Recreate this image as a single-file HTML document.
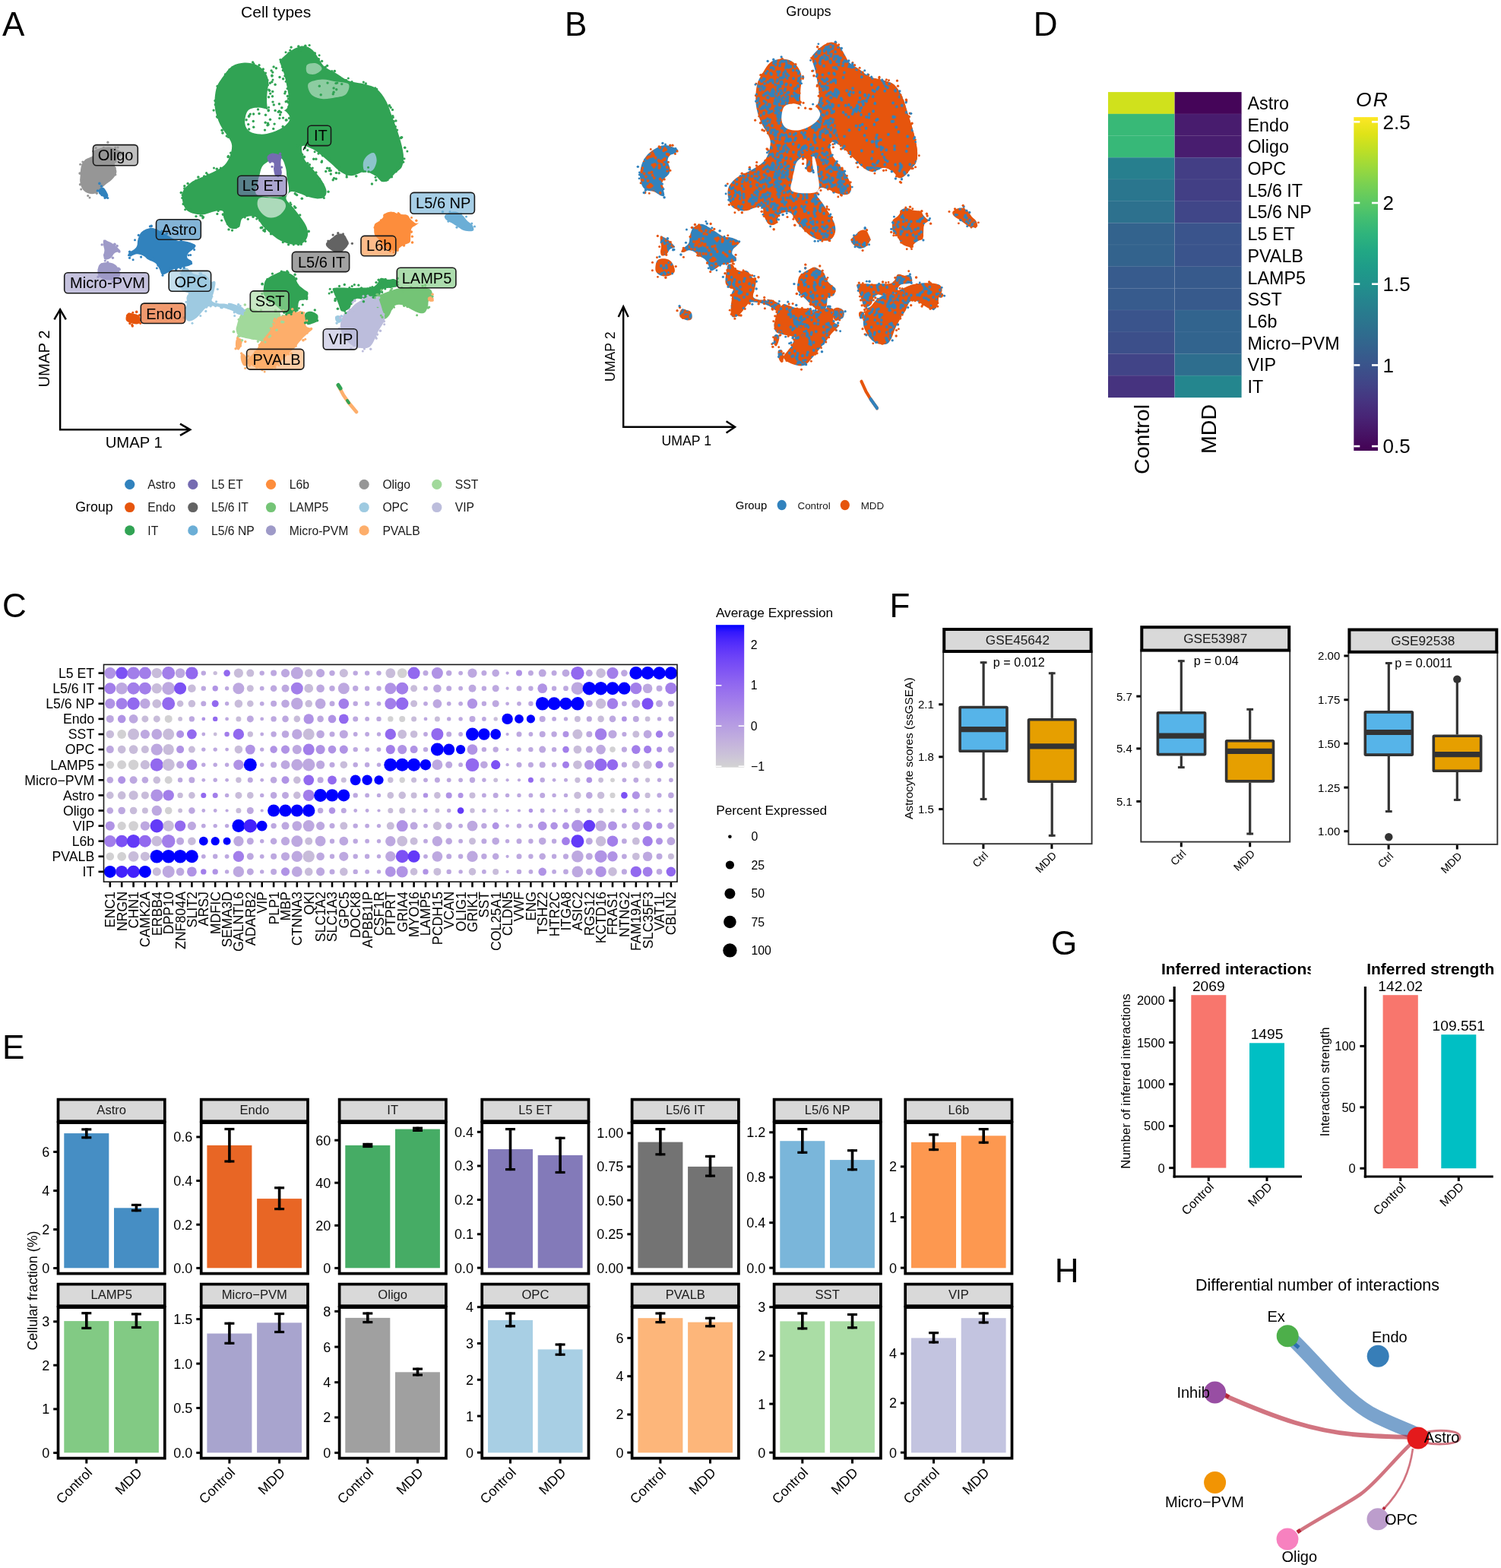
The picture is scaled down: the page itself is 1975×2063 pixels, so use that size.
<!DOCTYPE html>
<html><head><meta charset="utf-8"><style>
html,body{margin:0;padding:0;background:#fff;}
svg{display:block;font-family:"Liberation Sans",Arial,sans-serif;}
</style></head><body>
<svg xmlns="http://www.w3.org/2000/svg" width="1975" height="2063" viewBox="0 0 1975 2063">
<rect width="1975" height="2063" fill="#fff"/>
<text x="2.9" y="46.7" font-size="44">A</text>
<text x="743" y="46.6" font-size="44">B</text>
<text x="1359.8" y="46.7" font-size="44">D</text>
<text x="3" y="812.2" font-size="44">C</text>
<text x="3" y="1392.6" font-size="44">E</text>
<text x="1170.5" y="811.8" font-size="44">F</text>
<text x="1383" y="1255.5" font-size="44">G</text>
<text x="1387.8" y="1687" font-size="44">H</text>
<rect x="76.5" y="1446.6" width="140.3" height="28.6" fill="#d9d9d9" stroke="#000" stroke-width="3.7"/>
<text x="146.7" y="1465.7" font-size="16.6" text-anchor="middle" fill="#1a1a1a">Astro</text>
<rect x="76.5" y="1477.1" width="140.3" height="198.5" fill="#fff" stroke="#000" stroke-width="3.7"/>
<rect x="84.3" y="1491.1" width="59" height="177.2" fill="#468ec4"/>
<line x1="113.8" y1="1484.4" x2="113.8" y2="1498.2" stroke="#000" stroke-width="3.6"/>
<line x1="107.3" y1="1485.9" x2="120.3" y2="1485.9" stroke="#000" stroke-width="3.2"/>
<line x1="107.3" y1="1496.7" x2="120.3" y2="1496.7" stroke="#000" stroke-width="3.2"/>
<rect x="150" y="1589.3" width="58.9" height="79" fill="#468ec4"/>
<line x1="179.4" y1="1583.9" x2="179.4" y2="1594.2" stroke="#000" stroke-width="3.6"/>
<line x1="172.9" y1="1585.4" x2="185.9" y2="1585.4" stroke="#000" stroke-width="3.2"/>
<line x1="172.9" y1="1592.7" x2="185.9" y2="1592.7" stroke="#000" stroke-width="3.2"/>
<line x1="70.2" y1="1668.5" x2="75.2" y2="1668.5" stroke="#000" stroke-width="3"/>
<text x="65.3" y="1674.9" font-size="18" text-anchor="end">0</text>
<line x1="70.2" y1="1617.6" x2="75.2" y2="1617.6" stroke="#000" stroke-width="3"/>
<text x="65.3" y="1624" font-size="18" text-anchor="end">2</text>
<line x1="70.2" y1="1566.6" x2="75.2" y2="1566.6" stroke="#000" stroke-width="3"/>
<text x="65.3" y="1573" font-size="18" text-anchor="end">4</text>
<line x1="70.2" y1="1515.5" x2="75.2" y2="1515.5" stroke="#000" stroke-width="3"/>
<text x="65.3" y="1521.9" font-size="18" text-anchor="end">6</text>
<rect x="264.7" y="1446.6" width="140.3" height="28.6" fill="#d9d9d9" stroke="#000" stroke-width="3.7"/>
<text x="334.8" y="1465.7" font-size="16.6" text-anchor="middle" fill="#1a1a1a">Endo</text>
<rect x="264.7" y="1477.1" width="140.3" height="198.5" fill="#fff" stroke="#000" stroke-width="3.7"/>
<rect x="272.4" y="1506.9" width="59" height="161.4" fill="#e86625"/>
<line x1="301.9" y1="1484" x2="301.9" y2="1529.5" stroke="#000" stroke-width="3.6"/>
<line x1="295.4" y1="1485.5" x2="308.4" y2="1485.5" stroke="#000" stroke-width="3.2"/>
<line x1="295.4" y1="1528" x2="308.4" y2="1528" stroke="#000" stroke-width="3.2"/>
<rect x="338.1" y="1577.1" width="58.9" height="91.2" fill="#e86625"/>
<line x1="367.6" y1="1561.3" x2="367.6" y2="1592.1" stroke="#000" stroke-width="3.6"/>
<line x1="361.1" y1="1562.8" x2="374.1" y2="1562.8" stroke="#000" stroke-width="3.2"/>
<line x1="361.1" y1="1590.6" x2="374.1" y2="1590.6" stroke="#000" stroke-width="3.2"/>
<line x1="258.3" y1="1668.4" x2="263.3" y2="1668.4" stroke="#000" stroke-width="3"/>
<text x="253.4" y="1674.8" font-size="18" text-anchor="end">0.0</text>
<line x1="258.3" y1="1611.2" x2="263.3" y2="1611.2" stroke="#000" stroke-width="3"/>
<text x="253.4" y="1617.6" font-size="18" text-anchor="end">0.2</text>
<line x1="258.3" y1="1553.5" x2="263.3" y2="1553.5" stroke="#000" stroke-width="3"/>
<text x="253.4" y="1559.9" font-size="18" text-anchor="end">0.4</text>
<line x1="258.3" y1="1495.9" x2="263.3" y2="1495.9" stroke="#000" stroke-width="3"/>
<text x="253.4" y="1502.3" font-size="18" text-anchor="end">0.6</text>
<rect x="446.6" y="1446.6" width="140.3" height="28.6" fill="#d9d9d9" stroke="#000" stroke-width="3.7"/>
<text x="516.7" y="1465.7" font-size="16.6" text-anchor="middle" fill="#1a1a1a">IT</text>
<rect x="446.6" y="1477.1" width="140.3" height="198.5" fill="#fff" stroke="#000" stroke-width="3.7"/>
<rect x="454.3" y="1506.9" width="59" height="161.4" fill="#46ac65"/>
<line x1="483.8" y1="1503.9" x2="483.8" y2="1510" stroke="#000" stroke-width="3.6"/>
<line x1="477.3" y1="1505.4" x2="490.3" y2="1505.4" stroke="#000" stroke-width="3.2"/>
<line x1="477.3" y1="1508.5" x2="490.3" y2="1508.5" stroke="#000" stroke-width="3.2"/>
<rect x="520" y="1485.6" width="58.9" height="182.7" fill="#46ac65"/>
<line x1="549.5" y1="1482.7" x2="549.5" y2="1488.9" stroke="#000" stroke-width="3.6"/>
<line x1="543" y1="1484.2" x2="556" y2="1484.2" stroke="#000" stroke-width="3.2"/>
<line x1="543" y1="1487.4" x2="556" y2="1487.4" stroke="#000" stroke-width="3.2"/>
<line x1="440.2" y1="1668.4" x2="445.2" y2="1668.4" stroke="#000" stroke-width="3"/>
<text x="435.3" y="1674.8" font-size="18" text-anchor="end">0</text>
<line x1="440.2" y1="1612.3" x2="445.2" y2="1612.3" stroke="#000" stroke-width="3"/>
<text x="435.3" y="1618.7" font-size="18" text-anchor="end">20</text>
<line x1="440.2" y1="1556.2" x2="445.2" y2="1556.2" stroke="#000" stroke-width="3"/>
<text x="435.3" y="1562.6" font-size="18" text-anchor="end">40</text>
<line x1="440.2" y1="1500.2" x2="445.2" y2="1500.2" stroke="#000" stroke-width="3"/>
<text x="435.3" y="1506.6" font-size="18" text-anchor="end">60</text>
<rect x="634.2" y="1446.6" width="140.3" height="28.6" fill="#d9d9d9" stroke="#000" stroke-width="3.7"/>
<text x="704.4" y="1465.7" font-size="16.6" text-anchor="middle" fill="#1a1a1a">L5 ET</text>
<rect x="634.2" y="1477.1" width="140.3" height="198.5" fill="#fff" stroke="#000" stroke-width="3.7"/>
<rect x="642" y="1512" width="59" height="156.3" fill="#837ab9"/>
<line x1="671.5" y1="1484.1" x2="671.5" y2="1540.1" stroke="#000" stroke-width="3.6"/>
<line x1="665" y1="1485.6" x2="678" y2="1485.6" stroke="#000" stroke-width="3.2"/>
<line x1="665" y1="1538.6" x2="678" y2="1538.6" stroke="#000" stroke-width="3.2"/>
<rect x="707.7" y="1519.9" width="58.9" height="148.4" fill="#837ab9"/>
<line x1="737.1" y1="1495.8" x2="737.1" y2="1544" stroke="#000" stroke-width="3.6"/>
<line x1="730.6" y1="1497.3" x2="743.6" y2="1497.3" stroke="#000" stroke-width="3.2"/>
<line x1="730.6" y1="1542.5" x2="743.6" y2="1542.5" stroke="#000" stroke-width="3.2"/>
<line x1="627.9" y1="1668.1" x2="632.9" y2="1668.1" stroke="#000" stroke-width="3"/>
<text x="623" y="1674.5" font-size="18" text-anchor="end">0.0</text>
<line x1="627.9" y1="1623.8" x2="632.9" y2="1623.8" stroke="#000" stroke-width="3"/>
<text x="623" y="1630.2" font-size="18" text-anchor="end">0.1</text>
<line x1="627.9" y1="1578.5" x2="632.9" y2="1578.5" stroke="#000" stroke-width="3"/>
<text x="623" y="1584.9" font-size="18" text-anchor="end">0.2</text>
<line x1="627.9" y1="1534" x2="632.9" y2="1534" stroke="#000" stroke-width="3"/>
<text x="623" y="1540.4" font-size="18" text-anchor="end">0.3</text>
<line x1="627.9" y1="1489.3" x2="632.9" y2="1489.3" stroke="#000" stroke-width="3"/>
<text x="623" y="1495.7" font-size="18" text-anchor="end">0.4</text>
<rect x="831.6" y="1446.6" width="140.3" height="28.6" fill="#d9d9d9" stroke="#000" stroke-width="3.7"/>
<text x="901.8" y="1465.7" font-size="16.6" text-anchor="middle" fill="#1a1a1a">L5/6 IT</text>
<rect x="831.6" y="1477.1" width="140.3" height="198.5" fill="#fff" stroke="#000" stroke-width="3.7"/>
<rect x="839.4" y="1502.6" width="59" height="165.7" fill="#737373"/>
<line x1="868.9" y1="1484.1" x2="868.9" y2="1520.3" stroke="#000" stroke-width="3.6"/>
<line x1="862.4" y1="1485.6" x2="875.4" y2="1485.6" stroke="#000" stroke-width="3.2"/>
<line x1="862.4" y1="1518.8" x2="875.4" y2="1518.8" stroke="#000" stroke-width="3.2"/>
<rect x="905.1" y="1534.9" width="58.9" height="133.4" fill="#737373"/>
<line x1="934.5" y1="1519.9" x2="934.5" y2="1548.6" stroke="#000" stroke-width="3.6"/>
<line x1="928" y1="1521.4" x2="941" y2="1521.4" stroke="#000" stroke-width="3.2"/>
<line x1="928" y1="1547.1" x2="941" y2="1547.1" stroke="#000" stroke-width="3.2"/>
<line x1="825.3" y1="1668.1" x2="830.3" y2="1668.1" stroke="#000" stroke-width="3"/>
<text x="820.4" y="1674.5" font-size="18" text-anchor="end">0.00</text>
<line x1="825.3" y1="1623.8" x2="830.3" y2="1623.8" stroke="#000" stroke-width="3"/>
<text x="820.4" y="1630.2" font-size="18" text-anchor="end">0.25</text>
<line x1="825.3" y1="1579.1" x2="830.3" y2="1579.1" stroke="#000" stroke-width="3"/>
<text x="820.4" y="1585.5" font-size="18" text-anchor="end">0.50</text>
<line x1="825.3" y1="1534.9" x2="830.3" y2="1534.9" stroke="#000" stroke-width="3"/>
<text x="820.4" y="1541.3" font-size="18" text-anchor="end">0.75</text>
<line x1="825.3" y1="1490.8" x2="830.3" y2="1490.8" stroke="#000" stroke-width="3"/>
<text x="820.4" y="1497.2" font-size="18" text-anchor="end">1.00</text>
<rect x="1018.6" y="1446.6" width="140.3" height="28.6" fill="#d9d9d9" stroke="#000" stroke-width="3.7"/>
<text x="1088.7" y="1465.7" font-size="16.6" text-anchor="middle" fill="#1a1a1a">L5/6 NP</text>
<rect x="1018.6" y="1477.1" width="140.3" height="198.5" fill="#fff" stroke="#000" stroke-width="3.7"/>
<rect x="1026.3" y="1501.2" width="59" height="167.1" fill="#7ab6da"/>
<line x1="1055.8" y1="1484.1" x2="1055.8" y2="1517.8" stroke="#000" stroke-width="3.6"/>
<line x1="1049.3" y1="1485.6" x2="1062.3" y2="1485.6" stroke="#000" stroke-width="3.2"/>
<line x1="1049.3" y1="1516.3" x2="1062.3" y2="1516.3" stroke="#000" stroke-width="3.2"/>
<rect x="1092" y="1526.1" width="58.9" height="142.2" fill="#7ab6da"/>
<line x1="1121.5" y1="1512.2" x2="1121.5" y2="1540.3" stroke="#000" stroke-width="3.6"/>
<line x1="1115" y1="1513.7" x2="1128" y2="1513.7" stroke="#000" stroke-width="3.2"/>
<line x1="1115" y1="1538.8" x2="1128" y2="1538.8" stroke="#000" stroke-width="3.2"/>
<line x1="1012.2" y1="1668.1" x2="1017.2" y2="1668.1" stroke="#000" stroke-width="3"/>
<text x="1007.3" y="1674.5" font-size="18" text-anchor="end">0.0</text>
<line x1="1012.2" y1="1608.7" x2="1017.2" y2="1608.7" stroke="#000" stroke-width="3"/>
<text x="1007.3" y="1615.1" font-size="18" text-anchor="end">0.4</text>
<line x1="1012.2" y1="1549" x2="1017.2" y2="1549" stroke="#000" stroke-width="3"/>
<text x="1007.3" y="1555.4" font-size="18" text-anchor="end">0.8</text>
<line x1="1012.2" y1="1489.8" x2="1017.2" y2="1489.8" stroke="#000" stroke-width="3"/>
<text x="1007.3" y="1496.2" font-size="18" text-anchor="end">1.2</text>
<rect x="1191.2" y="1446.6" width="140.3" height="28.6" fill="#d9d9d9" stroke="#000" stroke-width="3.7"/>
<text x="1261.4" y="1465.7" font-size="16.6" text-anchor="middle" fill="#1a1a1a">L6b</text>
<rect x="1191.2" y="1477.1" width="140.3" height="198.5" fill="#fff" stroke="#000" stroke-width="3.7"/>
<rect x="1199" y="1502.8" width="59" height="165.5" fill="#fd9850"/>
<line x1="1228.5" y1="1491.4" x2="1228.5" y2="1514.1" stroke="#000" stroke-width="3.6"/>
<line x1="1222" y1="1492.9" x2="1235" y2="1492.9" stroke="#000" stroke-width="3.2"/>
<line x1="1222" y1="1512.6" x2="1235" y2="1512.6" stroke="#000" stroke-width="3.2"/>
<rect x="1264.7" y="1494.3" width="58.9" height="174" fill="#fd9850"/>
<line x1="1294.2" y1="1484.1" x2="1294.2" y2="1504.7" stroke="#000" stroke-width="3.6"/>
<line x1="1287.7" y1="1485.6" x2="1300.7" y2="1485.6" stroke="#000" stroke-width="3.2"/>
<line x1="1287.7" y1="1503.2" x2="1300.7" y2="1503.2" stroke="#000" stroke-width="3.2"/>
<line x1="1184.9" y1="1668.1" x2="1189.9" y2="1668.1" stroke="#000" stroke-width="3"/>
<text x="1180" y="1674.5" font-size="18" text-anchor="end">0</text>
<line x1="1184.9" y1="1601.6" x2="1189.9" y2="1601.6" stroke="#000" stroke-width="3"/>
<text x="1180" y="1608" font-size="18" text-anchor="end">1</text>
<line x1="1184.9" y1="1534.9" x2="1189.9" y2="1534.9" stroke="#000" stroke-width="3"/>
<text x="1180" y="1541.3" font-size="18" text-anchor="end">2</text>
<rect x="76.5" y="1689.6" width="140.3" height="28.6" fill="#d9d9d9" stroke="#000" stroke-width="3.7"/>
<text x="146.7" y="1708.7" font-size="16.6" text-anchor="middle" fill="#1a1a1a">LAMP5</text>
<rect x="76.5" y="1720.1" width="140.3" height="198.5" fill="#fff" stroke="#000" stroke-width="3.7"/>
<rect x="84.3" y="1738.1" width="59" height="173.2" fill="#82ca84"/>
<line x1="113.8" y1="1726.2" x2="113.8" y2="1748.9" stroke="#000" stroke-width="3.6"/>
<line x1="107.3" y1="1727.7" x2="120.3" y2="1727.7" stroke="#000" stroke-width="3.2"/>
<line x1="107.3" y1="1747.4" x2="120.3" y2="1747.4" stroke="#000" stroke-width="3.2"/>
<rect x="150" y="1738.1" width="58.9" height="173.2" fill="#82ca84"/>
<line x1="179.4" y1="1727.4" x2="179.4" y2="1748" stroke="#000" stroke-width="3.6"/>
<line x1="172.9" y1="1728.9" x2="185.9" y2="1728.9" stroke="#000" stroke-width="3.2"/>
<line x1="172.9" y1="1746.5" x2="185.9" y2="1746.5" stroke="#000" stroke-width="3.2"/>
<line x1="70.2" y1="1911.5" x2="75.2" y2="1911.5" stroke="#000" stroke-width="3"/>
<text x="65.3" y="1917.9" font-size="18" text-anchor="end">0</text>
<line x1="70.2" y1="1853.9" x2="75.2" y2="1853.9" stroke="#000" stroke-width="3"/>
<text x="65.3" y="1860.3" font-size="18" text-anchor="end">1</text>
<line x1="70.2" y1="1796.2" x2="75.2" y2="1796.2" stroke="#000" stroke-width="3"/>
<text x="65.3" y="1802.6" font-size="18" text-anchor="end">2</text>
<line x1="70.2" y1="1738.8" x2="75.2" y2="1738.8" stroke="#000" stroke-width="3"/>
<text x="65.3" y="1745.2" font-size="18" text-anchor="end">3</text>
<line x1="113.8" y1="1919.5" x2="113.8" y2="1925.5" stroke="#000" stroke-width="3"/>
<text x="122.3" y="1938.5" font-size="18" text-anchor="end" transform="rotate(-45 122.3 1938.5)">Control</text>
<line x1="179.4" y1="1919.5" x2="179.4" y2="1925.5" stroke="#000" stroke-width="3"/>
<text x="187.9" y="1938.5" font-size="18" text-anchor="end" transform="rotate(-45 187.9 1938.5)">MDD</text>
<rect x="264.7" y="1689.6" width="140.3" height="28.6" fill="#d9d9d9" stroke="#000" stroke-width="3.7"/>
<text x="334.8" y="1708.7" font-size="16.6" text-anchor="middle" fill="#1a1a1a">Micro−PVM</text>
<rect x="264.7" y="1720.1" width="140.3" height="198.5" fill="#fff" stroke="#000" stroke-width="3.7"/>
<rect x="272.4" y="1754.5" width="59" height="156.8" fill="#a8a4ce"/>
<line x1="301.9" y1="1739.7" x2="301.9" y2="1768.8" stroke="#000" stroke-width="3.6"/>
<line x1="295.4" y1="1741.2" x2="308.4" y2="1741.2" stroke="#000" stroke-width="3.2"/>
<line x1="295.4" y1="1767.3" x2="308.4" y2="1767.3" stroke="#000" stroke-width="3.2"/>
<rect x="338.1" y="1740.3" width="58.9" height="171" fill="#a8a4ce"/>
<line x1="367.6" y1="1727" x2="367.6" y2="1754" stroke="#000" stroke-width="3.6"/>
<line x1="361.1" y1="1728.5" x2="374.1" y2="1728.5" stroke="#000" stroke-width="3.2"/>
<line x1="361.1" y1="1752.5" x2="374.1" y2="1752.5" stroke="#000" stroke-width="3.2"/>
<line x1="258.3" y1="1911.4" x2="263.3" y2="1911.4" stroke="#000" stroke-width="3"/>
<text x="253.4" y="1917.8" font-size="18" text-anchor="end">0.0</text>
<line x1="258.3" y1="1852.5" x2="263.3" y2="1852.5" stroke="#000" stroke-width="3"/>
<text x="253.4" y="1858.9" font-size="18" text-anchor="end">0.5</text>
<line x1="258.3" y1="1794.1" x2="263.3" y2="1794.1" stroke="#000" stroke-width="3"/>
<text x="253.4" y="1800.5" font-size="18" text-anchor="end">1.0</text>
<line x1="258.3" y1="1735.6" x2="263.3" y2="1735.6" stroke="#000" stroke-width="3"/>
<text x="253.4" y="1742" font-size="18" text-anchor="end">1.5</text>
<line x1="301.9" y1="1919.5" x2="301.9" y2="1925.5" stroke="#000" stroke-width="3"/>
<text x="310.4" y="1938.5" font-size="18" text-anchor="end" transform="rotate(-45 310.4 1938.5)">Control</text>
<line x1="367.6" y1="1919.5" x2="367.6" y2="1925.5" stroke="#000" stroke-width="3"/>
<text x="376.1" y="1938.5" font-size="18" text-anchor="end" transform="rotate(-45 376.1 1938.5)">MDD</text>
<rect x="446.6" y="1689.6" width="140.3" height="28.6" fill="#d9d9d9" stroke="#000" stroke-width="3.7"/>
<text x="516.7" y="1708.7" font-size="16.6" text-anchor="middle" fill="#1a1a1a">Oligo</text>
<rect x="446.6" y="1720.1" width="140.3" height="198.5" fill="#fff" stroke="#000" stroke-width="3.7"/>
<rect x="454.3" y="1733.9" width="59" height="177.4" fill="#a0a0a0"/>
<line x1="483.8" y1="1726.5" x2="483.8" y2="1741.1" stroke="#000" stroke-width="3.6"/>
<line x1="477.3" y1="1728" x2="490.3" y2="1728" stroke="#000" stroke-width="3.2"/>
<line x1="477.3" y1="1739.6" x2="490.3" y2="1739.6" stroke="#000" stroke-width="3.2"/>
<rect x="520" y="1805.3" width="58.9" height="106" fill="#a0a0a0"/>
<line x1="549.5" y1="1799.6" x2="549.5" y2="1810.5" stroke="#000" stroke-width="3.6"/>
<line x1="543" y1="1801.1" x2="556" y2="1801.1" stroke="#000" stroke-width="3.2"/>
<line x1="543" y1="1809" x2="556" y2="1809" stroke="#000" stroke-width="3.2"/>
<line x1="440.2" y1="1911.4" x2="445.2" y2="1911.4" stroke="#000" stroke-width="3"/>
<text x="435.3" y="1917.8" font-size="18" text-anchor="end">0</text>
<line x1="440.2" y1="1864.9" x2="445.2" y2="1864.9" stroke="#000" stroke-width="3"/>
<text x="435.3" y="1871.3" font-size="18" text-anchor="end">2</text>
<line x1="440.2" y1="1818.7" x2="445.2" y2="1818.7" stroke="#000" stroke-width="3"/>
<text x="435.3" y="1825.1" font-size="18" text-anchor="end">4</text>
<line x1="440.2" y1="1772.1" x2="445.2" y2="1772.1" stroke="#000" stroke-width="3"/>
<text x="435.3" y="1778.5" font-size="18" text-anchor="end">6</text>
<line x1="440.2" y1="1725.3" x2="445.2" y2="1725.3" stroke="#000" stroke-width="3"/>
<text x="435.3" y="1731.7" font-size="18" text-anchor="end">8</text>
<line x1="483.8" y1="1919.5" x2="483.8" y2="1925.5" stroke="#000" stroke-width="3"/>
<text x="492.3" y="1938.5" font-size="18" text-anchor="end" transform="rotate(-45 492.3 1938.5)">Control</text>
<line x1="549.5" y1="1919.5" x2="549.5" y2="1925.5" stroke="#000" stroke-width="3"/>
<text x="558" y="1938.5" font-size="18" text-anchor="end" transform="rotate(-45 558 1938.5)">MDD</text>
<rect x="634.2" y="1689.6" width="140.3" height="28.6" fill="#d9d9d9" stroke="#000" stroke-width="3.7"/>
<text x="704.4" y="1708.7" font-size="16.6" text-anchor="middle" fill="#1a1a1a">OPC</text>
<rect x="634.2" y="1720.1" width="140.3" height="198.5" fill="#fff" stroke="#000" stroke-width="3.7"/>
<rect x="642" y="1736.9" width="59" height="174.4" fill="#a8cfe4"/>
<line x1="671.5" y1="1726.5" x2="671.5" y2="1746.3" stroke="#000" stroke-width="3.6"/>
<line x1="665" y1="1728" x2="678" y2="1728" stroke="#000" stroke-width="3.2"/>
<line x1="665" y1="1744.8" x2="678" y2="1744.8" stroke="#000" stroke-width="3.2"/>
<rect x="707.7" y="1775.4" width="58.9" height="135.9" fill="#a8cfe4"/>
<line x1="737.1" y1="1767.5" x2="737.1" y2="1783.7" stroke="#000" stroke-width="3.6"/>
<line x1="730.6" y1="1769" x2="743.6" y2="1769" stroke="#000" stroke-width="3.2"/>
<line x1="730.6" y1="1782.2" x2="743.6" y2="1782.2" stroke="#000" stroke-width="3.2"/>
<line x1="627.9" y1="1911.1" x2="632.9" y2="1911.1" stroke="#000" stroke-width="3"/>
<text x="623" y="1917.5" font-size="18" text-anchor="end">0</text>
<line x1="627.9" y1="1863.1" x2="632.9" y2="1863.1" stroke="#000" stroke-width="3"/>
<text x="623" y="1869.5" font-size="18" text-anchor="end">1</text>
<line x1="627.9" y1="1815.3" x2="632.9" y2="1815.3" stroke="#000" stroke-width="3"/>
<text x="623" y="1821.7" font-size="18" text-anchor="end">2</text>
<line x1="627.9" y1="1767.5" x2="632.9" y2="1767.5" stroke="#000" stroke-width="3"/>
<text x="623" y="1773.9" font-size="18" text-anchor="end">3</text>
<line x1="627.9" y1="1719.7" x2="632.9" y2="1719.7" stroke="#000" stroke-width="3"/>
<text x="623" y="1726.1" font-size="18" text-anchor="end">4</text>
<line x1="671.5" y1="1919.5" x2="671.5" y2="1925.5" stroke="#000" stroke-width="3"/>
<text x="680" y="1938.5" font-size="18" text-anchor="end" transform="rotate(-45 680 1938.5)">Control</text>
<line x1="737.1" y1="1919.5" x2="737.1" y2="1925.5" stroke="#000" stroke-width="3"/>
<text x="745.6" y="1938.5" font-size="18" text-anchor="end" transform="rotate(-45 745.6 1938.5)">MDD</text>
<rect x="831.6" y="1689.6" width="140.3" height="28.6" fill="#d9d9d9" stroke="#000" stroke-width="3.7"/>
<text x="901.8" y="1708.7" font-size="16.6" text-anchor="middle" fill="#1a1a1a">PVALB</text>
<rect x="831.6" y="1720.1" width="140.3" height="198.5" fill="#fff" stroke="#000" stroke-width="3.7"/>
<rect x="839.4" y="1734.2" width="59" height="177.1" fill="#fdb67a"/>
<line x1="868.9" y1="1726.5" x2="868.9" y2="1741.1" stroke="#000" stroke-width="3.6"/>
<line x1="862.4" y1="1728" x2="875.4" y2="1728" stroke="#000" stroke-width="3.2"/>
<line x1="862.4" y1="1739.6" x2="875.4" y2="1739.6" stroke="#000" stroke-width="3.2"/>
<rect x="905.1" y="1739.6" width="58.9" height="171.7" fill="#fdb67a"/>
<line x1="934.5" y1="1732.8" x2="934.5" y2="1746.3" stroke="#000" stroke-width="3.6"/>
<line x1="928" y1="1734.3" x2="941" y2="1734.3" stroke="#000" stroke-width="3.2"/>
<line x1="928" y1="1744.8" x2="941" y2="1744.8" stroke="#000" stroke-width="3.2"/>
<line x1="825.3" y1="1911.1" x2="830.3" y2="1911.1" stroke="#000" stroke-width="3"/>
<text x="820.4" y="1917.5" font-size="18" text-anchor="end">0</text>
<line x1="825.3" y1="1861" x2="830.3" y2="1861" stroke="#000" stroke-width="3"/>
<text x="820.4" y="1867.4" font-size="18" text-anchor="end">2</text>
<line x1="825.3" y1="1810.7" x2="830.3" y2="1810.7" stroke="#000" stroke-width="3"/>
<text x="820.4" y="1817.1" font-size="18" text-anchor="end">4</text>
<line x1="825.3" y1="1760.4" x2="830.3" y2="1760.4" stroke="#000" stroke-width="3"/>
<text x="820.4" y="1766.8" font-size="18" text-anchor="end">6</text>
<line x1="868.9" y1="1919.5" x2="868.9" y2="1925.5" stroke="#000" stroke-width="3"/>
<text x="877.4" y="1938.5" font-size="18" text-anchor="end" transform="rotate(-45 877.4 1938.5)">Control</text>
<line x1="934.5" y1="1919.5" x2="934.5" y2="1925.5" stroke="#000" stroke-width="3"/>
<text x="943" y="1938.5" font-size="18" text-anchor="end" transform="rotate(-45 943 1938.5)">MDD</text>
<rect x="1018.6" y="1689.6" width="140.3" height="28.6" fill="#d9d9d9" stroke="#000" stroke-width="3.7"/>
<text x="1088.7" y="1708.7" font-size="16.6" text-anchor="middle" fill="#1a1a1a">SST</text>
<rect x="1018.6" y="1720.1" width="140.3" height="198.5" fill="#fff" stroke="#000" stroke-width="3.7"/>
<rect x="1026.3" y="1738.4" width="59" height="172.9" fill="#aadda5"/>
<line x1="1055.8" y1="1726.5" x2="1055.8" y2="1749.4" stroke="#000" stroke-width="3.6"/>
<line x1="1049.3" y1="1728" x2="1062.3" y2="1728" stroke="#000" stroke-width="3.2"/>
<line x1="1049.3" y1="1747.9" x2="1062.3" y2="1747.9" stroke="#000" stroke-width="3.2"/>
<rect x="1092" y="1738.4" width="58.9" height="172.9" fill="#aadda5"/>
<line x1="1121.5" y1="1728" x2="1121.5" y2="1748.3" stroke="#000" stroke-width="3.6"/>
<line x1="1115" y1="1729.5" x2="1128" y2="1729.5" stroke="#000" stroke-width="3.2"/>
<line x1="1115" y1="1746.8" x2="1128" y2="1746.8" stroke="#000" stroke-width="3.2"/>
<line x1="1012.2" y1="1911.1" x2="1017.2" y2="1911.1" stroke="#000" stroke-width="3"/>
<text x="1007.3" y="1917.5" font-size="18" text-anchor="end">0</text>
<line x1="1012.2" y1="1847.1" x2="1017.2" y2="1847.1" stroke="#000" stroke-width="3"/>
<text x="1007.3" y="1853.5" font-size="18" text-anchor="end">1</text>
<line x1="1012.2" y1="1783.7" x2="1017.2" y2="1783.7" stroke="#000" stroke-width="3"/>
<text x="1007.3" y="1790.1" font-size="18" text-anchor="end">2</text>
<line x1="1012.2" y1="1719.7" x2="1017.2" y2="1719.7" stroke="#000" stroke-width="3"/>
<text x="1007.3" y="1726.1" font-size="18" text-anchor="end">3</text>
<line x1="1055.8" y1="1919.5" x2="1055.8" y2="1925.5" stroke="#000" stroke-width="3"/>
<text x="1064.3" y="1938.5" font-size="18" text-anchor="end" transform="rotate(-45 1064.3 1938.5)">Control</text>
<line x1="1121.5" y1="1919.5" x2="1121.5" y2="1925.5" stroke="#000" stroke-width="3"/>
<text x="1130" y="1938.5" font-size="18" text-anchor="end" transform="rotate(-45 1130 1938.5)">MDD</text>
<rect x="1191.2" y="1689.6" width="140.3" height="28.6" fill="#d9d9d9" stroke="#000" stroke-width="3.7"/>
<text x="1261.4" y="1708.7" font-size="16.6" text-anchor="middle" fill="#1a1a1a">VIP</text>
<rect x="1191.2" y="1720.1" width="140.3" height="198.5" fill="#fff" stroke="#000" stroke-width="3.7"/>
<rect x="1199" y="1760.4" width="59" height="150.9" fill="#c3c4e0"/>
<line x1="1228.5" y1="1752.1" x2="1228.5" y2="1767.5" stroke="#000" stroke-width="3.6"/>
<line x1="1222" y1="1753.6" x2="1235" y2="1753.6" stroke="#000" stroke-width="3.2"/>
<line x1="1222" y1="1766" x2="1235" y2="1766" stroke="#000" stroke-width="3.2"/>
<rect x="1264.7" y="1734.2" width="58.9" height="177.1" fill="#c3c4e0"/>
<line x1="1294.2" y1="1726.5" x2="1294.2" y2="1741.5" stroke="#000" stroke-width="3.6"/>
<line x1="1287.7" y1="1728" x2="1300.7" y2="1728" stroke="#000" stroke-width="3.2"/>
<line x1="1287.7" y1="1740" x2="1300.7" y2="1740" stroke="#000" stroke-width="3.2"/>
<line x1="1184.9" y1="1911.1" x2="1189.9" y2="1911.1" stroke="#000" stroke-width="3"/>
<text x="1180" y="1917.5" font-size="18" text-anchor="end">0</text>
<line x1="1184.9" y1="1846" x2="1189.9" y2="1846" stroke="#000" stroke-width="3"/>
<text x="1180" y="1852.4" font-size="18" text-anchor="end">2</text>
<line x1="1184.9" y1="1781" x2="1189.9" y2="1781" stroke="#000" stroke-width="3"/>
<text x="1180" y="1787.4" font-size="18" text-anchor="end">4</text>
<line x1="1228.5" y1="1919.5" x2="1228.5" y2="1925.5" stroke="#000" stroke-width="3"/>
<text x="1237" y="1938.5" font-size="18" text-anchor="end" transform="rotate(-45 1237 1938.5)">Control</text>
<line x1="1294.2" y1="1919.5" x2="1294.2" y2="1925.5" stroke="#000" stroke-width="3"/>
<text x="1302.7" y="1938.5" font-size="18" text-anchor="end" transform="rotate(-45 1302.7 1938.5)">MDD</text>
<text x="49" y="1698" font-size="17.9" text-anchor="middle" transform="rotate(-90 49 1698)">Cellular fraction (%)</text>
<rect x="1241.2" y="856.5" width="195.4" height="253.7" fill="#fff" stroke="#333333" stroke-width="1.9"/>
<rect x="1242.2" y="828" width="193.4" height="29" fill="#d9d9d9" stroke="#000" stroke-width="4"/>
<text x="1338.9" y="848.1" font-size="17.2" text-anchor="middle" fill="#1a1a1a">GSE45642</text>
<line x1="1294.1" y1="870.4" x2="1294.1" y2="928.7" stroke="#333333" stroke-width="3.2"/>
<line x1="1294.1" y1="990" x2="1294.1" y2="1052.7" stroke="#333333" stroke-width="3.2"/>
<line x1="1289.7" y1="871.7" x2="1298.5" y2="871.7" stroke="#333333" stroke-width="3"/>
<line x1="1289.7" y1="1051.4" x2="1298.5" y2="1051.4" stroke="#333333" stroke-width="3"/>
<rect x="1263.1" y="930.5" width="61.9" height="57.7" fill="#56b4e9" stroke="#333333" stroke-width="3.6" rx="0.8"/>
<line x1="1263.1" y1="959.6" x2="1325" y2="959.6" stroke="#333333" stroke-width="7.2"/>
<line x1="1384.2" y1="884.5" x2="1384.2" y2="944.9" stroke="#333333" stroke-width="3.2"/>
<line x1="1384.2" y1="1030.1" x2="1384.2" y2="1100.6" stroke="#333333" stroke-width="3.2"/>
<line x1="1379.8" y1="885.8" x2="1388.6" y2="885.8" stroke="#333333" stroke-width="3"/>
<line x1="1379.8" y1="1099.3" x2="1388.6" y2="1099.3" stroke="#333333" stroke-width="3"/>
<rect x="1353.5" y="946.7" width="61.5" height="81.6" fill="#e69f00" stroke="#333333" stroke-width="3.6" rx="0.8"/>
<line x1="1353.5" y1="981.8" x2="1415" y2="981.8" stroke="#333333" stroke-width="7.2"/>
<line x1="1235.2" y1="926.8" x2="1240.7" y2="926.8" stroke="#000" stroke-width="3"/>
<text x="1228.9" y="932.2" font-size="15" text-anchor="end">2.1</text>
<line x1="1235.2" y1="995.8" x2="1240.7" y2="995.8" stroke="#000" stroke-width="3"/>
<text x="1228.9" y="1001.2" font-size="15" text-anchor="end">1.8</text>
<line x1="1235.2" y1="1064.6" x2="1240.7" y2="1064.6" stroke="#000" stroke-width="3"/>
<text x="1228.9" y="1070" font-size="15" text-anchor="end">1.5</text>
<line x1="1293.9" y1="1111" x2="1293.9" y2="1116.8" stroke="#000" stroke-width="3"/>
<text x="1301.1" y="1126.5" font-size="14.2" text-anchor="end" transform="rotate(-45 1301.1 1126.5)">Ctrl</text>
<line x1="1383.9" y1="1111" x2="1383.9" y2="1116.8" stroke="#000" stroke-width="3"/>
<text x="1391.1" y="1126.5" font-size="14.2" text-anchor="end" transform="rotate(-45 1391.1 1126.5)">MDD</text>
<text x="1306.7" y="876.9" font-size="16.2">p = 0.012</text>
<rect x="1501.3" y="855.1" width="195.9" height="252.5" fill="#fff" stroke="#333333" stroke-width="1.9"/>
<rect x="1502.3" y="825.2" width="193.9" height="30.4" fill="#d9d9d9" stroke="#000" stroke-width="4"/>
<text x="1599.2" y="845.6" font-size="17.2" text-anchor="middle" fill="#1a1a1a">GSE53987</text>
<line x1="1554.3" y1="868.4" x2="1554.3" y2="935.9" stroke="#333333" stroke-width="3.2"/>
<line x1="1554.3" y1="994.4" x2="1554.3" y2="1010.9" stroke="#333333" stroke-width="3.2"/>
<line x1="1549.9" y1="869.7" x2="1558.7" y2="869.7" stroke="#333333" stroke-width="3"/>
<line x1="1549.9" y1="1009.6" x2="1558.7" y2="1009.6" stroke="#333333" stroke-width="3"/>
<rect x="1523.4" y="937.7" width="62.2" height="54.9" fill="#56b4e9" stroke="#333333" stroke-width="3.6" rx="0.8"/>
<line x1="1523.4" y1="968.2" x2="1585.6" y2="968.2" stroke="#333333" stroke-width="7.2"/>
<line x1="1644.7" y1="932" x2="1644.7" y2="972.9" stroke="#333333" stroke-width="3.2"/>
<line x1="1644.7" y1="1029.7" x2="1644.7" y2="1098.3" stroke="#333333" stroke-width="3.2"/>
<line x1="1640.3" y1="933.3" x2="1649.1" y2="933.3" stroke="#333333" stroke-width="3"/>
<line x1="1640.3" y1="1097" x2="1649.1" y2="1097" stroke="#333333" stroke-width="3"/>
<rect x="1613.6" y="974.7" width="61.9" height="53.2" fill="#e69f00" stroke="#333333" stroke-width="3.6" rx="0.8"/>
<line x1="1613.6" y1="988.3" x2="1675.5" y2="988.3" stroke="#333333" stroke-width="7.2"/>
<line x1="1495.3" y1="916.1" x2="1500.8" y2="916.1" stroke="#000" stroke-width="3"/>
<text x="1489.9" y="921.5" font-size="15" text-anchor="end">5.7</text>
<line x1="1495.3" y1="984.9" x2="1500.8" y2="984.9" stroke="#000" stroke-width="3"/>
<text x="1489.9" y="990.3" font-size="15" text-anchor="end">5.4</text>
<line x1="1495.3" y1="1054.4" x2="1500.8" y2="1054.4" stroke="#000" stroke-width="3"/>
<text x="1489.9" y="1059.8" font-size="15" text-anchor="end">5.1</text>
<line x1="1554.3" y1="1108.5" x2="1554.3" y2="1114.3" stroke="#000" stroke-width="3"/>
<text x="1561.5" y="1124" font-size="14.2" text-anchor="end" transform="rotate(-45 1561.5 1124)">Ctrl</text>
<line x1="1644.7" y1="1108.5" x2="1644.7" y2="1114.3" stroke="#000" stroke-width="3"/>
<text x="1651.9" y="1124" font-size="14.2" text-anchor="end" transform="rotate(-45 1651.9 1124)">MDD</text>
<text x="1570.8" y="874.7" font-size="16.2">p = 0.04</text>
<rect x="1774.4" y="857.3" width="195.9" height="253.6" fill="#fff" stroke="#333333" stroke-width="1.9"/>
<rect x="1775.4" y="828.5" width="193.9" height="29.3" fill="#d9d9d9" stroke="#000" stroke-width="4"/>
<text x="1872.3" y="848.8" font-size="17.2" text-anchor="middle" fill="#1a1a1a">GSE92538</text>
<line x1="1827.3" y1="871.2" x2="1827.3" y2="935.1" stroke="#333333" stroke-width="3.2"/>
<line x1="1827.3" y1="994.9" x2="1827.3" y2="1068.9" stroke="#333333" stroke-width="3.2"/>
<line x1="1822.9" y1="872.5" x2="1831.7" y2="872.5" stroke="#333333" stroke-width="3"/>
<line x1="1822.9" y1="1067.6" x2="1831.7" y2="1067.6" stroke="#333333" stroke-width="3"/>
<rect x="1796.3" y="936.9" width="62.1" height="56.2" fill="#56b4e9" stroke="#333333" stroke-width="3.6" rx="0.8"/>
<line x1="1796.3" y1="963.5" x2="1858.4" y2="963.5" stroke="#333333" stroke-width="7.2"/>
<circle cx="1827.3" cy="1101.3" r="5.2" fill="#333333"/>
<line x1="1917.3" y1="894.5" x2="1917.3" y2="966.5" stroke="#333333" stroke-width="3.2"/>
<line x1="1917.3" y1="1016" x2="1917.3" y2="1053.7" stroke="#333333" stroke-width="3.2"/>
<line x1="1912.9" y1="895.8" x2="1921.7" y2="895.8" stroke="#333333" stroke-width="3"/>
<line x1="1912.9" y1="1052.4" x2="1921.7" y2="1052.4" stroke="#333333" stroke-width="3"/>
<rect x="1886.3" y="968.3" width="62.3" height="45.9" fill="#e69f00" stroke="#333333" stroke-width="3.6" rx="0.8"/>
<line x1="1886.3" y1="992.6" x2="1948.6" y2="992.6" stroke="#333333" stroke-width="7.2"/>
<circle cx="1917.3" cy="893.6" r="5.2" fill="#333333"/>
<line x1="1768.4" y1="862.9" x2="1773.9" y2="862.9" stroke="#000" stroke-width="3"/>
<text x="1763.3" y="868.3" font-size="15" text-anchor="end">2.00</text>
<line x1="1768.4" y1="920.7" x2="1773.9" y2="920.7" stroke="#000" stroke-width="3"/>
<text x="1763.3" y="926.1" font-size="15" text-anchor="end">1.75</text>
<line x1="1768.4" y1="978.3" x2="1773.9" y2="978.3" stroke="#000" stroke-width="3"/>
<text x="1763.3" y="983.7" font-size="15" text-anchor="end">1.50</text>
<line x1="1768.4" y1="1036.1" x2="1773.9" y2="1036.1" stroke="#000" stroke-width="3"/>
<text x="1763.3" y="1041.5" font-size="15" text-anchor="end">1.25</text>
<line x1="1768.4" y1="1093.7" x2="1773.9" y2="1093.7" stroke="#000" stroke-width="3"/>
<text x="1763.3" y="1099.1" font-size="15" text-anchor="end">1.00</text>
<line x1="1827.1" y1="1111.7" x2="1827.1" y2="1117.5" stroke="#000" stroke-width="3"/>
<text x="1834.3" y="1127.2" font-size="14.2" text-anchor="end" transform="rotate(-45 1834.3 1127.2)">Ctrl</text>
<line x1="1917.3" y1="1111.7" x2="1917.3" y2="1117.5" stroke="#000" stroke-width="3"/>
<text x="1924.5" y="1127.2" font-size="14.2" text-anchor="end" transform="rotate(-45 1924.5 1127.2)">MDD</text>
<text x="1835.3" y="877.6" font-size="16.2">p = 0.0011</text>
<text x="1201" y="984.7" font-size="15.4" text-anchor="middle" transform="rotate(-90 1201 984.7)">Astrocyte scores (ssGSEA)</text>
<rect x="1567.3" y="1309.2" width="46" height="227.4" fill="#f8766d"/>
<text x="1590.3" y="1304.4" font-size="19.2" text-anchor="middle">2069</text>
<rect x="1644" y="1372.3" width="46" height="164.3" fill="#00bfc4"/>
<text x="1667" y="1367.4" font-size="19.2" text-anchor="middle">1495</text>
<line x1="1545.2" y1="1298" x2="1545.2" y2="1549.6" stroke="#000" stroke-width="3.2"/>
<line x1="1543.6" y1="1548" x2="1713" y2="1548" stroke="#000" stroke-width="3.2"/>
<line x1="1538.2" y1="1536.6" x2="1545.2" y2="1536.6" stroke="#000" stroke-width="3"/>
<text x="1532.6" y="1542.5" font-size="16.5" text-anchor="end">0</text>
<line x1="1538.2" y1="1481.5" x2="1545.2" y2="1481.5" stroke="#000" stroke-width="3"/>
<text x="1532.6" y="1487.4" font-size="16.5" text-anchor="end">500</text>
<line x1="1538.2" y1="1426.4" x2="1545.2" y2="1426.4" stroke="#000" stroke-width="3"/>
<text x="1532.6" y="1432.3" font-size="16.5" text-anchor="end">1000</text>
<line x1="1538.2" y1="1371.6" x2="1545.2" y2="1371.6" stroke="#000" stroke-width="3"/>
<text x="1532.6" y="1377.5" font-size="16.5" text-anchor="end">1500</text>
<line x1="1538.2" y1="1316.5" x2="1545.2" y2="1316.5" stroke="#000" stroke-width="3"/>
<text x="1532.6" y="1322.4" font-size="16.5" text-anchor="end">2000</text>
<line x1="1590.3" y1="1548" x2="1590.3" y2="1554" stroke="#000" stroke-width="3"/>
<text x="1598.1" y="1562.5" font-size="16.2" text-anchor="end" transform="rotate(-45 1598.1 1562.5)">Control</text>
<line x1="1667" y1="1548" x2="1667" y2="1554" stroke="#000" stroke-width="3"/>
<text x="1674.8" y="1562.5" font-size="16.2" text-anchor="end" transform="rotate(-45 1674.8 1562.5)">MDD</text>
<text x="1487.2" y="1422.5" font-size="16.8" text-anchor="middle" transform="rotate(-90 1487.2 1422.5)">Number of inferred interactions</text>
<clipPath id="gclip"><rect x="1400" y="1250" width="324.5999999999999" height="50"/></clipPath>
<g clip-path="url(#gclip)">
<text x="1527.9" y="1281.5" font-size="21" font-weight="bold">Inferred interactions</text>
</g>
<rect x="1819.6" y="1309.2" width="46.2" height="228" fill="#f8766d"/>
<text x="1842.7" y="1304.4" font-size="19.2" text-anchor="middle">142.02</text>
<rect x="1896.3" y="1361.2" width="46" height="176" fill="#00bfc4"/>
<text x="1919.3" y="1356.3" font-size="19.2" text-anchor="middle">109.551</text>
<line x1="1796.4" y1="1298" x2="1796.4" y2="1549.6" stroke="#000" stroke-width="3.2"/>
<line x1="1794.8" y1="1548" x2="1964.8" y2="1548" stroke="#000" stroke-width="3.2"/>
<line x1="1789.4" y1="1537.2" x2="1796.4" y2="1537.2" stroke="#000" stroke-width="3"/>
<text x="1783.8" y="1543.1" font-size="16.5" text-anchor="end">0</text>
<line x1="1789.4" y1="1456.8" x2="1796.4" y2="1456.8" stroke="#000" stroke-width="3"/>
<text x="1783.8" y="1462.7" font-size="16.5" text-anchor="end">50</text>
<line x1="1789.4" y1="1376.4" x2="1796.4" y2="1376.4" stroke="#000" stroke-width="3"/>
<text x="1783.8" y="1382.3" font-size="16.5" text-anchor="end">100</text>
<line x1="1842.7" y1="1548" x2="1842.7" y2="1554" stroke="#000" stroke-width="3"/>
<text x="1850.5" y="1562.5" font-size="16.2" text-anchor="end" transform="rotate(-45 1850.5 1562.5)">Control</text>
<line x1="1919.3" y1="1548" x2="1919.3" y2="1554" stroke="#000" stroke-width="3"/>
<text x="1927.1" y="1562.5" font-size="16.2" text-anchor="end" transform="rotate(-45 1927.1 1562.5)">MDD</text>
<text x="1749.2" y="1423.3" font-size="16.8" text-anchor="middle" transform="rotate(-90 1749.2 1423.3)">Interaction strength</text>
<text x="1798.2" y="1281.5" font-size="21" font-weight="bold">Inferred strength</text>
<rect x="1458" y="121.1" width="87.6" height="29" fill="#d0e11c"/>
<rect x="1545.6" y="121.1" width="88" height="29" fill="#450559"/>
<text x="1641.5" y="143.9" font-size="23.3">Astro</text>
<rect x="1458" y="149.8" width="87.6" height="29" fill="#38b977"/>
<rect x="1545.6" y="149.8" width="88" height="29" fill="#481c6e"/>
<text x="1641.5" y="172.6" font-size="23.3">Endo</text>
<rect x="1458" y="178.5" width="87.6" height="29" fill="#37b878"/>
<rect x="1545.6" y="178.5" width="88" height="29" fill="#481d6f"/>
<text x="1641.5" y="201.3" font-size="23.3">Oligo</text>
<rect x="1458" y="207.2" width="87.6" height="29" fill="#277f8e"/>
<rect x="1545.6" y="207.2" width="88" height="29" fill="#433e85"/>
<text x="1641.5" y="230" font-size="23.3">OPC</text>
<rect x="1458" y="235.9" width="87.6" height="29" fill="#2a768e"/>
<rect x="1545.6" y="235.9" width="88" height="29" fill="#423f85"/>
<text x="1641.5" y="258.7" font-size="23.3">L5/6 IT</text>
<rect x="1458" y="264.6" width="87.6" height="29" fill="#2d718e"/>
<rect x="1545.6" y="264.6" width="88" height="29" fill="#404688"/>
<text x="1641.5" y="287.4" font-size="23.3">L5/6 NP</text>
<rect x="1458" y="293.3" width="87.6" height="29" fill="#33638d"/>
<rect x="1545.6" y="293.3" width="88" height="29" fill="#3a548c"/>
<text x="1641.5" y="316.1" font-size="23.3">L5 ET</text>
<rect x="1458" y="321.9" width="87.6" height="29" fill="#33638d"/>
<rect x="1545.6" y="321.9" width="88" height="29" fill="#3a548c"/>
<text x="1641.5" y="344.8" font-size="23.3">PVALB</text>
<rect x="1458" y="350.6" width="87.6" height="29" fill="#375b8d"/>
<rect x="1545.6" y="350.6" width="88" height="29" fill="#375a8c"/>
<text x="1641.5" y="373.5" font-size="23.3">LAMP5</text>
<rect x="1458" y="379.3" width="87.6" height="29" fill="#375b8d"/>
<rect x="1545.6" y="379.3" width="88" height="29" fill="#375a8c"/>
<text x="1641.5" y="402.2" font-size="23.3">SST</text>
<rect x="1458" y="408" width="87.6" height="29" fill="#3a548c"/>
<rect x="1545.6" y="408" width="88" height="29" fill="#32648e"/>
<text x="1641.5" y="430.9" font-size="23.3">L6b</text>
<rect x="1458" y="436.7" width="87.6" height="29" fill="#3c4f8a"/>
<rect x="1545.6" y="436.7" width="88" height="29" fill="#32648e"/>
<text x="1641.5" y="459.6" font-size="23.3">Micro−PVM</text>
<rect x="1458" y="465.4" width="87.6" height="29" fill="#414487"/>
<rect x="1545.6" y="465.4" width="88" height="29" fill="#2e6e8e"/>
<text x="1641.5" y="488.3" font-size="23.3">VIP</text>
<rect x="1458" y="494.1" width="87.6" height="29" fill="#46337f"/>
<rect x="1545.6" y="494.1" width="88" height="29" fill="#24868e"/>
<text x="1641.5" y="517" font-size="23.3">IT</text>
<line x1="1458" y1="149.8" x2="1633.6" y2="149.8" stroke="rgba(255,255,255,0.08)" stroke-width="1"/>
<line x1="1458" y1="178.5" x2="1633.6" y2="178.5" stroke="rgba(255,255,255,0.08)" stroke-width="1"/>
<line x1="1458" y1="207.2" x2="1633.6" y2="207.2" stroke="rgba(255,255,255,0.08)" stroke-width="1"/>
<line x1="1458" y1="235.9" x2="1633.6" y2="235.9" stroke="rgba(255,255,255,0.08)" stroke-width="1"/>
<line x1="1458" y1="264.6" x2="1633.6" y2="264.6" stroke="rgba(255,255,255,0.08)" stroke-width="1"/>
<line x1="1458" y1="293.3" x2="1633.6" y2="293.3" stroke="rgba(255,255,255,0.08)" stroke-width="1"/>
<line x1="1458" y1="321.9" x2="1633.6" y2="321.9" stroke="rgba(255,255,255,0.08)" stroke-width="1"/>
<line x1="1458" y1="350.6" x2="1633.6" y2="350.6" stroke="rgba(255,255,255,0.08)" stroke-width="1"/>
<line x1="1458" y1="379.3" x2="1633.6" y2="379.3" stroke="rgba(255,255,255,0.08)" stroke-width="1"/>
<line x1="1458" y1="408" x2="1633.6" y2="408" stroke="rgba(255,255,255,0.08)" stroke-width="1"/>
<line x1="1458" y1="436.7" x2="1633.6" y2="436.7" stroke="rgba(255,255,255,0.08)" stroke-width="1"/>
<line x1="1458" y1="465.4" x2="1633.6" y2="465.4" stroke="rgba(255,255,255,0.08)" stroke-width="1"/>
<line x1="1458" y1="494.1" x2="1633.6" y2="494.1" stroke="rgba(255,255,255,0.08)" stroke-width="1"/>
<line x1="1545.6" y1="121.1" x2="1545.6" y2="522.8" stroke="rgba(255,255,255,0.08)" stroke-width="1"/>
<text x="1512.2" y="532" font-size="28.5" text-anchor="end" transform="rotate(-90 1512.2 532)">Control</text>
<text x="1599.9" y="532" font-size="28.5" text-anchor="end" transform="rotate(-90 1599.9 532)">MDD</text>
<defs><linearGradient id="vir" x1="0" y1="0" x2="0" y2="1"><stop offset="0.00" stop-color="#fde725"/><stop offset="0.05" stop-color="#dfe318"/><stop offset="0.10" stop-color="#bddf26"/><stop offset="0.15" stop-color="#9bd93c"/><stop offset="0.20" stop-color="#7ad151"/><stop offset="0.25" stop-color="#5ec962"/><stop offset="0.30" stop-color="#44bf70"/><stop offset="0.35" stop-color="#2fb47c"/><stop offset="0.40" stop-color="#22a884"/><stop offset="0.45" stop-color="#1e9c89"/><stop offset="0.50" stop-color="#21918c"/><stop offset="0.55" stop-color="#25848e"/><stop offset="0.60" stop-color="#2a788e"/><stop offset="0.65" stop-color="#2f6c8e"/><stop offset="0.70" stop-color="#355f8d"/><stop offset="0.75" stop-color="#3b528b"/><stop offset="0.80" stop-color="#414487"/><stop offset="0.85" stop-color="#463480"/><stop offset="0.90" stop-color="#482475"/><stop offset="0.95" stop-color="#471365"/><stop offset="1.00" stop-color="#440154"/></linearGradient></defs>
<rect x="1781.3" y="154.1" width="31.7" height="438.9" fill="url(#vir)"/>
<line x1="1781.3" y1="160.3" x2="1789.3" y2="160.3" stroke="#fff" stroke-width="2.6"/>
<line x1="1805" y1="160.3" x2="1813" y2="160.3" stroke="#fff" stroke-width="2.6"/>
<text x="1819.5" y="169.5" font-size="26">2.5</text>
<line x1="1781.3" y1="267" x2="1789.3" y2="267" stroke="#fff" stroke-width="2.6"/>
<line x1="1805" y1="267" x2="1813" y2="267" stroke="#fff" stroke-width="2.6"/>
<text x="1819.5" y="276.2" font-size="26">2</text>
<line x1="1781.3" y1="373.7" x2="1789.3" y2="373.7" stroke="#fff" stroke-width="2.6"/>
<line x1="1805" y1="373.7" x2="1813" y2="373.7" stroke="#fff" stroke-width="2.6"/>
<text x="1819.5" y="382.9" font-size="26">1.5</text>
<line x1="1781.3" y1="480.4" x2="1789.3" y2="480.4" stroke="#fff" stroke-width="2.6"/>
<line x1="1805" y1="480.4" x2="1813" y2="480.4" stroke="#fff" stroke-width="2.6"/>
<text x="1819.5" y="489.6" font-size="26">1</text>
<line x1="1781.3" y1="587.1" x2="1789.3" y2="587.1" stroke="#fff" stroke-width="2.6"/>
<line x1="1805" y1="587.1" x2="1813" y2="587.1" stroke="#fff" stroke-width="2.6"/>
<text x="1819.5" y="596.3" font-size="26">0.5</text>
<text x="1784.0" y="139.9" font-size="26.5" font-style="italic" letter-spacing="2.2">OR</text>
<circle cx="144.8" cy="885.6" r="7.5" fill="#b093e5"/>
<circle cx="160.2" cy="885.6" r="8" fill="#7c51f4"/>
<circle cx="175.6" cy="885.6" r="8.2" fill="#a27eea"/>
<circle cx="190.9" cy="885.6" r="8" fill="#a27eea"/>
<circle cx="206.3" cy="885.6" r="6.7" fill="#c8bcda"/>
<circle cx="221.7" cy="885.6" r="8.5" fill="#a27eea"/>
<circle cx="237.1" cy="885.6" r="6.4" fill="#bda8e0"/>
<circle cx="252.4" cy="885.6" r="8.2" fill="#9269ef"/>
<circle cx="267.8" cy="885.6" r="3.2" fill="#bda8e0"/>
<circle cx="283.2" cy="885.6" r="2.7" fill="#c8bcda"/>
<circle cx="298.6" cy="885.6" r="4.3" fill="#9269ef"/>
<circle cx="313.9" cy="885.6" r="6.1" fill="#c8bcda"/>
<circle cx="329.3" cy="885.6" r="5" fill="#c8bcda"/>
<circle cx="344.7" cy="885.6" r="3.2" fill="#bda8e0"/>
<circle cx="360.1" cy="885.6" r="4" fill="#bda8e0"/>
<circle cx="375.5" cy="885.6" r="5.6" fill="#bda8e0"/>
<circle cx="390.8" cy="885.6" r="8" fill="#bda8e0"/>
<circle cx="406.2" cy="885.6" r="5.3" fill="#c8bcda"/>
<circle cx="421.6" cy="885.6" r="5.6" fill="#bda8e0"/>
<circle cx="437" cy="885.6" r="3.7" fill="#bda8e0"/>
<circle cx="452.3" cy="885.6" r="5.6" fill="#c8bcda"/>
<circle cx="467.7" cy="885.6" r="3.2" fill="#bda8e0"/>
<circle cx="483.1" cy="885.6" r="3.2" fill="#bda8e0"/>
<circle cx="498.5" cy="885.6" r="3.2" fill="#bda8e0"/>
<circle cx="513.8" cy="885.6" r="6.4" fill="#c8bcda"/>
<circle cx="529.2" cy="885.6" r="6.4" fill="#d2d1d3"/>
<circle cx="544.6" cy="885.6" r="8" fill="#9269ef"/>
<circle cx="560" cy="885.6" r="3.5" fill="#bda8e0"/>
<circle cx="575.4" cy="885.6" r="7.5" fill="#b093e5"/>
<circle cx="590.7" cy="885.6" r="3.7" fill="#bda8e0"/>
<circle cx="606.1" cy="885.6" r="2.9" fill="#bda8e0"/>
<circle cx="621.5" cy="885.6" r="6.1" fill="#bda8e0"/>
<circle cx="636.9" cy="885.6" r="3.5" fill="#bda8e0"/>
<circle cx="652.2" cy="885.6" r="4.8" fill="#bda8e0"/>
<circle cx="667.6" cy="885.6" r="2.1" fill="#bda8e0"/>
<circle cx="683" cy="885.6" r="4" fill="#b093e5"/>
<circle cx="698.4" cy="885.6" r="3.5" fill="#bda8e0"/>
<circle cx="713.7" cy="885.6" r="5" fill="#bda8e0"/>
<circle cx="729.1" cy="885.6" r="3.5" fill="#bda8e0"/>
<circle cx="744.5" cy="885.6" r="4.9" fill="#bda8e0"/>
<circle cx="759.9" cy="885.6" r="8.7" fill="#9269ef"/>
<circle cx="775.3" cy="885.6" r="4.5" fill="#bda8e0"/>
<circle cx="790.6" cy="885.6" r="6.3" fill="#c8bcda"/>
<circle cx="806" cy="885.6" r="7.6" fill="#a27eea"/>
<circle cx="821.4" cy="885.6" r="4.3" fill="#bda8e0"/>
<circle cx="836.8" cy="885.6" r="8.5" fill="#0000ff"/>
<circle cx="852.1" cy="885.6" r="8.5" fill="#0000ff"/>
<circle cx="867.5" cy="885.6" r="8.3" fill="#0000ff"/>
<circle cx="882.9" cy="885.6" r="8.3" fill="#0000ff"/>
<circle cx="144.8" cy="905.7" r="7.5" fill="#a27eea"/>
<circle cx="160.2" cy="905.7" r="7.7" fill="#bda8e0"/>
<circle cx="175.6" cy="905.7" r="8" fill="#a27eea"/>
<circle cx="190.9" cy="905.7" r="8" fill="#a27eea"/>
<circle cx="206.3" cy="905.7" r="6.7" fill="#c8bcda"/>
<circle cx="221.7" cy="905.7" r="8.5" fill="#bda8e0"/>
<circle cx="237.1" cy="905.7" r="8" fill="#7c51f4"/>
<circle cx="252.4" cy="905.7" r="5.3" fill="#c8bcda"/>
<circle cx="267.8" cy="905.7" r="3.2" fill="#bda8e0"/>
<circle cx="283.2" cy="905.7" r="3.7" fill="#b093e5"/>
<circle cx="298.6" cy="905.7" r="2.7" fill="#bda8e0"/>
<circle cx="313.9" cy="905.7" r="7.5" fill="#bda8e0"/>
<circle cx="329.3" cy="905.7" r="4.5" fill="#c8bcda"/>
<circle cx="344.7" cy="905.7" r="2.9" fill="#bda8e0"/>
<circle cx="360.1" cy="905.7" r="4.3" fill="#bda8e0"/>
<circle cx="375.5" cy="905.7" r="5" fill="#bda8e0"/>
<circle cx="390.8" cy="905.7" r="8" fill="#a27eea"/>
<circle cx="406.2" cy="905.7" r="5.9" fill="#c8bcda"/>
<circle cx="421.6" cy="905.7" r="5.3" fill="#bda8e0"/>
<circle cx="437" cy="905.7" r="3.7" fill="#bda8e0"/>
<circle cx="452.3" cy="905.7" r="7.5" fill="#bda8e0"/>
<circle cx="467.7" cy="905.7" r="3.7" fill="#bda8e0"/>
<circle cx="483.1" cy="905.7" r="3.2" fill="#bda8e0"/>
<circle cx="498.5" cy="905.7" r="3.2" fill="#bda8e0"/>
<circle cx="513.8" cy="905.7" r="7.5" fill="#b093e5"/>
<circle cx="529.2" cy="905.7" r="8" fill="#a27eea"/>
<circle cx="544.6" cy="905.7" r="4.5" fill="#c8bcda"/>
<circle cx="560" cy="905.7" r="2.9" fill="#bda8e0"/>
<circle cx="575.4" cy="905.7" r="5.3" fill="#bda8e0"/>
<circle cx="590.7" cy="905.7" r="3.5" fill="#bda8e0"/>
<circle cx="606.1" cy="905.7" r="2.9" fill="#bda8e0"/>
<circle cx="621.5" cy="905.7" r="5" fill="#bda8e0"/>
<circle cx="636.9" cy="905.7" r="3.2" fill="#bda8e0"/>
<circle cx="652.2" cy="905.7" r="4.5" fill="#bda8e0"/>
<circle cx="667.6" cy="905.7" r="2.1" fill="#bda8e0"/>
<circle cx="683" cy="905.7" r="3.5" fill="#bda8e0"/>
<circle cx="698.4" cy="905.7" r="3.2" fill="#bda8e0"/>
<circle cx="713.7" cy="905.7" r="6.4" fill="#b093e5"/>
<circle cx="729.1" cy="905.7" r="3.2" fill="#bda8e0"/>
<circle cx="744.5" cy="905.7" r="3.4" fill="#bda8e0"/>
<circle cx="759.9" cy="905.7" r="8.3" fill="#bda8e0"/>
<circle cx="775.3" cy="905.7" r="8.7" fill="#0000ff"/>
<circle cx="790.6" cy="905.7" r="8.7" fill="#0000ff"/>
<circle cx="806" cy="905.7" r="8.5" fill="#0000ff"/>
<circle cx="821.4" cy="905.7" r="8.1" fill="#0000ff"/>
<circle cx="836.8" cy="905.7" r="7.6" fill="#a27eea"/>
<circle cx="852.1" cy="905.7" r="6.3" fill="#bda8e0"/>
<circle cx="867.5" cy="905.7" r="4" fill="#bda8e0"/>
<circle cx="882.9" cy="905.7" r="7.6" fill="#a27eea"/>
<circle cx="144.8" cy="925.8" r="6.7" fill="#b093e5"/>
<circle cx="160.2" cy="925.8" r="7.5" fill="#a27eea"/>
<circle cx="175.6" cy="925.8" r="8.2" fill="#9269ef"/>
<circle cx="190.9" cy="925.8" r="6.7" fill="#bda8e0"/>
<circle cx="206.3" cy="925.8" r="5.9" fill="#c8bcda"/>
<circle cx="221.7" cy="925.8" r="8.5" fill="#9269ef"/>
<circle cx="237.1" cy="925.8" r="4.3" fill="#c8bcda"/>
<circle cx="252.4" cy="925.8" r="4.8" fill="#c8bcda"/>
<circle cx="267.8" cy="925.8" r="3.5" fill="#bda8e0"/>
<circle cx="283.2" cy="925.8" r="4.5" fill="#9269ef"/>
<circle cx="298.6" cy="925.8" r="2.7" fill="#bda8e0"/>
<circle cx="313.9" cy="925.8" r="5.3" fill="#c8bcda"/>
<circle cx="329.3" cy="925.8" r="4.3" fill="#c8bcda"/>
<circle cx="344.7" cy="925.8" r="2.9" fill="#bda8e0"/>
<circle cx="360.1" cy="925.8" r="4" fill="#bda8e0"/>
<circle cx="375.5" cy="925.8" r="5.3" fill="#bda8e0"/>
<circle cx="390.8" cy="925.8" r="7.7" fill="#bda8e0"/>
<circle cx="406.2" cy="925.8" r="4.8" fill="#c8bcda"/>
<circle cx="421.6" cy="925.8" r="6.9" fill="#bda8e0"/>
<circle cx="437" cy="925.8" r="3.5" fill="#bda8e0"/>
<circle cx="452.3" cy="925.8" r="6.9" fill="#a27eea"/>
<circle cx="467.7" cy="925.8" r="3.2" fill="#bda8e0"/>
<circle cx="483.1" cy="925.8" r="3.2" fill="#bda8e0"/>
<circle cx="498.5" cy="925.8" r="2.9" fill="#bda8e0"/>
<circle cx="513.8" cy="925.8" r="7.5" fill="#a27eea"/>
<circle cx="529.2" cy="925.8" r="8.2" fill="#9269ef"/>
<circle cx="544.6" cy="925.8" r="4.5" fill="#c8bcda"/>
<circle cx="560" cy="925.8" r="2.9" fill="#bda8e0"/>
<circle cx="575.4" cy="925.8" r="5.9" fill="#bda8e0"/>
<circle cx="590.7" cy="925.8" r="2.9" fill="#bda8e0"/>
<circle cx="606.1" cy="925.8" r="2.9" fill="#bda8e0"/>
<circle cx="621.5" cy="925.8" r="6.7" fill="#b093e5"/>
<circle cx="636.9" cy="925.8" r="3.2" fill="#bda8e0"/>
<circle cx="652.2" cy="925.8" r="4.5" fill="#bda8e0"/>
<circle cx="667.6" cy="925.8" r="2.4" fill="#bda8e0"/>
<circle cx="683" cy="925.8" r="2.9" fill="#bda8e0"/>
<circle cx="698.4" cy="925.8" r="3.2" fill="#bda8e0"/>
<circle cx="713.7" cy="925.8" r="8.8" fill="#0000ff"/>
<circle cx="729.1" cy="925.8" r="8.5" fill="#0000ff"/>
<circle cx="744.5" cy="925.8" r="8.1" fill="#0000ff"/>
<circle cx="759.9" cy="925.8" r="8.7" fill="#0000ff"/>
<circle cx="775.3" cy="925.8" r="4.5" fill="#bda8e0"/>
<circle cx="790.6" cy="925.8" r="6.7" fill="#c8bcda"/>
<circle cx="806" cy="925.8" r="7.2" fill="#a27eea"/>
<circle cx="821.4" cy="925.8" r="3.4" fill="#bda8e0"/>
<circle cx="836.8" cy="925.8" r="5.6" fill="#bda8e0"/>
<circle cx="852.1" cy="925.8" r="7.6" fill="#7c51f4"/>
<circle cx="867.5" cy="925.8" r="4.5" fill="#bda8e0"/>
<circle cx="882.9" cy="925.8" r="4" fill="#bda8e0"/>
<circle cx="144.8" cy="945.9" r="5" fill="#bda8e0"/>
<circle cx="160.2" cy="945.9" r="5.3" fill="#b093e5"/>
<circle cx="175.6" cy="945.9" r="5.9" fill="#bda8e0"/>
<circle cx="190.9" cy="945.9" r="4.5" fill="#c8bcda"/>
<circle cx="206.3" cy="945.9" r="4.5" fill="#c8bcda"/>
<circle cx="221.7" cy="945.9" r="5" fill="#d2d1d3"/>
<circle cx="237.1" cy="945.9" r="2.9" fill="#c8bcda"/>
<circle cx="252.4" cy="945.9" r="3.7" fill="#bda8e0"/>
<circle cx="267.8" cy="945.9" r="2.4" fill="#b093e5"/>
<circle cx="283.2" cy="945.9" r="3.2" fill="#9269ef"/>
<circle cx="298.6" cy="945.9" r="2.4" fill="#bda8e0"/>
<circle cx="313.9" cy="945.9" r="3.5" fill="#c8bcda"/>
<circle cx="329.3" cy="945.9" r="4.5" fill="#bda8e0"/>
<circle cx="344.7" cy="945.9" r="2.4" fill="#bda8e0"/>
<circle cx="360.1" cy="945.9" r="3.7" fill="#bda8e0"/>
<circle cx="375.5" cy="945.9" r="4.3" fill="#bda8e0"/>
<circle cx="390.8" cy="945.9" r="4.3" fill="#c8bcda"/>
<circle cx="406.2" cy="945.9" r="6.7" fill="#b093e5"/>
<circle cx="421.6" cy="945.9" r="4.3" fill="#bda8e0"/>
<circle cx="437" cy="945.9" r="5.3" fill="#b093e5"/>
<circle cx="452.3" cy="945.9" r="6.4" fill="#9269ef"/>
<circle cx="467.7" cy="945.9" r="3.5" fill="#bda8e0"/>
<circle cx="483.1" cy="945.9" r="2.9" fill="#bda8e0"/>
<circle cx="498.5" cy="945.9" r="3.2" fill="#bda8e0"/>
<circle cx="513.8" cy="945.9" r="3.7" fill="#d2d1d3"/>
<circle cx="529.2" cy="945.9" r="4" fill="#d2d1d3"/>
<circle cx="544.6" cy="945.9" r="3.5" fill="#c8bcda"/>
<circle cx="560" cy="945.9" r="2.4" fill="#bda8e0"/>
<circle cx="575.4" cy="945.9" r="3.5" fill="#c8bcda"/>
<circle cx="590.7" cy="945.9" r="2.7" fill="#bda8e0"/>
<circle cx="606.1" cy="945.9" r="2.7" fill="#bda8e0"/>
<circle cx="621.5" cy="945.9" r="4" fill="#bda8e0"/>
<circle cx="636.9" cy="945.9" r="2.9" fill="#bda8e0"/>
<circle cx="652.2" cy="945.9" r="2.7" fill="#c8bcda"/>
<circle cx="667.6" cy="945.9" r="7.2" fill="#0000ff"/>
<circle cx="683" cy="945.9" r="5.9" fill="#0000ff"/>
<circle cx="698.4" cy="945.9" r="5.6" fill="#0000ff"/>
<circle cx="713.7" cy="945.9" r="4" fill="#bda8e0"/>
<circle cx="729.1" cy="945.9" r="2.9" fill="#bda8e0"/>
<circle cx="744.5" cy="945.9" r="2.7" fill="#bda8e0"/>
<circle cx="759.9" cy="945.9" r="4" fill="#c8bcda"/>
<circle cx="775.3" cy="945.9" r="3.6" fill="#bda8e0"/>
<circle cx="790.6" cy="945.9" r="4.3" fill="#c8bcda"/>
<circle cx="806" cy="945.9" r="4.3" fill="#bda8e0"/>
<circle cx="821.4" cy="945.9" r="3.4" fill="#b093e5"/>
<circle cx="836.8" cy="945.9" r="4" fill="#bda8e0"/>
<circle cx="852.1" cy="945.9" r="3.4" fill="#c8bcda"/>
<circle cx="867.5" cy="945.9" r="2.7" fill="#bda8e0"/>
<circle cx="882.9" cy="945.9" r="3.4" fill="#bda8e0"/>
<circle cx="144.8" cy="966" r="5.3" fill="#c8bcda"/>
<circle cx="160.2" cy="966" r="5.9" fill="#d2d1d3"/>
<circle cx="175.6" cy="966" r="7.5" fill="#c8bcda"/>
<circle cx="190.9" cy="966" r="6.1" fill="#bda8e0"/>
<circle cx="206.3" cy="966" r="6.9" fill="#bda8e0"/>
<circle cx="221.7" cy="966" r="7.5" fill="#c8bcda"/>
<circle cx="237.1" cy="966" r="5" fill="#b093e5"/>
<circle cx="252.4" cy="966" r="6.4" fill="#9269ef"/>
<circle cx="267.8" cy="966" r="2.4" fill="#bda8e0"/>
<circle cx="283.2" cy="966" r="2.4" fill="#c8bcda"/>
<circle cx="298.6" cy="966" r="3.2" fill="#a27eea"/>
<circle cx="313.9" cy="966" r="7.2" fill="#9269ef"/>
<circle cx="329.3" cy="966" r="3.7" fill="#c8bcda"/>
<circle cx="344.7" cy="966" r="2.4" fill="#bda8e0"/>
<circle cx="360.1" cy="966" r="3.7" fill="#bda8e0"/>
<circle cx="375.5" cy="966" r="4.8" fill="#bda8e0"/>
<circle cx="390.8" cy="966" r="6.7" fill="#bda8e0"/>
<circle cx="406.2" cy="966" r="7.5" fill="#c8bcda"/>
<circle cx="421.6" cy="966" r="5.3" fill="#bda8e0"/>
<circle cx="437" cy="966" r="3.5" fill="#bda8e0"/>
<circle cx="452.3" cy="966" r="5.6" fill="#bda8e0"/>
<circle cx="467.7" cy="966" r="2.9" fill="#bda8e0"/>
<circle cx="483.1" cy="966" r="2.9" fill="#bda8e0"/>
<circle cx="498.5" cy="966" r="2.7" fill="#bda8e0"/>
<circle cx="513.8" cy="966" r="7.2" fill="#9269ef"/>
<circle cx="529.2" cy="966" r="5.9" fill="#c8bcda"/>
<circle cx="544.6" cy="966" r="4.8" fill="#c8bcda"/>
<circle cx="560" cy="966" r="2.9" fill="#bda8e0"/>
<circle cx="575.4" cy="966" r="8" fill="#9269ef"/>
<circle cx="590.7" cy="966" r="3.5" fill="#bda8e0"/>
<circle cx="606.1" cy="966" r="2.9" fill="#bda8e0"/>
<circle cx="621.5" cy="966" r="8.5" fill="#0000ff"/>
<circle cx="636.9" cy="966" r="7.7" fill="#0000ff"/>
<circle cx="652.2" cy="966" r="6.9" fill="#0000ff"/>
<circle cx="667.6" cy="966" r="2.1" fill="#bda8e0"/>
<circle cx="683" cy="966" r="3.5" fill="#bda8e0"/>
<circle cx="698.4" cy="966" r="2.9" fill="#bda8e0"/>
<circle cx="713.7" cy="966" r="4" fill="#bda8e0"/>
<circle cx="729.1" cy="966" r="3.7" fill="#bda8e0"/>
<circle cx="744.5" cy="966" r="4" fill="#b093e5"/>
<circle cx="759.9" cy="966" r="6.5" fill="#c8bcda"/>
<circle cx="775.3" cy="966" r="4" fill="#bda8e0"/>
<circle cx="790.6" cy="966" r="7.8" fill="#a27eea"/>
<circle cx="806" cy="966" r="5.6" fill="#bda8e0"/>
<circle cx="821.4" cy="966" r="3.1" fill="#bda8e0"/>
<circle cx="836.8" cy="966" r="4.5" fill="#c8bcda"/>
<circle cx="852.1" cy="966" r="5.4" fill="#bda8e0"/>
<circle cx="867.5" cy="966" r="4.7" fill="#a27eea"/>
<circle cx="882.9" cy="966" r="4.3" fill="#bda8e0"/>
<circle cx="144.8" cy="986.1" r="5" fill="#bda8e0"/>
<circle cx="160.2" cy="986.1" r="5.3" fill="#c8bcda"/>
<circle cx="175.6" cy="986.1" r="5.9" fill="#c8bcda"/>
<circle cx="190.9" cy="986.1" r="5" fill="#c8bcda"/>
<circle cx="206.3" cy="986.1" r="7.7" fill="#bda8e0"/>
<circle cx="221.7" cy="986.1" r="7.2" fill="#c8bcda"/>
<circle cx="237.1" cy="986.1" r="5" fill="#b093e5"/>
<circle cx="252.4" cy="986.1" r="4.5" fill="#c8bcda"/>
<circle cx="267.8" cy="986.1" r="2.7" fill="#bda8e0"/>
<circle cx="283.2" cy="986.1" r="2.7" fill="#bda8e0"/>
<circle cx="298.6" cy="986.1" r="2.4" fill="#bda8e0"/>
<circle cx="313.9" cy="986.1" r="5.3" fill="#c8bcda"/>
<circle cx="329.3" cy="986.1" r="6.4" fill="#b093e5"/>
<circle cx="344.7" cy="986.1" r="2.7" fill="#bda8e0"/>
<circle cx="360.1" cy="986.1" r="4.8" fill="#b093e5"/>
<circle cx="375.5" cy="986.1" r="5.6" fill="#b093e5"/>
<circle cx="390.8" cy="986.1" r="6.1" fill="#bda8e0"/>
<circle cx="406.2" cy="986.1" r="7.5" fill="#a27eea"/>
<circle cx="421.6" cy="986.1" r="6.1" fill="#b093e5"/>
<circle cx="437" cy="986.1" r="5.3" fill="#b093e5"/>
<circle cx="452.3" cy="986.1" r="5.6" fill="#b093e5"/>
<circle cx="467.7" cy="986.1" r="3.2" fill="#bda8e0"/>
<circle cx="483.1" cy="986.1" r="2.9" fill="#bda8e0"/>
<circle cx="498.5" cy="986.1" r="2.9" fill="#bda8e0"/>
<circle cx="513.8" cy="986.1" r="6.1" fill="#a27eea"/>
<circle cx="529.2" cy="986.1" r="6.1" fill="#b093e5"/>
<circle cx="544.6" cy="986.1" r="5" fill="#b093e5"/>
<circle cx="560" cy="986.1" r="3.2" fill="#bda8e0"/>
<circle cx="575.4" cy="986.1" r="8.5" fill="#0000ff"/>
<circle cx="590.7" cy="986.1" r="7.5" fill="#0000ff"/>
<circle cx="606.1" cy="986.1" r="6.1" fill="#0000ff"/>
<circle cx="621.5" cy="986.1" r="6.9" fill="#b093e5"/>
<circle cx="636.9" cy="986.1" r="3.2" fill="#bda8e0"/>
<circle cx="652.2" cy="986.1" r="3.7" fill="#bda8e0"/>
<circle cx="667.6" cy="986.1" r="2.1" fill="#bda8e0"/>
<circle cx="683" cy="986.1" r="2.9" fill="#bda8e0"/>
<circle cx="698.4" cy="986.1" r="3.2" fill="#bda8e0"/>
<circle cx="713.7" cy="986.1" r="4.5" fill="#bda8e0"/>
<circle cx="729.1" cy="986.1" r="3.2" fill="#bda8e0"/>
<circle cx="744.5" cy="986.1" r="4.3" fill="#a27eea"/>
<circle cx="759.9" cy="986.1" r="5.4" fill="#c8bcda"/>
<circle cx="775.3" cy="986.1" r="4.5" fill="#bda8e0"/>
<circle cx="790.6" cy="986.1" r="6.3" fill="#bda8e0"/>
<circle cx="806" cy="986.1" r="3.8" fill="#d2d1d3"/>
<circle cx="821.4" cy="986.1" r="3.6" fill="#bda8e0"/>
<circle cx="836.8" cy="986.1" r="5.8" fill="#a27eea"/>
<circle cx="852.1" cy="986.1" r="5.1" fill="#a27eea"/>
<circle cx="867.5" cy="986.1" r="3.6" fill="#b093e5"/>
<circle cx="882.9" cy="986.1" r="4.3" fill="#bda8e0"/>
<circle cx="144.8" cy="1006.2" r="5.3" fill="#d2d1d3"/>
<circle cx="160.2" cy="1006.2" r="5.9" fill="#d2d1d3"/>
<circle cx="175.6" cy="1006.2" r="6.7" fill="#d2d1d3"/>
<circle cx="190.9" cy="1006.2" r="6.1" fill="#c8bcda"/>
<circle cx="206.3" cy="1006.2" r="8.5" fill="#9269ef"/>
<circle cx="221.7" cy="1006.2" r="8" fill="#c8bcda"/>
<circle cx="237.1" cy="1006.2" r="5" fill="#bda8e0"/>
<circle cx="252.4" cy="1006.2" r="6.9" fill="#a27eea"/>
<circle cx="267.8" cy="1006.2" r="2.7" fill="#bda8e0"/>
<circle cx="283.2" cy="1006.2" r="2.7" fill="#bda8e0"/>
<circle cx="298.6" cy="1006.2" r="2.7" fill="#bda8e0"/>
<circle cx="313.9" cy="1006.2" r="6.7" fill="#b093e5"/>
<circle cx="329.3" cy="1006.2" r="8.5" fill="#0000ff"/>
<circle cx="344.7" cy="1006.2" r="2.7" fill="#bda8e0"/>
<circle cx="360.1" cy="1006.2" r="4" fill="#bda8e0"/>
<circle cx="375.5" cy="1006.2" r="5.9" fill="#bda8e0"/>
<circle cx="390.8" cy="1006.2" r="7.5" fill="#bda8e0"/>
<circle cx="406.2" cy="1006.2" r="8.2" fill="#bda8e0"/>
<circle cx="421.6" cy="1006.2" r="5.6" fill="#bda8e0"/>
<circle cx="437" cy="1006.2" r="3.5" fill="#bda8e0"/>
<circle cx="452.3" cy="1006.2" r="4.8" fill="#c8bcda"/>
<circle cx="467.7" cy="1006.2" r="3.2" fill="#bda8e0"/>
<circle cx="483.1" cy="1006.2" r="3.2" fill="#bda8e0"/>
<circle cx="498.5" cy="1006.2" r="2.7" fill="#bda8e0"/>
<circle cx="513.8" cy="1006.2" r="8.5" fill="#0000ff"/>
<circle cx="529.2" cy="1006.2" r="8.5" fill="#0000ff"/>
<circle cx="544.6" cy="1006.2" r="8.5" fill="#0000ff"/>
<circle cx="560" cy="1006.2" r="7.2" fill="#0000ff"/>
<circle cx="575.4" cy="1006.2" r="6.9" fill="#bda8e0"/>
<circle cx="590.7" cy="1006.2" r="4.5" fill="#bda8e0"/>
<circle cx="606.1" cy="1006.2" r="2.9" fill="#bda8e0"/>
<circle cx="621.5" cy="1006.2" r="8.8" fill="#9269ef"/>
<circle cx="636.9" cy="1006.2" r="4.8" fill="#bda8e0"/>
<circle cx="652.2" cy="1006.2" r="6.1" fill="#7c51f4"/>
<circle cx="667.6" cy="1006.2" r="2.1" fill="#bda8e0"/>
<circle cx="683" cy="1006.2" r="3.5" fill="#bda8e0"/>
<circle cx="698.4" cy="1006.2" r="3.5" fill="#bda8e0"/>
<circle cx="713.7" cy="1006.2" r="4" fill="#bda8e0"/>
<circle cx="729.1" cy="1006.2" r="3.2" fill="#bda8e0"/>
<circle cx="744.5" cy="1006.2" r="4.5" fill="#a27eea"/>
<circle cx="759.9" cy="1006.2" r="5.8" fill="#c8bcda"/>
<circle cx="775.3" cy="1006.2" r="6.3" fill="#b093e5"/>
<circle cx="790.6" cy="1006.2" r="8.1" fill="#9269ef"/>
<circle cx="806" cy="1006.2" r="7.2" fill="#9269ef"/>
<circle cx="821.4" cy="1006.2" r="3.6" fill="#bda8e0"/>
<circle cx="836.8" cy="1006.2" r="5.1" fill="#c8bcda"/>
<circle cx="852.1" cy="1006.2" r="5.6" fill="#c8bcda"/>
<circle cx="867.5" cy="1006.2" r="4.9" fill="#a27eea"/>
<circle cx="882.9" cy="1006.2" r="3.8" fill="#bda8e0"/>
<circle cx="144.8" cy="1026.3" r="4.3" fill="#bda8e0"/>
<circle cx="160.2" cy="1026.3" r="5" fill="#b093e5"/>
<circle cx="175.6" cy="1026.3" r="5" fill="#bda8e0"/>
<circle cx="190.9" cy="1026.3" r="4.3" fill="#bda8e0"/>
<circle cx="206.3" cy="1026.3" r="4.8" fill="#c8bcda"/>
<circle cx="221.7" cy="1026.3" r="5" fill="#d2d1d3"/>
<circle cx="237.1" cy="1026.3" r="3.2" fill="#bda8e0"/>
<circle cx="252.4" cy="1026.3" r="4" fill="#bda8e0"/>
<circle cx="267.8" cy="1026.3" r="2.4" fill="#bda8e0"/>
<circle cx="283.2" cy="1026.3" r="2.7" fill="#bda8e0"/>
<circle cx="298.6" cy="1026.3" r="2.4" fill="#bda8e0"/>
<circle cx="313.9" cy="1026.3" r="3.7" fill="#c8bcda"/>
<circle cx="329.3" cy="1026.3" r="3.5" fill="#bda8e0"/>
<circle cx="344.7" cy="1026.3" r="2.4" fill="#bda8e0"/>
<circle cx="360.1" cy="1026.3" r="4.3" fill="#bda8e0"/>
<circle cx="375.5" cy="1026.3" r="5" fill="#b093e5"/>
<circle cx="390.8" cy="1026.3" r="4.8" fill="#c8bcda"/>
<circle cx="406.2" cy="1026.3" r="6.9" fill="#9269ef"/>
<circle cx="421.6" cy="1026.3" r="4" fill="#bda8e0"/>
<circle cx="437" cy="1026.3" r="5.9" fill="#9269ef"/>
<circle cx="452.3" cy="1026.3" r="3.5" fill="#c8bcda"/>
<circle cx="467.7" cy="1026.3" r="6.9" fill="#0000ff"/>
<circle cx="483.1" cy="1026.3" r="6.7" fill="#0000ff"/>
<circle cx="498.5" cy="1026.3" r="6.1" fill="#0000ff"/>
<circle cx="513.8" cy="1026.3" r="3.7" fill="#c8bcda"/>
<circle cx="529.2" cy="1026.3" r="3.7" fill="#d2d1d3"/>
<circle cx="544.6" cy="1026.3" r="3.5" fill="#c8bcda"/>
<circle cx="560" cy="1026.3" r="2.9" fill="#bda8e0"/>
<circle cx="575.4" cy="1026.3" r="3.5" fill="#bda8e0"/>
<circle cx="590.7" cy="1026.3" r="2.9" fill="#bda8e0"/>
<circle cx="606.1" cy="1026.3" r="2.9" fill="#bda8e0"/>
<circle cx="621.5" cy="1026.3" r="3.7" fill="#bda8e0"/>
<circle cx="636.9" cy="1026.3" r="2.7" fill="#bda8e0"/>
<circle cx="652.2" cy="1026.3" r="2.9" fill="#c8bcda"/>
<circle cx="667.6" cy="1026.3" r="2.1" fill="#bda8e0"/>
<circle cx="683" cy="1026.3" r="2.1" fill="#bda8e0"/>
<circle cx="698.4" cy="1026.3" r="3.5" fill="#9269ef"/>
<circle cx="713.7" cy="1026.3" r="3.2" fill="#bda8e0"/>
<circle cx="729.1" cy="1026.3" r="2.4" fill="#bda8e0"/>
<circle cx="744.5" cy="1026.3" r="2.5" fill="#bda8e0"/>
<circle cx="759.9" cy="1026.3" r="3.6" fill="#c8bcda"/>
<circle cx="775.3" cy="1026.3" r="3.8" fill="#b093e5"/>
<circle cx="790.6" cy="1026.3" r="3.4" fill="#c8bcda"/>
<circle cx="806" cy="1026.3" r="2.9" fill="#d2d1d3"/>
<circle cx="821.4" cy="1026.3" r="2.9" fill="#bda8e0"/>
<circle cx="836.8" cy="1026.3" r="3.4" fill="#bda8e0"/>
<circle cx="852.1" cy="1026.3" r="3.1" fill="#c8bcda"/>
<circle cx="867.5" cy="1026.3" r="2.7" fill="#bda8e0"/>
<circle cx="882.9" cy="1026.3" r="2.9" fill="#bda8e0"/>
<circle cx="144.8" cy="1046.4" r="4.8" fill="#c8bcda"/>
<circle cx="160.2" cy="1046.4" r="5.3" fill="#c8bcda"/>
<circle cx="175.6" cy="1046.4" r="6.1" fill="#c8bcda"/>
<circle cx="190.9" cy="1046.4" r="5" fill="#c8bcda"/>
<circle cx="206.3" cy="1046.4" r="8" fill="#b093e5"/>
<circle cx="221.7" cy="1046.4" r="7.2" fill="#a27eea"/>
<circle cx="237.1" cy="1046.4" r="3.7" fill="#c8bcda"/>
<circle cx="252.4" cy="1046.4" r="4.3" fill="#c8bcda"/>
<circle cx="267.8" cy="1046.4" r="3.5" fill="#9269ef"/>
<circle cx="283.2" cy="1046.4" r="3.5" fill="#a27eea"/>
<circle cx="298.6" cy="1046.4" r="2.7" fill="#bda8e0"/>
<circle cx="313.9" cy="1046.4" r="4.5" fill="#c8bcda"/>
<circle cx="329.3" cy="1046.4" r="4.3" fill="#c8bcda"/>
<circle cx="344.7" cy="1046.4" r="2.7" fill="#bda8e0"/>
<circle cx="360.1" cy="1046.4" r="4.3" fill="#bda8e0"/>
<circle cx="375.5" cy="1046.4" r="4.5" fill="#bda8e0"/>
<circle cx="390.8" cy="1046.4" r="4.8" fill="#c8bcda"/>
<circle cx="406.2" cy="1046.4" r="7.5" fill="#a27eea"/>
<circle cx="421.6" cy="1046.4" r="8.5" fill="#0000ff"/>
<circle cx="437" cy="1046.4" r="8.2" fill="#0000ff"/>
<circle cx="452.3" cy="1046.4" r="8" fill="#0000ff"/>
<circle cx="467.7" cy="1046.4" r="3.2" fill="#bda8e0"/>
<circle cx="483.1" cy="1046.4" r="2.9" fill="#bda8e0"/>
<circle cx="498.5" cy="1046.4" r="2.7" fill="#bda8e0"/>
<circle cx="513.8" cy="1046.4" r="4.3" fill="#c8bcda"/>
<circle cx="529.2" cy="1046.4" r="4.8" fill="#c8bcda"/>
<circle cx="544.6" cy="1046.4" r="4" fill="#c8bcda"/>
<circle cx="560" cy="1046.4" r="3.2" fill="#b093e5"/>
<circle cx="575.4" cy="1046.4" r="4.3" fill="#c8bcda"/>
<circle cx="590.7" cy="1046.4" r="4" fill="#b093e5"/>
<circle cx="606.1" cy="1046.4" r="3.5" fill="#b093e5"/>
<circle cx="621.5" cy="1046.4" r="4" fill="#c8bcda"/>
<circle cx="636.9" cy="1046.4" r="2.9" fill="#bda8e0"/>
<circle cx="652.2" cy="1046.4" r="3.5" fill="#bda8e0"/>
<circle cx="667.6" cy="1046.4" r="2.7" fill="#bda8e0"/>
<circle cx="683" cy="1046.4" r="2.7" fill="#bda8e0"/>
<circle cx="698.4" cy="1046.4" r="2.9" fill="#bda8e0"/>
<circle cx="713.7" cy="1046.4" r="3.5" fill="#bda8e0"/>
<circle cx="729.1" cy="1046.4" r="2.7" fill="#bda8e0"/>
<circle cx="744.5" cy="1046.4" r="2.7" fill="#bda8e0"/>
<circle cx="759.9" cy="1046.4" r="4.7" fill="#c8bcda"/>
<circle cx="775.3" cy="1046.4" r="4.3" fill="#bda8e0"/>
<circle cx="790.6" cy="1046.4" r="4.7" fill="#c8bcda"/>
<circle cx="806" cy="1046.4" r="3.6" fill="#d2d1d3"/>
<circle cx="821.4" cy="1046.4" r="4.3" fill="#7c51f4"/>
<circle cx="836.8" cy="1046.4" r="5.1" fill="#b093e5"/>
<circle cx="852.1" cy="1046.4" r="3.6" fill="#c8bcda"/>
<circle cx="867.5" cy="1046.4" r="3.1" fill="#bda8e0"/>
<circle cx="882.9" cy="1046.4" r="3.8" fill="#bda8e0"/>
<circle cx="144.8" cy="1066.5" r="4.3" fill="#bda8e0"/>
<circle cx="160.2" cy="1066.5" r="4.8" fill="#bda8e0"/>
<circle cx="175.6" cy="1066.5" r="4.8" fill="#c8bcda"/>
<circle cx="190.9" cy="1066.5" r="4" fill="#c8bcda"/>
<circle cx="206.3" cy="1066.5" r="6.7" fill="#bda8e0"/>
<circle cx="221.7" cy="1066.5" r="4.8" fill="#d2d1d3"/>
<circle cx="237.1" cy="1066.5" r="2.9" fill="#c8bcda"/>
<circle cx="252.4" cy="1066.5" r="4.3" fill="#bda8e0"/>
<circle cx="267.8" cy="1066.5" r="2.4" fill="#bda8e0"/>
<circle cx="283.2" cy="1066.5" r="2.4" fill="#bda8e0"/>
<circle cx="298.6" cy="1066.5" r="2.1" fill="#bda8e0"/>
<circle cx="313.9" cy="1066.5" r="3.5" fill="#c8bcda"/>
<circle cx="329.3" cy="1066.5" r="4.5" fill="#bda8e0"/>
<circle cx="344.7" cy="1066.5" r="2.1" fill="#bda8e0"/>
<circle cx="360.1" cy="1066.5" r="8" fill="#0000ff"/>
<circle cx="375.5" cy="1066.5" r="8" fill="#0000ff"/>
<circle cx="390.8" cy="1066.5" r="8" fill="#0000ff"/>
<circle cx="406.2" cy="1066.5" r="8.2" fill="#0000ff"/>
<circle cx="421.6" cy="1066.5" r="3.7" fill="#bda8e0"/>
<circle cx="437" cy="1066.5" r="4.3" fill="#b093e5"/>
<circle cx="452.3" cy="1066.5" r="3.5" fill="#bda8e0"/>
<circle cx="467.7" cy="1066.5" r="2.4" fill="#bda8e0"/>
<circle cx="483.1" cy="1066.5" r="2.4" fill="#bda8e0"/>
<circle cx="498.5" cy="1066.5" r="2.1" fill="#bda8e0"/>
<circle cx="513.8" cy="1066.5" r="3.5" fill="#c8bcda"/>
<circle cx="529.2" cy="1066.5" r="4" fill="#c8bcda"/>
<circle cx="544.6" cy="1066.5" r="2.9" fill="#c8bcda"/>
<circle cx="560" cy="1066.5" r="2.7" fill="#bda8e0"/>
<circle cx="575.4" cy="1066.5" r="2.9" fill="#c8bcda"/>
<circle cx="590.7" cy="1066.5" r="2.7" fill="#bda8e0"/>
<circle cx="606.1" cy="1066.5" r="4.3" fill="#633af8"/>
<circle cx="621.5" cy="1066.5" r="3.2" fill="#c8bcda"/>
<circle cx="636.9" cy="1066.5" r="2.7" fill="#bda8e0"/>
<circle cx="652.2" cy="1066.5" r="2.7" fill="#c8bcda"/>
<circle cx="667.6" cy="1066.5" r="2.1" fill="#bda8e0"/>
<circle cx="683" cy="1066.5" r="2.1" fill="#bda8e0"/>
<circle cx="698.4" cy="1066.5" r="2.7" fill="#b093e5"/>
<circle cx="713.7" cy="1066.5" r="2.9" fill="#bda8e0"/>
<circle cx="729.1" cy="1066.5" r="2.4" fill="#bda8e0"/>
<circle cx="744.5" cy="1066.5" r="2.5" fill="#bda8e0"/>
<circle cx="759.9" cy="1066.5" r="3.4" fill="#c8bcda"/>
<circle cx="775.3" cy="1066.5" r="3.1" fill="#bda8e0"/>
<circle cx="790.6" cy="1066.5" r="3.4" fill="#c8bcda"/>
<circle cx="806" cy="1066.5" r="2.7" fill="#d2d1d3"/>
<circle cx="821.4" cy="1066.5" r="3.1" fill="#b093e5"/>
<circle cx="836.8" cy="1066.5" r="3.1" fill="#bda8e0"/>
<circle cx="852.1" cy="1066.5" r="2.9" fill="#c8bcda"/>
<circle cx="867.5" cy="1066.5" r="2.5" fill="#bda8e0"/>
<circle cx="882.9" cy="1066.5" r="2.7" fill="#bda8e0"/>
<circle cx="144.8" cy="1086.6" r="6.1" fill="#b093e5"/>
<circle cx="160.2" cy="1086.6" r="5.6" fill="#d2d1d3"/>
<circle cx="175.6" cy="1086.6" r="6.4" fill="#d2d1d3"/>
<circle cx="190.9" cy="1086.6" r="6.1" fill="#bda8e0"/>
<circle cx="206.3" cy="1086.6" r="8.8" fill="#633af8"/>
<circle cx="221.7" cy="1086.6" r="7.2" fill="#c8bcda"/>
<circle cx="237.1" cy="1086.6" r="7.2" fill="#9269ef"/>
<circle cx="252.4" cy="1086.6" r="5.6" fill="#bda8e0"/>
<circle cx="267.8" cy="1086.6" r="2.9" fill="#bda8e0"/>
<circle cx="283.2" cy="1086.6" r="2.7" fill="#bda8e0"/>
<circle cx="298.6" cy="1086.6" r="2.7" fill="#bda8e0"/>
<circle cx="313.9" cy="1086.6" r="8.5" fill="#0000ff"/>
<circle cx="329.3" cy="1086.6" r="8.8" fill="#4322fc"/>
<circle cx="344.7" cy="1086.6" r="6.9" fill="#0000ff"/>
<circle cx="360.1" cy="1086.6" r="3.7" fill="#bda8e0"/>
<circle cx="375.5" cy="1086.6" r="5" fill="#bda8e0"/>
<circle cx="390.8" cy="1086.6" r="6.4" fill="#bda8e0"/>
<circle cx="406.2" cy="1086.6" r="7.5" fill="#bda8e0"/>
<circle cx="421.6" cy="1086.6" r="5.6" fill="#bda8e0"/>
<circle cx="437" cy="1086.6" r="3.5" fill="#bda8e0"/>
<circle cx="452.3" cy="1086.6" r="5" fill="#c8bcda"/>
<circle cx="467.7" cy="1086.6" r="3.2" fill="#bda8e0"/>
<circle cx="483.1" cy="1086.6" r="2.9" fill="#bda8e0"/>
<circle cx="498.5" cy="1086.6" r="2.7" fill="#bda8e0"/>
<circle cx="513.8" cy="1086.6" r="5" fill="#c8bcda"/>
<circle cx="529.2" cy="1086.6" r="7.5" fill="#b093e5"/>
<circle cx="544.6" cy="1086.6" r="5" fill="#bda8e0"/>
<circle cx="560" cy="1086.6" r="2.9" fill="#bda8e0"/>
<circle cx="575.4" cy="1086.6" r="5.6" fill="#c8bcda"/>
<circle cx="590.7" cy="1086.6" r="4.3" fill="#bda8e0"/>
<circle cx="606.1" cy="1086.6" r="2.9" fill="#bda8e0"/>
<circle cx="621.5" cy="1086.6" r="6.9" fill="#bda8e0"/>
<circle cx="636.9" cy="1086.6" r="3.7" fill="#bda8e0"/>
<circle cx="652.2" cy="1086.6" r="4.5" fill="#b093e5"/>
<circle cx="667.6" cy="1086.6" r="2.4" fill="#bda8e0"/>
<circle cx="683" cy="1086.6" r="3.2" fill="#bda8e0"/>
<circle cx="698.4" cy="1086.6" r="2.9" fill="#bda8e0"/>
<circle cx="713.7" cy="1086.6" r="5.9" fill="#b093e5"/>
<circle cx="729.1" cy="1086.6" r="4.8" fill="#b093e5"/>
<circle cx="744.5" cy="1086.6" r="4.5" fill="#b093e5"/>
<circle cx="759.9" cy="1086.6" r="7.8" fill="#b093e5"/>
<circle cx="775.3" cy="1086.6" r="7.8" fill="#633af8"/>
<circle cx="790.6" cy="1086.6" r="7.2" fill="#bda8e0"/>
<circle cx="806" cy="1086.6" r="6" fill="#b093e5"/>
<circle cx="821.4" cy="1086.6" r="3.4" fill="#bda8e0"/>
<circle cx="836.8" cy="1086.6" r="5.4" fill="#bda8e0"/>
<circle cx="852.1" cy="1086.6" r="6" fill="#b093e5"/>
<circle cx="867.5" cy="1086.6" r="4" fill="#b093e5"/>
<circle cx="882.9" cy="1086.6" r="4.5" fill="#bda8e0"/>
<circle cx="144.8" cy="1106.7" r="7.7" fill="#a27eea"/>
<circle cx="160.2" cy="1106.7" r="8" fill="#7c51f4"/>
<circle cx="175.6" cy="1106.7" r="8.8" fill="#633af8"/>
<circle cx="190.9" cy="1106.7" r="8" fill="#9269ef"/>
<circle cx="206.3" cy="1106.7" r="6.9" fill="#c8bcda"/>
<circle cx="221.7" cy="1106.7" r="8.8" fill="#a27eea"/>
<circle cx="237.1" cy="1106.7" r="5" fill="#bda8e0"/>
<circle cx="252.4" cy="1106.7" r="5.3" fill="#c8bcda"/>
<circle cx="267.8" cy="1106.7" r="5.9" fill="#0000ff"/>
<circle cx="283.2" cy="1106.7" r="5.6" fill="#0000ff"/>
<circle cx="298.6" cy="1106.7" r="5" fill="#0000ff"/>
<circle cx="313.9" cy="1106.7" r="6.7" fill="#bda8e0"/>
<circle cx="329.3" cy="1106.7" r="4.5" fill="#bda8e0"/>
<circle cx="344.7" cy="1106.7" r="2.7" fill="#bda8e0"/>
<circle cx="360.1" cy="1106.7" r="4.3" fill="#bda8e0"/>
<circle cx="375.5" cy="1106.7" r="5.6" fill="#bda8e0"/>
<circle cx="390.8" cy="1106.7" r="7.5" fill="#bda8e0"/>
<circle cx="406.2" cy="1106.7" r="5" fill="#c8bcda"/>
<circle cx="421.6" cy="1106.7" r="6.9" fill="#bda8e0"/>
<circle cx="437" cy="1106.7" r="3.2" fill="#bda8e0"/>
<circle cx="452.3" cy="1106.7" r="5.9" fill="#bda8e0"/>
<circle cx="467.7" cy="1106.7" r="3.2" fill="#bda8e0"/>
<circle cx="483.1" cy="1106.7" r="2.9" fill="#bda8e0"/>
<circle cx="498.5" cy="1106.7" r="2.7" fill="#bda8e0"/>
<circle cx="513.8" cy="1106.7" r="6.7" fill="#bda8e0"/>
<circle cx="529.2" cy="1106.7" r="6.9" fill="#c8bcda"/>
<circle cx="544.6" cy="1106.7" r="5" fill="#c8bcda"/>
<circle cx="560" cy="1106.7" r="2.9" fill="#bda8e0"/>
<circle cx="575.4" cy="1106.7" r="6.7" fill="#bda8e0"/>
<circle cx="590.7" cy="1106.7" r="4.3" fill="#bda8e0"/>
<circle cx="606.1" cy="1106.7" r="2.9" fill="#bda8e0"/>
<circle cx="621.5" cy="1106.7" r="4.5" fill="#c8bcda"/>
<circle cx="636.9" cy="1106.7" r="3.5" fill="#bda8e0"/>
<circle cx="652.2" cy="1106.7" r="4.8" fill="#bda8e0"/>
<circle cx="667.6" cy="1106.7" r="2.7" fill="#bda8e0"/>
<circle cx="683" cy="1106.7" r="3.5" fill="#bda8e0"/>
<circle cx="698.4" cy="1106.7" r="3.2" fill="#bda8e0"/>
<circle cx="713.7" cy="1106.7" r="4.8" fill="#bda8e0"/>
<circle cx="729.1" cy="1106.7" r="3.2" fill="#bda8e0"/>
<circle cx="744.5" cy="1106.7" r="5.4" fill="#a27eea"/>
<circle cx="759.9" cy="1106.7" r="8.5" fill="#633af8"/>
<circle cx="775.3" cy="1106.7" r="4.5" fill="#bda8e0"/>
<circle cx="790.6" cy="1106.7" r="6.7" fill="#c8bcda"/>
<circle cx="806" cy="1106.7" r="7.2" fill="#a27eea"/>
<circle cx="821.4" cy="1106.7" r="3.4" fill="#bda8e0"/>
<circle cx="836.8" cy="1106.7" r="4.9" fill="#c8bcda"/>
<circle cx="852.1" cy="1106.7" r="6.7" fill="#a27eea"/>
<circle cx="867.5" cy="1106.7" r="4.5" fill="#b093e5"/>
<circle cx="882.9" cy="1106.7" r="5.4" fill="#bda8e0"/>
<circle cx="144.8" cy="1126.8" r="5.3" fill="#d2d1d3"/>
<circle cx="160.2" cy="1126.8" r="5.9" fill="#d2d1d3"/>
<circle cx="175.6" cy="1126.8" r="6.9" fill="#c8bcda"/>
<circle cx="190.9" cy="1126.8" r="6.1" fill="#c8bcda"/>
<circle cx="206.3" cy="1126.8" r="8.8" fill="#0000ff"/>
<circle cx="221.7" cy="1126.8" r="8.8" fill="#0000ff"/>
<circle cx="237.1" cy="1126.8" r="8.8" fill="#0000ff"/>
<circle cx="252.4" cy="1126.8" r="8.5" fill="#0000ff"/>
<circle cx="267.8" cy="1126.8" r="2.9" fill="#bda8e0"/>
<circle cx="283.2" cy="1126.8" r="3.2" fill="#bda8e0"/>
<circle cx="298.6" cy="1126.8" r="2.9" fill="#bda8e0"/>
<circle cx="313.9" cy="1126.8" r="7.2" fill="#a27eea"/>
<circle cx="329.3" cy="1126.8" r="4.5" fill="#bda8e0"/>
<circle cx="344.7" cy="1126.8" r="2.9" fill="#bda8e0"/>
<circle cx="360.1" cy="1126.8" r="4" fill="#bda8e0"/>
<circle cx="375.5" cy="1126.8" r="5.6" fill="#bda8e0"/>
<circle cx="390.8" cy="1126.8" r="7.2" fill="#bda8e0"/>
<circle cx="406.2" cy="1126.8" r="7.7" fill="#c8bcda"/>
<circle cx="421.6" cy="1126.8" r="5.3" fill="#bda8e0"/>
<circle cx="437" cy="1126.8" r="3.2" fill="#bda8e0"/>
<circle cx="452.3" cy="1126.8" r="6.1" fill="#bda8e0"/>
<circle cx="467.7" cy="1126.8" r="3.2" fill="#bda8e0"/>
<circle cx="483.1" cy="1126.8" r="3.2" fill="#bda8e0"/>
<circle cx="498.5" cy="1126.8" r="2.7" fill="#bda8e0"/>
<circle cx="513.8" cy="1126.8" r="6.7" fill="#bda8e0"/>
<circle cx="529.2" cy="1126.8" r="8.5" fill="#7c51f4"/>
<circle cx="544.6" cy="1126.8" r="8" fill="#633af8"/>
<circle cx="560" cy="1126.8" r="2.9" fill="#bda8e0"/>
<circle cx="575.4" cy="1126.8" r="6.9" fill="#bda8e0"/>
<circle cx="590.7" cy="1126.8" r="3.5" fill="#bda8e0"/>
<circle cx="606.1" cy="1126.8" r="3.2" fill="#bda8e0"/>
<circle cx="621.5" cy="1126.8" r="7.2" fill="#bda8e0"/>
<circle cx="636.9" cy="1126.8" r="3.7" fill="#bda8e0"/>
<circle cx="652.2" cy="1126.8" r="4.3" fill="#bda8e0"/>
<circle cx="667.6" cy="1126.8" r="2.1" fill="#bda8e0"/>
<circle cx="683" cy="1126.8" r="3.5" fill="#bda8e0"/>
<circle cx="698.4" cy="1126.8" r="3.2" fill="#bda8e0"/>
<circle cx="713.7" cy="1126.8" r="4.3" fill="#bda8e0"/>
<circle cx="729.1" cy="1126.8" r="3.2" fill="#bda8e0"/>
<circle cx="744.5" cy="1126.8" r="3.6" fill="#bda8e0"/>
<circle cx="759.9" cy="1126.8" r="7.8" fill="#bda8e0"/>
<circle cx="775.3" cy="1126.8" r="4.5" fill="#bda8e0"/>
<circle cx="790.6" cy="1126.8" r="8.1" fill="#b093e5"/>
<circle cx="806" cy="1126.8" r="6.7" fill="#b093e5"/>
<circle cx="821.4" cy="1126.8" r="3.4" fill="#bda8e0"/>
<circle cx="836.8" cy="1126.8" r="4.9" fill="#c8bcda"/>
<circle cx="852.1" cy="1126.8" r="6.3" fill="#bda8e0"/>
<circle cx="867.5" cy="1126.8" r="4" fill="#bda8e0"/>
<circle cx="882.9" cy="1126.8" r="4" fill="#c8bcda"/>
<circle cx="144.8" cy="1146.9" r="8" fill="#0000ff"/>
<circle cx="160.2" cy="1146.9" r="8" fill="#4322fc"/>
<circle cx="175.6" cy="1146.9" r="8.2" fill="#4322fc"/>
<circle cx="190.9" cy="1146.9" r="8" fill="#0000ff"/>
<circle cx="206.3" cy="1146.9" r="5.6" fill="#c8bcda"/>
<circle cx="221.7" cy="1146.9" r="8" fill="#bda8e0"/>
<circle cx="237.1" cy="1146.9" r="5.3" fill="#bda8e0"/>
<circle cx="252.4" cy="1146.9" r="6.4" fill="#b093e5"/>
<circle cx="267.8" cy="1146.9" r="3.7" fill="#a27eea"/>
<circle cx="283.2" cy="1146.9" r="3.7" fill="#b093e5"/>
<circle cx="298.6" cy="1146.9" r="2.7" fill="#bda8e0"/>
<circle cx="313.9" cy="1146.9" r="7.2" fill="#bda8e0"/>
<circle cx="329.3" cy="1146.9" r="4.5" fill="#bda8e0"/>
<circle cx="344.7" cy="1146.9" r="2.7" fill="#bda8e0"/>
<circle cx="360.1" cy="1146.9" r="4" fill="#bda8e0"/>
<circle cx="375.5" cy="1146.9" r="5.6" fill="#b093e5"/>
<circle cx="390.8" cy="1146.9" r="6.9" fill="#bda8e0"/>
<circle cx="406.2" cy="1146.9" r="5.3" fill="#c8bcda"/>
<circle cx="421.6" cy="1146.9" r="5.6" fill="#bda8e0"/>
<circle cx="437" cy="1146.9" r="3.5" fill="#bda8e0"/>
<circle cx="452.3" cy="1146.9" r="5.3" fill="#c8bcda"/>
<circle cx="467.7" cy="1146.9" r="3.2" fill="#bda8e0"/>
<circle cx="483.1" cy="1146.9" r="2.9" fill="#bda8e0"/>
<circle cx="498.5" cy="1146.9" r="2.7" fill="#bda8e0"/>
<circle cx="513.8" cy="1146.9" r="6.9" fill="#b093e5"/>
<circle cx="529.2" cy="1146.9" r="7.5" fill="#b093e5"/>
<circle cx="544.6" cy="1146.9" r="4.8" fill="#c8bcda"/>
<circle cx="560" cy="1146.9" r="3.7" fill="#b093e5"/>
<circle cx="575.4" cy="1146.9" r="5" fill="#c8bcda"/>
<circle cx="590.7" cy="1146.9" r="3.2" fill="#bda8e0"/>
<circle cx="606.1" cy="1146.9" r="2.7" fill="#bda8e0"/>
<circle cx="621.5" cy="1146.9" r="4.8" fill="#c8bcda"/>
<circle cx="636.9" cy="1146.9" r="2.9" fill="#bda8e0"/>
<circle cx="652.2" cy="1146.9" r="4" fill="#c8bcda"/>
<circle cx="667.6" cy="1146.9" r="2.1" fill="#bda8e0"/>
<circle cx="683" cy="1146.9" r="3.2" fill="#bda8e0"/>
<circle cx="698.4" cy="1146.9" r="2.9" fill="#bda8e0"/>
<circle cx="713.7" cy="1146.9" r="5.3" fill="#b093e5"/>
<circle cx="729.1" cy="1146.9" r="2.9" fill="#bda8e0"/>
<circle cx="744.5" cy="1146.9" r="3.4" fill="#bda8e0"/>
<circle cx="759.9" cy="1146.9" r="7.4" fill="#bda8e0"/>
<circle cx="775.3" cy="1146.9" r="4.5" fill="#bda8e0"/>
<circle cx="790.6" cy="1146.9" r="7.2" fill="#b093e5"/>
<circle cx="806" cy="1146.9" r="5.8" fill="#c8bcda"/>
<circle cx="821.4" cy="1146.9" r="3.6" fill="#bda8e0"/>
<circle cx="836.8" cy="1146.9" r="7.2" fill="#9269ef"/>
<circle cx="852.1" cy="1146.9" r="6.5" fill="#a27eea"/>
<circle cx="867.5" cy="1146.9" r="3.8" fill="#bda8e0"/>
<circle cx="882.9" cy="1146.9" r="6.3" fill="#9269ef"/>
<rect x="136.5" y="874.4" width="754.5" height="285.8" fill="none" stroke="#1a1a1a" stroke-width="1.6"/>
<line x1="129.5" y1="885.6" x2="136" y2="885.6" stroke="#000" stroke-width="2.6"/>
<text x="124.2" y="891.9" font-size="17.7" text-anchor="end">L5 ET</text>
<line x1="129.5" y1="905.7" x2="136" y2="905.7" stroke="#000" stroke-width="2.6"/>
<text x="124.2" y="912" font-size="17.7" text-anchor="end">L5/6 IT</text>
<line x1="129.5" y1="925.8" x2="136" y2="925.8" stroke="#000" stroke-width="2.6"/>
<text x="124.2" y="932.1" font-size="17.7" text-anchor="end">L5/6 NP</text>
<line x1="129.5" y1="945.9" x2="136" y2="945.9" stroke="#000" stroke-width="2.6"/>
<text x="124.2" y="952.2" font-size="17.7" text-anchor="end">Endo</text>
<line x1="129.5" y1="966" x2="136" y2="966" stroke="#000" stroke-width="2.6"/>
<text x="124.2" y="972.3" font-size="17.7" text-anchor="end">SST</text>
<line x1="129.5" y1="986.1" x2="136" y2="986.1" stroke="#000" stroke-width="2.6"/>
<text x="124.2" y="992.4" font-size="17.7" text-anchor="end">OPC</text>
<line x1="129.5" y1="1006.2" x2="136" y2="1006.2" stroke="#000" stroke-width="2.6"/>
<text x="124.2" y="1012.5" font-size="17.7" text-anchor="end">LAMP5</text>
<line x1="129.5" y1="1026.3" x2="136" y2="1026.3" stroke="#000" stroke-width="2.6"/>
<text x="124.2" y="1032.6" font-size="17.7" text-anchor="end">Micro−PVM</text>
<line x1="129.5" y1="1046.4" x2="136" y2="1046.4" stroke="#000" stroke-width="2.6"/>
<text x="124.2" y="1052.7" font-size="17.7" text-anchor="end">Astro</text>
<line x1="129.5" y1="1066.5" x2="136" y2="1066.5" stroke="#000" stroke-width="2.6"/>
<text x="124.2" y="1072.8" font-size="17.7" text-anchor="end">Oligo</text>
<line x1="129.5" y1="1086.6" x2="136" y2="1086.6" stroke="#000" stroke-width="2.6"/>
<text x="124.2" y="1092.9" font-size="17.7" text-anchor="end">VIP</text>
<line x1="129.5" y1="1106.7" x2="136" y2="1106.7" stroke="#000" stroke-width="2.6"/>
<text x="124.2" y="1113" font-size="17.7" text-anchor="end">L6b</text>
<line x1="129.5" y1="1126.8" x2="136" y2="1126.8" stroke="#000" stroke-width="2.6"/>
<text x="124.2" y="1133.1" font-size="17.7" text-anchor="end">PVALB</text>
<line x1="129.5" y1="1146.9" x2="136" y2="1146.9" stroke="#000" stroke-width="2.6"/>
<text x="124.2" y="1153.2" font-size="17.7" text-anchor="end">IT</text>
<line x1="144.8" y1="1161" x2="144.8" y2="1167.3" stroke="#000" stroke-width="2.6"/>
<text x="151.2" y="1173" font-size="17.8" text-anchor="end" transform="rotate(-90 151.2 1173)">ENC1</text>
<line x1="160.2" y1="1161" x2="160.2" y2="1167.3" stroke="#000" stroke-width="2.6"/>
<text x="166.6" y="1173" font-size="17.8" text-anchor="end" transform="rotate(-90 166.6 1173)">NRGN</text>
<line x1="175.6" y1="1161" x2="175.6" y2="1167.3" stroke="#000" stroke-width="2.6"/>
<text x="182" y="1173" font-size="17.8" text-anchor="end" transform="rotate(-90 182 1173)">CHN1</text>
<line x1="190.9" y1="1161" x2="190.9" y2="1167.3" stroke="#000" stroke-width="2.6"/>
<text x="197.3" y="1173" font-size="17.8" text-anchor="end" transform="rotate(-90 197.3 1173)">CAMK2A</text>
<line x1="206.3" y1="1161" x2="206.3" y2="1167.3" stroke="#000" stroke-width="2.6"/>
<text x="212.7" y="1173" font-size="17.8" text-anchor="end" transform="rotate(-90 212.7 1173)">ERBB4</text>
<line x1="221.7" y1="1161" x2="221.7" y2="1167.3" stroke="#000" stroke-width="2.6"/>
<text x="228.1" y="1173" font-size="17.8" text-anchor="end" transform="rotate(-90 228.1 1173)">DPP10</text>
<line x1="237.1" y1="1161" x2="237.1" y2="1167.3" stroke="#000" stroke-width="2.6"/>
<text x="243.5" y="1173" font-size="17.8" text-anchor="end" transform="rotate(-90 243.5 1173)">ZNF804A</text>
<line x1="252.4" y1="1161" x2="252.4" y2="1167.3" stroke="#000" stroke-width="2.6"/>
<text x="258.8" y="1173" font-size="17.8" text-anchor="end" transform="rotate(-90 258.8 1173)">SLIT2</text>
<line x1="267.8" y1="1161" x2="267.8" y2="1167.3" stroke="#000" stroke-width="2.6"/>
<text x="274.2" y="1173" font-size="17.8" text-anchor="end" transform="rotate(-90 274.2 1173)">ARSJ</text>
<line x1="283.2" y1="1161" x2="283.2" y2="1167.3" stroke="#000" stroke-width="2.6"/>
<text x="289.6" y="1173" font-size="17.8" text-anchor="end" transform="rotate(-90 289.6 1173)">MDFIC</text>
<line x1="298.6" y1="1161" x2="298.6" y2="1167.3" stroke="#000" stroke-width="2.6"/>
<text x="305" y="1173" font-size="17.8" text-anchor="end" transform="rotate(-90 305 1173)">SEMA3D</text>
<line x1="313.9" y1="1161" x2="313.9" y2="1167.3" stroke="#000" stroke-width="2.6"/>
<text x="320.3" y="1173" font-size="17.8" text-anchor="end" transform="rotate(-90 320.3 1173)">GALNTL6</text>
<line x1="329.3" y1="1161" x2="329.3" y2="1167.3" stroke="#000" stroke-width="2.6"/>
<text x="335.7" y="1173" font-size="17.8" text-anchor="end" transform="rotate(-90 335.7 1173)">ADARB2</text>
<line x1="344.7" y1="1161" x2="344.7" y2="1167.3" stroke="#000" stroke-width="2.6"/>
<text x="351.1" y="1173" font-size="17.8" text-anchor="end" transform="rotate(-90 351.1 1173)">VIP</text>
<line x1="360.1" y1="1161" x2="360.1" y2="1167.3" stroke="#000" stroke-width="2.6"/>
<text x="366.5" y="1173" font-size="17.8" text-anchor="end" transform="rotate(-90 366.5 1173)">PLP1</text>
<line x1="375.5" y1="1161" x2="375.5" y2="1167.3" stroke="#000" stroke-width="2.6"/>
<text x="381.9" y="1173" font-size="17.8" text-anchor="end" transform="rotate(-90 381.9 1173)">MBP</text>
<line x1="390.8" y1="1161" x2="390.8" y2="1167.3" stroke="#000" stroke-width="2.6"/>
<text x="397.2" y="1173" font-size="17.8" text-anchor="end" transform="rotate(-90 397.2 1173)">CTNNA3</text>
<line x1="406.2" y1="1161" x2="406.2" y2="1167.3" stroke="#000" stroke-width="2.6"/>
<text x="412.6" y="1173" font-size="17.8" text-anchor="end" transform="rotate(-90 412.6 1173)">QKI</text>
<line x1="421.6" y1="1161" x2="421.6" y2="1167.3" stroke="#000" stroke-width="2.6"/>
<text x="428" y="1173" font-size="17.8" text-anchor="end" transform="rotate(-90 428 1173)">SLC1A2</text>
<line x1="437" y1="1161" x2="437" y2="1167.3" stroke="#000" stroke-width="2.6"/>
<text x="443.4" y="1173" font-size="17.8" text-anchor="end" transform="rotate(-90 443.4 1173)">SLC1A3</text>
<line x1="452.3" y1="1161" x2="452.3" y2="1167.3" stroke="#000" stroke-width="2.6"/>
<text x="458.7" y="1173" font-size="17.8" text-anchor="end" transform="rotate(-90 458.7 1173)">GPC5</text>
<line x1="467.7" y1="1161" x2="467.7" y2="1167.3" stroke="#000" stroke-width="2.6"/>
<text x="474.1" y="1173" font-size="17.8" text-anchor="end" transform="rotate(-90 474.1 1173)">DOCK8</text>
<line x1="483.1" y1="1161" x2="483.1" y2="1167.3" stroke="#000" stroke-width="2.6"/>
<text x="489.5" y="1173" font-size="17.8" text-anchor="end" transform="rotate(-90 489.5 1173)">APBB1IP</text>
<line x1="498.5" y1="1161" x2="498.5" y2="1167.3" stroke="#000" stroke-width="2.6"/>
<text x="504.9" y="1173" font-size="17.8" text-anchor="end" transform="rotate(-90 504.9 1173)">CSF1R</text>
<line x1="513.8" y1="1161" x2="513.8" y2="1167.3" stroke="#000" stroke-width="2.6"/>
<text x="520.2" y="1173" font-size="17.8" text-anchor="end" transform="rotate(-90 520.2 1173)">PTPRT</text>
<line x1="529.2" y1="1161" x2="529.2" y2="1167.3" stroke="#000" stroke-width="2.6"/>
<text x="535.6" y="1173" font-size="17.8" text-anchor="end" transform="rotate(-90 535.6 1173)">GRIA4</text>
<line x1="544.6" y1="1161" x2="544.6" y2="1167.3" stroke="#000" stroke-width="2.6"/>
<text x="551" y="1173" font-size="17.8" text-anchor="end" transform="rotate(-90 551 1173)">MYO16</text>
<line x1="560" y1="1161" x2="560" y2="1167.3" stroke="#000" stroke-width="2.6"/>
<text x="566.4" y="1173" font-size="17.8" text-anchor="end" transform="rotate(-90 566.4 1173)">LAMP5</text>
<line x1="575.4" y1="1161" x2="575.4" y2="1167.3" stroke="#000" stroke-width="2.6"/>
<text x="581.8" y="1173" font-size="17.8" text-anchor="end" transform="rotate(-90 581.8 1173)">PCDH15</text>
<line x1="590.7" y1="1161" x2="590.7" y2="1167.3" stroke="#000" stroke-width="2.6"/>
<text x="597.1" y="1173" font-size="17.8" text-anchor="end" transform="rotate(-90 597.1 1173)">VCAN</text>
<line x1="606.1" y1="1161" x2="606.1" y2="1167.3" stroke="#000" stroke-width="2.6"/>
<text x="612.5" y="1173" font-size="17.8" text-anchor="end" transform="rotate(-90 612.5 1173)">OLIG1</text>
<line x1="621.5" y1="1161" x2="621.5" y2="1167.3" stroke="#000" stroke-width="2.6"/>
<text x="627.9" y="1173" font-size="17.8" text-anchor="end" transform="rotate(-90 627.9 1173)">GRIK1</text>
<line x1="636.9" y1="1161" x2="636.9" y2="1167.3" stroke="#000" stroke-width="2.6"/>
<text x="643.3" y="1173" font-size="17.8" text-anchor="end" transform="rotate(-90 643.3 1173)">SST</text>
<line x1="652.2" y1="1161" x2="652.2" y2="1167.3" stroke="#000" stroke-width="2.6"/>
<text x="658.6" y="1173" font-size="17.8" text-anchor="end" transform="rotate(-90 658.6 1173)">COL25A1</text>
<line x1="667.6" y1="1161" x2="667.6" y2="1167.3" stroke="#000" stroke-width="2.6"/>
<text x="674" y="1173" font-size="17.8" text-anchor="end" transform="rotate(-90 674 1173)">CLDN5</text>
<line x1="683" y1="1161" x2="683" y2="1167.3" stroke="#000" stroke-width="2.6"/>
<text x="689.4" y="1173" font-size="17.8" text-anchor="end" transform="rotate(-90 689.4 1173)">VWF</text>
<line x1="698.4" y1="1161" x2="698.4" y2="1167.3" stroke="#000" stroke-width="2.6"/>
<text x="704.8" y="1173" font-size="17.8" text-anchor="end" transform="rotate(-90 704.8 1173)">ENG</text>
<line x1="713.7" y1="1161" x2="713.7" y2="1167.3" stroke="#000" stroke-width="2.6"/>
<text x="720.1" y="1173" font-size="17.8" text-anchor="end" transform="rotate(-90 720.1 1173)">TSHZ2</text>
<line x1="729.1" y1="1161" x2="729.1" y2="1167.3" stroke="#000" stroke-width="2.6"/>
<text x="735.5" y="1173" font-size="17.8" text-anchor="end" transform="rotate(-90 735.5 1173)">HTR2C</text>
<line x1="744.5" y1="1161" x2="744.5" y2="1167.3" stroke="#000" stroke-width="2.6"/>
<text x="750.9" y="1173" font-size="17.8" text-anchor="end" transform="rotate(-90 750.9 1173)">ITGA8</text>
<line x1="759.9" y1="1161" x2="759.9" y2="1167.3" stroke="#000" stroke-width="2.6"/>
<text x="766.3" y="1173" font-size="17.8" text-anchor="end" transform="rotate(-90 766.3 1173)">ASIC2</text>
<line x1="775.3" y1="1161" x2="775.3" y2="1167.3" stroke="#000" stroke-width="2.6"/>
<text x="781.7" y="1173" font-size="17.8" text-anchor="end" transform="rotate(-90 781.7 1173)">RGS12</text>
<line x1="790.6" y1="1161" x2="790.6" y2="1167.3" stroke="#000" stroke-width="2.6"/>
<text x="797" y="1173" font-size="17.8" text-anchor="end" transform="rotate(-90 797 1173)">KCTD16</text>
<line x1="806" y1="1161" x2="806" y2="1167.3" stroke="#000" stroke-width="2.6"/>
<text x="812.4" y="1173" font-size="17.8" text-anchor="end" transform="rotate(-90 812.4 1173)">FRAS1</text>
<line x1="821.4" y1="1161" x2="821.4" y2="1167.3" stroke="#000" stroke-width="2.6"/>
<text x="827.8" y="1173" font-size="17.8" text-anchor="end" transform="rotate(-90 827.8 1173)">NTNG2</text>
<line x1="836.8" y1="1161" x2="836.8" y2="1167.3" stroke="#000" stroke-width="2.6"/>
<text x="843.2" y="1173" font-size="17.8" text-anchor="end" transform="rotate(-90 843.2 1173)">FAM19A1</text>
<line x1="852.1" y1="1161" x2="852.1" y2="1167.3" stroke="#000" stroke-width="2.6"/>
<text x="858.5" y="1173" font-size="17.8" text-anchor="end" transform="rotate(-90 858.5 1173)">SLC35F3</text>
<line x1="867.5" y1="1161" x2="867.5" y2="1167.3" stroke="#000" stroke-width="2.6"/>
<text x="873.9" y="1173" font-size="17.8" text-anchor="end" transform="rotate(-90 873.9 1173)">VAT1L</text>
<line x1="882.9" y1="1161" x2="882.9" y2="1167.3" stroke="#000" stroke-width="2.6"/>
<text x="889.3" y="1173" font-size="17.8" text-anchor="end" transform="rotate(-90 889.3 1173)">CBLN2</text>
<defs><linearGradient id="avgexp" x1="0" y1="0" x2="0" y2="1"><stop offset="0.00" stop-color="#0000ff"/><stop offset="0.05" stop-color="#3318fd"/><stop offset="0.10" stop-color="#4926fb"/><stop offset="0.15" stop-color="#5932fa"/><stop offset="0.20" stop-color="#673df8"/><stop offset="0.25" stop-color="#7248f6"/><stop offset="0.30" stop-color="#7c51f4"/><stop offset="0.35" stop-color="#855bf2"/><stop offset="0.40" stop-color="#8e65f0"/><stop offset="0.45" stop-color="#966eee"/><stop offset="0.50" stop-color="#9d77ec"/><stop offset="0.55" stop-color="#a480ea"/><stop offset="0.60" stop-color="#aa89e7"/><stop offset="0.65" stop-color="#b093e5"/><stop offset="0.70" stop-color="#b69ce3"/><stop offset="0.75" stop-color="#bba5e0"/><stop offset="0.80" stop-color="#c1aede"/><stop offset="0.85" stop-color="#c6b7db"/><stop offset="0.90" stop-color="#cac0d9"/><stop offset="0.95" stop-color="#cfcad6"/><stop offset="1.00" stop-color="#d3d3d3"/></linearGradient></defs>
<rect x="941.9" y="822.2" width="37.3" height="187.4" fill="url(#avgexp)"/>
<text x="987.8" y="854.2" font-size="15.8">2</text>
<line x1="941.9" y1="901.8" x2="949.4" y2="901.8" stroke="#fff" stroke-width="1.6"/>
<text x="987.8" y="907.4" font-size="15.8">1</text>
<line x1="941.9" y1="955.1" x2="949.4" y2="955.1" stroke="#fff" stroke-width="1.6"/>
<line x1="971.7" y1="955.1" x2="979.2" y2="955.1" stroke="#fff" stroke-width="1.6"/>
<text x="987.8" y="960.7" font-size="15.8">0</text>
<line x1="941.9" y1="1008.2" x2="949.4" y2="1008.2" stroke="#fff" stroke-width="1.6"/>
<line x1="971.7" y1="1008.2" x2="979.2" y2="1008.2" stroke="#fff" stroke-width="1.6"/>
<text x="988" y="1013.8" font-size="15.8">−1</text>
<text x="941.9" y="811.8" font-size="17.3">Average Expression</text>
<text x="942.2" y="1071.6" font-size="17.3">Percent Expressed</text>
<circle cx="960.4" cy="1100.8" r="2.3" fill="#000"/>
<text x="988.5" y="1106.4" font-size="15.8">0</text>
<circle cx="960.4" cy="1138" r="5.6" fill="#000"/>
<text x="988.5" y="1143.6" font-size="15.8">25</text>
<circle cx="960.4" cy="1175.7" r="7" fill="#000"/>
<text x="988.5" y="1181.3" font-size="15.8">50</text>
<circle cx="960.4" cy="1213" r="8.3" fill="#000"/>
<text x="988.5" y="1218.6" font-size="15.8">75</text>
<circle cx="960.4" cy="1250.4" r="9.2" fill="#000"/>
<text x="988.5" y="1256" font-size="15.8">100</text>
<text x="1573" y="1698.2" font-size="21.5">Differential number of interactions</text>
<path d="M1700.5,1762 C1740,1800 1772,1845 1812,1864 S1852,1880 1862,1886" fill="none" stroke="#2166ac" stroke-width="18" stroke-opacity="0.6" stroke-linecap="butt"/>
<path d="M1611,1836 C1680,1866 1730,1884 1790,1888 S1845,1890 1858,1891" fill="none" stroke="#b2182b" stroke-width="5.8" stroke-opacity="0.6" stroke-linecap="butt"/>
<path d="M1856,1900 C1830,1925 1810,1952 1790,1966 S1735,1998 1707,2016" fill="none" stroke="#b2182b" stroke-width="4.6" stroke-opacity="0.6" stroke-linecap="butt"/>
<path d="M1859,1906 C1855,1935 1845,1960 1820,1986" fill="none" stroke="#b2182b" stroke-width="2.6" stroke-opacity="0.6" stroke-linecap="butt"/>
<path d="M1870,1886 C1890,1880 1921,1881 1921,1891 C1921,1901 1890,1902 1870,1897" fill="none" stroke="#b2182b" stroke-width="3" stroke-opacity="0.6"/>
<path d="M1703,1768 L1709,1773" stroke="#2166ac" stroke-width="5" stroke-opacity="0.85"/>
<path d="M1612,1835 L1617,1838" stroke="#b2182b" stroke-width="5" stroke-opacity="0.85"/>
<path d="M1707,2016 L1711,2013" stroke="#b2182b" stroke-width="5" stroke-opacity="0.85"/>
<path d="M1820,1986 L1822,1983" stroke="#b2182b" stroke-width="4" stroke-opacity="0.85"/>
<circle cx="1694.2" cy="1757.8" r="14.5" fill="#4daf4a"/>
<circle cx="1813.2" cy="1784.3" r="14.5" fill="#377eb8"/>
<circle cx="1598.6" cy="1832.1" r="14.5" fill="#984ea3"/>
<circle cx="1866" cy="1892" r="14.5" fill="#e41a1c"/>
<circle cx="1598.6" cy="1950.5" r="14.5" fill="#f29403"/>
<circle cx="1813" cy="1998.7" r="14.5" fill="#bc9dcc"/>
<circle cx="1694" cy="2025.1" r="14.5" fill="#f781bf"/>
<text x="1667.5" y="1739" font-size="20">Ex</text>
<text x="1805" y="1765.6" font-size="20">Endo</text>
<text x="1548.4" y="1839.2" font-size="20">Inhib</text>
<text x="1873.8" y="1898.2" font-size="20">Astro</text>
<text x="1533" y="1983.2" font-size="20">Micro−PVM</text>
<text x="1821.9" y="2005.5" font-size="20">OPC</text>
<text x="1686.4" y="2054.8" font-size="20">Oligo</text>
<text x="363.2" y="23.1" font-size="21" text-anchor="middle">Cell types</text>
<path d="M369.0,79.0 C371.2,76.0 378.1,69.8 383.0,66.7 C388.0,63.6 394.2,60.7 398.9,60.6 C403.6,60.4 407.7,62.9 411.2,65.8 C414.7,68.8 417.3,74.5 420.0,78.1 C422.6,81.8 423.5,84.9 427.0,87.8 C430.5,90.8 435.8,92.7 441.1,95.7 C446.4,98.8 452.2,103.8 458.7,106.3 C465.1,108.8 473.6,108.9 479.8,110.7 C485.9,112.4 490.9,113.2 495.6,116.8 C500.3,120.5 504.4,126.2 507.9,132.7 C511.4,139.1 513.8,147.6 516.7,155.5 C519.7,163.5 523.2,172.3 525.5,180.2 C527.9,188.1 530.2,196.6 530.8,203.0 C531.4,209.5 530.8,214.8 529.0,218.9 C527.3,223.0 523.2,224.7 520.2,227.7 C517.3,230.6 514.4,234.5 511.4,236.5 C508.5,238.4 505.6,240.0 502.6,239.1 C499.7,238.2 497.7,233.4 493.9,231.2 C490.0,229.0 485.1,225.9 479.8,225.9 C474.5,225.9 467.5,231.2 462.2,231.2 C456.9,231.2 452.5,228.5 448.1,225.9 C443.7,223.3 439.9,218.9 435.8,215.3 C431.7,211.8 427.6,208.0 423.5,204.8 C419.4,201.6 415.5,198.1 411.2,196.0 C406.9,193.9 399.5,190.2 397.6,192.3 C395.8,194.4 397.8,203.6 400.1,208.7 C402.4,213.7 408.0,218.2 411.7,222.7 C415.4,227.3 419.3,231.2 422.3,235.8 C425.2,240.3 428.5,245.9 429.3,249.8 C430.1,253.7 428.9,257.2 427.0,259.1 C425.1,261.1 421.2,261.4 417.7,261.4 C414.2,261.4 409.8,260.3 405.9,259.1 C402.0,258.0 398.0,255.5 394.1,254.4 C390.2,253.3 385.4,251.1 382.5,252.3 C379.6,253.5 375.9,257.9 376.5,261.4 C377.1,264.9 382.7,268.9 386.0,273.2 C389.4,277.5 393.6,283.0 396.6,287.3 C399.5,291.6 402.3,295.2 403.6,299.1 C405.0,303.0 405.7,307.2 404.7,310.7 C403.7,314.2 401.3,318.4 397.6,320.2 C393.9,321.9 388.0,322.2 382.5,321.2 C377.1,320.2 370.8,317.9 364.9,314.2 C359.1,310.5 352.2,303.9 347.3,299.1 C342.4,294.2 340.2,287.0 335.5,285.0 C330.9,283.0 322.7,284.9 319.2,287.3 C315.7,289.6 317.2,296.9 314.4,299.1 C311.7,301.2 306.0,302.1 302.6,300.1 C299.3,298.2 296.1,291.0 294.6,287.3 C293.0,283.6 295.3,279.5 293.3,278.0 C291.4,276.4 287.5,277.2 282.8,278.0 C278.1,278.7 271.0,282.5 265.2,282.5 C259.3,282.5 251.7,280.7 247.6,278.0 C243.5,275.2 241.7,270.5 240.6,266.2 C239.4,261.9 238.8,256.4 240.6,252.1 C242.3,247.8 247.0,243.5 251.1,240.3 C255.2,237.2 259.9,235.8 265.2,233.3 C270.5,230.8 277.7,227.9 282.8,225.2 C287.8,222.5 292.3,220.3 295.6,216.9 C298.9,213.6 301.1,209.5 302.6,205.1 C304.2,200.8 305.5,195.2 305.1,191.1 C304.7,186.9 302.9,184.6 300.4,180.2 C297.8,175.7 292.7,170.8 289.8,164.3 C286.9,157.9 283.6,149.4 282.8,141.5 C281.9,133.6 282.8,123.6 284.5,116.8 C286.3,110.1 289.8,106.0 293.3,101.0 C296.8,96.0 300.9,90.0 305.6,86.9 C310.3,83.9 316.2,82.8 321.5,82.5 C326.7,82.2 332.9,83.3 337.3,85.2 C341.7,87.1 345.2,90.5 347.9,94.0 C350.5,97.5 352.5,101.3 353.1,106.3 C353.7,111.3 351.7,118.6 351.4,123.9 C351.1,129.2 350.9,134.3 351.4,138.0 C351.8,141.6 352.0,144.3 354.0,145.9 C356.1,147.5 359.9,148.1 363.7,147.6 C367.5,147.2 374.2,146.0 376.9,143.2 C379.6,140.4 379.7,135.3 379.9,130.9 C380.1,126.5 379.1,122.4 378.1,116.8 C377.1,111.3 375.4,102.8 373.9,97.5 C372.4,92.2 370.1,87.9 369.3,84.8 C368.5,81.8 366.7,82.0 369.0,79.0Z" fill="#31a354"/>
<path d="M325.9,145.9 C328.7,142.3 335.1,141.9 339.1,141.5 C343.0,141.0 346.7,142.5 349.6,143.2 C352.5,144.0 354.0,145.6 356.6,145.9 C359.3,146.2 362.4,145.0 365.4,145.0 C368.5,145.0 372.4,144.1 375.1,145.9 C377.8,147.6 381.8,152.2 381.6,155.5 C381.5,158.9 378.1,163.0 374.2,166.1 C370.4,169.2 363.7,172.3 358.4,174.0 C353.1,175.8 347.6,176.8 342.6,176.6 C337.6,176.5 331.9,175.5 328.5,173.1 C325.1,170.8 322.8,167.1 322.3,162.6 C321.9,158.0 323.1,149.4 325.9,145.9Z" fill="#fff"/>
<path d="M341.3,231.0 C342.3,227.5 342.9,222.4 344.9,219.2 C346.8,216.1 350.4,214.1 353.1,212.2 C355.9,210.2 358.5,208.0 361.4,207.4 C364.3,206.8 368.4,206.7 370.7,208.7 C373.1,210.6 374.4,215.5 375.5,219.2 C376.6,222.9 376.9,224.8 377.2,231.0 C377.5,237.2 383.6,252.4 377.2,256.7 C370.9,261.0 345.4,259.4 339.1,256.7 C332.7,254.0 338.7,244.6 339.1,240.3 C339.4,236.0 340.4,234.5 341.3,231.0Z" fill="#fff"/>
<path d="M352.0,205.2 C352.9,203.8 355.7,202.1 357.8,201.7 C360.0,201.3 362.7,202.3 364.9,202.8 C367.0,203.4 369.9,203.8 370.7,205.2 C371.5,206.6 369.8,208.7 369.6,211.0 C369.4,213.4 369.4,216.7 369.6,219.3 C369.8,221.8 370.7,224.3 370.7,226.3 C370.7,228.2 370.9,230.2 369.6,231.0 C368.2,231.8 364.1,232.2 362.5,231.0 C361.0,229.8 360.6,226.7 360.2,223.9 C359.8,221.2 361.2,216.3 360.2,214.6 C359.2,212.8 355.7,214.2 354.3,213.4 C352.9,212.6 352.4,211.2 352.0,209.9 C351.6,208.5 351.0,206.6 352.0,205.2Z" fill="#756bb1"/>
<path d="M105.6,231.3 C105.8,227.6 105.8,222.5 106.8,219.0 C107.8,215.6 109.2,212.7 111.7,210.5 C114.1,208.2 119.4,207.6 121.5,205.6 C123.5,203.5 121.9,200.0 123.9,198.2 C126.0,196.4 130.5,195.3 133.7,194.5 C137.0,193.7 140.3,193.0 143.6,193.3 C146.8,193.6 150.3,195.0 153.4,196.4 C156.4,197.7 161.1,199.7 161.9,201.3 C162.8,202.8 159.5,204.2 158.3,205.6 C157.0,206.9 155.8,207.4 154.6,209.2 C153.4,211.1 151.1,213.7 150.9,216.6 C150.7,219.4 153.8,223.3 153.4,226.4 C153.0,229.5 150.5,232.5 148.5,235.0 C146.4,237.4 143.6,239.1 141.1,241.1 C138.7,243.1 136.4,245.0 133.7,247.2 C131.1,249.5 128.0,253.4 125.2,254.6 C122.3,255.8 119.2,255.4 116.6,254.6 C113.9,253.8 111.1,251.9 109.2,249.7 C107.4,247.4 106.2,244.2 105.6,241.1 C104.9,238.0 105.3,235.0 105.6,231.3Z" fill="#969696"/>
<path d="M130.1,249.7 C130.9,248.4 133.5,246.6 135.0,246.6 C136.4,246.6 137.4,247.9 138.7,249.7 C139.9,251.4 142.1,255.1 142.3,257.0 C142.5,259.0 141.1,261.1 139.9,261.3 C138.7,261.5 136.6,259.4 135.0,258.3 C133.3,257.1 130.9,256.0 130.1,254.6 C129.3,253.2 129.3,251.0 130.1,249.7Z" fill="#3182bd"/>
<path d="M181.6,314.7 C182.6,311.6 183.8,307.3 186.5,304.9 C189.1,302.4 194.4,300.6 197.5,299.9 C200.6,299.3 202.4,300.4 204.9,301.2 C207.3,302.0 207.7,302.4 212.2,304.9 C216.7,307.3 226.9,313.8 231.8,315.9 C236.7,317.9 238.4,316.5 241.6,317.1 C244.9,317.7 248.8,318.5 251.4,319.6 C254.1,320.6 257.2,321.8 257.6,323.2 C258.0,324.7 255.5,326.5 253.9,328.1 C252.3,329.8 249.0,331.2 247.8,333.1 C246.5,334.9 245.7,337.3 246.5,339.2 C247.4,341.0 252.1,342.4 252.7,344.1 C253.3,345.7 252.1,347.8 250.2,349.0 C248.4,350.2 245.1,350.6 241.6,351.4 C238.2,352.3 232.8,352.7 229.4,353.9 C225.9,355.1 223.4,357.6 220.8,358.8 C218.1,360.0 215.3,362.1 213.4,361.2 C211.6,360.4 211.2,356.3 209.8,353.9 C208.3,351.4 207.3,348.6 204.9,346.5 C202.4,344.5 197.7,343.3 195.0,341.6 C192.4,340.0 191.4,338.0 188.9,336.7 C186.5,335.5 183.0,334.3 180.3,334.3 C177.7,334.3 175.0,336.3 173.0,336.7 C170.9,337.1 168.5,337.5 168.1,336.7 C167.7,335.9 169.1,333.3 170.5,331.8 C172.0,330.4 175.0,329.6 176.7,328.1 C178.3,326.7 179.5,325.5 180.3,323.2 C181.2,321.0 180.5,317.7 181.6,314.7Z" fill="#3182bd"/>
<path d="M136.2,315.9 C137.0,314.9 139.1,316.3 141.1,317.1 C143.1,317.9 146.0,319.2 148.5,320.8 C150.9,322.4 154.2,325.3 155.8,326.9 C157.5,328.6 159.1,329.6 158.3,330.6 C157.5,331.6 153.0,331.6 150.9,333.1 C148.9,334.5 148.1,337.7 146.0,339.2 C144.0,340.6 140.3,342.0 138.7,341.6 C137.0,341.2 136.4,338.8 136.2,336.7 C136.0,334.7 137.4,331.6 137.4,329.4 C137.4,327.1 136.4,325.5 136.2,323.2 C136.0,321.0 135.4,316.9 136.2,315.9Z" fill="#9e9ac8"/>
<path d="M131.3,347.8 C132.9,346.3 135.8,345.5 138.7,345.3 C141.5,345.1 145.8,345.5 148.5,346.5 C151.1,347.6 153.0,349.0 154.6,351.4 C156.2,353.9 158.5,358.8 158.3,361.2 C158.1,363.7 155.8,364.9 153.4,366.2 C150.9,367.4 146.8,368.6 143.6,368.6 C140.3,368.6 136.2,367.4 133.7,366.2 C131.3,364.9 129.7,363.3 128.8,361.2 C128.0,359.2 128.4,356.1 128.8,353.9 C129.3,351.6 129.7,349.2 131.3,347.8Z" fill="#9e9ac8"/>
<path d="M165.8,416.4 C166.3,414.6 167.7,412.2 169.2,411.6 C170.7,410.9 172.9,412.1 175.0,412.5 C177.0,413.0 180.1,413.5 181.7,414.5 C183.3,415.4 184.1,416.7 184.5,418.3 C185.0,419.9 185.3,422.7 184.5,424.0 C183.7,425.4 181.8,426.3 179.8,426.4 C177.7,426.6 174.3,425.7 172.1,425.0 C169.8,424.3 167.4,423.6 166.3,422.1 C165.3,420.7 165.4,418.1 165.8,416.4Z" fill="#e6550d"/>
<path d="M240.2,353.0 C241.7,352.1 245.0,352.1 246.9,353.0 C248.8,354.0 249.5,357.4 251.7,358.8 C254.0,360.2 257.3,361.2 260.4,361.7 C263.4,362.1 267.1,360.2 270.0,361.7 C272.8,363.1 275.4,368.7 277.6,370.3 C279.9,371.9 282.8,369.0 283.4,371.3 C284.0,373.5 282.3,379.7 281.5,383.7 C280.7,387.7 277.8,392.7 278.6,395.3 C279.4,397.8 283.1,398.3 286.3,399.1 C289.5,399.9 294.1,399.3 297.8,400.1 C301.5,400.9 305.2,402.3 308.3,403.9 C311.5,405.5 315.2,408.1 317.0,409.7 C318.7,411.3 319.5,412.9 318.9,413.5 C318.3,414.1 315.4,414.3 313.1,413.5 C310.9,412.7 308.7,410.1 305.5,408.7 C302.3,407.3 297.8,405.8 294.0,404.9 C290.1,403.9 285.6,403.3 282.4,402.9 C279.2,402.6 277.0,402.3 274.8,402.9 C272.5,403.6 271.1,404.9 269.0,406.8 C266.9,408.7 264.5,412.2 262.3,414.5 C260.0,416.7 258.0,418.9 255.6,420.2 C253.2,421.6 249.7,422.9 247.9,422.6 C246.0,422.3 245.1,420.9 244.5,418.3 C244.0,415.7 244.3,410.3 244.5,406.8 C244.8,403.3 245.8,399.7 246.0,397.2 C246.1,394.6 245.2,393.3 245.5,391.4 C245.8,389.5 248.4,386.9 247.9,385.7 C247.3,384.4 244.0,385.0 242.1,383.7 C240.2,382.5 237.3,380.5 236.4,378.0 C235.4,375.4 236.1,371.6 236.4,368.4 C236.7,365.2 237.7,361.3 238.3,358.8 C238.9,356.2 238.8,354.0 240.2,353.0Z" fill="#9ecae1"/>
<path d="M429.0,320.3 C429.5,318.8 431.7,317.4 433.3,316.0 C434.9,314.6 437.0,313.0 438.6,311.7 C440.2,310.5 441.1,309.2 442.9,308.5 C444.6,307.8 447.5,307.3 449.3,307.5 C451.0,307.6 452.3,308.4 453.5,309.6 C454.8,310.8 455.8,313.1 456.7,314.9 C457.6,316.7 459.2,318.3 458.8,320.3 C458.5,322.2 456.2,324.9 454.6,326.7 C453.0,328.4 451.4,330.0 449.3,330.9 C447.1,331.8 444.1,332.3 441.8,332.0 C439.5,331.6 437.3,330.0 435.4,328.8 C433.4,327.5 431.1,325.9 430.1,324.5 C429.0,323.1 428.5,321.7 429.0,320.3Z" fill="#636363"/>
<path d="M346.9,378.9 C347.3,375.9 347.6,371.8 349.0,369.3 C350.5,366.8 352.9,365.6 355.4,364.0 C357.9,362.4 361.1,360.9 364.0,359.7 C366.8,358.5 369.7,356.5 372.5,356.5 C375.3,356.5 378.5,358.5 381.0,359.7 C383.5,360.9 385.5,361.5 387.4,364.0 C389.4,366.5 390.6,371.8 392.8,374.6 C394.9,377.5 398.1,379.2 400.2,381.0 C402.3,382.8 405.2,383.2 405.5,385.3 C405.9,387.4 404.3,392.0 402.3,393.8 C400.4,395.6 395.6,393.8 393.8,395.9 C392.0,398.1 392.6,403.8 391.7,406.6 C390.8,409.5 389.9,411.6 388.5,413.0 C387.1,414.4 385.5,415.5 383.2,415.1 C380.8,414.8 377.1,412.3 374.6,410.9 C372.1,409.5 370.7,408.6 368.2,406.6 C365.7,404.7 362.2,401.3 359.7,399.1 C357.2,397.0 355.4,395.8 353.3,393.8 C351.2,391.9 348.0,389.9 346.9,387.4 C345.8,384.9 346.6,381.9 346.9,378.9Z" fill="#31a354"/>
<path d="M401.3,413.0 C402.2,411.2 404.7,410.2 406.6,409.8 C408.6,409.5 411.1,410.0 413.0,410.9 C415.0,411.8 417.6,413.2 418.3,415.1 C419.0,417.1 418.5,420.8 417.3,422.6 C416.0,424.4 413.0,425.1 410.9,425.8 C408.7,426.5 406.1,427.8 404.5,426.9 C402.9,426.0 401.8,422.8 401.3,420.5 C400.7,418.2 400.4,414.8 401.3,413.0Z" fill="#31a354"/>
<path d="M311.7,427.9 C312.6,424.7 313.9,418.9 316.0,415.1 C318.1,411.4 321.9,407.0 324.5,405.5 C327.2,404.1 329.0,405.9 332.0,406.6 C335.0,407.3 338.4,409.1 342.6,409.8 C346.9,410.5 353.3,410.5 357.6,410.9 C361.8,411.2 366.5,410.0 368.2,411.9 C370.0,413.9 369.7,419.2 368.2,422.6 C366.8,426.0 361.8,428.6 359.7,432.2 C357.6,435.7 357.6,441.1 355.4,443.9 C353.3,446.8 350.3,448.7 346.9,449.3 C343.5,449.8 339.1,447.8 335.2,447.1 C331.3,446.4 327.0,445.9 323.5,445.0 C319.9,444.1 316.0,443.6 313.9,441.8 C311.7,440.0 311.0,436.6 310.7,434.3 C310.3,432.0 310.8,431.1 311.7,427.9Z" fill="#a1d99b"/>
<path d="M356.5,433.3 C359.0,429.4 361.3,422.4 364.0,419.4 C366.6,416.4 368.9,416.4 372.5,415.1 C376.0,413.9 381.0,412.8 385.3,411.9 C389.6,411.1 395.4,408.9 398.1,409.8 C400.7,410.7 400.6,414.3 401.3,417.3 C402.0,420.3 401.5,425.6 402.3,427.9 C403.2,430.2 405.2,430.2 406.6,431.1 C408.0,432.0 411.1,432.0 410.9,433.3 C410.6,434.5 407.5,436.4 405.1,438.6 C402.7,440.8 399.4,443.6 396.6,446.7 C393.7,449.8 390.2,455.0 388.1,457.4 C385.9,459.7 386.0,458.8 383.8,461.0 C381.6,463.2 377.9,467.2 374.6,470.6 C371.3,474.0 367.1,478.6 364.0,481.2 C360.9,483.8 359.3,485.4 356.1,486.1 C352.9,486.9 348.8,486.3 344.8,485.5 C340.8,484.7 335.3,483.0 332.0,481.2 C328.7,479.5 325.2,477.3 325.2,474.8 C325.2,472.4 329.9,468.9 332.0,466.3 C334.1,463.8 336.1,462.3 338.0,459.5 C339.8,456.6 341.4,452.0 343.3,449.3 C345.1,446.5 346.8,445.5 349.0,442.9 C351.2,440.2 354.0,437.2 356.5,433.3Z" fill="#fdae6b"/>
<path d="M310.7,447.1 C311.4,445.2 313.6,444.8 314.9,445.0 C316.3,445.2 318.4,446.4 318.8,448.2 C319.1,450.0 317.9,453.6 317.1,455.7 C316.2,457.7 315.0,460.4 313.9,460.6 C312.7,460.7 310.8,459.0 310.2,456.7 C309.7,454.5 309.9,449.1 310.7,447.1Z" fill="#fdae6b"/>
<path d="M317.1,466.3 C317.8,465.0 320.0,464.8 321.3,465.9 C322.7,467.0 324.6,470.3 325.2,472.7 C325.7,475.1 325.3,478.8 324.5,480.2 C323.7,481.5 321.5,481.9 320.3,480.8 C319.0,479.7 317.6,476.2 317.1,473.8 C316.5,471.4 316.3,467.6 317.1,466.3Z" fill="#fdae6b"/>
<path d="M300.0,399.1 C300.5,398.3 304.1,399.1 306.4,399.7 C308.7,400.2 311.5,401.4 313.9,402.3 C316.2,403.3 319.0,404.1 320.3,405.5 C321.5,407.0 322.0,409.6 321.3,410.9 C320.6,412.1 317.9,413.5 316.0,413.0 C314.0,412.5 311.7,409.1 309.6,407.7 C307.5,406.3 304.8,405.9 303.2,404.5 C301.6,403.1 299.5,399.9 300.0,399.1Z" fill="#9ecae1"/>
<path d="M438.2,379.3 C439.8,378.2 444.6,378.5 448.8,378.4 C452.9,378.3 458.4,378.9 463.2,378.9 C468.0,378.9 473.6,378.5 477.6,378.4 C481.6,378.3 484.6,378.7 487.2,378.4 C489.7,378.1 491.3,377.4 492.9,376.5 C494.5,375.5 495.7,374.2 496.8,372.6 C497.9,371.0 498.5,368.0 499.7,366.9 C500.8,365.8 501.6,365.8 503.5,365.9 C505.4,366.1 508.9,367.7 511.2,367.8 C513.4,368.0 515.2,366.7 516.9,366.9 C518.7,367.0 520.8,367.2 521.7,368.8 C522.7,370.4 523.6,374.9 522.7,376.5 C521.7,378.1 518.7,377.9 516.0,378.4 C513.3,378.9 508.8,378.5 506.4,379.3 C504.0,380.1 502.7,381.7 501.6,383.2 C500.5,384.6 501.1,386.7 499.7,388.0 C498.2,389.3 495.3,390.5 492.9,390.9 C490.5,391.2 487.8,389.4 485.3,389.9 C482.7,390.4 480.1,393.3 477.6,393.7 C475.0,394.2 472.3,392.1 469.9,392.8 C467.5,393.4 464.8,395.5 463.2,397.6 C461.6,399.7 461.9,403.3 460.3,405.3 C458.7,407.2 455.5,408.5 453.6,409.1 C451.7,409.7 450.1,410.4 448.8,409.1 C447.5,407.8 447.0,404.3 445.9,401.4 C444.8,398.5 443.2,394.5 442.1,391.8 C441.0,389.1 439.8,387.2 439.2,385.1 C438.6,383.0 436.6,380.5 438.2,379.3Z" fill="#31a354"/>
<path d="M496.8,389.9 C498.1,387.7 501.9,387.2 504.5,386.1 C507.0,384.9 509.4,384.1 512.1,383.2 C514.8,382.2 517.7,381.1 520.8,380.3 C523.8,379.5 526.4,378.9 530.4,378.4 C534.4,377.9 540.0,377.4 544.8,377.4 C549.6,377.4 555.5,377.7 559.2,378.4 C562.8,379.0 565.2,379.7 566.8,381.3 C568.4,382.9 569.2,385.6 568.8,388.0 C568.3,390.4 564.9,393.1 564.0,395.7 C563.0,398.2 563.8,400.8 563.0,403.3 C562.2,405.9 560.9,409.6 559.2,411.0 C557.4,412.5 554.8,412.3 552.4,412.0 C550.0,411.7 547.2,410.2 544.8,409.1 C542.4,408.0 540.4,406.5 538.0,405.3 C535.6,404.0 533.2,402.1 530.4,401.4 C527.5,400.8 523.2,400.5 520.8,401.4 C518.4,402.4 517.4,404.9 516.0,407.2 C514.5,409.4 513.7,412.8 512.1,414.9 C510.5,416.9 508.0,419.7 506.4,419.7 C504.8,419.7 503.7,416.9 502.5,414.9 C501.4,412.8 500.6,409.7 499.7,407.2 C498.7,404.6 497.3,402.4 496.8,399.5 C496.3,396.6 495.5,392.1 496.8,389.9Z" fill="#74c476"/>
<path d="M448.8,422.5 C449.6,419.7 450.7,415.5 452.6,412.9 C454.5,410.4 457.7,409.4 460.3,407.2 C462.9,404.9 465.1,401.7 468.0,399.5 C470.9,397.3 474.4,395.3 477.6,393.7 C480.8,392.1 484.0,390.2 487.2,389.9 C490.4,389.6 494.5,390.2 496.8,391.8 C499.0,393.4 499.5,396.6 500.6,399.5 C501.7,402.4 502.5,406.2 503.5,409.1 C504.5,412.0 506.2,414.2 506.4,416.8 C506.5,419.3 505.7,421.6 504.5,424.5 C503.2,427.3 500.3,431.2 498.7,434.0 C497.1,436.9 496.1,439.0 494.9,441.7 C493.6,444.4 492.6,447.8 491.0,450.4 C489.4,452.9 487.8,455.8 485.3,457.1 C482.7,458.4 479.0,458.4 475.7,458.0 C472.3,457.7 468.3,456.8 465.1,455.2 C461.9,453.6 459.0,451.3 456.5,448.4 C453.9,445.6 451.2,440.9 449.8,437.9 C448.3,434.8 448.0,432.8 447.8,430.2 C447.7,427.7 448.0,425.4 448.8,422.5Z" fill="#bcbddc"/>
<path d="M441.1,416.8 C441.6,415.5 443.7,414.9 445.0,414.9 C446.2,414.9 448.0,415.7 448.8,416.8 C449.6,417.9 450.1,420.3 449.8,421.6 C449.4,422.9 448.2,424.3 446.9,424.5 C445.6,424.6 443.0,423.8 442.1,422.5 C441.1,421.3 440.6,418.1 441.1,416.8Z" fill="#9ecae1"/>
<path d="M563.0,391.8 C563.5,390.8 565.6,389.7 566.8,389.9 C568.1,390.1 570.4,391.7 570.7,392.8 C571.0,393.9 569.9,396.1 568.8,396.6 C567.6,397.2 564.9,396.9 564.0,396.1 C563.0,395.3 562.5,392.9 563.0,391.8Z" fill="#fdae6b"/>
<path d="M505.0,281.8 C506.8,280.6 511.3,278.6 514.6,278.6 C518.0,278.6 521.7,281.1 525.3,281.8 C528.8,282.5 533.5,281.8 535.9,282.9 C538.4,284.0 538.4,286.5 540.2,288.2 C542.0,290.0 544.8,292.7 546.6,293.6 C548.4,294.4 550.9,293.0 550.9,293.6 C550.9,294.1 548.2,295.5 546.6,296.8 C545.0,298.0 542.3,298.5 541.3,301.0 C540.2,303.5 540.6,308.7 540.2,311.7 C539.9,314.7 540.6,317.4 539.1,319.1 C537.7,320.9 534.0,321.1 531.7,322.3 C529.4,323.6 526.7,325.2 525.3,326.6 C523.9,328.0 526.0,330.9 523.2,330.9 C520.3,330.9 512.1,329.1 508.2,326.6 C504.3,324.1 502.2,318.8 499.7,315.9 C497.2,313.1 494.5,312.0 493.3,309.6 C492.1,307.1 492.2,303.5 492.2,301.0 C492.2,298.5 492.1,296.4 493.3,294.6 C494.5,292.9 497.9,291.8 499.7,290.4 C501.5,288.9 503.1,287.5 504.0,286.1 C504.9,284.7 503.3,283.1 505.0,281.8Z" fill="#fd8d3c"/>
<path d="M585.0,284.0 C585.7,282.4 588.9,280.6 591.4,279.7 C593.9,278.8 597.1,278.1 599.9,278.6 C602.8,279.2 606.0,280.9 608.4,282.9 C610.9,284.9 612.7,288.2 614.8,290.4 C617.0,292.5 619.8,293.7 621.2,295.7 C622.7,297.6 623.5,300.7 623.4,302.1 C623.2,303.5 622.3,304.0 620.2,304.2 C618.0,304.4 613.4,304.0 610.6,303.2 C607.7,302.3 605.8,300.5 603.1,298.9 C600.4,297.3 597.2,295.2 594.6,293.6 C591.9,292.0 588.7,290.9 587.1,289.3 C585.5,287.7 584.3,285.6 585.0,284.0Z" fill="#6baed6"/>
<path d="M340.8,261.1 C343.2,259.2 348.1,259.9 353.1,260.2 C358.1,260.5 366.9,260.9 370.7,262.8 C374.5,264.7 376.3,268.4 376.0,271.6 C375.7,274.9 372.2,279.7 369.0,282.2 C365.7,284.7 360.5,286.6 356.6,286.6 C352.8,286.6 349.0,284.7 346.1,282.2 C343.2,279.7 339.9,275.2 339.1,271.6 C338.2,268.1 338.5,263.0 340.8,261.1Z" fill="#fff" fill-opacity="0.6"/>
<path d="M405.9,109.8 C408.2,106.6 417.6,105.0 423.5,104.5 C429.4,104.1 435.2,106.1 441.1,107.2 C446.9,108.2 456.3,107.9 458.7,110.7 C461.0,113.5 458.1,120.9 455.2,123.9 C452.2,126.8 446.4,127.3 441.1,128.3 C435.8,129.3 428.8,130.8 423.5,130.0 C418.2,129.3 412.4,127.3 409.4,123.9 C406.5,120.5 403.6,113.0 405.9,109.8Z" fill="#fff" fill-opacity="0.45"/>
<path d="M404.1,85.2 C406.2,83.1 413.2,82.5 416.5,83.4 C419.7,84.3 423.8,88.1 423.5,90.5 C423.2,92.8 417.9,96.6 414.7,97.5 C411.5,98.4 405.9,97.8 404.1,95.7 C402.4,93.7 402.1,87.2 404.1,85.2Z" fill="#fff" fill-opacity="0.45"/>
<path d="M478.0,213.6 C478.6,210.2 481.0,206.8 483.3,204.8 C485.6,202.7 490.0,200.1 492.1,201.3 C494.1,202.4 495.9,208.0 495.6,211.8 C495.3,215.6 493.0,221.9 490.3,224.1 C487.7,226.3 481.8,226.8 479.8,225.0 C477.7,223.3 477.4,217.0 478.0,213.6Z" fill="#9ecae1" fill-opacity="0.85"/>
<g fill="#31a354"><circle cx="349.2" cy="161.2" r="1.7"/><circle cx="377.1" cy="157.9" r="1.7"/><circle cx="352.5" cy="162.1" r="1.7"/><circle cx="333.3" cy="159.5" r="1.7"/><circle cx="359.7" cy="169.4" r="1.7"/><circle cx="327.9" cy="152.1" r="1.7"/><circle cx="327.7" cy="170.0" r="1.7"/><circle cx="361.1" cy="163.1" r="1.7"/><circle cx="333.6" cy="150.0" r="1.7"/><circle cx="324.1" cy="157.8" r="1.7"/><circle cx="348.5" cy="171.1" r="1.7"/><circle cx="353.1" cy="164.0" r="1.7"/><circle cx="352.0" cy="164.8" r="1.7"/><circle cx="349.5" cy="151.3" r="1.7"/><circle cx="372.2" cy="166.4" r="1.7"/><circle cx="341.0" cy="149.5" r="1.7"/><circle cx="339.5" cy="143.9" r="1.7"/><circle cx="367.8" cy="155.6" r="1.7"/><circle cx="372.5" cy="155.1" r="1.7"/><circle cx="376.3" cy="158.0" r="1.7"/><circle cx="380.5" cy="155.5" r="1.7"/><circle cx="326.7" cy="163.6" r="1.7"/><circle cx="368.5" cy="151.0" r="1.7"/><circle cx="327.5" cy="153.2" r="1.7"/><circle cx="329.3" cy="150.1" r="1.7"/><circle cx="369.6" cy="147.7" r="1.7"/><circle cx="355.5" cy="157.2" r="1.7"/><circle cx="333.7" cy="167.2" r="1.7"/></g>
<g fill="#31a354"><circle cx="355.7" cy="123.1" r="1.7"/><circle cx="355.3" cy="109.3" r="1.7"/><circle cx="357.9" cy="100.0" r="1.7"/><circle cx="377.9" cy="132.9" r="1.7"/><circle cx="360.3" cy="137.9" r="1.7"/><circle cx="357.8" cy="107.7" r="1.7"/><circle cx="374.8" cy="122.9" r="1.7"/><circle cx="357.9" cy="99.3" r="1.7"/><circle cx="372.6" cy="103.7" r="1.7"/><circle cx="360.1" cy="87.9" r="1.7"/><circle cx="354.6" cy="119.3" r="1.7"/><circle cx="358.7" cy="120.4" r="1.7"/><circle cx="362.1" cy="111.3" r="1.7"/><circle cx="367.4" cy="136.8" r="1.7"/><circle cx="357.1" cy="92.9" r="1.7"/><circle cx="376.2" cy="133.8" r="1.7"/><circle cx="358.8" cy="95.1" r="1.7"/><circle cx="375.5" cy="120.6" r="1.7"/><circle cx="363.4" cy="89.8" r="1.7"/><circle cx="358.5" cy="126.8" r="1.7"/><circle cx="359.0" cy="134.1" r="1.7"/><circle cx="368.0" cy="101.5" r="1.7"/></g>
<g fill="#31a354"><circle cx="433.3" cy="224.6" r="1.7"/><circle cx="435.3" cy="229.0" r="1.7"/><circle cx="442.2" cy="235.2" r="1.7"/><circle cx="428.7" cy="225.5" r="1.7"/><circle cx="435.2" cy="224.5" r="1.7"/><circle cx="433.6" cy="221.4" r="1.7"/><circle cx="412.7" cy="209.3" r="1.7"/><circle cx="442.4" cy="227.4" r="1.7"/><circle cx="438.2" cy="236.8" r="1.7"/><circle cx="439.5" cy="234.4" r="1.7"/><circle cx="415.8" cy="209.3" r="1.7"/><circle cx="423.2" cy="213.2" r="1.7"/><circle cx="430.6" cy="221.3" r="1.7"/><circle cx="434.1" cy="224.1" r="1.7"/></g>
<g fill="#31a354"><circle cx="422.2" cy="124.7" r="1.7"/><circle cx="449.7" cy="110.6" r="1.7"/><circle cx="439.1" cy="115.9" r="1.7"/><circle cx="439.1" cy="121.2" r="1.7"/><circle cx="442.0" cy="109.6" r="1.7"/><circle cx="431.0" cy="109.1" r="1.7"/><circle cx="443.6" cy="109.1" r="1.7"/><circle cx="420.3" cy="113.3" r="1.7"/><circle cx="442.7" cy="117.8" r="1.7"/><circle cx="438.3" cy="123.8" r="1.7"/></g>
<g fill="#31a354"><circle cx="376.0" cy="68.7" r="1.5"/><circle cx="381.8" cy="66.2" r="1.6"/><circle cx="379.9" cy="70.0" r="1.7"/><circle cx="383.1" cy="62.2" r="1.6"/><circle cx="394.5" cy="66.7" r="1.8"/><circle cx="392.8" cy="61.0" r="1.8"/><circle cx="401.8" cy="60.2" r="1.8"/><circle cx="407.1" cy="59.5" r="1.6"/><circle cx="396.8" cy="62.2" r="1.8"/><circle cx="420.1" cy="72.7" r="1.5"/><circle cx="419.3" cy="77.8" r="1.8"/><circle cx="414.3" cy="70.1" r="1.8"/><circle cx="423.6" cy="80.4" r="1.7"/><circle cx="428.2" cy="88.3" r="1.7"/><circle cx="430.6" cy="86.4" r="1.7"/><circle cx="436.8" cy="93.7" r="1.6"/><circle cx="440.3" cy="93.5" r="1.8"/><circle cx="454.8" cy="105.4" r="1.5"/><circle cx="447.0" cy="101.3" r="1.5"/><circle cx="455.5" cy="105.7" r="1.8"/><circle cx="447.0" cy="101.9" r="1.5"/><circle cx="464.5" cy="112.0" r="1.8"/><circle cx="463.0" cy="107.7" r="1.6"/><circle cx="478.3" cy="108.1" r="1.6"/><circle cx="458.3" cy="103.1" r="1.5"/><circle cx="493.8" cy="115.7" r="1.5"/><circle cx="489.6" cy="117.1" r="1.7"/><circle cx="481.3" cy="110.0" r="1.7"/><circle cx="499.7" cy="123.8" r="1.6"/><circle cx="497.5" cy="124.4" r="1.5"/><circle cx="495.6" cy="117.4" r="1.7"/><circle cx="502.2" cy="127.0" r="1.5"/><circle cx="516.5" cy="144.4" r="1.6"/><circle cx="512.3" cy="139.0" r="1.9"/><circle cx="517.0" cy="154.4" r="1.8"/><circle cx="514.2" cy="141.4" r="1.6"/><circle cx="516.7" cy="152.6" r="1.7"/><circle cx="518.1" cy="159.7" r="1.8"/><circle cx="527.5" cy="181.4" r="1.8"/><circle cx="520.5" cy="166.4" r="1.5"/><circle cx="520.9" cy="158.9" r="1.7"/><circle cx="522.7" cy="170.9" r="1.5"/><circle cx="535.9" cy="199.0" r="1.5"/><circle cx="528.6" cy="180.7" r="1.8"/><circle cx="524.2" cy="188.3" r="1.6"/><circle cx="532.7" cy="194.2" r="1.8"/><circle cx="522.4" cy="185.5" r="1.6"/><circle cx="532.0" cy="208.8" r="1.5"/><circle cx="530.5" cy="213.3" r="1.8"/><circle cx="526.8" cy="215.0" r="1.7"/><circle cx="521.1" cy="225.6" r="1.8"/><circle cx="523.3" cy="220.7" r="1.6"/><circle cx="515.3" cy="232.8" r="1.8"/><circle cx="510.1" cy="236.7" r="1.5"/><circle cx="508.1" cy="237.4" r="1.6"/><circle cx="504.5" cy="236.8" r="1.8"/><circle cx="494.8" cy="237.1" r="1.7"/><circle cx="489.4" cy="242.0" r="1.7"/><circle cx="484.5" cy="220.2" r="1.5"/><circle cx="485.1" cy="225.9" r="1.6"/><circle cx="494.0" cy="233.3" r="1.5"/><circle cx="478.1" cy="225.4" r="1.7"/><circle cx="455.0" cy="227.5" r="1.7"/><circle cx="468.7" cy="231.8" r="1.8"/><circle cx="480.4" cy="225.5" r="1.6"/><circle cx="456.2" cy="230.4" r="1.5"/><circle cx="446.1" cy="227.7" r="1.7"/><circle cx="456.2" cy="232.9" r="1.7"/><circle cx="444.2" cy="220.8" r="1.5"/><circle cx="446.6" cy="223.7" r="1.8"/><circle cx="446.8" cy="219.2" r="1.5"/><circle cx="424.6" cy="204.6" r="1.8"/><circle cx="423.6" cy="211.8" r="1.5"/><circle cx="433.2" cy="208.2" r="1.6"/><circle cx="412.9" cy="193.0" r="1.5"/><circle cx="414.1" cy="199.8" r="1.5"/><circle cx="419.0" cy="202.1" r="1.7"/><circle cx="404.7" cy="197.7" r="1.6"/><circle cx="391.8" cy="191.4" r="1.8"/><circle cx="401.3" cy="194.6" r="1.8"/><circle cx="397.8" cy="203.4" r="1.6"/><circle cx="396.1" cy="202.1" r="1.7"/><circle cx="400.2" cy="206.5" r="1.9"/><circle cx="411.3" cy="221.0" r="1.5"/><circle cx="400.0" cy="214.1" r="1.5"/><circle cx="407.4" cy="216.8" r="1.7"/><circle cx="404.8" cy="214.6" r="1.6"/><circle cx="411.5" cy="229.1" r="1.8"/><circle cx="415.9" cy="226.9" r="1.7"/><circle cx="420.4" cy="235.4" r="1.6"/><circle cx="425.4" cy="249.9" r="1.9"/><circle cx="420.4" cy="239.0" r="1.8"/><circle cx="424.5" cy="242.6" r="1.8"/><circle cx="432.0" cy="252.2" r="1.7"/><circle cx="426.4" cy="260.5" r="1.5"/><circle cx="424.5" cy="258.7" r="1.6"/><circle cx="419.5" cy="258.8" r="1.5"/><circle cx="413.1" cy="258.2" r="1.5"/><circle cx="404.0" cy="257.4" r="1.8"/><circle cx="390.8" cy="256.6" r="1.6"/><circle cx="397.3" cy="261.2" r="1.8"/><circle cx="389.6" cy="255.8" r="1.6"/><circle cx="388.2" cy="254.7" r="1.7"/><circle cx="373.0" cy="258.3" r="1.7"/><circle cx="381.8" cy="248.5" r="1.6"/><circle cx="373.5" cy="261.4" r="1.7"/><circle cx="383.0" cy="269.0" r="1.5"/><circle cx="382.0" cy="266.8" r="1.5"/><circle cx="394.7" cy="282.9" r="1.7"/><circle cx="387.4" cy="271.5" r="1.5"/><circle cx="388.7" cy="273.2" r="1.8"/><circle cx="395.8" cy="297.8" r="1.7"/><circle cx="396.0" cy="292.1" r="1.7"/><circle cx="398.9" cy="300.7" r="1.7"/><circle cx="406.2" cy="304.4" r="1.8"/><circle cx="402.6" cy="307.8" r="1.7"/><circle cx="396.6" cy="319.6" r="1.5"/><circle cx="402.0" cy="317.6" r="1.5"/><circle cx="392.6" cy="321.4" r="1.9"/><circle cx="396.3" cy="321.4" r="1.7"/><circle cx="386.3" cy="321.8" r="1.6"/><circle cx="372.8" cy="316.7" r="1.5"/><circle cx="379.6" cy="321.8" r="1.7"/><circle cx="372.3" cy="318.7" r="1.6"/><circle cx="379.6" cy="317.8" r="1.7"/><circle cx="348.5" cy="302.1" r="1.8"/><circle cx="347.0" cy="303.1" r="1.9"/><circle cx="356.6" cy="307.7" r="1.8"/><circle cx="348.4" cy="304.2" r="1.7"/><circle cx="363.9" cy="309.8" r="1.5"/><circle cx="344.7" cy="299.4" r="1.8"/><circle cx="337.7" cy="288.1" r="1.5"/><circle cx="343.2" cy="299.8" r="1.7"/><circle cx="341.9" cy="290.0" r="1.7"/><circle cx="333.1" cy="285.2" r="1.8"/><circle cx="322.2" cy="286.0" r="1.6"/><circle cx="326.3" cy="288.3" r="1.6"/><circle cx="310.3" cy="295.9" r="1.6"/><circle cx="310.4" cy="299.5" r="1.5"/><circle cx="305.5" cy="303.1" r="1.7"/><circle cx="313.7" cy="297.3" r="1.6"/><circle cx="301.0" cy="301.9" r="1.7"/><circle cx="299.3" cy="294.4" r="1.6"/><circle cx="303.7" cy="293.2" r="1.7"/><circle cx="291.6" cy="290.0" r="1.5"/><circle cx="293.5" cy="282.1" r="1.9"/><circle cx="285.9" cy="281.4" r="1.6"/><circle cx="287.2" cy="277.4" r="1.6"/><circle cx="274.9" cy="278.0" r="1.5"/><circle cx="266.9" cy="286.8" r="1.7"/><circle cx="267.6" cy="285.5" r="1.5"/><circle cx="265.9" cy="284.1" r="1.7"/><circle cx="258.0" cy="284.6" r="1.7"/><circle cx="263.8" cy="283.6" r="1.5"/><circle cx="250.0" cy="275.8" r="1.6"/><circle cx="241.3" cy="268.4" r="1.8"/><circle cx="243.6" cy="275.8" r="1.5"/><circle cx="238.3" cy="253.5" r="1.8"/><circle cx="240.2" cy="256.6" r="1.6"/><circle cx="239.8" cy="260.4" r="1.6"/><circle cx="247.1" cy="241.4" r="1.7"/><circle cx="242.8" cy="244.7" r="1.7"/><circle cx="242.8" cy="248.0" r="1.7"/><circle cx="260.9" cy="233.0" r="1.8"/><circle cx="257.3" cy="237.7" r="1.5"/><circle cx="252.4" cy="243.1" r="1.7"/><circle cx="273.2" cy="229.6" r="1.6"/><circle cx="268.7" cy="232.1" r="1.8"/><circle cx="271.6" cy="227.7" r="1.6"/><circle cx="286.0" cy="225.7" r="1.7"/><circle cx="285.3" cy="222.3" r="1.8"/><circle cx="281.5" cy="221.0" r="1.5"/><circle cx="290.4" cy="221.0" r="1.5"/><circle cx="306.1" cy="203.9" r="1.6"/><circle cx="300.1" cy="206.5" r="1.7"/><circle cx="303.0" cy="207.6" r="1.6"/><circle cx="300.4" cy="205.3" r="1.5"/><circle cx="303.6" cy="201.2" r="1.6"/><circle cx="308.0" cy="197.0" r="1.5"/><circle cx="298.2" cy="178.9" r="1.6"/><circle cx="300.5" cy="180.2" r="1.8"/><circle cx="300.2" cy="172.3" r="1.8"/><circle cx="293.0" cy="175.0" r="1.8"/><circle cx="292.1" cy="171.4" r="1.8"/><circle cx="300.9" cy="176.5" r="1.8"/><circle cx="281.1" cy="145.1" r="1.6"/><circle cx="286.8" cy="151.3" r="1.6"/><circle cx="285.6" cy="153.4" r="1.7"/><circle cx="286.3" cy="154.5" r="1.6"/><circle cx="293.3" cy="161.3" r="1.9"/><circle cx="285.8" cy="123.1" r="1.8"/><circle cx="283.1" cy="132.6" r="1.8"/><circle cx="283.3" cy="137.8" r="1.7"/><circle cx="286.4" cy="118.1" r="1.6"/><circle cx="288.4" cy="135.6" r="1.8"/><circle cx="285.9" cy="113.3" r="1.5"/><circle cx="286.6" cy="115.0" r="1.7"/><circle cx="295.7" cy="101.6" r="1.5"/><circle cx="301.9" cy="94.3" r="1.5"/><circle cx="301.9" cy="91.6" r="1.5"/><circle cx="305.9" cy="88.6" r="1.7"/><circle cx="296.3" cy="97.7" r="1.5"/><circle cx="315.0" cy="88.9" r="1.8"/><circle cx="319.6" cy="86.8" r="1.8"/><circle cx="314.3" cy="85.9" r="1.6"/><circle cx="333.3" cy="86.0" r="1.5"/><circle cx="332.6" cy="81.9" r="1.7"/><circle cx="333.9" cy="83.9" r="1.6"/><circle cx="346.0" cy="91.5" r="1.7"/><circle cx="341.0" cy="85.7" r="1.7"/><circle cx="346.3" cy="90.8" r="1.6"/><circle cx="349.5" cy="96.0" r="1.6"/><circle cx="351.9" cy="105.4" r="1.7"/><circle cx="359.0" cy="104.9" r="1.5"/><circle cx="352.3" cy="111.8" r="1.8"/><circle cx="353.7" cy="118.1" r="1.7"/><circle cx="348.9" cy="125.1" r="1.7"/><circle cx="353.6" cy="127.7" r="1.7"/><circle cx="353.5" cy="141.3" r="1.5"/><circle cx="353.2" cy="145.6" r="1.8"/><circle cx="362.1" cy="145.4" r="1.7"/><circle cx="353.5" cy="144.8" r="1.5"/><circle cx="370.8" cy="141.7" r="1.8"/><circle cx="366.3" cy="147.2" r="1.7"/><circle cx="367.5" cy="146.4" r="1.8"/><circle cx="379.9" cy="140.5" r="1.7"/><circle cx="379.4" cy="134.9" r="1.6"/><circle cx="378.4" cy="133.6" r="1.7"/><circle cx="378.5" cy="126.6" r="1.8"/><circle cx="379.5" cy="130.0" r="1.7"/><circle cx="374.8" cy="99.9" r="1.6"/><circle cx="378.0" cy="116.5" r="1.5"/><circle cx="376.6" cy="99.8" r="1.5"/><circle cx="376.2" cy="107.3" r="1.5"/><circle cx="371.5" cy="88.2" r="1.6"/><circle cx="372.6" cy="92.4" r="1.9"/><circle cx="368.9" cy="78.5" r="1.6"/></g>
<g fill="#756bb1"><circle cx="355.4" cy="206.1" r="1.8"/><circle cx="356.6" cy="208.4" r="1.7"/><circle cx="362.0" cy="205.1" r="1.5"/><circle cx="368.6" cy="202.3" r="1.7"/><circle cx="367.0" cy="218.9" r="1.8"/><circle cx="370.4" cy="220.2" r="1.6"/><circle cx="369.0" cy="226.7" r="1.5"/><circle cx="365.9" cy="231.4" r="1.6"/><circle cx="358.0" cy="219.3" r="1.5"/><circle cx="363.8" cy="222.1" r="1.6"/><circle cx="361.8" cy="221.6" r="1.6"/><circle cx="361.5" cy="212.2" r="1.6"/><circle cx="355.4" cy="213.2" r="1.6"/></g>
<g fill="#969696"><circle cx="105.6" cy="216.3" r="1.5"/><circle cx="105.1" cy="228.1" r="1.8"/><circle cx="108.8" cy="213.1" r="1.5"/><circle cx="108.8" cy="216.4" r="1.5"/><circle cx="119.7" cy="208.0" r="1.6"/><circle cx="119.7" cy="210.9" r="1.6"/><circle cx="122.5" cy="198.9" r="1.5"/><circle cx="126.1" cy="194.6" r="1.6"/><circle cx="132.8" cy="197.1" r="1.6"/><circle cx="136.4" cy="194.4" r="1.7"/><circle cx="141.9" cy="187.2" r="1.6"/><circle cx="151.7" cy="194.5" r="1.7"/><circle cx="155.1" cy="193.9" r="1.5"/><circle cx="161.1" cy="200.9" r="1.6"/><circle cx="152.2" cy="198.2" r="1.7"/><circle cx="162.3" cy="204.7" r="1.6"/><circle cx="156.7" cy="204.5" r="1.5"/><circle cx="152.0" cy="212.4" r="1.7"/><circle cx="148.8" cy="222.1" r="1.5"/><circle cx="151.3" cy="221.1" r="1.6"/><circle cx="149.6" cy="227.0" r="1.6"/><circle cx="151.8" cy="229.8" r="1.6"/><circle cx="140.0" cy="239.6" r="1.7"/><circle cx="143.6" cy="236.8" r="1.9"/><circle cx="132.9" cy="240.5" r="1.8"/><circle cx="134.5" cy="243.1" r="1.6"/><circle cx="133.9" cy="244.6" r="1.6"/><circle cx="127.3" cy="254.3" r="1.7"/><circle cx="118.0" cy="260.1" r="1.5"/><circle cx="115.7" cy="257.5" r="1.5"/><circle cx="106.7" cy="249.0" r="1.5"/><circle cx="105.5" cy="242.8" r="1.7"/><circle cx="108.9" cy="229.6" r="1.6"/><circle cx="107.3" cy="236.2" r="1.7"/></g>
<g fill="#3182bd"><circle cx="130.9" cy="241.4" r="1.8"/><circle cx="133.4" cy="245.0" r="1.7"/><circle cx="139.0" cy="256.6" r="1.7"/><circle cx="141.8" cy="260.4" r="1.5"/><circle cx="138.0" cy="260.4" r="1.5"/><circle cx="134.1" cy="256.7" r="1.6"/><circle cx="128.5" cy="251.0" r="1.8"/></g>
<g fill="#3182bd"><circle cx="187.7" cy="306.8" r="1.7"/><circle cx="182.3" cy="309.4" r="1.6"/><circle cx="193.3" cy="303.4" r="1.8"/><circle cx="197.4" cy="297.8" r="1.6"/><circle cx="199.2" cy="297.4" r="1.8"/><circle cx="203.0" cy="304.3" r="1.5"/><circle cx="219.3" cy="307.2" r="1.8"/><circle cx="233.9" cy="318.5" r="1.6"/><circle cx="219.8" cy="315.5" r="1.9"/><circle cx="212.9" cy="304.1" r="1.5"/><circle cx="233.7" cy="308.0" r="1.5"/><circle cx="238.3" cy="316.8" r="1.7"/><circle cx="243.6" cy="322.4" r="1.8"/><circle cx="241.6" cy="320.1" r="1.8"/><circle cx="254.4" cy="325.7" r="1.7"/><circle cx="255.6" cy="328.5" r="1.5"/><circle cx="248.1" cy="335.7" r="1.5"/><circle cx="250.7" cy="335.4" r="1.5"/><circle cx="250.1" cy="344.1" r="1.6"/><circle cx="251.7" cy="346.7" r="1.5"/><circle cx="242.2" cy="352.2" r="1.5"/><circle cx="237.5" cy="352.6" r="1.8"/><circle cx="231.6" cy="355.0" r="1.6"/><circle cx="225.3" cy="353.0" r="1.7"/><circle cx="231.8" cy="353.3" r="1.9"/><circle cx="219.6" cy="356.3" r="1.5"/><circle cx="214.0" cy="362.2" r="1.5"/><circle cx="208.0" cy="349.0" r="1.7"/><circle cx="206.4" cy="352.9" r="1.4"/><circle cx="201.4" cy="339.7" r="1.8"/><circle cx="194.2" cy="335.1" r="1.8"/><circle cx="185.6" cy="338.1" r="1.6"/><circle cx="175.1" cy="341.7" r="1.5"/><circle cx="170.5" cy="339.3" r="1.6"/><circle cx="170.6" cy="331.2" r="1.7"/><circle cx="171.7" cy="336.1" r="1.6"/><circle cx="174.8" cy="331.4" r="1.5"/><circle cx="177.5" cy="315.7" r="1.5"/></g>
<g fill="#9e9ac8"><circle cx="138.2" cy="317.9" r="1.6"/><circle cx="138.5" cy="317.1" r="1.6"/><circle cx="154.1" cy="323.6" r="1.8"/><circle cx="150.9" cy="321.5" r="1.9"/><circle cx="156.9" cy="331.2" r="1.6"/><circle cx="148.4" cy="339.2" r="1.7"/><circle cx="138.3" cy="343.0" r="1.6"/><circle cx="138.4" cy="339.7" r="1.6"/><circle cx="137.8" cy="335.5" r="1.8"/><circle cx="134.2" cy="321.9" r="1.7"/><circle cx="138.3" cy="319.0" r="1.6"/></g>
<g fill="#9e9ac8"><circle cx="134.0" cy="347.4" r="1.5"/><circle cx="141.7" cy="344.7" r="1.5"/><circle cx="141.5" cy="347.2" r="1.7"/><circle cx="155.9" cy="353.5" r="1.9"/><circle cx="155.7" cy="362.6" r="1.9"/><circle cx="157.0" cy="354.4" r="1.9"/><circle cx="156.4" cy="368.6" r="1.7"/><circle cx="146.4" cy="364.4" r="1.7"/><circle cx="148.4" cy="370.7" r="1.7"/><circle cx="142.1" cy="365.3" r="1.7"/><circle cx="135.8" cy="368.5" r="1.7"/><circle cx="129.1" cy="364.2" r="1.7"/><circle cx="130.4" cy="354.6" r="1.8"/><circle cx="134.0" cy="347.9" r="1.5"/></g>
<g fill="#e6550d"><circle cx="167.6" cy="415.0" r="1.6"/><circle cx="174.8" cy="411.3" r="1.5"/><circle cx="179.7" cy="410.4" r="1.8"/><circle cx="183.6" cy="414.6" r="1.7"/><circle cx="184.3" cy="421.6" r="1.7"/><circle cx="184.8" cy="425.3" r="1.6"/><circle cx="174.3" cy="429.0" r="1.7"/><circle cx="173.8" cy="427.4" r="1.6"/><circle cx="170.9" cy="425.5" r="1.7"/></g>
<g fill="#9ecae1"><circle cx="245.4" cy="361.0" r="1.7"/><circle cx="249.0" cy="359.0" r="1.6"/><circle cx="251.1" cy="357.2" r="1.8"/><circle cx="252.3" cy="360.8" r="1.8"/><circle cx="263.1" cy="359.8" r="1.7"/><circle cx="264.6" cy="360.1" r="1.8"/><circle cx="269.3" cy="369.2" r="1.6"/><circle cx="273.4" cy="366.4" r="1.5"/><circle cx="279.5" cy="373.5" r="1.9"/><circle cx="281.5" cy="371.3" r="1.5"/><circle cx="286.3" cy="380.5" r="1.6"/><circle cx="277.6" cy="392.6" r="1.8"/><circle cx="278.6" cy="390.2" r="1.8"/><circle cx="277.6" cy="397.5" r="1.8"/><circle cx="290.9" cy="404.4" r="1.8"/><circle cx="284.6" cy="396.9" r="1.6"/><circle cx="301.1" cy="405.4" r="1.7"/><circle cx="316.1" cy="402.6" r="1.6"/><circle cx="313.1" cy="405.4" r="1.9"/><circle cx="306.4" cy="404.9" r="1.7"/><circle cx="319.4" cy="413.4" r="1.6"/><circle cx="308.7" cy="415.4" r="1.5"/><circle cx="301.4" cy="405.1" r="1.8"/><circle cx="304.1" cy="403.8" r="1.8"/><circle cx="292.1" cy="404.7" r="1.8"/><circle cx="283.5" cy="402.7" r="1.6"/><circle cx="277.1" cy="402.7" r="1.8"/><circle cx="271.7" cy="404.0" r="1.7"/><circle cx="270.8" cy="409.4" r="1.6"/><circle cx="263.8" cy="415.4" r="1.5"/><circle cx="257.7" cy="416.7" r="1.6"/><circle cx="253.0" cy="425.3" r="1.5"/><circle cx="242.0" cy="418.0" r="1.7"/><circle cx="247.1" cy="407.7" r="1.4"/><circle cx="246.3" cy="412.7" r="1.7"/><circle cx="244.1" cy="405.2" r="1.5"/><circle cx="248.6" cy="403.1" r="1.8"/><circle cx="245.0" cy="397.4" r="1.6"/><circle cx="247.8" cy="389.6" r="1.7"/><circle cx="248.9" cy="380.3" r="1.7"/><circle cx="241.4" cy="379.4" r="1.6"/><circle cx="236.2" cy="373.4" r="1.6"/><circle cx="234.6" cy="375.6" r="1.6"/><circle cx="236.9" cy="367.1" r="1.7"/><circle cx="235.9" cy="364.2" r="1.5"/><circle cx="237.8" cy="359.4" r="1.5"/></g>
<g fill="#636363"><circle cx="431.8" cy="317.1" r="1.6"/><circle cx="441.9" cy="312.0" r="1.9"/><circle cx="438.1" cy="309.1" r="1.6"/><circle cx="444.8" cy="306.7" r="1.7"/><circle cx="451.5" cy="307.7" r="1.5"/><circle cx="453.7" cy="315.5" r="1.6"/><circle cx="456.8" cy="320.7" r="1.7"/><circle cx="463.4" cy="320.3" r="1.6"/><circle cx="454.8" cy="323.9" r="1.7"/><circle cx="448.9" cy="330.2" r="1.7"/><circle cx="441.6" cy="328.6" r="1.5"/><circle cx="430.5" cy="321.4" r="1.4"/></g>
<g fill="#31a354"><circle cx="345.1" cy="373.7" r="1.9"/><circle cx="352.9" cy="372.2" r="1.6"/><circle cx="351.8" cy="367.3" r="1.6"/><circle cx="354.6" cy="367.3" r="1.5"/><circle cx="358.4" cy="360.1" r="1.7"/><circle cx="366.6" cy="360.9" r="1.9"/><circle cx="370.3" cy="357.1" r="1.6"/><circle cx="377.8" cy="357.1" r="1.8"/><circle cx="379.2" cy="358.6" r="1.6"/><circle cx="388.1" cy="361.3" r="1.7"/><circle cx="389.7" cy="366.9" r="1.8"/><circle cx="386.8" cy="364.8" r="1.6"/><circle cx="391.9" cy="378.5" r="1.7"/><circle cx="391.2" cy="374.9" r="1.6"/><circle cx="396.1" cy="384.4" r="1.6"/><circle cx="403.5" cy="393.2" r="1.8"/><circle cx="403.7" cy="391.1" r="1.8"/><circle cx="398.5" cy="391.9" r="1.7"/><circle cx="398.3" cy="401.0" r="1.6"/><circle cx="393.3" cy="405.5" r="1.5"/><circle cx="391.1" cy="408.0" r="1.7"/><circle cx="383.2" cy="413.5" r="1.5"/><circle cx="375.5" cy="406.4" r="1.5"/><circle cx="376.8" cy="413.5" r="1.7"/><circle cx="373.9" cy="411.3" r="1.7"/><circle cx="364.1" cy="398.1" r="1.6"/><circle cx="359.7" cy="397.4" r="1.8"/><circle cx="354.9" cy="397.2" r="1.5"/><circle cx="349.8" cy="392.5" r="1.6"/><circle cx="344.8" cy="386.5" r="1.6"/></g>
<g fill="#31a354"><circle cx="397.5" cy="411.8" r="1.5"/><circle cx="414.3" cy="407.9" r="1.7"/><circle cx="413.2" cy="413.2" r="1.8"/><circle cx="417.5" cy="421.8" r="1.8"/><circle cx="415.4" cy="421.9" r="1.6"/><circle cx="407.7" cy="420.0" r="1.7"/><circle cx="401.6" cy="424.8" r="1.8"/><circle cx="404.8" cy="418.3" r="1.5"/></g>
<g fill="#a1d99b"><circle cx="318.3" cy="418.4" r="1.5"/><circle cx="314.0" cy="420.2" r="1.5"/><circle cx="322.3" cy="409.0" r="1.7"/><circle cx="322.3" cy="401.0" r="1.8"/><circle cx="331.2" cy="407.6" r="1.5"/><circle cx="335.7" cy="410.7" r="1.5"/><circle cx="336.9" cy="410.4" r="1.5"/><circle cx="343.4" cy="407.9" r="1.7"/><circle cx="343.9" cy="412.2" r="1.7"/><circle cx="362.9" cy="409.9" r="1.8"/><circle cx="367.2" cy="411.6" r="1.7"/><circle cx="362.5" cy="408.2" r="1.7"/><circle cx="370.9" cy="423.5" r="1.9"/><circle cx="372.2" cy="415.7" r="1.9"/><circle cx="372.8" cy="423.8" r="1.7"/><circle cx="360.0" cy="425.5" r="1.8"/><circle cx="363.9" cy="434.1" r="1.9"/><circle cx="354.2" cy="443.3" r="1.6"/><circle cx="355.6" cy="442.0" r="1.7"/><circle cx="349.0" cy="450.1" r="1.6"/><circle cx="345.4" cy="447.7" r="1.5"/><circle cx="339.4" cy="449.3" r="1.6"/><circle cx="331.2" cy="444.9" r="1.7"/><circle cx="333.4" cy="445.4" r="1.5"/><circle cx="318.6" cy="447.7" r="1.7"/><circle cx="314.9" cy="442.2" r="1.8"/><circle cx="313.6" cy="442.6" r="1.9"/><circle cx="307.5" cy="436.4" r="1.9"/></g>
<g fill="#fdae6b"><circle cx="362.4" cy="431.4" r="1.8"/><circle cx="359.7" cy="426.1" r="1.6"/><circle cx="360.8" cy="422.1" r="1.8"/><circle cx="361.5" cy="419.4" r="1.5"/><circle cx="372.9" cy="416.9" r="1.8"/><circle cx="386.9" cy="411.1" r="1.8"/><circle cx="372.9" cy="408.6" r="1.5"/><circle cx="384.7" cy="406.8" r="1.8"/><circle cx="395.0" cy="410.6" r="1.5"/><circle cx="399.9" cy="411.5" r="1.5"/><circle cx="403.8" cy="421.7" r="1.5"/><circle cx="398.2" cy="418.0" r="1.7"/><circle cx="399.4" cy="429.3" r="1.5"/><circle cx="409.5" cy="432.6" r="1.8"/><circle cx="404.0" cy="438.2" r="1.6"/><circle cx="399.0" cy="447.6" r="1.9"/><circle cx="397.2" cy="439.3" r="1.6"/><circle cx="401.7" cy="446.3" r="1.5"/><circle cx="389.4" cy="455.3" r="1.5"/><circle cx="395.0" cy="446.8" r="1.5"/><circle cx="388.1" cy="455.2" r="1.7"/><circle cx="379.7" cy="465.9" r="1.6"/><circle cx="383.2" cy="465.0" r="1.6"/><circle cx="368.0" cy="474.0" r="1.6"/><circle cx="362.8" cy="478.7" r="1.7"/><circle cx="366.9" cy="480.5" r="1.5"/><circle cx="359.8" cy="481.5" r="1.5"/><circle cx="362.1" cy="483.5" r="1.5"/><circle cx="348.2" cy="489.1" r="1.5"/><circle cx="345.1" cy="486.7" r="1.7"/><circle cx="337.5" cy="482.9" r="1.8"/><circle cx="338.1" cy="483.4" r="1.7"/><circle cx="326.9" cy="477.9" r="1.6"/><circle cx="328.4" cy="480.7" r="1.7"/><circle cx="331.3" cy="469.3" r="1.5"/><circle cx="331.1" cy="472.9" r="1.8"/><circle cx="336.0" cy="462.8" r="1.6"/><circle cx="343.8" cy="452.8" r="1.6"/><circle cx="341.2" cy="453.9" r="1.6"/><circle cx="345.5" cy="452.8" r="1.8"/><circle cx="359.8" cy="431.5" r="1.8"/><circle cx="356.1" cy="431.7" r="1.5"/></g>
<g fill="#fdae6b"><circle cx="313.5" cy="447.2" r="1.8"/><circle cx="312.6" cy="444.9" r="1.8"/><circle cx="322.8" cy="449.5" r="1.7"/><circle cx="316.2" cy="454.9" r="1.9"/><circle cx="310.1" cy="458.8" r="1.7"/><circle cx="314.2" cy="449.1" r="1.5"/><circle cx="315.4" cy="451.6" r="1.8"/></g>
<g fill="#fdae6b"><circle cx="326.7" cy="468.8" r="1.8"/><circle cx="322.2" cy="477.6" r="1.6"/><circle cx="322.6" cy="484.6" r="1.5"/><circle cx="317.7" cy="464.9" r="1.7"/></g>
<g fill="#9ecae1"><circle cx="301.8" cy="401.0" r="1.7"/><circle cx="313.7" cy="400.7" r="1.8"/><circle cx="318.1" cy="411.5" r="1.7"/><circle cx="321.6" cy="408.4" r="1.6"/><circle cx="317.8" cy="412.0" r="1.8"/><circle cx="308.3" cy="410.9" r="1.6"/><circle cx="306.6" cy="406.1" r="1.6"/><circle cx="305.3" cy="404.9" r="1.7"/></g>
<g fill="#31a354"><circle cx="446.5" cy="376.4" r="1.6"/><circle cx="434.2" cy="380.2" r="1.5"/><circle cx="453.3" cy="374.5" r="1.7"/><circle cx="463.2" cy="376.6" r="1.6"/><circle cx="459.8" cy="378.6" r="1.5"/><circle cx="475.6" cy="379.0" r="1.7"/><circle cx="466.3" cy="374.6" r="1.6"/><circle cx="471.8" cy="375.2" r="1.6"/><circle cx="484.0" cy="380.2" r="1.9"/><circle cx="487.0" cy="378.7" r="1.6"/><circle cx="489.9" cy="377.6" r="1.6"/><circle cx="495.0" cy="371.6" r="1.7"/><circle cx="498.1" cy="368.2" r="1.7"/><circle cx="507.3" cy="367.2" r="1.5"/><circle cx="509.3" cy="369.6" r="1.5"/><circle cx="523.3" cy="366.3" r="1.7"/><circle cx="523.3" cy="371.1" r="1.6"/><circle cx="523.3" cy="374.6" r="1.6"/><circle cx="513.7" cy="377.5" r="1.8"/><circle cx="506.8" cy="379.9" r="1.6"/><circle cx="502.7" cy="384.4" r="1.6"/><circle cx="501.4" cy="381.8" r="1.6"/><circle cx="491.3" cy="391.2" r="1.8"/><circle cx="486.0" cy="387.4" r="1.7"/><circle cx="478.4" cy="396.7" r="1.8"/><circle cx="471.2" cy="390.7" r="1.7"/><circle cx="468.8" cy="390.7" r="1.9"/><circle cx="462.1" cy="399.7" r="1.6"/><circle cx="454.9" cy="411.8" r="1.5"/><circle cx="453.4" cy="409.0" r="1.8"/><circle cx="444.4" cy="406.2" r="1.8"/><circle cx="441.0" cy="395.5" r="1.8"/><circle cx="441.3" cy="393.3" r="1.7"/><circle cx="433.1" cy="385.9" r="1.5"/><circle cx="436.5" cy="384.3" r="1.8"/></g>
<g fill="#74c476"><circle cx="496.0" cy="387.5" r="1.7"/><circle cx="501.9" cy="381.7" r="1.7"/><circle cx="515.6" cy="379.8" r="1.5"/><circle cx="514.3" cy="382.2" r="1.9"/><circle cx="528.6" cy="378.5" r="1.8"/><circle cx="520.2" cy="384.0" r="1.7"/><circle cx="540.8" cy="379.0" r="1.6"/><circle cx="540.6" cy="378.3" r="1.7"/><circle cx="530.5" cy="383.1" r="1.8"/><circle cx="548.9" cy="378.8" r="1.5"/><circle cx="556.1" cy="376.2" r="1.7"/><circle cx="559.5" cy="378.9" r="1.8"/><circle cx="559.6" cy="375.1" r="1.6"/><circle cx="569.1" cy="390.1" r="1.6"/><circle cx="567.9" cy="388.3" r="1.7"/><circle cx="563.3" cy="405.1" r="1.7"/><circle cx="564.7" cy="404.0" r="1.6"/><circle cx="559.0" cy="406.3" r="1.7"/><circle cx="548.6" cy="414.7" r="1.5"/><circle cx="540.1" cy="404.4" r="1.6"/><circle cx="536.1" cy="403.6" r="1.7"/><circle cx="531.5" cy="398.7" r="1.7"/><circle cx="531.8" cy="402.1" r="1.9"/><circle cx="518.5" cy="404.2" r="1.5"/><circle cx="515.4" cy="405.8" r="1.6"/><circle cx="507.5" cy="415.9" r="1.6"/><circle cx="503.0" cy="417.4" r="1.6"/><circle cx="501.3" cy="414.9" r="1.5"/><circle cx="497.0" cy="403.7" r="1.5"/><circle cx="493.7" cy="392.0" r="1.6"/><circle cx="496.9" cy="387.4" r="1.7"/></g>
<g fill="#bcbddc"><circle cx="448.8" cy="415.9" r="1.6"/><circle cx="447.6" cy="418.3" r="1.7"/><circle cx="460.1" cy="407.2" r="1.5"/><circle cx="459.5" cy="412.1" r="1.7"/><circle cx="464.4" cy="409.9" r="1.8"/><circle cx="464.0" cy="397.9" r="1.6"/><circle cx="466.7" cy="395.5" r="1.9"/><circle cx="477.3" cy="393.3" r="1.5"/><circle cx="483.9" cy="389.2" r="1.6"/><circle cx="478.0" cy="389.6" r="1.5"/><circle cx="498.2" cy="391.9" r="1.6"/><circle cx="495.9" cy="393.3" r="1.8"/><circle cx="498.7" cy="391.7" r="1.7"/><circle cx="495.7" cy="402.4" r="1.7"/><circle cx="498.2" cy="402.6" r="1.6"/><circle cx="504.8" cy="413.2" r="1.5"/><circle cx="505.3" cy="422.8" r="1.8"/><circle cx="505.7" cy="426.8" r="1.5"/><circle cx="500.4" cy="435.3" r="1.8"/><circle cx="496.4" cy="440.1" r="1.8"/><circle cx="494.5" cy="443.6" r="1.5"/><circle cx="495.2" cy="445.2" r="1.6"/><circle cx="487.7" cy="459.3" r="1.7"/><circle cx="479.5" cy="458.9" r="1.6"/><circle cx="477.3" cy="462.0" r="1.5"/><circle cx="472.3" cy="456.2" r="1.6"/><circle cx="465.5" cy="454.5" r="1.5"/><circle cx="461.8" cy="458.4" r="1.7"/><circle cx="454.9" cy="445.4" r="1.6"/><circle cx="450.7" cy="440.9" r="1.7"/><circle cx="453.1" cy="444.2" r="1.5"/><circle cx="446.3" cy="432.0" r="1.5"/><circle cx="449.8" cy="424.8" r="1.7"/></g>
<g fill="#9ecae1"><circle cx="449.6" cy="415.8" r="1.5"/><circle cx="445.8" cy="423.1" r="1.8"/><circle cx="443.1" cy="425.1" r="1.8"/></g>
<g fill="#fdae6b"><circle cx="569.1" cy="387.3" r="1.8"/><circle cx="569.2" cy="395.3" r="1.5"/></g>
<g fill="#fd8d3c"><circle cx="510.6" cy="282.7" r="1.6"/><circle cx="510.7" cy="283.0" r="1.7"/><circle cx="525.6" cy="281.9" r="1.6"/><circle cx="518.0" cy="280.4" r="1.7"/><circle cx="528.7" cy="284.8" r="1.6"/><circle cx="524.1" cy="280.7" r="1.6"/><circle cx="541.5" cy="286.3" r="1.5"/><circle cx="547.8" cy="290.3" r="1.7"/><circle cx="543.2" cy="293.2" r="1.5"/><circle cx="543.9" cy="296.0" r="1.7"/><circle cx="542.4" cy="311.2" r="1.6"/><circle cx="541.3" cy="305.1" r="1.8"/><circle cx="536.0" cy="316.2" r="1.8"/><circle cx="542.5" cy="319.0" r="1.8"/><circle cx="524.2" cy="319.9" r="1.8"/><circle cx="531.5" cy="322.9" r="1.8"/><circle cx="514.8" cy="327.7" r="1.6"/><circle cx="517.8" cy="331.8" r="1.5"/><circle cx="513.3" cy="330.4" r="1.7"/><circle cx="501.7" cy="326.2" r="1.9"/><circle cx="503.3" cy="326.8" r="1.5"/><circle cx="502.0" cy="320.7" r="1.6"/><circle cx="499.9" cy="315.9" r="1.6"/><circle cx="496.7" cy="307.0" r="1.5"/><circle cx="493.3" cy="299.4" r="1.8"/><circle cx="501.3" cy="289.9" r="1.6"/><circle cx="499.8" cy="292.6" r="1.6"/></g>
<g fill="#6baed6"><circle cx="592.0" cy="284.8" r="1.9"/><circle cx="592.0" cy="278.5" r="1.5"/><circle cx="605.2" cy="284.2" r="1.7"/><circle cx="606.6" cy="281.3" r="1.5"/><circle cx="604.0" cy="284.4" r="1.7"/><circle cx="613.5" cy="285.0" r="1.5"/><circle cx="620.8" cy="294.1" r="1.5"/><circle cx="624.5" cy="298.0" r="1.5"/><circle cx="615.5" cy="301.4" r="1.5"/><circle cx="613.0" cy="298.2" r="1.7"/><circle cx="608.8" cy="297.7" r="1.9"/><circle cx="601.2" cy="293.7" r="1.6"/><circle cx="601.0" cy="299.1" r="1.7"/><circle cx="589.9" cy="291.3" r="1.5"/><circle cx="582.5" cy="278.8" r="1.8"/></g>
<path d="M445,507 L452,520 L459,530 L469,542" fill="none" stroke="#fdae6b" stroke-width="4.6" stroke-linecap="round"/>
<path d="M445,506.5 L448,511" fill="none" stroke="#31a354" stroke-width="5" stroke-linecap="round"/>
<path d="M457,527 L459,530" fill="none" stroke="#31a354" stroke-width="4" stroke-linecap="round"/>
<rect x="405.0" y="165.2" width="30.5" height="26.4" rx="4.5" fill="#31a354" fill-opacity="0.6" stroke="#1a1a1a" stroke-width="1.6"/>
<text x="412.9" y="185.4" font-size="20">IT</text>
<rect x="312.7" y="231.3" width="64.2" height="26.3" rx="4.5" fill="#756bb1" fill-opacity="0.6" stroke="#1a1a1a" stroke-width="1.6"/>
<text x="318.8" y="250.5" font-size="20">L5 ET</text>
<rect x="122.5" y="190.6" width="58.8" height="27.2" rx="4.5" fill="#969696" fill-opacity="0.6" stroke="#1a1a1a" stroke-width="1.6"/>
<text x="128.8" y="210.5" font-size="20">Oligo</text>
<rect x="205.5" y="288.7" width="58.8" height="26.6" rx="4.5" fill="#3182bd" fill-opacity="0.6" stroke="#1a1a1a" stroke-width="1.6"/>
<text x="212.2" y="309.1" font-size="20">Astro</text>
<rect x="84.7" y="358.8" width="111.0" height="27.0" rx="4.5" fill="#9e9ac8" fill-opacity="0.6" stroke="#1a1a1a" stroke-width="1.6"/>
<text x="92.1" y="379" font-size="20">Micro-PVM</text>
<rect x="222.2" y="356.4" width="55.4" height="26.9" rx="4.5" fill="#9ecae1" fill-opacity="0.6" stroke="#1a1a1a" stroke-width="1.6"/>
<text x="229.5" y="377.5" font-size="20">OPC</text>
<rect x="185.3" y="399.1" width="58.3" height="26.4" rx="4.5" fill="#e6550d" fill-opacity="0.6" stroke="#1a1a1a" stroke-width="1.6"/>
<text x="192.2" y="419.7" font-size="20">Endo</text>
<rect x="384.4" y="331.4" width="75.2" height="26.2" rx="4.5" fill="#636363" fill-opacity="0.6" stroke="#1a1a1a" stroke-width="1.6"/>
<text x="391.9" y="352" font-size="20">L5/6 IT</text>
<rect x="329.3" y="382.9" width="50.7" height="27.1" rx="4.5" fill="#a1d99b" fill-opacity="0.6" stroke="#1a1a1a" stroke-width="1.6"/>
<text x="335.7" y="403.2" font-size="20">SST</text>
<rect x="425.3" y="432.7" width="44.7" height="27.2" rx="4.5" fill="#bcbddc" fill-opacity="0.6" stroke="#1a1a1a" stroke-width="1.6"/>
<text x="432.2" y="453" font-size="20">VIP</text>
<rect x="324.6" y="459.4" width="75.2" height="26.7" rx="4.5" fill="#fdae6b" fill-opacity="0.6" stroke="#1a1a1a" stroke-width="1.6"/>
<text x="332.6" y="479.7" font-size="20">PVALB</text>
<rect x="540.0" y="253.4" width="84.4" height="27.9" rx="4.5" fill="#6baed6" fill-opacity="0.6" stroke="#1a1a1a" stroke-width="1.6"/>
<text x="547.1" y="273.8" font-size="20">L5/6 NP</text>
<rect x="475.0" y="310.4" width="45.8" height="26.3" rx="4.5" fill="#fd8d3c" fill-opacity="0.6" stroke="#1a1a1a" stroke-width="1.6"/>
<text x="482.1" y="330.3" font-size="20">L6b</text>
<rect x="522.3" y="352.2" width="77.6" height="26.6" rx="4.5" fill="#74c476" fill-opacity="0.6" stroke="#1a1a1a" stroke-width="1.6"/>
<text x="528.7" y="372.5" font-size="20">LAMP5</text>
<line x1="405" y1="186.5" x2="399" y2="197.5" stroke="#000" stroke-width="1.4"/>
<path d="M79.1,407.5 L79.1,565.3 L249.8,565.3" fill="none" stroke="#000" stroke-width="2.5"/>
<path d="M71.4,420.4 L79.1,407.2 L86.8,420.4 M237.0,557.7 L250.2,565.3 L237.0,572.9" fill="none" stroke="#000" stroke-width="2.5"/>
<text x="176.3" y="588.8" font-size="20.3" text-anchor="middle">UMAP 1</text>
<text x="65.3" y="472" font-size="20.3" text-anchor="middle" transform="rotate(-90 65.3 472)">UMAP 2</text>
<text x="99.2" y="672.8" font-size="17.8">Group</text>
<circle cx="170.7" cy="637.3" r="6.6" fill="#3182bd"/>
<text x="194.3" y="643.1" font-size="15.7" fill="#1a1a1a">Astro</text>
<circle cx="170.7" cy="667.5" r="6.6" fill="#e6550d"/>
<text x="194.3" y="673.3" font-size="15.7" fill="#1a1a1a">Endo</text>
<circle cx="170.7" cy="697.9" r="6.6" fill="#31a354"/>
<text x="194.3" y="703.7" font-size="15.7" fill="#1a1a1a">IT</text>
<circle cx="253.8" cy="637.3" r="6.6" fill="#756bb1"/>
<text x="278" y="643.1" font-size="15.7" fill="#1a1a1a">L5 ET</text>
<circle cx="253.8" cy="667.5" r="6.6" fill="#636363"/>
<text x="278" y="673.3" font-size="15.7" fill="#1a1a1a">L5/6 IT</text>
<circle cx="253.8" cy="697.9" r="6.6" fill="#6baed6"/>
<text x="278" y="703.7" font-size="15.7" fill="#1a1a1a">L5/6 NP</text>
<circle cx="356.5" cy="637.3" r="6.6" fill="#fd8d3c"/>
<text x="380.8" y="643.1" font-size="15.7" fill="#1a1a1a">L6b</text>
<circle cx="356.5" cy="667.5" r="6.6" fill="#74c476"/>
<text x="380.8" y="673.3" font-size="15.7" fill="#1a1a1a">LAMP5</text>
<circle cx="356.5" cy="697.9" r="6.6" fill="#9e9ac8"/>
<text x="380.8" y="703.7" font-size="15.7" fill="#1a1a1a">Micro-PVM</text>
<circle cx="479.1" cy="637.3" r="6.6" fill="#969696"/>
<text x="503.4" y="643.1" font-size="15.7" fill="#1a1a1a">Oligo</text>
<circle cx="479.1" cy="667.5" r="6.6" fill="#9ecae1"/>
<text x="503.4" y="673.3" font-size="15.7" fill="#1a1a1a">OPC</text>
<circle cx="479.1" cy="697.9" r="6.6" fill="#fdae6b"/>
<text x="503.4" y="703.7" font-size="15.7" fill="#1a1a1a">PVALB</text>
<circle cx="574.8" cy="637.3" r="6.6" fill="#a1d99b"/>
<text x="598.8" y="643.1" font-size="15.7" fill="#1a1a1a">SST</text>
<circle cx="574.8" cy="667.5" r="6.6" fill="#bcbddc"/>
<text x="598.8" y="673.3" font-size="15.7" fill="#1a1a1a">VIP</text>
<defs><pattern id="pO" patternUnits="userSpaceOnUse" width="97" height="97"><rect width="97" height="97" fill="#e6550d"/><circle cx="27.5" cy="56.3" r="2.1" fill="#3182bd"/><circle cx="9.6" cy="21.8" r="2.1" fill="#3182bd"/><circle cx="55.7" cy="40.8" r="2.1" fill="#3182bd"/><circle cx="90.5" cy="5.9" r="2.1" fill="#3182bd"/><circle cx="78.8" cy="87.4" r="2.1" fill="#3182bd"/><circle cx="72.7" cy="27.4" r="2.1" fill="#3182bd"/><circle cx="17.2" cy="56.0" r="2.1" fill="#3182bd"/><circle cx="20.3" cy="30.8" r="2.1" fill="#3182bd"/><circle cx="36.3" cy="5.5" r="2.1" fill="#3182bd"/><circle cx="77.7" cy="38.0" r="2.1" fill="#3182bd"/><circle cx="51.1" cy="41.1" r="2.1" fill="#3182bd"/><circle cx="16.2" cy="12.4" r="2.1" fill="#3182bd"/><circle cx="75.7" cy="66.8" r="2.1" fill="#3182bd"/><circle cx="48.7" cy="66.4" r="2.1" fill="#3182bd"/><circle cx="28.4" cy="77.9" r="2.1" fill="#3182bd"/><circle cx="20.5" cy="53.3" r="2.1" fill="#3182bd"/><circle cx="71.4" cy="57.5" r="2.1" fill="#3182bd"/><circle cx="10.4" cy="13.4" r="2.1" fill="#3182bd"/><circle cx="44.1" cy="66.9" r="2.1" fill="#3182bd"/><circle cx="40.1" cy="63.9" r="2.1" fill="#3182bd"/><circle cx="5.9" cy="6.2" r="2.1" fill="#3182bd"/><circle cx="93.2" cy="6.5" r="2.1" fill="#3182bd"/><circle cx="55.1" cy="46.4" r="2.1" fill="#3182bd"/><circle cx="0.8" cy="76.6" r="2.1" fill="#3182bd"/><circle cx="97.8" cy="76.6" r="2.1" fill="#3182bd"/><circle cx="21.5" cy="50.9" r="2.1" fill="#3182bd"/><circle cx="3.5" cy="20.4" r="2.1" fill="#3182bd"/><circle cx="32.8" cy="75.2" r="2.1" fill="#3182bd"/><circle cx="4.7" cy="10.5" r="2.1" fill="#3182bd"/><circle cx="26.4" cy="15.3" r="2.1" fill="#3182bd"/><circle cx="13.4" cy="60.8" r="2.1" fill="#3182bd"/><circle cx="47.1" cy="14.3" r="2.1" fill="#3182bd"/><circle cx="87.3" cy="43.3" r="2.1" fill="#3182bd"/><circle cx="20.9" cy="18.5" r="2.1" fill="#3182bd"/><circle cx="19.3" cy="79.5" r="2.1" fill="#3182bd"/><circle cx="5.2" cy="67.8" r="2.1" fill="#3182bd"/><circle cx="70.5" cy="8.1" r="2.1" fill="#3182bd"/><circle cx="21.3" cy="85.2" r="2.1" fill="#3182bd"/><circle cx="77.7" cy="31.5" r="2.1" fill="#3182bd"/><circle cx="10.0" cy="68.7" r="2.1" fill="#3182bd"/><circle cx="51.5" cy="78.9" r="2.1" fill="#3182bd"/><circle cx="60.0" cy="44.7" r="2.1" fill="#3182bd"/><circle cx="31.7" cy="12.7" r="2.1" fill="#3182bd"/><circle cx="9.1" cy="20.6" r="2.1" fill="#3182bd"/><circle cx="-0.1" cy="68.7" r="2.1" fill="#3182bd"/><circle cx="96.9" cy="68.7" r="2.1" fill="#3182bd"/><circle cx="7.0" cy="19.0" r="2.1" fill="#3182bd"/><circle cx="63.6" cy="-0.7" r="2.1" fill="#3182bd"/><circle cx="63.6" cy="96.3" r="2.1" fill="#3182bd"/><circle cx="54.4" cy="42.8" r="2.1" fill="#3182bd"/><circle cx="52.3" cy="43.4" r="2.1" fill="#3182bd"/><circle cx="70.4" cy="84.1" r="2.1" fill="#3182bd"/><circle cx="15.0" cy="9.8" r="2.1" fill="#3182bd"/><circle cx="1.7" cy="69.6" r="2.1" fill="#3182bd"/><circle cx="98.7" cy="69.6" r="2.1" fill="#3182bd"/><circle cx="27.0" cy="73.8" r="2.1" fill="#3182bd"/><circle cx="13.9" cy="67.8" r="2.1" fill="#3182bd"/><circle cx="0.2" cy="20.3" r="2.1" fill="#3182bd"/><circle cx="97.2" cy="20.3" r="2.1" fill="#3182bd"/><circle cx="19.5" cy="59.6" r="2.1" fill="#3182bd"/><circle cx="74.2" cy="69.4" r="2.1" fill="#3182bd"/><circle cx="55.4" cy="85.4" r="2.1" fill="#3182bd"/><circle cx="60.0" cy="9.8" r="2.1" fill="#3182bd"/><circle cx="9.6" cy="47.2" r="2.1" fill="#3182bd"/><circle cx="43.6" cy="81.6" r="2.1" fill="#3182bd"/><circle cx="20.5" cy="67.1" r="2.1" fill="#3182bd"/><circle cx="87.7" cy="38.4" r="2.1" fill="#3182bd"/><circle cx="45.0" cy="29.7" r="2.1" fill="#3182bd"/><circle cx="45.9" cy="5.1" r="2.1" fill="#3182bd"/><circle cx="14.5" cy="85.9" r="2.1" fill="#3182bd"/><circle cx="80.7" cy="67.7" r="2.1" fill="#3182bd"/><circle cx="58.2" cy="93.2" r="2.1" fill="#3182bd"/><circle cx="29.9" cy="15.5" r="2.1" fill="#3182bd"/><circle cx="28.9" cy="83.2" r="2.1" fill="#3182bd"/><circle cx="27.4" cy="45.1" r="2.1" fill="#3182bd"/><circle cx="62.7" cy="2.6" r="2.1" fill="#3182bd"/><circle cx="85.0" cy="34.2" r="2.1" fill="#3182bd"/><circle cx="56.0" cy="61.6" r="2.1" fill="#3182bd"/><circle cx="30.2" cy="23.2" r="2.1" fill="#3182bd"/><circle cx="80.6" cy="12.9" r="2.1" fill="#3182bd"/><circle cx="4.1" cy="58.1" r="2.1" fill="#3182bd"/><circle cx="74.3" cy="24.1" r="2.1" fill="#3182bd"/><circle cx="61.6" cy="35.1" r="2.1" fill="#3182bd"/><circle cx="3.2" cy="20.9" r="2.1" fill="#3182bd"/><circle cx="94.7" cy="62.1" r="2.1" fill="#3182bd"/><circle cx="25.0" cy="58.6" r="2.1" fill="#3182bd"/><circle cx="3.4" cy="19.9" r="2.1" fill="#3182bd"/><circle cx="36.8" cy="18.1" r="2.1" fill="#3182bd"/><circle cx="80.4" cy="27.8" r="2.1" fill="#3182bd"/><circle cx="25.1" cy="60.9" r="2.1" fill="#3182bd"/><circle cx="16.1" cy="82.0" r="2.1" fill="#3182bd"/><circle cx="68.9" cy="52.7" r="2.1" fill="#3182bd"/><circle cx="52.3" cy="40.2" r="2.1" fill="#3182bd"/><circle cx="6.9" cy="50.6" r="2.1" fill="#3182bd"/><circle cx="84.3" cy="53.3" r="2.1" fill="#3182bd"/><circle cx="24.5" cy="5.5" r="2.1" fill="#3182bd"/><circle cx="-0.8" cy="63.0" r="2.1" fill="#3182bd"/><circle cx="96.2" cy="63.0" r="2.1" fill="#3182bd"/><circle cx="72.3" cy="47.6" r="2.1" fill="#3182bd"/><circle cx="48.1" cy="50.8" r="2.1" fill="#3182bd"/><circle cx="23.9" cy="12.9" r="2.1" fill="#3182bd"/><circle cx="70.7" cy="55.7" r="2.1" fill="#3182bd"/><circle cx="66.5" cy="36.7" r="2.1" fill="#3182bd"/><circle cx="7.4" cy="20.1" r="2.1" fill="#3182bd"/><circle cx="65.5" cy="2.3" r="2.1" fill="#3182bd"/><circle cx="39.3" cy="75.3" r="2.1" fill="#3182bd"/><circle cx="80.6" cy="-1.5" r="2.1" fill="#3182bd"/><circle cx="80.6" cy="95.5" r="2.1" fill="#3182bd"/><circle cx="-1.2" cy="54.6" r="2.1" fill="#3182bd"/><circle cx="95.8" cy="54.6" r="2.1" fill="#3182bd"/><circle cx="59.7" cy="43.1" r="2.1" fill="#3182bd"/><circle cx="45.7" cy="34.2" r="2.1" fill="#3182bd"/><circle cx="84.6" cy="30.7" r="2.1" fill="#3182bd"/><circle cx="55.3" cy="89.7" r="2.1" fill="#3182bd"/><circle cx="11.3" cy="19.2" r="2.1" fill="#3182bd"/><circle cx="51.2" cy="2.5" r="2.1" fill="#3182bd"/><circle cx="30.0" cy="53.2" r="2.1" fill="#3182bd"/><circle cx="12.1" cy="21.5" r="2.1" fill="#3182bd"/><circle cx="86.3" cy="9.2" r="2.1" fill="#3182bd"/><circle cx="18.1" cy="44.1" r="2.1" fill="#3182bd"/><circle cx="56.2" cy="82.2" r="2.1" fill="#3182bd"/><circle cx="24.6" cy="0.8" r="2.1" fill="#3182bd"/><circle cx="24.6" cy="97.8" r="2.1" fill="#3182bd"/><circle cx="3.0" cy="21.2" r="2.1" fill="#3182bd"/><circle cx="82.0" cy="42.6" r="2.1" fill="#3182bd"/><circle cx="0.6" cy="66.3" r="2.1" fill="#3182bd"/><circle cx="97.6" cy="66.3" r="2.1" fill="#3182bd"/><circle cx="35.0" cy="75.2" r="2.1" fill="#3182bd"/><circle cx="29.4" cy="3.9" r="2.1" fill="#3182bd"/><circle cx="76.5" cy="70.4" r="2.1" fill="#3182bd"/><circle cx="63.6" cy="43.4" r="2.1" fill="#3182bd"/><circle cx="15.3" cy="64.3" r="2.1" fill="#3182bd"/><circle cx="50.5" cy="49.1" r="2.1" fill="#3182bd"/><circle cx="6.4" cy="69.5" r="2.1" fill="#3182bd"/><circle cx="5.4" cy="11.8" r="2.1" fill="#3182bd"/><circle cx="22.0" cy="-0.5" r="2.1" fill="#3182bd"/><circle cx="22.0" cy="96.5" r="2.1" fill="#3182bd"/><circle cx="20.4" cy="22.1" r="2.1" fill="#3182bd"/><circle cx="53.9" cy="87.8" r="2.1" fill="#3182bd"/><circle cx="83.3" cy="23.6" r="2.1" fill="#3182bd"/><circle cx="1.0" cy="66.1" r="2.1" fill="#3182bd"/><circle cx="98.0" cy="66.1" r="2.1" fill="#3182bd"/><circle cx="88.6" cy="15.0" r="2.1" fill="#3182bd"/><circle cx="4.2" cy="51.1" r="2.1" fill="#3182bd"/><circle cx="45.4" cy="47.3" r="2.1" fill="#3182bd"/><circle cx="50.7" cy="37.7" r="2.1" fill="#3182bd"/><circle cx="70.4" cy="58.9" r="2.1" fill="#3182bd"/><circle cx="53.8" cy="35.5" r="2.1" fill="#3182bd"/><circle cx="50.2" cy="33.1" r="2.1" fill="#3182bd"/><circle cx="49.4" cy="5.4" r="2.1" fill="#3182bd"/><circle cx="11.8" cy="28.3" r="2.1" fill="#3182bd"/><circle cx="34.4" cy="14.8" r="2.1" fill="#3182bd"/><circle cx="39.5" cy="23.4" r="2.1" fill="#3182bd"/><circle cx="61.2" cy="35.9" r="2.1" fill="#3182bd"/><circle cx="32.6" cy="57.6" r="2.1" fill="#3182bd"/><circle cx="63.3" cy="11.5" r="2.1" fill="#3182bd"/><circle cx="70.6" cy="58.3" r="2.1" fill="#3182bd"/><circle cx="0.1" cy="17.4" r="2.1" fill="#3182bd"/><circle cx="97.1" cy="17.4" r="2.1" fill="#3182bd"/><circle cx="51.9" cy="19.3" r="2.1" fill="#3182bd"/><circle cx="22.6" cy="18.6" r="2.1" fill="#3182bd"/><circle cx="48.7" cy="21.8" r="2.1" fill="#3182bd"/><circle cx="90.1" cy="15.7" r="2.1" fill="#3182bd"/><circle cx="17.0" cy="6.3" r="2.1" fill="#3182bd"/><circle cx="93.8" cy="70.9" r="2.1" fill="#3182bd"/><circle cx="80.8" cy="24.6" r="2.1" fill="#3182bd"/><circle cx="28.7" cy="53.9" r="2.1" fill="#3182bd"/><circle cx="75.5" cy="68.4" r="2.1" fill="#3182bd"/><circle cx="1.6" cy="15.8" r="2.1" fill="#3182bd"/><circle cx="98.6" cy="15.8" r="2.1" fill="#3182bd"/><circle cx="25.6" cy="83.3" r="2.1" fill="#3182bd"/><circle cx="19.4" cy="50.3" r="2.1" fill="#3182bd"/><circle cx="48.0" cy="63.3" r="2.1" fill="#3182bd"/><circle cx="88.5" cy="31.1" r="2.1" fill="#3182bd"/><circle cx="75.6" cy="4.2" r="2.1" fill="#3182bd"/><circle cx="27.5" cy="70.6" r="2.1" fill="#3182bd"/><circle cx="51.6" cy="41.0" r="2.1" fill="#3182bd"/><circle cx="4.1" cy="25.3" r="2.1" fill="#3182bd"/><circle cx="6.2" cy="42.5" r="2.1" fill="#3182bd"/><circle cx="77.5" cy="54.6" r="2.1" fill="#3182bd"/><circle cx="15.5" cy="45.7" r="2.1" fill="#3182bd"/><circle cx="33.3" cy="9.2" r="2.1" fill="#3182bd"/><circle cx="73.5" cy="61.6" r="2.1" fill="#3182bd"/><circle cx="3.3" cy="8.5" r="2.1" fill="#3182bd"/><circle cx="41.4" cy="73.8" r="2.1" fill="#3182bd"/><circle cx="45.9" cy="32.2" r="2.1" fill="#3182bd"/><circle cx="3.5" cy="43.5" r="2.1" fill="#3182bd"/><circle cx="76.8" cy="57.0" r="2.1" fill="#3182bd"/><circle cx="56.6" cy="94.4" r="2.1" fill="#3182bd"/><circle cx="71.6" cy="80.6" r="2.1" fill="#3182bd"/><circle cx="24.5" cy="59.1" r="2.1" fill="#3182bd"/><circle cx="63.0" cy="38.5" r="2.1" fill="#3182bd"/><circle cx="80.2" cy="28.8" r="2.1" fill="#3182bd"/><circle cx="59.4" cy="36.0" r="2.1" fill="#3182bd"/><circle cx="66.6" cy="1.5" r="2.1" fill="#3182bd"/><circle cx="66.6" cy="98.5" r="2.1" fill="#3182bd"/><circle cx="84.4" cy="89.4" r="2.1" fill="#3182bd"/><circle cx="8.7" cy="7.5" r="2.1" fill="#3182bd"/><circle cx="-1.2" cy="47.1" r="2.1" fill="#3182bd"/><circle cx="95.8" cy="47.1" r="2.1" fill="#3182bd"/><circle cx="53.9" cy="1.0" r="2.1" fill="#3182bd"/><circle cx="53.9" cy="98.0" r="2.1" fill="#3182bd"/><circle cx="24.4" cy="59.0" r="2.1" fill="#3182bd"/><circle cx="30.9" cy="79.2" r="2.1" fill="#3182bd"/><circle cx="90.2" cy="75.8" r="2.1" fill="#3182bd"/><circle cx="31.3" cy="57.2" r="2.1" fill="#3182bd"/><circle cx="86.4" cy="31.1" r="2.1" fill="#3182bd"/><circle cx="8.3" cy="71.6" r="2.1" fill="#3182bd"/><circle cx="43.8" cy="25.9" r="2.1" fill="#3182bd"/><circle cx="3.9" cy="53.4" r="2.1" fill="#3182bd"/><circle cx="46.5" cy="74.1" r="2.1" fill="#3182bd"/><circle cx="55.6" cy="42.6" r="2.1" fill="#3182bd"/><circle cx="88.9" cy="7.5" r="2.1" fill="#3182bd"/><circle cx="48.9" cy="85.4" r="2.1" fill="#3182bd"/><circle cx="9.9" cy="73.0" r="2.1" fill="#3182bd"/><circle cx="60.3" cy="94.0" r="2.1" fill="#3182bd"/><circle cx="54.8" cy="40.2" r="2.1" fill="#3182bd"/><circle cx="6.8" cy="44.6" r="2.1" fill="#3182bd"/><circle cx="2.7" cy="25.1" r="2.1" fill="#3182bd"/><circle cx="49.9" cy="3.6" r="2.1" fill="#3182bd"/><circle cx="63.5" cy="85.2" r="2.1" fill="#3182bd"/><circle cx="93.3" cy="9.9" r="2.1" fill="#3182bd"/><circle cx="63.5" cy="2.8" r="2.1" fill="#3182bd"/><circle cx="69.5" cy="29.5" r="2.1" fill="#3182bd"/><circle cx="84.1" cy="14.2" r="2.1" fill="#3182bd"/><circle cx="61.8" cy="33.9" r="2.1" fill="#3182bd"/><circle cx="74.5" cy="65.4" r="2.1" fill="#3182bd"/><circle cx="47.4" cy="86.1" r="2.1" fill="#3182bd"/><circle cx="63.7" cy="58.5" r="2.1" fill="#3182bd"/><circle cx="80.8" cy="77.9" r="2.1" fill="#3182bd"/><circle cx="22.3" cy="56.4" r="2.1" fill="#3182bd"/><circle cx="55.7" cy="43.4" r="2.1" fill="#3182bd"/><circle cx="44.7" cy="25.0" r="2.1" fill="#3182bd"/><circle cx="60.3" cy="41.1" r="2.1" fill="#3182bd"/><circle cx="-1.5" cy="2.9" r="2.1" fill="#3182bd"/><circle cx="95.5" cy="2.9" r="2.1" fill="#3182bd"/><circle cx="64.9" cy="91.5" r="2.1" fill="#3182bd"/><circle cx="90.8" cy="8.2" r="2.1" fill="#3182bd"/><circle cx="21.6" cy="54.0" r="2.1" fill="#3182bd"/><circle cx="9.0" cy="17.8" r="2.1" fill="#3182bd"/><circle cx="85.6" cy="33.1" r="2.1" fill="#3182bd"/><circle cx="42.3" cy="30.8" r="2.1" fill="#3182bd"/><circle cx="2.6" cy="13.3" r="2.1" fill="#3182bd"/><circle cx="56.4" cy="8.9" r="2.1" fill="#3182bd"/><circle cx="30.6" cy="83.1" r="2.1" fill="#3182bd"/><circle cx="7.7" cy="93.8" r="2.1" fill="#3182bd"/><circle cx="22.8" cy="94.5" r="2.1" fill="#3182bd"/><circle cx="42.9" cy="16.0" r="2.1" fill="#3182bd"/></pattern><pattern id="pB" patternUnits="userSpaceOnUse" width="97" height="97"><rect width="97" height="97" fill="#3182bd"/><circle cx="-1.9" cy="46.3" r="2.1" fill="#e6550d"/><circle cx="95.1" cy="46.3" r="2.1" fill="#e6550d"/><circle cx="29.8" cy="89.2" r="2.1" fill="#e6550d"/><circle cx="10.1" cy="37.2" r="2.1" fill="#e6550d"/><circle cx="88.3" cy="78.8" r="2.1" fill="#e6550d"/><circle cx="18.7" cy="19.2" r="2.1" fill="#e6550d"/><circle cx="91.4" cy="80.7" r="2.1" fill="#e6550d"/><circle cx="81.9" cy="21.7" r="2.1" fill="#e6550d"/><circle cx="56.5" cy="34.6" r="2.1" fill="#e6550d"/><circle cx="10.8" cy="35.3" r="2.1" fill="#e6550d"/><circle cx="9.2" cy="36.2" r="2.1" fill="#e6550d"/><circle cx="60.1" cy="68.2" r="2.1" fill="#e6550d"/><circle cx="3.2" cy="13.2" r="2.1" fill="#e6550d"/><circle cx="26.8" cy="-1.1" r="2.1" fill="#e6550d"/><circle cx="26.8" cy="95.9" r="2.1" fill="#e6550d"/><circle cx="75.5" cy="28.6" r="2.1" fill="#e6550d"/><circle cx="92.1" cy="12.0" r="2.1" fill="#e6550d"/><circle cx="37.5" cy="75.8" r="2.1" fill="#e6550d"/><circle cx="47.6" cy="8.0" r="2.1" fill="#e6550d"/><circle cx="62.0" cy="43.4" r="2.1" fill="#e6550d"/><circle cx="44.6" cy="27.4" r="2.1" fill="#e6550d"/><circle cx="71.8" cy="58.8" r="2.1" fill="#e6550d"/><circle cx="75.0" cy="2.8" r="2.1" fill="#e6550d"/><circle cx="28.0" cy="-0.4" r="2.1" fill="#e6550d"/><circle cx="28.0" cy="96.6" r="2.1" fill="#e6550d"/><circle cx="8.9" cy="79.7" r="2.1" fill="#e6550d"/><circle cx="34.4" cy="0.3" r="2.1" fill="#e6550d"/><circle cx="34.4" cy="97.3" r="2.1" fill="#e6550d"/><circle cx="26.3" cy="55.6" r="2.1" fill="#e6550d"/><circle cx="53.5" cy="61.5" r="2.1" fill="#e6550d"/><circle cx="28.0" cy="13.8" r="2.1" fill="#e6550d"/><circle cx="1.7" cy="77.1" r="2.1" fill="#e6550d"/><circle cx="98.7" cy="77.1" r="2.1" fill="#e6550d"/><circle cx="46.0" cy="19.8" r="2.1" fill="#e6550d"/><circle cx="38.9" cy="64.8" r="2.1" fill="#e6550d"/><circle cx="72.5" cy="69.4" r="2.1" fill="#e6550d"/><circle cx="16.9" cy="43.6" r="2.1" fill="#e6550d"/><circle cx="61.7" cy="35.6" r="2.1" fill="#e6550d"/><circle cx="66.0" cy="75.3" r="2.1" fill="#e6550d"/><circle cx="49.1" cy="13.9" r="2.1" fill="#e6550d"/><circle cx="56.5" cy="25.6" r="2.1" fill="#e6550d"/><circle cx="65.4" cy="69.3" r="2.1" fill="#e6550d"/><circle cx="36.4" cy="22.2" r="2.1" fill="#e6550d"/><circle cx="-1.8" cy="14.0" r="2.1" fill="#e6550d"/><circle cx="95.2" cy="14.0" r="2.1" fill="#e6550d"/><circle cx="1.8" cy="29.0" r="2.1" fill="#e6550d"/><circle cx="98.8" cy="29.0" r="2.1" fill="#e6550d"/><circle cx="63.1" cy="24.7" r="2.1" fill="#e6550d"/><circle cx="3.7" cy="51.7" r="2.1" fill="#e6550d"/><circle cx="45.3" cy="21.2" r="2.1" fill="#e6550d"/><circle cx="6.5" cy="59.7" r="2.1" fill="#e6550d"/><circle cx="82.9" cy="39.1" r="2.1" fill="#e6550d"/><circle cx="10.6" cy="86.4" r="2.1" fill="#e6550d"/><circle cx="62.5" cy="58.8" r="2.1" fill="#e6550d"/><circle cx="-0.7" cy="58.0" r="2.1" fill="#e6550d"/><circle cx="96.3" cy="58.0" r="2.1" fill="#e6550d"/><circle cx="5.8" cy="79.1" r="2.1" fill="#e6550d"/><circle cx="14.5" cy="82.5" r="2.1" fill="#e6550d"/><circle cx="55.5" cy="58.8" r="2.1" fill="#e6550d"/><circle cx="76.4" cy="27.2" r="2.1" fill="#e6550d"/><circle cx="6.9" cy="57.9" r="2.1" fill="#e6550d"/><circle cx="46.5" cy="7.8" r="2.1" fill="#e6550d"/><circle cx="51.7" cy="58.3" r="2.1" fill="#e6550d"/><circle cx="20.7" cy="64.1" r="2.1" fill="#e6550d"/><circle cx="12.2" cy="17.3" r="2.1" fill="#e6550d"/><circle cx="25.8" cy="37.6" r="2.1" fill="#e6550d"/><circle cx="59.5" cy="64.7" r="2.1" fill="#e6550d"/><circle cx="43.4" cy="21.5" r="2.1" fill="#e6550d"/><circle cx="37.3" cy="23.5" r="2.1" fill="#e6550d"/><circle cx="8.4" cy="82.1" r="2.1" fill="#e6550d"/><circle cx="75.7" cy="8.5" r="2.1" fill="#e6550d"/><circle cx="40.4" cy="91.6" r="2.1" fill="#e6550d"/><circle cx="46.2" cy="81.4" r="2.1" fill="#e6550d"/><circle cx="89.0" cy="66.6" r="2.1" fill="#e6550d"/><circle cx="33.0" cy="67.1" r="2.1" fill="#e6550d"/><circle cx="10.0" cy="89.4" r="2.1" fill="#e6550d"/><circle cx="63.3" cy="35.2" r="2.1" fill="#e6550d"/><circle cx="13.2" cy="80.2" r="2.1" fill="#e6550d"/><circle cx="1.8" cy="12.3" r="2.1" fill="#e6550d"/><circle cx="98.8" cy="12.3" r="2.1" fill="#e6550d"/><circle cx="1.6" cy="32.7" r="2.1" fill="#e6550d"/><circle cx="98.6" cy="32.7" r="2.1" fill="#e6550d"/><circle cx="1.2" cy="37.9" r="2.1" fill="#e6550d"/><circle cx="98.2" cy="37.9" r="2.1" fill="#e6550d"/><circle cx="26.2" cy="0.7" r="2.1" fill="#e6550d"/><circle cx="26.2" cy="97.7" r="2.1" fill="#e6550d"/><circle cx="66.4" cy="80.2" r="2.1" fill="#e6550d"/><circle cx="54.9" cy="45.0" r="2.1" fill="#e6550d"/><circle cx="10.2" cy="21.1" r="2.1" fill="#e6550d"/><circle cx="58.9" cy="2.9" r="2.1" fill="#e6550d"/><circle cx="-0.6" cy="31.9" r="2.1" fill="#e6550d"/><circle cx="96.4" cy="31.9" r="2.1" fill="#e6550d"/><circle cx="22.2" cy="9.9" r="2.1" fill="#e6550d"/><circle cx="42.0" cy="48.8" r="2.1" fill="#e6550d"/><circle cx="10.9" cy="75.5" r="2.1" fill="#e6550d"/><circle cx="23.6" cy="87.0" r="2.1" fill="#e6550d"/><circle cx="61.4" cy="2.0" r="2.1" fill="#e6550d"/><circle cx="61.4" cy="99.0" r="2.1" fill="#e6550d"/><circle cx="79.0" cy="15.0" r="2.1" fill="#e6550d"/><circle cx="3.4" cy="73.3" r="2.1" fill="#e6550d"/><circle cx="29.6" cy="45.1" r="2.1" fill="#e6550d"/><circle cx="-0.3" cy="55.7" r="2.1" fill="#e6550d"/><circle cx="96.7" cy="55.7" r="2.1" fill="#e6550d"/><circle cx="37.2" cy="32.0" r="2.1" fill="#e6550d"/><circle cx="37.1" cy="28.4" r="2.1" fill="#e6550d"/><circle cx="57.0" cy="40.9" r="2.1" fill="#e6550d"/><circle cx="54.1" cy="32.2" r="2.1" fill="#e6550d"/><circle cx="4.9" cy="2.3" r="2.1" fill="#e6550d"/><circle cx="75.1" cy="46.0" r="2.1" fill="#e6550d"/><circle cx="58.9" cy="16.2" r="2.1" fill="#e6550d"/><circle cx="2.6" cy="47.7" r="2.1" fill="#e6550d"/><circle cx="23.0" cy="9.2" r="2.1" fill="#e6550d"/><circle cx="26.8" cy="74.3" r="2.1" fill="#e6550d"/><circle cx="24.2" cy="53.9" r="2.1" fill="#e6550d"/><circle cx="74.5" cy="82.6" r="2.1" fill="#e6550d"/><circle cx="-1.4" cy="61.5" r="2.1" fill="#e6550d"/><circle cx="95.6" cy="61.5" r="2.1" fill="#e6550d"/><circle cx="6.4" cy="75.7" r="2.1" fill="#e6550d"/><circle cx="73.0" cy="43.4" r="2.1" fill="#e6550d"/><circle cx="59.6" cy="59.0" r="2.1" fill="#e6550d"/><circle cx="38.8" cy="23.2" r="2.1" fill="#e6550d"/><circle cx="77.1" cy="43.7" r="2.1" fill="#e6550d"/><circle cx="4.3" cy="75.1" r="2.1" fill="#e6550d"/><circle cx="94.7" cy="31.8" r="2.1" fill="#e6550d"/><circle cx="75.6" cy="32.1" r="2.1" fill="#e6550d"/><circle cx="13.3" cy="22.5" r="2.1" fill="#e6550d"/><circle cx="23.9" cy="72.2" r="2.1" fill="#e6550d"/><circle cx="69.0" cy="81.5" r="2.1" fill="#e6550d"/><circle cx="71.2" cy="43.6" r="2.1" fill="#e6550d"/><circle cx="74.6" cy="1.6" r="2.1" fill="#e6550d"/><circle cx="74.6" cy="98.6" r="2.1" fill="#e6550d"/><circle cx="7.5" cy="28.1" r="2.1" fill="#e6550d"/><circle cx="44.1" cy="9.2" r="2.1" fill="#e6550d"/><circle cx="14.2" cy="39.6" r="2.1" fill="#e6550d"/><circle cx="70.7" cy="87.4" r="2.1" fill="#e6550d"/><circle cx="0.0" cy="11.7" r="2.1" fill="#e6550d"/><circle cx="97.0" cy="11.7" r="2.1" fill="#e6550d"/><circle cx="38.1" cy="30.4" r="2.1" fill="#e6550d"/><circle cx="81.6" cy="54.1" r="2.1" fill="#e6550d"/><circle cx="94.8" cy="32.6" r="2.1" fill="#e6550d"/><circle cx="19.8" cy="18.2" r="2.1" fill="#e6550d"/><circle cx="86.9" cy="78.5" r="2.1" fill="#e6550d"/><circle cx="5.5" cy="60.0" r="2.1" fill="#e6550d"/><circle cx="80.6" cy="33.7" r="2.1" fill="#e6550d"/><circle cx="15.5" cy="90.4" r="2.1" fill="#e6550d"/><circle cx="44.6" cy="50.9" r="2.1" fill="#e6550d"/><circle cx="12.6" cy="92.0" r="2.1" fill="#e6550d"/><circle cx="64.7" cy="44.0" r="2.1" fill="#e6550d"/><circle cx="2.8" cy="51.9" r="2.1" fill="#e6550d"/><circle cx="68.4" cy="19.0" r="2.1" fill="#e6550d"/><circle cx="48.7" cy="45.0" r="2.1" fill="#e6550d"/><circle cx="22.7" cy="53.9" r="2.1" fill="#e6550d"/><circle cx="87.4" cy="73.6" r="2.1" fill="#e6550d"/><circle cx="60.4" cy="62.5" r="2.1" fill="#e6550d"/><circle cx="38.7" cy="46.5" r="2.1" fill="#e6550d"/><circle cx="83.8" cy="75.8" r="2.1" fill="#e6550d"/><circle cx="67.8" cy="45.5" r="2.1" fill="#e6550d"/><circle cx="76.9" cy="79.7" r="2.1" fill="#e6550d"/><circle cx="79.4" cy="94.4" r="2.1" fill="#e6550d"/><circle cx="21.2" cy="57.2" r="2.1" fill="#e6550d"/><circle cx="26.8" cy="84.8" r="2.1" fill="#e6550d"/><circle cx="85.4" cy="4.2" r="2.1" fill="#e6550d"/><circle cx="59.6" cy="46.4" r="2.1" fill="#e6550d"/><circle cx="89.8" cy="67.3" r="2.1" fill="#e6550d"/><circle cx="26.1" cy="14.4" r="2.1" fill="#e6550d"/><circle cx="10.4" cy="61.5" r="2.1" fill="#e6550d"/><circle cx="62.6" cy="94.5" r="2.1" fill="#e6550d"/><circle cx="70.0" cy="62.6" r="2.1" fill="#e6550d"/><circle cx="84.4" cy="22.6" r="2.1" fill="#e6550d"/><circle cx="67.2" cy="45.7" r="2.1" fill="#e6550d"/><circle cx="24.0" cy="89.4" r="2.1" fill="#e6550d"/><circle cx="4.4" cy="36.9" r="2.1" fill="#e6550d"/><circle cx="91.9" cy="42.1" r="2.1" fill="#e6550d"/><circle cx="17.4" cy="93.1" r="2.1" fill="#e6550d"/><circle cx="64.9" cy="90.5" r="2.1" fill="#e6550d"/><circle cx="45.7" cy="6.4" r="2.1" fill="#e6550d"/><circle cx="8.2" cy="91.5" r="2.1" fill="#e6550d"/><circle cx="12.9" cy="88.7" r="2.1" fill="#e6550d"/><circle cx="-1.6" cy="35.2" r="2.1" fill="#e6550d"/><circle cx="95.4" cy="35.2" r="2.1" fill="#e6550d"/><circle cx="25.2" cy="16.8" r="2.1" fill="#e6550d"/><circle cx="29.4" cy="16.4" r="2.1" fill="#e6550d"/><circle cx="18.0" cy="0.5" r="2.1" fill="#e6550d"/><circle cx="18.0" cy="97.5" r="2.1" fill="#e6550d"/><circle cx="19.9" cy="48.9" r="2.1" fill="#e6550d"/><circle cx="21.6" cy="88.8" r="2.1" fill="#e6550d"/><circle cx="26.0" cy="16.1" r="2.1" fill="#e6550d"/><circle cx="3.0" cy="79.8" r="2.1" fill="#e6550d"/><circle cx="29.0" cy="30.7" r="2.1" fill="#e6550d"/><circle cx="4.0" cy="89.5" r="2.1" fill="#e6550d"/><circle cx="6.6" cy="80.0" r="2.1" fill="#e6550d"/><circle cx="19.2" cy="56.3" r="2.1" fill="#e6550d"/><circle cx="23.2" cy="10.9" r="2.1" fill="#e6550d"/><circle cx="49.4" cy="31.2" r="2.1" fill="#e6550d"/><circle cx="79.1" cy="57.8" r="2.1" fill="#e6550d"/><circle cx="45.6" cy="72.2" r="2.1" fill="#e6550d"/><circle cx="35.2" cy="69.6" r="2.1" fill="#e6550d"/><circle cx="52.6" cy="66.1" r="2.1" fill="#e6550d"/><circle cx="73.9" cy="42.2" r="2.1" fill="#e6550d"/><circle cx="17.9" cy="84.5" r="2.1" fill="#e6550d"/><circle cx="92.6" cy="13.5" r="2.1" fill="#e6550d"/><circle cx="26.5" cy="8.1" r="2.1" fill="#e6550d"/><circle cx="94.6" cy="48.1" r="2.1" fill="#e6550d"/><circle cx="53.7" cy="85.7" r="2.1" fill="#e6550d"/><circle cx="5.3" cy="84.5" r="2.1" fill="#e6550d"/><circle cx="60.1" cy="44.1" r="2.1" fill="#e6550d"/><circle cx="1.1" cy="58.9" r="2.1" fill="#e6550d"/><circle cx="98.1" cy="58.9" r="2.1" fill="#e6550d"/><circle cx="56.7" cy="26.5" r="2.1" fill="#e6550d"/><circle cx="41.9" cy="24.2" r="2.1" fill="#e6550d"/><circle cx="23.5" cy="57.1" r="2.1" fill="#e6550d"/><circle cx="30.1" cy="27.4" r="2.1" fill="#e6550d"/><circle cx="60.9" cy="1.5" r="2.1" fill="#e6550d"/><circle cx="60.9" cy="98.5" r="2.1" fill="#e6550d"/><circle cx="63.8" cy="23.2" r="2.1" fill="#e6550d"/><circle cx="65.2" cy="94.1" r="2.1" fill="#e6550d"/><circle cx="18.4" cy="9.6" r="2.1" fill="#e6550d"/><circle cx="75.6" cy="36.0" r="2.1" fill="#e6550d"/><circle cx="74.9" cy="37.8" r="2.1" fill="#e6550d"/><circle cx="73.5" cy="4.2" r="2.1" fill="#e6550d"/><circle cx="21.9" cy="38.5" r="2.1" fill="#e6550d"/><circle cx="2.2" cy="16.6" r="2.1" fill="#e6550d"/><circle cx="12.2" cy="48.1" r="2.1" fill="#e6550d"/><circle cx="59.5" cy="57.6" r="2.1" fill="#e6550d"/><circle cx="2.8" cy="67.5" r="2.1" fill="#e6550d"/><circle cx="76.3" cy="68.5" r="2.1" fill="#e6550d"/><circle cx="9.1" cy="21.6" r="2.1" fill="#e6550d"/><circle cx="26.8" cy="28.2" r="2.1" fill="#e6550d"/><circle cx="31.2" cy="28.3" r="2.1" fill="#e6550d"/><circle cx="93.4" cy="36.0" r="2.1" fill="#e6550d"/><circle cx="88.0" cy="61.6" r="2.1" fill="#e6550d"/><circle cx="27.0" cy="41.7" r="2.1" fill="#e6550d"/><circle cx="-0.3" cy="78.1" r="2.1" fill="#e6550d"/><circle cx="96.7" cy="78.1" r="2.1" fill="#e6550d"/><circle cx="16.1" cy="4.7" r="2.1" fill="#e6550d"/><circle cx="63.4" cy="47.2" r="2.1" fill="#e6550d"/><circle cx="65.6" cy="48.7" r="2.1" fill="#e6550d"/><circle cx="22.2" cy="17.3" r="2.1" fill="#e6550d"/><circle cx="58.8" cy="51.8" r="2.1" fill="#e6550d"/><circle cx="0.7" cy="12.5" r="2.1" fill="#e6550d"/><circle cx="97.7" cy="12.5" r="2.1" fill="#e6550d"/><circle cx="46.5" cy="85.6" r="2.1" fill="#e6550d"/><circle cx="92.7" cy="37.0" r="2.1" fill="#e6550d"/><circle cx="52.1" cy="15.3" r="2.1" fill="#e6550d"/><circle cx="50.0" cy="65.8" r="2.1" fill="#e6550d"/><circle cx="30.5" cy="65.2" r="2.1" fill="#e6550d"/><circle cx="55.7" cy="87.0" r="2.1" fill="#e6550d"/><circle cx="70.1" cy="23.6" r="2.1" fill="#e6550d"/><circle cx="87.9" cy="72.4" r="2.1" fill="#e6550d"/><circle cx="90.3" cy="11.1" r="2.1" fill="#e6550d"/><circle cx="87.5" cy="74.0" r="2.1" fill="#e6550d"/><circle cx="60.3" cy="34.2" r="2.1" fill="#e6550d"/><circle cx="30.8" cy="27.7" r="2.1" fill="#e6550d"/><circle cx="3.0" cy="50.8" r="2.1" fill="#e6550d"/><circle cx="36.1" cy="74.3" r="2.1" fill="#e6550d"/><circle cx="8.0" cy="47.9" r="2.1" fill="#e6550d"/><circle cx="5.5" cy="60.3" r="2.1" fill="#e6550d"/><circle cx="79.3" cy="52.2" r="2.1" fill="#e6550d"/><circle cx="-1.3" cy="55.5" r="2.1" fill="#e6550d"/><circle cx="95.7" cy="55.5" r="2.1" fill="#e6550d"/><circle cx="90.4" cy="71.3" r="2.1" fill="#e6550d"/><circle cx="15.8" cy="92.8" r="2.1" fill="#e6550d"/><circle cx="2.4" cy="81.0" r="2.1" fill="#e6550d"/><circle cx="1.9" cy="75.9" r="2.1" fill="#e6550d"/><circle cx="98.9" cy="75.9" r="2.1" fill="#e6550d"/><circle cx="90.3" cy="32.1" r="2.1" fill="#e6550d"/><circle cx="53.6" cy="35.0" r="2.1" fill="#e6550d"/><circle cx="27.5" cy="61.4" r="2.1" fill="#e6550d"/><circle cx="82.4" cy="93.7" r="2.1" fill="#e6550d"/><circle cx="40.0" cy="23.4" r="2.1" fill="#e6550d"/><circle cx="38.5" cy="5.2" r="2.1" fill="#e6550d"/><circle cx="31.9" cy="71.9" r="2.1" fill="#e6550d"/><circle cx="77.7" cy="29.6" r="2.1" fill="#e6550d"/><circle cx="-0.2" cy="63.5" r="2.1" fill="#e6550d"/><circle cx="96.8" cy="63.5" r="2.1" fill="#e6550d"/><circle cx="63.4" cy="2.3" r="2.1" fill="#e6550d"/><circle cx="89.6" cy="70.5" r="2.1" fill="#e6550d"/><circle cx="94.0" cy="32.8" r="2.1" fill="#e6550d"/><circle cx="6.2" cy="34.2" r="2.1" fill="#e6550d"/><circle cx="5.3" cy="18.2" r="2.1" fill="#e6550d"/><circle cx="60.0" cy="78.5" r="2.1" fill="#e6550d"/><circle cx="30.0" cy="71.1" r="2.1" fill="#e6550d"/><circle cx="55.1" cy="80.3" r="2.1" fill="#e6550d"/><circle cx="53.9" cy="20.9" r="2.1" fill="#e6550d"/><circle cx="31.7" cy="18.7" r="2.1" fill="#e6550d"/><circle cx="22.7" cy="6.2" r="2.1" fill="#e6550d"/><circle cx="73.8" cy="41.5" r="2.1" fill="#e6550d"/></pattern><pattern id="pM" patternUnits="userSpaceOnUse" width="97" height="97"><rect width="97" height="97" fill="#e6550d"/><circle cx="83.1" cy="34.8" r="2.1" fill="#3182bd"/><circle cx="28.5" cy="91.5" r="2.1" fill="#3182bd"/><circle cx="56.5" cy="20.9" r="2.1" fill="#3182bd"/><circle cx="37.6" cy="32.9" r="2.1" fill="#3182bd"/><circle cx="59.7" cy="47.2" r="2.1" fill="#3182bd"/><circle cx="79.9" cy="75.6" r="2.1" fill="#3182bd"/><circle cx="81.0" cy="56.1" r="2.1" fill="#3182bd"/><circle cx="25.0" cy="24.8" r="2.1" fill="#3182bd"/><circle cx="12.1" cy="54.7" r="2.1" fill="#3182bd"/><circle cx="16.2" cy="79.2" r="2.1" fill="#3182bd"/><circle cx="65.7" cy="32.1" r="2.1" fill="#3182bd"/><circle cx="66.5" cy="8.4" r="2.1" fill="#3182bd"/><circle cx="18.1" cy="16.8" r="2.1" fill="#3182bd"/><circle cx="65.3" cy="6.7" r="2.1" fill="#3182bd"/><circle cx="79.8" cy="14.3" r="2.1" fill="#3182bd"/><circle cx="79.3" cy="21.8" r="2.1" fill="#3182bd"/><circle cx="80.9" cy="31.7" r="2.1" fill="#3182bd"/><circle cx="16.6" cy="28.2" r="2.1" fill="#3182bd"/><circle cx="32.3" cy="30.7" r="2.1" fill="#3182bd"/><circle cx="12.6" cy="69.0" r="2.1" fill="#3182bd"/><circle cx="21.3" cy="80.3" r="2.1" fill="#3182bd"/><circle cx="33.6" cy="36.4" r="2.1" fill="#3182bd"/><circle cx="70.1" cy="66.7" r="2.1" fill="#3182bd"/><circle cx="4.5" cy="41.0" r="2.1" fill="#3182bd"/><circle cx="50.3" cy="85.4" r="2.1" fill="#3182bd"/><circle cx="26.4" cy="63.3" r="2.1" fill="#3182bd"/><circle cx="22.3" cy="90.5" r="2.1" fill="#3182bd"/><circle cx="20.7" cy="85.6" r="2.1" fill="#3182bd"/><circle cx="41.1" cy="35.3" r="2.1" fill="#3182bd"/><circle cx="53.9" cy="58.1" r="2.1" fill="#3182bd"/><circle cx="61.0" cy="15.7" r="2.1" fill="#3182bd"/><circle cx="41.3" cy="91.7" r="2.1" fill="#3182bd"/><circle cx="81.9" cy="85.7" r="2.1" fill="#3182bd"/><circle cx="75.3" cy="46.3" r="2.1" fill="#3182bd"/><circle cx="25.1" cy="81.3" r="2.1" fill="#3182bd"/><circle cx="82.9" cy="76.9" r="2.1" fill="#3182bd"/><circle cx="90.3" cy="66.3" r="2.1" fill="#3182bd"/><circle cx="39.6" cy="5.4" r="2.1" fill="#3182bd"/><circle cx="10.1" cy="79.0" r="2.1" fill="#3182bd"/><circle cx="93.8" cy="59.0" r="2.1" fill="#3182bd"/><circle cx="51.3" cy="25.1" r="2.1" fill="#3182bd"/><circle cx="2.4" cy="67.5" r="2.1" fill="#3182bd"/><circle cx="1.0" cy="14.9" r="2.1" fill="#3182bd"/><circle cx="98.0" cy="14.9" r="2.1" fill="#3182bd"/><circle cx="67.3" cy="82.8" r="2.1" fill="#3182bd"/><circle cx="53.8" cy="34.3" r="2.1" fill="#3182bd"/><circle cx="17.8" cy="33.8" r="2.1" fill="#3182bd"/><circle cx="20.1" cy="79.4" r="2.1" fill="#3182bd"/><circle cx="64.6" cy="23.2" r="2.1" fill="#3182bd"/><circle cx="65.1" cy="85.4" r="2.1" fill="#3182bd"/><circle cx="73.5" cy="12.9" r="2.1" fill="#3182bd"/><circle cx="-1.0" cy="59.7" r="2.1" fill="#3182bd"/><circle cx="96.0" cy="59.7" r="2.1" fill="#3182bd"/><circle cx="57.1" cy="61.8" r="2.1" fill="#3182bd"/><circle cx="37.2" cy="1.9" r="2.1" fill="#3182bd"/><circle cx="37.2" cy="98.9" r="2.1" fill="#3182bd"/><circle cx="5.2" cy="23.4" r="2.1" fill="#3182bd"/><circle cx="20.3" cy="44.4" r="2.1" fill="#3182bd"/><circle cx="6.0" cy="46.9" r="2.1" fill="#3182bd"/><circle cx="72.4" cy="32.4" r="2.1" fill="#3182bd"/><circle cx="30.3" cy="56.9" r="2.1" fill="#3182bd"/><circle cx="80.6" cy="26.0" r="2.1" fill="#3182bd"/><circle cx="73.1" cy="30.0" r="2.1" fill="#3182bd"/><circle cx="9.7" cy="87.4" r="2.1" fill="#3182bd"/><circle cx="79.5" cy="5.3" r="2.1" fill="#3182bd"/><circle cx="91.8" cy="48.2" r="2.1" fill="#3182bd"/><circle cx="65.7" cy="8.0" r="2.1" fill="#3182bd"/><circle cx="40.0" cy="10.9" r="2.1" fill="#3182bd"/><circle cx="81.6" cy="92.3" r="2.1" fill="#3182bd"/><circle cx="23.8" cy="42.3" r="2.1" fill="#3182bd"/><circle cx="4.3" cy="56.4" r="2.1" fill="#3182bd"/><circle cx="91.5" cy="68.0" r="2.1" fill="#3182bd"/><circle cx="47.2" cy="34.5" r="2.1" fill="#3182bd"/><circle cx="23.0" cy="36.3" r="2.1" fill="#3182bd"/><circle cx="35.0" cy="44.3" r="2.1" fill="#3182bd"/><circle cx="29.8" cy="62.5" r="2.1" fill="#3182bd"/><circle cx="17.6" cy="25.9" r="2.1" fill="#3182bd"/><circle cx="26.2" cy="6.9" r="2.1" fill="#3182bd"/><circle cx="73.7" cy="26.8" r="2.1" fill="#3182bd"/><circle cx="90.7" cy="88.9" r="2.1" fill="#3182bd"/><circle cx="35.5" cy="41.3" r="2.1" fill="#3182bd"/><circle cx="83.4" cy="88.3" r="2.1" fill="#3182bd"/><circle cx="69.6" cy="46.9" r="2.1" fill="#3182bd"/><circle cx="31.3" cy="44.7" r="2.1" fill="#3182bd"/><circle cx="78.3" cy="75.7" r="2.1" fill="#3182bd"/><circle cx="1.7" cy="21.7" r="2.1" fill="#3182bd"/><circle cx="98.7" cy="21.7" r="2.1" fill="#3182bd"/><circle cx="40.4" cy="30.4" r="2.1" fill="#3182bd"/><circle cx="32.2" cy="18.0" r="2.1" fill="#3182bd"/><circle cx="49.2" cy="0.6" r="2.1" fill="#3182bd"/><circle cx="49.2" cy="97.6" r="2.1" fill="#3182bd"/><circle cx="25.6" cy="53.0" r="2.1" fill="#3182bd"/><circle cx="15.5" cy="34.1" r="2.1" fill="#3182bd"/><circle cx="18.4" cy="32.2" r="2.1" fill="#3182bd"/><circle cx="15.0" cy="82.9" r="2.1" fill="#3182bd"/><circle cx="26.6" cy="3.1" r="2.1" fill="#3182bd"/><circle cx="29.5" cy="50.2" r="2.1" fill="#3182bd"/><circle cx="26.4" cy="22.2" r="2.1" fill="#3182bd"/><circle cx="86.4" cy="34.8" r="2.1" fill="#3182bd"/><circle cx="24.4" cy="52.3" r="2.1" fill="#3182bd"/><circle cx="55.1" cy="34.5" r="2.1" fill="#3182bd"/><circle cx="9.6" cy="36.4" r="2.1" fill="#3182bd"/><circle cx="10.1" cy="49.2" r="2.1" fill="#3182bd"/><circle cx="19.8" cy="28.8" r="2.1" fill="#3182bd"/><circle cx="68.8" cy="12.2" r="2.1" fill="#3182bd"/><circle cx="33.0" cy="10.7" r="2.1" fill="#3182bd"/><circle cx="4.9" cy="81.0" r="2.1" fill="#3182bd"/><circle cx="65.9" cy="5.0" r="2.1" fill="#3182bd"/><circle cx="13.5" cy="46.1" r="2.1" fill="#3182bd"/><circle cx="80.0" cy="27.5" r="2.1" fill="#3182bd"/><circle cx="51.5" cy="34.5" r="2.1" fill="#3182bd"/><circle cx="42.1" cy="7.5" r="2.1" fill="#3182bd"/><circle cx="6.7" cy="66.7" r="2.1" fill="#3182bd"/><circle cx="58.3" cy="11.2" r="2.1" fill="#3182bd"/><circle cx="24.5" cy="51.3" r="2.1" fill="#3182bd"/><circle cx="79.8" cy="75.0" r="2.1" fill="#3182bd"/><circle cx="44.6" cy="90.9" r="2.1" fill="#3182bd"/><circle cx="37.9" cy="19.8" r="2.1" fill="#3182bd"/><circle cx="6.0" cy="75.5" r="2.1" fill="#3182bd"/><circle cx="22.0" cy="85.9" r="2.1" fill="#3182bd"/><circle cx="92.1" cy="63.5" r="2.1" fill="#3182bd"/><circle cx="17.8" cy="14.4" r="2.1" fill="#3182bd"/><circle cx="32.3" cy="58.7" r="2.1" fill="#3182bd"/><circle cx="24.9" cy="61.1" r="2.1" fill="#3182bd"/><circle cx="27.2" cy="70.3" r="2.1" fill="#3182bd"/><circle cx="19.3" cy="79.5" r="2.1" fill="#3182bd"/><circle cx="69.4" cy="5.0" r="2.1" fill="#3182bd"/><circle cx="88.4" cy="73.1" r="2.1" fill="#3182bd"/><circle cx="25.1" cy="2.6" r="2.1" fill="#3182bd"/><circle cx="92.8" cy="21.7" r="2.1" fill="#3182bd"/><circle cx="9.7" cy="29.3" r="2.1" fill="#3182bd"/><circle cx="40.7" cy="41.1" r="2.1" fill="#3182bd"/><circle cx="42.1" cy="29.7" r="2.1" fill="#3182bd"/><circle cx="33.5" cy="59.4" r="2.1" fill="#3182bd"/><circle cx="15.8" cy="5.8" r="2.1" fill="#3182bd"/><circle cx="65.8" cy="11.2" r="2.1" fill="#3182bd"/><circle cx="-0.4" cy="51.0" r="2.1" fill="#3182bd"/><circle cx="96.6" cy="51.0" r="2.1" fill="#3182bd"/><circle cx="57.2" cy="4.6" r="2.1" fill="#3182bd"/><circle cx="56.7" cy="69.1" r="2.1" fill="#3182bd"/><circle cx="83.0" cy="-1.4" r="2.1" fill="#3182bd"/><circle cx="83.0" cy="95.6" r="2.1" fill="#3182bd"/><circle cx="3.7" cy="25.6" r="2.1" fill="#3182bd"/><circle cx="38.8" cy="91.3" r="2.1" fill="#3182bd"/><circle cx="-0.4" cy="14.5" r="2.1" fill="#3182bd"/><circle cx="96.6" cy="14.5" r="2.1" fill="#3182bd"/><circle cx="94.6" cy="81.3" r="2.1" fill="#3182bd"/><circle cx="22.6" cy="83.5" r="2.1" fill="#3182bd"/><circle cx="89.5" cy="75.0" r="2.1" fill="#3182bd"/><circle cx="27.1" cy="41.0" r="2.1" fill="#3182bd"/><circle cx="37.1" cy="25.0" r="2.1" fill="#3182bd"/><circle cx="81.2" cy="89.8" r="2.1" fill="#3182bd"/><circle cx="85.6" cy="70.3" r="2.1" fill="#3182bd"/><circle cx="2.6" cy="69.1" r="2.1" fill="#3182bd"/><circle cx="84.0" cy="17.7" r="2.1" fill="#3182bd"/><circle cx="33.4" cy="71.7" r="2.1" fill="#3182bd"/><circle cx="62.7" cy="28.1" r="2.1" fill="#3182bd"/><circle cx="11.4" cy="56.5" r="2.1" fill="#3182bd"/><circle cx="21.5" cy="51.4" r="2.1" fill="#3182bd"/><circle cx="73.8" cy="29.6" r="2.1" fill="#3182bd"/><circle cx="39.3" cy="90.3" r="2.1" fill="#3182bd"/><circle cx="48.1" cy="55.6" r="2.1" fill="#3182bd"/><circle cx="7.4" cy="31.4" r="2.1" fill="#3182bd"/><circle cx="67.5" cy="5.7" r="2.1" fill="#3182bd"/><circle cx="93.3" cy="80.4" r="2.1" fill="#3182bd"/><circle cx="65.0" cy="68.1" r="2.1" fill="#3182bd"/><circle cx="29.9" cy="59.8" r="2.1" fill="#3182bd"/><circle cx="85.8" cy="76.1" r="2.1" fill="#3182bd"/><circle cx="53.9" cy="32.7" r="2.1" fill="#3182bd"/><circle cx="27.2" cy="54.0" r="2.1" fill="#3182bd"/><circle cx="82.0" cy="28.4" r="2.1" fill="#3182bd"/><circle cx="56.6" cy="39.4" r="2.1" fill="#3182bd"/><circle cx="56.8" cy="67.7" r="2.1" fill="#3182bd"/><circle cx="27.7" cy="35.5" r="2.1" fill="#3182bd"/><circle cx="87.8" cy="71.9" r="2.1" fill="#3182bd"/><circle cx="92.0" cy="40.1" r="2.1" fill="#3182bd"/><circle cx="29.5" cy="22.0" r="2.1" fill="#3182bd"/><circle cx="67.5" cy="33.4" r="2.1" fill="#3182bd"/><circle cx="66.0" cy="6.9" r="2.1" fill="#3182bd"/><circle cx="-1.4" cy="26.4" r="2.1" fill="#3182bd"/><circle cx="95.6" cy="26.4" r="2.1" fill="#3182bd"/><circle cx="70.2" cy="42.2" r="2.1" fill="#3182bd"/><circle cx="61.7" cy="64.6" r="2.1" fill="#3182bd"/><circle cx="64.2" cy="72.4" r="2.1" fill="#3182bd"/><circle cx="53.9" cy="72.9" r="2.1" fill="#3182bd"/><circle cx="17.5" cy="94.0" r="2.1" fill="#3182bd"/><circle cx="21.0" cy="43.4" r="2.1" fill="#3182bd"/><circle cx="74.0" cy="48.6" r="2.1" fill="#3182bd"/><circle cx="9.8" cy="64.4" r="2.1" fill="#3182bd"/><circle cx="13.7" cy="32.4" r="2.1" fill="#3182bd"/><circle cx="25.6" cy="27.9" r="2.1" fill="#3182bd"/><circle cx="52.9" cy="50.1" r="2.1" fill="#3182bd"/><circle cx="85.8" cy="6.3" r="2.1" fill="#3182bd"/><circle cx="94.6" cy="21.9" r="2.1" fill="#3182bd"/><circle cx="90.0" cy="61.8" r="2.1" fill="#3182bd"/><circle cx="31.8" cy="39.3" r="2.1" fill="#3182bd"/><circle cx="7.0" cy="4.6" r="2.1" fill="#3182bd"/><circle cx="13.5" cy="65.7" r="2.1" fill="#3182bd"/><circle cx="70.0" cy="59.7" r="2.1" fill="#3182bd"/><circle cx="-1.3" cy="50.3" r="2.1" fill="#3182bd"/><circle cx="95.7" cy="50.3" r="2.1" fill="#3182bd"/><circle cx="9.0" cy="85.7" r="2.1" fill="#3182bd"/><circle cx="7.2" cy="43.1" r="2.1" fill="#3182bd"/><circle cx="29.6" cy="18.8" r="2.1" fill="#3182bd"/><circle cx="25.1" cy="13.2" r="2.1" fill="#3182bd"/><circle cx="39.9" cy="71.5" r="2.1" fill="#3182bd"/><circle cx="14.7" cy="4.5" r="2.1" fill="#3182bd"/><circle cx="25.8" cy="21.1" r="2.1" fill="#3182bd"/><circle cx="67.5" cy="11.5" r="2.1" fill="#3182bd"/><circle cx="25.7" cy="49.0" r="2.1" fill="#3182bd"/><circle cx="34.3" cy="6.6" r="2.1" fill="#3182bd"/><circle cx="58.1" cy="2.4" r="2.1" fill="#3182bd"/><circle cx="10.7" cy="36.5" r="2.1" fill="#3182bd"/><circle cx="75.2" cy="32.9" r="2.1" fill="#3182bd"/><circle cx="90.3" cy="54.2" r="2.1" fill="#3182bd"/><circle cx="51.5" cy="92.4" r="2.1" fill="#3182bd"/><circle cx="59.6" cy="53.5" r="2.1" fill="#3182bd"/><circle cx="22.7" cy="85.9" r="2.1" fill="#3182bd"/><circle cx="40.6" cy="38.5" r="2.1" fill="#3182bd"/><circle cx="61.8" cy="8.2" r="2.1" fill="#3182bd"/><circle cx="41.8" cy="93.7" r="2.1" fill="#3182bd"/><circle cx="16.2" cy="31.0" r="2.1" fill="#3182bd"/><circle cx="10.2" cy="16.2" r="2.1" fill="#3182bd"/><circle cx="32.8" cy="41.9" r="2.1" fill="#3182bd"/><circle cx="74.5" cy="30.0" r="2.1" fill="#3182bd"/><circle cx="35.2" cy="64.5" r="2.1" fill="#3182bd"/><circle cx="81.0" cy="31.1" r="2.1" fill="#3182bd"/><circle cx="64.1" cy="9.1" r="2.1" fill="#3182bd"/><circle cx="19.3" cy="33.9" r="2.1" fill="#3182bd"/><circle cx="19.1" cy="86.3" r="2.1" fill="#3182bd"/><circle cx="2.9" cy="48.4" r="2.1" fill="#3182bd"/><circle cx="53.2" cy="24.2" r="2.1" fill="#3182bd"/><circle cx="91.3" cy="46.6" r="2.1" fill="#3182bd"/><circle cx="18.3" cy="26.3" r="2.1" fill="#3182bd"/><circle cx="28.5" cy="37.1" r="2.1" fill="#3182bd"/><circle cx="21.8" cy="19.5" r="2.1" fill="#3182bd"/><circle cx="78.8" cy="8.4" r="2.1" fill="#3182bd"/><circle cx="82.4" cy="75.1" r="2.1" fill="#3182bd"/><circle cx="53.1" cy="89.9" r="2.1" fill="#3182bd"/><circle cx="70.0" cy="69.1" r="2.1" fill="#3182bd"/><circle cx="65.5" cy="32.0" r="2.1" fill="#3182bd"/><circle cx="5.7" cy="72.1" r="2.1" fill="#3182bd"/><circle cx="76.0" cy="6.6" r="2.1" fill="#3182bd"/><circle cx="76.7" cy="20.3" r="2.1" fill="#3182bd"/><circle cx="56.9" cy="14.5" r="2.1" fill="#3182bd"/><circle cx="7.7" cy="71.3" r="2.1" fill="#3182bd"/><circle cx="69.6" cy="77.2" r="2.1" fill="#3182bd"/><circle cx="90.9" cy="66.8" r="2.1" fill="#3182bd"/><circle cx="13.9" cy="14.5" r="2.1" fill="#3182bd"/><circle cx="45.5" cy="69.7" r="2.1" fill="#3182bd"/><circle cx="8.5" cy="70.4" r="2.1" fill="#3182bd"/><circle cx="16.6" cy="54.3" r="2.1" fill="#3182bd"/><circle cx="80.1" cy="50.8" r="2.1" fill="#3182bd"/><circle cx="67.9" cy="88.2" r="2.1" fill="#3182bd"/><circle cx="2.5" cy="23.7" r="2.1" fill="#3182bd"/><circle cx="86.6" cy="31.3" r="2.1" fill="#3182bd"/><circle cx="83.0" cy="31.3" r="2.1" fill="#3182bd"/><circle cx="5.3" cy="18.0" r="2.1" fill="#3182bd"/><circle cx="66.4" cy="29.8" r="2.1" fill="#3182bd"/><circle cx="50.9" cy="30.3" r="2.1" fill="#3182bd"/><circle cx="43.5" cy="62.5" r="2.1" fill="#3182bd"/><circle cx="5.1" cy="82.4" r="2.1" fill="#3182bd"/><circle cx="38.8" cy="18.7" r="2.1" fill="#3182bd"/><circle cx="42.3" cy="47.3" r="2.1" fill="#3182bd"/><circle cx="20.6" cy="84.2" r="2.1" fill="#3182bd"/><circle cx="83.2" cy="79.7" r="2.1" fill="#3182bd"/><circle cx="20.2" cy="79.4" r="2.1" fill="#3182bd"/><circle cx="70.3" cy="71.4" r="2.1" fill="#3182bd"/><circle cx="21.4" cy="40.1" r="2.1" fill="#3182bd"/><circle cx="26.8" cy="41.8" r="2.1" fill="#3182bd"/><circle cx="33.1" cy="43.8" r="2.1" fill="#3182bd"/><circle cx="38.9" cy="87.5" r="2.1" fill="#3182bd"/><circle cx="84.0" cy="13.7" r="2.1" fill="#3182bd"/><circle cx="67.7" cy="3.2" r="2.1" fill="#3182bd"/><circle cx="54.1" cy="35.1" r="2.1" fill="#3182bd"/><circle cx="30.0" cy="16.1" r="2.1" fill="#3182bd"/><circle cx="21.7" cy="56.6" r="2.1" fill="#3182bd"/><circle cx="63.3" cy="5.3" r="2.1" fill="#3182bd"/><circle cx="30.0" cy="49.5" r="2.1" fill="#3182bd"/><circle cx="38.1" cy="85.5" r="2.1" fill="#3182bd"/><circle cx="58.2" cy="64.0" r="2.1" fill="#3182bd"/><circle cx="5.3" cy="70.5" r="2.1" fill="#3182bd"/><circle cx="82.4" cy="29.0" r="2.1" fill="#3182bd"/><circle cx="76.9" cy="42.1" r="2.1" fill="#3182bd"/><circle cx="33.9" cy="74.6" r="2.1" fill="#3182bd"/><circle cx="57.7" cy="33.5" r="2.1" fill="#3182bd"/><circle cx="36.2" cy="27.2" r="2.1" fill="#3182bd"/><circle cx="65.5" cy="3.9" r="2.1" fill="#3182bd"/><circle cx="67.0" cy="11.3" r="2.1" fill="#3182bd"/><circle cx="64.0" cy="65.0" r="2.1" fill="#3182bd"/><circle cx="63.1" cy="63.8" r="2.1" fill="#3182bd"/><circle cx="31.5" cy="76.5" r="2.1" fill="#3182bd"/><circle cx="66.9" cy="25.4" r="2.1" fill="#3182bd"/><circle cx="89.8" cy="87.6" r="2.1" fill="#3182bd"/><circle cx="82.8" cy="68.1" r="2.1" fill="#3182bd"/><circle cx="24.3" cy="15.1" r="2.1" fill="#3182bd"/><circle cx="67.1" cy="37.1" r="2.1" fill="#3182bd"/><circle cx="15.0" cy="32.3" r="2.1" fill="#3182bd"/><circle cx="39.5" cy="92.3" r="2.1" fill="#3182bd"/><circle cx="94.3" cy="6.6" r="2.1" fill="#3182bd"/><circle cx="13.9" cy="13.8" r="2.1" fill="#3182bd"/><circle cx="30.5" cy="27.3" r="2.1" fill="#3182bd"/><circle cx="53.2" cy="83.7" r="2.1" fill="#3182bd"/><circle cx="66.6" cy="89.2" r="2.1" fill="#3182bd"/><circle cx="63.7" cy="28.6" r="2.1" fill="#3182bd"/><circle cx="26.7" cy="22.2" r="2.1" fill="#3182bd"/><circle cx="91.1" cy="82.0" r="2.1" fill="#3182bd"/><circle cx="55.3" cy="38.9" r="2.1" fill="#3182bd"/><circle cx="48.0" cy="48.2" r="2.1" fill="#3182bd"/><circle cx="44.2" cy="71.3" r="2.1" fill="#3182bd"/><circle cx="10.5" cy="76.4" r="2.1" fill="#3182bd"/><circle cx="45.4" cy="20.1" r="2.1" fill="#3182bd"/><circle cx="3.6" cy="80.4" r="2.1" fill="#3182bd"/><circle cx="24.3" cy="45.6" r="2.1" fill="#3182bd"/><circle cx="29.2" cy="10.9" r="2.1" fill="#3182bd"/><circle cx="40.5" cy="63.9" r="2.1" fill="#3182bd"/><circle cx="-0.7" cy="91.9" r="2.1" fill="#3182bd"/><circle cx="96.3" cy="91.9" r="2.1" fill="#3182bd"/><circle cx="26.9" cy="60.2" r="2.1" fill="#3182bd"/><circle cx="87.2" cy="64.4" r="2.1" fill="#3182bd"/><circle cx="11.9" cy="45.3" r="2.1" fill="#3182bd"/><circle cx="51.8" cy="47.7" r="2.1" fill="#3182bd"/><circle cx="13.7" cy="55.4" r="2.1" fill="#3182bd"/><circle cx="34.4" cy="77.1" r="2.1" fill="#3182bd"/><circle cx="92.7" cy="37.6" r="2.1" fill="#3182bd"/><circle cx="67.9" cy="50.4" r="2.1" fill="#3182bd"/><circle cx="67.3" cy="10.4" r="2.1" fill="#3182bd"/><circle cx="79.8" cy="74.7" r="2.1" fill="#3182bd"/><circle cx="4.3" cy="12.5" r="2.1" fill="#3182bd"/><circle cx="33.8" cy="85.9" r="2.1" fill="#3182bd"/><circle cx="57.9" cy="11.5" r="2.1" fill="#3182bd"/><circle cx="3.7" cy="11.5" r="2.1" fill="#3182bd"/><circle cx="69.5" cy="28.1" r="2.1" fill="#3182bd"/><circle cx="72.6" cy="91.2" r="2.1" fill="#3182bd"/><circle cx="38.3" cy="77.2" r="2.1" fill="#3182bd"/><circle cx="21.4" cy="39.6" r="2.1" fill="#3182bd"/><circle cx="10.1" cy="52.0" r="2.1" fill="#3182bd"/><circle cx="49.6" cy="11.3" r="2.1" fill="#3182bd"/><circle cx="47.7" cy="64.5" r="2.1" fill="#3182bd"/><circle cx="35.6" cy="9.1" r="2.1" fill="#3182bd"/><circle cx="93.8" cy="12.3" r="2.1" fill="#3182bd"/><circle cx="83.6" cy="71.5" r="2.1" fill="#3182bd"/><circle cx="23.3" cy="55.1" r="2.1" fill="#3182bd"/><circle cx="44.2" cy="84.3" r="2.1" fill="#3182bd"/><circle cx="85.9" cy="13.8" r="2.1" fill="#3182bd"/><circle cx="23.7" cy="31.7" r="2.1" fill="#3182bd"/><circle cx="79.9" cy="9.0" r="2.1" fill="#3182bd"/><circle cx="4.2" cy="12.8" r="2.1" fill="#3182bd"/><circle cx="26.0" cy="27.9" r="2.1" fill="#3182bd"/><circle cx="31.4" cy="15.6" r="2.1" fill="#3182bd"/><circle cx="39.9" cy="45.0" r="2.1" fill="#3182bd"/><circle cx="64.5" cy="37.6" r="2.1" fill="#3182bd"/><circle cx="37.8" cy="85.6" r="2.1" fill="#3182bd"/><circle cx="3.6" cy="50.4" r="2.1" fill="#3182bd"/><circle cx="82.4" cy="42.9" r="2.1" fill="#3182bd"/><circle cx="85.0" cy="78.3" r="2.1" fill="#3182bd"/><circle cx="26.2" cy="38.6" r="2.1" fill="#3182bd"/><circle cx="87.5" cy="40.1" r="2.1" fill="#3182bd"/><circle cx="7.7" cy="49.1" r="2.1" fill="#3182bd"/><circle cx="39.8" cy="40.6" r="2.1" fill="#3182bd"/><circle cx="33.0" cy="41.7" r="2.1" fill="#3182bd"/><circle cx="76.1" cy="1.5" r="2.1" fill="#3182bd"/><circle cx="76.1" cy="98.5" r="2.1" fill="#3182bd"/><circle cx="54.6" cy="51.4" r="2.1" fill="#3182bd"/><circle cx="62.2" cy="82.7" r="2.1" fill="#3182bd"/><circle cx="86.4" cy="70.5" r="2.1" fill="#3182bd"/><circle cx="45.4" cy="92.7" r="2.1" fill="#3182bd"/><circle cx="3.3" cy="67.4" r="2.1" fill="#3182bd"/><circle cx="53.0" cy="36.5" r="2.1" fill="#3182bd"/><circle cx="37.4" cy="94.2" r="2.1" fill="#3182bd"/><circle cx="73.0" cy="30.2" r="2.1" fill="#3182bd"/><circle cx="22.1" cy="86.4" r="2.1" fill="#3182bd"/><circle cx="0.4" cy="78.0" r="2.1" fill="#3182bd"/><circle cx="97.4" cy="78.0" r="2.1" fill="#3182bd"/><circle cx="31.3" cy="85.0" r="2.1" fill="#3182bd"/><circle cx="3.5" cy="33.4" r="2.1" fill="#3182bd"/><circle cx="13.1" cy="48.0" r="2.1" fill="#3182bd"/><circle cx="36.1" cy="80.1" r="2.1" fill="#3182bd"/><circle cx="23.2" cy="49.7" r="2.1" fill="#3182bd"/><circle cx="75.5" cy="47.6" r="2.1" fill="#3182bd"/><circle cx="62.3" cy="15.2" r="2.1" fill="#3182bd"/><circle cx="6.4" cy="31.0" r="2.1" fill="#3182bd"/><circle cx="25.2" cy="24.1" r="2.1" fill="#3182bd"/><circle cx="12.4" cy="31.7" r="2.1" fill="#3182bd"/><circle cx="16.3" cy="30.5" r="2.1" fill="#3182bd"/><circle cx="19.2" cy="-1.4" r="2.1" fill="#3182bd"/><circle cx="19.2" cy="95.6" r="2.1" fill="#3182bd"/><circle cx="65.3" cy="31.3" r="2.1" fill="#3182bd"/><circle cx="16.1" cy="13.1" r="2.1" fill="#3182bd"/><circle cx="49.9" cy="75.2" r="2.1" fill="#3182bd"/><circle cx="1.7" cy="50.2" r="2.1" fill="#3182bd"/><circle cx="98.7" cy="50.2" r="2.1" fill="#3182bd"/><circle cx="93.9" cy="44.0" r="2.1" fill="#3182bd"/><circle cx="30.2" cy="57.3" r="2.1" fill="#3182bd"/><circle cx="81.4" cy="29.3" r="2.1" fill="#3182bd"/><circle cx="38.0" cy="38.1" r="2.1" fill="#3182bd"/><circle cx="8.9" cy="50.7" r="2.1" fill="#3182bd"/><circle cx="28.5" cy="66.5" r="2.1" fill="#3182bd"/><circle cx="36.0" cy="55.6" r="2.1" fill="#3182bd"/><circle cx="32.3" cy="10.1" r="2.1" fill="#3182bd"/><circle cx="16.9" cy="73.4" r="2.1" fill="#3182bd"/><circle cx="87.6" cy="71.9" r="2.1" fill="#3182bd"/><circle cx="28.3" cy="2.7" r="2.1" fill="#3182bd"/><circle cx="67.5" cy="55.8" r="2.1" fill="#3182bd"/><circle cx="0.0" cy="14.3" r="2.1" fill="#3182bd"/><circle cx="97.0" cy="14.3" r="2.1" fill="#3182bd"/><circle cx="15.3" cy="81.7" r="2.1" fill="#3182bd"/><circle cx="90.6" cy="72.1" r="2.1" fill="#3182bd"/><circle cx="80.5" cy="72.8" r="2.1" fill="#3182bd"/><circle cx="14.1" cy="94.0" r="2.1" fill="#3182bd"/><circle cx="90.0" cy="18.2" r="2.1" fill="#3182bd"/><circle cx="52.8" cy="35.1" r="2.1" fill="#3182bd"/><circle cx="39.8" cy="40.5" r="2.1" fill="#3182bd"/><circle cx="48.1" cy="72.7" r="2.1" fill="#3182bd"/><circle cx="91.1" cy="55.0" r="2.1" fill="#3182bd"/><circle cx="34.7" cy="4.1" r="2.1" fill="#3182bd"/><circle cx="70.5" cy="31.0" r="2.1" fill="#3182bd"/><circle cx="3.9" cy="57.8" r="2.1" fill="#3182bd"/><circle cx="43.0" cy="93.2" r="2.1" fill="#3182bd"/><circle cx="66.7" cy="88.7" r="2.1" fill="#3182bd"/><circle cx="29.2" cy="87.6" r="2.1" fill="#3182bd"/><circle cx="41.5" cy="91.8" r="2.1" fill="#3182bd"/><circle cx="29.9" cy="31.7" r="2.1" fill="#3182bd"/><circle cx="20.9" cy="43.7" r="2.1" fill="#3182bd"/><circle cx="25.3" cy="66.8" r="2.1" fill="#3182bd"/><circle cx="67.1" cy="19.3" r="2.1" fill="#3182bd"/><circle cx="86.4" cy="31.1" r="2.1" fill="#3182bd"/><circle cx="56.7" cy="35.5" r="2.1" fill="#3182bd"/><circle cx="87.7" cy="45.6" r="2.1" fill="#3182bd"/><circle cx="90.8" cy="84.4" r="2.1" fill="#3182bd"/><circle cx="44.0" cy="54.9" r="2.1" fill="#3182bd"/><circle cx="76.8" cy="36.8" r="2.1" fill="#3182bd"/><circle cx="2.1" cy="83.2" r="2.1" fill="#3182bd"/><circle cx="21.9" cy="44.1" r="2.1" fill="#3182bd"/><circle cx="24.9" cy="57.3" r="2.1" fill="#3182bd"/><circle cx="-0.0" cy="71.2" r="2.1" fill="#3182bd"/><circle cx="97.0" cy="71.2" r="2.1" fill="#3182bd"/></pattern><pattern id="pOO" patternUnits="userSpaceOnUse" width="97" height="97"><rect width="97" height="97" fill="#e6550d"/><circle cx="43.7" cy="24.3" r="2.1" fill="#3182bd"/><circle cx="54.7" cy="29.7" r="2.1" fill="#3182bd"/><circle cx="53.1" cy="42.4" r="2.1" fill="#3182bd"/><circle cx="44.7" cy="55.4" r="2.1" fill="#3182bd"/><circle cx="79.9" cy="66.2" r="2.1" fill="#3182bd"/><circle cx="57.8" cy="42.1" r="2.1" fill="#3182bd"/><circle cx="79.6" cy="89.4" r="2.1" fill="#3182bd"/><circle cx="0.1" cy="23.3" r="2.1" fill="#3182bd"/><circle cx="97.1" cy="23.3" r="2.1" fill="#3182bd"/><circle cx="59.9" cy="45.8" r="2.1" fill="#3182bd"/><circle cx="64.2" cy="76.8" r="2.1" fill="#3182bd"/><circle cx="29.1" cy="55.9" r="2.1" fill="#3182bd"/><circle cx="51.9" cy="48.3" r="2.1" fill="#3182bd"/><circle cx="10.9" cy="7.7" r="2.1" fill="#3182bd"/><circle cx="1.4" cy="85.0" r="2.1" fill="#3182bd"/><circle cx="98.4" cy="85.0" r="2.1" fill="#3182bd"/><circle cx="79.8" cy="94.0" r="2.1" fill="#3182bd"/><circle cx="51.0" cy="51.5" r="2.1" fill="#3182bd"/><circle cx="50.2" cy="51.7" r="2.1" fill="#3182bd"/><circle cx="91.9" cy="18.1" r="2.1" fill="#3182bd"/><circle cx="62.3" cy="32.8" r="2.1" fill="#3182bd"/><circle cx="72.8" cy="19.7" r="2.1" fill="#3182bd"/><circle cx="86.8" cy="4.3" r="2.1" fill="#3182bd"/><circle cx="68.4" cy="33.3" r="2.1" fill="#3182bd"/><circle cx="57.4" cy="9.4" r="2.1" fill="#3182bd"/><circle cx="80.3" cy="3.0" r="2.1" fill="#3182bd"/><circle cx="11.1" cy="62.0" r="2.1" fill="#3182bd"/><circle cx="81.1" cy="25.3" r="2.1" fill="#3182bd"/><circle cx="44.7" cy="29.8" r="2.1" fill="#3182bd"/><circle cx="92.9" cy="27.7" r="2.1" fill="#3182bd"/><circle cx="20.0" cy="32.9" r="2.1" fill="#3182bd"/><circle cx="80.0" cy="-0.3" r="2.1" fill="#3182bd"/><circle cx="80.0" cy="96.7" r="2.1" fill="#3182bd"/><circle cx="69.0" cy="58.3" r="2.1" fill="#3182bd"/><circle cx="66.8" cy="36.8" r="2.1" fill="#3182bd"/><circle cx="44.9" cy="52.5" r="2.1" fill="#3182bd"/><circle cx="74.8" cy="35.2" r="2.1" fill="#3182bd"/><circle cx="43.2" cy="58.0" r="2.1" fill="#3182bd"/><circle cx="38.8" cy="33.5" r="2.1" fill="#3182bd"/><circle cx="80.1" cy="-1.5" r="2.1" fill="#3182bd"/><circle cx="80.1" cy="95.5" r="2.1" fill="#3182bd"/><circle cx="9.2" cy="62.3" r="2.1" fill="#3182bd"/><circle cx="50.9" cy="52.5" r="2.1" fill="#3182bd"/><circle cx="82.2" cy="93.3" r="2.1" fill="#3182bd"/><circle cx="54.8" cy="37.0" r="2.1" fill="#3182bd"/><circle cx="18.6" cy="35.7" r="2.1" fill="#3182bd"/><circle cx="30.7" cy="3.5" r="2.1" fill="#3182bd"/><circle cx="17.1" cy="81.7" r="2.1" fill="#3182bd"/><circle cx="87.3" cy="8.1" r="2.1" fill="#3182bd"/><circle cx="77.8" cy="44.2" r="2.1" fill="#3182bd"/><circle cx="-1.8" cy="8.4" r="2.1" fill="#3182bd"/><circle cx="95.2" cy="8.4" r="2.1" fill="#3182bd"/><circle cx="48.8" cy="73.8" r="2.1" fill="#3182bd"/><circle cx="34.6" cy="27.4" r="2.1" fill="#3182bd"/><circle cx="30.9" cy="87.6" r="2.1" fill="#3182bd"/><circle cx="74.7" cy="94.3" r="2.1" fill="#3182bd"/><circle cx="26.8" cy="39.6" r="2.1" fill="#3182bd"/><circle cx="60.1" cy="41.2" r="2.1" fill="#3182bd"/><circle cx="53.9" cy="78.5" r="2.1" fill="#3182bd"/><circle cx="65.2" cy="92.7" r="2.1" fill="#3182bd"/><circle cx="81.7" cy="65.2" r="2.1" fill="#3182bd"/><circle cx="48.0" cy="51.2" r="2.1" fill="#3182bd"/><circle cx="61.8" cy="86.3" r="2.1" fill="#3182bd"/><circle cx="77.2" cy="28.3" r="2.1" fill="#3182bd"/><circle cx="81.6" cy="4.0" r="2.1" fill="#3182bd"/><circle cx="62.7" cy="34.0" r="2.1" fill="#3182bd"/><circle cx="50.5" cy="46.9" r="2.1" fill="#3182bd"/><circle cx="64.5" cy="62.0" r="2.1" fill="#3182bd"/><circle cx="37.4" cy="62.0" r="2.1" fill="#3182bd"/><circle cx="19.4" cy="26.7" r="2.1" fill="#3182bd"/><circle cx="68.5" cy="62.6" r="2.1" fill="#3182bd"/><circle cx="20.0" cy="30.9" r="2.1" fill="#3182bd"/><circle cx="49.9" cy="49.4" r="2.1" fill="#3182bd"/><circle cx="82.9" cy="23.0" r="2.1" fill="#3182bd"/><circle cx="48.0" cy="52.5" r="2.1" fill="#3182bd"/><circle cx="25.8" cy="37.6" r="2.1" fill="#3182bd"/><circle cx="14.1" cy="48.5" r="2.1" fill="#3182bd"/><circle cx="33.2" cy="58.9" r="2.1" fill="#3182bd"/><circle cx="74.4" cy="27.0" r="2.1" fill="#3182bd"/><circle cx="9.0" cy="67.8" r="2.1" fill="#3182bd"/><circle cx="49.3" cy="54.7" r="2.1" fill="#3182bd"/><circle cx="10.9" cy="3.4" r="2.1" fill="#3182bd"/><circle cx="64.3" cy="40.2" r="2.1" fill="#3182bd"/><circle cx="12.1" cy="27.7" r="2.1" fill="#3182bd"/><circle cx="89.1" cy="14.0" r="2.1" fill="#3182bd"/><circle cx="40.0" cy="29.1" r="2.1" fill="#3182bd"/><circle cx="54.8" cy="53.9" r="2.1" fill="#3182bd"/><circle cx="54.7" cy="73.4" r="2.1" fill="#3182bd"/><circle cx="38.4" cy="79.4" r="2.1" fill="#3182bd"/><circle cx="21.8" cy="30.6" r="2.1" fill="#3182bd"/><circle cx="89.8" cy="5.7" r="2.1" fill="#3182bd"/><circle cx="8.8" cy="61.7" r="2.1" fill="#3182bd"/><circle cx="22.2" cy="46.9" r="2.1" fill="#3182bd"/><circle cx="94.0" cy="21.5" r="2.1" fill="#3182bd"/><circle cx="21.5" cy="28.8" r="2.1" fill="#3182bd"/><circle cx="74.0" cy="10.8" r="2.1" fill="#3182bd"/><circle cx="13.6" cy="75.3" r="2.1" fill="#3182bd"/><circle cx="29.2" cy="10.1" r="2.1" fill="#3182bd"/><circle cx="8.6" cy="43.5" r="2.1" fill="#3182bd"/><circle cx="41.0" cy="49.6" r="2.1" fill="#3182bd"/><circle cx="80.9" cy="85.8" r="2.1" fill="#3182bd"/><circle cx="56.5" cy="59.1" r="2.1" fill="#3182bd"/><circle cx="51.0" cy="51.4" r="2.1" fill="#3182bd"/><circle cx="32.8" cy="46.9" r="2.1" fill="#3182bd"/><circle cx="37.6" cy="32.0" r="2.1" fill="#3182bd"/><circle cx="58.5" cy="71.8" r="2.1" fill="#3182bd"/><circle cx="56.7" cy="50.1" r="2.1" fill="#3182bd"/><circle cx="6.8" cy="67.9" r="2.1" fill="#3182bd"/><circle cx="86.8" cy="92.1" r="2.1" fill="#3182bd"/><circle cx="59.6" cy="44.7" r="2.1" fill="#3182bd"/><circle cx="64.8" cy="41.3" r="2.1" fill="#3182bd"/><circle cx="76.7" cy="71.9" r="2.1" fill="#3182bd"/><circle cx="37.6" cy="46.2" r="2.1" fill="#3182bd"/><circle cx="73.3" cy="94.7" r="2.1" fill="#3182bd"/><circle cx="75.3" cy="54.4" r="2.1" fill="#3182bd"/></pattern><clipPath id="itclip"><path d="M369.0,79.0 C371.2,76.0 378.1,69.8 383.0,66.7 C388.0,63.6 394.2,60.7 398.9,60.6 C403.6,60.4 407.7,62.9 411.2,65.8 C414.7,68.8 417.3,74.5 420.0,78.1 C422.6,81.8 423.5,84.9 427.0,87.8 C430.5,90.8 435.8,92.7 441.1,95.7 C446.4,98.8 452.2,103.8 458.7,106.3 C465.1,108.8 473.6,108.9 479.8,110.7 C485.9,112.4 490.9,113.2 495.6,116.8 C500.3,120.5 504.4,126.2 507.9,132.7 C511.4,139.1 513.8,147.6 516.7,155.5 C519.7,163.5 523.2,172.3 525.5,180.2 C527.9,188.1 530.2,196.6 530.8,203.0 C531.4,209.5 530.8,214.8 529.0,218.9 C527.3,223.0 523.2,224.7 520.2,227.7 C517.3,230.6 514.4,234.5 511.4,236.5 C508.5,238.4 505.6,240.0 502.6,239.1 C499.7,238.2 497.7,233.4 493.9,231.2 C490.0,229.0 485.1,225.9 479.8,225.9 C474.5,225.9 467.5,231.2 462.2,231.2 C456.9,231.2 452.5,228.5 448.1,225.9 C443.7,223.3 439.9,218.9 435.8,215.3 C431.7,211.8 427.6,208.0 423.5,204.8 C419.4,201.6 415.5,198.1 411.2,196.0 C406.9,193.9 399.5,190.2 397.6,192.3 C395.8,194.4 397.8,203.6 400.1,208.7 C402.4,213.7 408.0,218.2 411.7,222.7 C415.4,227.3 419.3,231.2 422.3,235.8 C425.2,240.3 428.5,245.9 429.3,249.8 C430.1,253.7 428.9,257.2 427.0,259.1 C425.1,261.1 421.2,261.4 417.7,261.4 C414.2,261.4 409.8,260.3 405.9,259.1 C402.0,258.0 398.0,255.5 394.1,254.4 C390.2,253.3 385.4,251.1 382.5,252.3 C379.6,253.5 375.9,257.9 376.5,261.4 C377.1,264.9 382.7,268.9 386.0,273.2 C389.4,277.5 393.6,283.0 396.6,287.3 C399.5,291.6 402.3,295.2 403.6,299.1 C405.0,303.0 405.7,307.2 404.7,310.7 C403.7,314.2 401.3,318.4 397.6,320.2 C393.9,321.9 388.0,322.2 382.5,321.2 C377.1,320.2 370.8,317.9 364.9,314.2 C359.1,310.5 352.2,303.9 347.3,299.1 C342.4,294.2 340.2,287.0 335.5,285.0 C330.9,283.0 322.7,284.9 319.2,287.3 C315.7,289.6 317.2,296.9 314.4,299.1 C311.7,301.2 306.0,302.1 302.6,300.1 C299.3,298.2 296.1,291.0 294.6,287.3 C293.0,283.6 295.3,279.5 293.3,278.0 C291.4,276.4 287.5,277.2 282.8,278.0 C278.1,278.7 271.0,282.5 265.2,282.5 C259.3,282.5 251.7,280.7 247.6,278.0 C243.5,275.2 241.7,270.5 240.6,266.2 C239.4,261.9 238.8,256.4 240.6,252.1 C242.3,247.8 247.0,243.5 251.1,240.3 C255.2,237.2 259.9,235.8 265.2,233.3 C270.5,230.8 277.7,227.9 282.8,225.2 C287.8,222.5 292.3,220.3 295.6,216.9 C298.9,213.6 301.1,209.5 302.6,205.1 C304.2,200.8 305.5,195.2 305.1,191.1 C304.7,186.9 302.9,184.6 300.4,180.2 C297.8,175.7 292.7,170.8 289.8,164.3 C286.9,157.9 283.6,149.4 282.8,141.5 C281.9,133.6 282.8,123.6 284.5,116.8 C286.3,110.1 289.8,106.0 293.3,101.0 C296.8,96.0 300.9,90.0 305.6,86.9 C310.3,83.9 316.2,82.8 321.5,82.5 C326.7,82.2 332.9,83.3 337.3,85.2 C341.7,87.1 345.2,90.5 347.9,94.0 C350.5,97.5 352.5,101.3 353.1,106.3 C353.7,111.3 351.7,118.6 351.4,123.9 C351.1,129.2 350.9,134.3 351.4,138.0 C351.8,141.6 352.0,144.3 354.0,145.9 C356.1,147.5 359.9,148.1 363.7,147.6 C367.5,147.2 374.2,146.0 376.9,143.2 C379.6,140.4 379.7,135.3 379.9,130.9 C380.1,126.5 379.1,122.4 378.1,116.8 C377.1,111.3 375.4,102.8 373.9,97.5 C372.4,92.2 370.1,87.9 369.3,84.8 C368.5,81.8 366.7,82.0 369.0,79.0Z"/></clipPath></defs>
<g transform="matrix(0.8563 0 0 1 752.4 -5.05)">
<path d="M369.0,79.0 C371.2,76.0 378.1,69.8 383.0,66.7 C388.0,63.6 394.2,60.7 398.9,60.6 C403.6,60.4 407.7,62.9 411.2,65.8 C414.7,68.8 417.3,74.5 420.0,78.1 C422.6,81.8 423.5,84.9 427.0,87.8 C430.5,90.8 435.8,92.7 441.1,95.7 C446.4,98.8 452.2,103.8 458.7,106.3 C465.1,108.8 473.6,108.9 479.8,110.7 C485.9,112.4 490.9,113.2 495.6,116.8 C500.3,120.5 504.4,126.2 507.9,132.7 C511.4,139.1 513.8,147.6 516.7,155.5 C519.7,163.5 523.2,172.3 525.5,180.2 C527.9,188.1 530.2,196.6 530.8,203.0 C531.4,209.5 530.8,214.8 529.0,218.9 C527.3,223.0 523.2,224.7 520.2,227.7 C517.3,230.6 514.4,234.5 511.4,236.5 C508.5,238.4 505.6,240.0 502.6,239.1 C499.7,238.2 497.7,233.4 493.9,231.2 C490.0,229.0 485.1,225.9 479.8,225.9 C474.5,225.9 467.5,231.2 462.2,231.2 C456.9,231.2 452.5,228.5 448.1,225.9 C443.7,223.3 439.9,218.9 435.8,215.3 C431.7,211.8 427.6,208.0 423.5,204.8 C419.4,201.6 415.5,198.1 411.2,196.0 C406.9,193.9 399.5,190.2 397.6,192.3 C395.8,194.4 397.8,203.6 400.1,208.7 C402.4,213.7 408.0,218.2 411.7,222.7 C415.4,227.3 419.3,231.2 422.3,235.8 C425.2,240.3 428.5,245.9 429.3,249.8 C430.1,253.7 428.9,257.2 427.0,259.1 C425.1,261.1 421.2,261.4 417.7,261.4 C414.2,261.4 409.8,260.3 405.9,259.1 C402.0,258.0 398.0,255.5 394.1,254.4 C390.2,253.3 385.4,251.1 382.5,252.3 C379.6,253.5 375.9,257.9 376.5,261.4 C377.1,264.9 382.7,268.9 386.0,273.2 C389.4,277.5 393.6,283.0 396.6,287.3 C399.5,291.6 402.3,295.2 403.6,299.1 C405.0,303.0 405.7,307.2 404.7,310.7 C403.7,314.2 401.3,318.4 397.6,320.2 C393.9,321.9 388.0,322.2 382.5,321.2 C377.1,320.2 370.8,317.9 364.9,314.2 C359.1,310.5 352.2,303.9 347.3,299.1 C342.4,294.2 340.2,287.0 335.5,285.0 C330.9,283.0 322.7,284.9 319.2,287.3 C315.7,289.6 317.2,296.9 314.4,299.1 C311.7,301.2 306.0,302.1 302.6,300.1 C299.3,298.2 296.1,291.0 294.6,287.3 C293.0,283.6 295.3,279.5 293.3,278.0 C291.4,276.4 287.5,277.2 282.8,278.0 C278.1,278.7 271.0,282.5 265.2,282.5 C259.3,282.5 251.7,280.7 247.6,278.0 C243.5,275.2 241.7,270.5 240.6,266.2 C239.4,261.9 238.8,256.4 240.6,252.1 C242.3,247.8 247.0,243.5 251.1,240.3 C255.2,237.2 259.9,235.8 265.2,233.3 C270.5,230.8 277.7,227.9 282.8,225.2 C287.8,222.5 292.3,220.3 295.6,216.9 C298.9,213.6 301.1,209.5 302.6,205.1 C304.2,200.8 305.5,195.2 305.1,191.1 C304.7,186.9 302.9,184.6 300.4,180.2 C297.8,175.7 292.7,170.8 289.8,164.3 C286.9,157.9 283.6,149.4 282.8,141.5 C281.9,133.6 282.8,123.6 284.5,116.8 C286.3,110.1 289.8,106.0 293.3,101.0 C296.8,96.0 300.9,90.0 305.6,86.9 C310.3,83.9 316.2,82.8 321.5,82.5 C326.7,82.2 332.9,83.3 337.3,85.2 C341.7,87.1 345.2,90.5 347.9,94.0 C350.5,97.5 352.5,101.3 353.1,106.3 C353.7,111.3 351.7,118.6 351.4,123.9 C351.1,129.2 350.9,134.3 351.4,138.0 C351.8,141.6 352.0,144.3 354.0,145.9 C356.1,147.5 359.9,148.1 363.7,147.6 C367.5,147.2 374.2,146.0 376.9,143.2 C379.6,140.4 379.7,135.3 379.9,130.9 C380.1,126.5 379.1,122.4 378.1,116.8 C377.1,111.3 375.4,102.8 373.9,97.5 C372.4,92.2 370.1,87.9 369.3,84.8 C368.5,81.8 366.7,82.0 369.0,79.0Z" fill="url(#pM)"/>
<path d="M414.7,94.0 C423.5,90.2 445.5,102.8 458.7,106.3 C471.9,109.8 485.1,109.8 493.9,115.1 C502.6,120.4 505.6,125.3 511.4,138.0 C517.3,150.6 526.1,177.2 529.0,190.7 C532.0,204.2 533.4,210.7 529.0,218.9 C524.6,227.1 511.4,238.8 502.6,240.0 C493.9,241.1 486.5,228.8 476.3,225.9 C466.0,223.0 450.5,225.9 441.1,222.4 C431.7,218.9 425.8,213.0 420.0,204.8 C414.1,196.6 408.2,185.7 405.9,173.1 C403.6,160.5 404.4,142.3 405.9,129.2 C407.4,116.0 405.9,97.8 414.7,94.0Z" fill="url(#pOO)" clip-path="url(#itclip)"/>
<path d="M325.9,145.9 C328.7,142.3 335.1,141.9 339.1,141.5 C343.0,141.0 346.7,142.5 349.6,143.2 C352.5,144.0 354.0,145.6 356.6,145.9 C359.3,146.2 362.4,145.0 365.4,145.0 C368.5,145.0 372.4,144.1 375.1,145.9 C377.8,147.6 381.8,152.2 381.6,155.5 C381.5,158.9 378.1,163.0 374.2,166.1 C370.4,169.2 363.7,172.3 358.4,174.0 C353.1,175.8 347.6,176.8 342.6,176.6 C337.6,176.5 331.9,175.5 328.5,173.1 C325.1,170.8 322.8,167.1 322.3,162.6 C321.9,158.0 323.1,149.4 325.9,145.9Z" fill="#fff"/>
<path d="M341.3,231.0 C342.3,227.5 342.9,222.4 344.9,219.2 C346.8,216.1 350.4,214.1 353.1,212.2 C355.9,210.2 358.5,208.0 361.4,207.4 C364.3,206.8 368.4,206.7 370.7,208.7 C373.1,210.6 374.4,215.5 375.5,219.2 C376.6,222.9 376.9,224.8 377.2,231.0 C377.5,237.2 383.6,252.4 377.2,256.7 C370.9,261.0 345.4,259.4 339.1,256.7 C332.7,254.0 338.7,244.6 339.1,240.3 C339.4,236.0 340.4,234.5 341.3,231.0Z" fill="#fff"/>
<path d="M352.0,205.2 C352.9,203.8 355.7,202.1 357.8,201.7 C360.0,201.3 362.7,202.3 364.9,202.8 C367.0,203.4 369.9,203.8 370.7,205.2 C371.5,206.6 369.8,208.7 369.6,211.0 C369.4,213.4 369.4,216.7 369.6,219.3 C369.8,221.8 370.7,224.3 370.7,226.3 C370.7,228.2 370.9,230.2 369.6,231.0 C368.2,231.8 364.1,232.2 362.5,231.0 C361.0,229.8 360.6,226.7 360.2,223.9 C359.8,221.2 361.2,216.3 360.2,214.6 C359.2,212.8 355.7,214.2 354.3,213.4 C352.9,212.6 352.4,211.2 352.0,209.9 C351.6,208.5 351.0,206.6 352.0,205.2Z" fill="url(#pO)"/>
<path d="M136.8,262.6 C134.2,261.7 130.2,258.5 126.4,257.3 C122.6,256.0 117.3,256.7 114.1,255.1 C110.9,253.5 108.7,251.1 107.1,247.6 C105.6,244.1 104.3,239.1 104.6,234.1 C104.9,229.1 106.5,222.4 109.0,217.7 C111.5,213.0 115.3,209.0 119.4,205.8 C123.5,202.6 129.3,199.9 133.4,198.3 C137.4,196.7 140.1,196.0 143.8,196.1 C147.5,196.2 152.6,197.7 155.8,198.8 C159.0,199.9 162.8,201.2 163.2,202.5 C163.6,203.8 160.3,205.6 158.3,206.8 C156.2,207.9 152.6,207.9 150.8,209.5 C149.0,211.0 147.2,213.4 147.2,216.2 C147.2,219.1 150.5,223.7 150.8,226.6 C151.1,229.6 150.5,231.9 149.1,234.1 C147.6,236.4 143.8,237.9 142.1,240.1 C140.3,242.4 138.7,244.9 138.5,247.6 C138.4,250.3 140.6,254.1 141.2,256.6 C141.8,259.0 142.8,261.6 142.1,262.6 C141.3,263.6 139.4,263.4 136.8,262.6Z" fill="url(#pB)"/>
<path d="M181.6,314.7 C182.6,311.6 183.8,307.3 186.5,304.9 C189.1,302.4 194.4,300.6 197.5,299.9 C200.6,299.3 202.4,300.4 204.9,301.2 C207.3,302.0 207.7,302.4 212.2,304.9 C216.7,307.3 226.9,313.8 231.8,315.9 C236.7,317.9 238.4,316.5 241.6,317.1 C244.9,317.7 248.8,318.5 251.4,319.6 C254.1,320.6 257.2,321.8 257.6,323.2 C258.0,324.7 255.5,326.5 253.9,328.1 C252.3,329.8 249.0,331.2 247.8,333.1 C246.5,334.9 245.7,337.3 246.5,339.2 C247.4,341.0 252.1,342.4 252.7,344.1 C253.3,345.7 252.1,347.8 250.2,349.0 C248.4,350.2 245.1,350.6 241.6,351.4 C238.2,352.3 232.8,352.7 229.4,353.9 C225.9,355.1 223.4,357.6 220.8,358.8 C218.1,360.0 215.3,362.1 213.4,361.2 C211.6,360.4 211.2,356.3 209.8,353.9 C208.3,351.4 207.3,348.6 204.9,346.5 C202.4,344.5 197.7,343.3 195.0,341.6 C192.4,340.0 191.4,338.0 188.9,336.7 C186.5,335.5 183.0,334.3 180.3,334.3 C177.7,334.3 175.0,336.3 173.0,336.7 C170.9,337.1 168.5,337.5 168.1,336.7 C167.7,335.9 169.1,333.3 170.5,331.8 C172.0,330.4 175.0,329.6 176.7,328.1 C178.3,326.7 179.5,325.5 180.3,323.2 C181.2,321.0 180.5,317.7 181.6,314.7Z" fill="url(#pB)"/>
<path d="M136.2,315.9 C137.0,314.9 139.1,316.3 141.1,317.1 C143.1,317.9 146.0,319.2 148.5,320.8 C150.9,322.4 154.2,325.3 155.8,326.9 C157.5,328.6 159.1,329.6 158.3,330.6 C157.5,331.6 153.0,331.6 150.9,333.1 C148.9,334.5 148.1,337.7 146.0,339.2 C144.0,340.6 140.3,342.0 138.7,341.6 C137.0,341.2 136.4,338.8 136.2,336.7 C136.0,334.7 137.4,331.6 137.4,329.4 C137.4,327.1 136.4,325.5 136.2,323.2 C136.0,321.0 135.4,316.9 136.2,315.9Z" fill="url(#pO)"/>
<path d="M131.3,347.8 C132.9,346.3 135.8,345.5 138.7,345.3 C141.5,345.1 145.8,345.5 148.5,346.5 C151.1,347.6 153.0,349.0 154.6,351.4 C156.2,353.9 158.5,358.8 158.3,361.2 C158.1,363.7 155.8,364.9 153.4,366.2 C150.9,367.4 146.8,368.6 143.6,368.6 C140.3,368.6 136.2,367.4 133.7,366.2 C131.3,364.9 129.7,363.3 128.8,361.2 C128.0,359.2 128.4,356.1 128.8,353.9 C129.3,351.6 129.7,349.2 131.3,347.8Z" fill="url(#pO)"/>
<path d="M165.8,416.4 C166.3,414.6 167.7,412.2 169.2,411.6 C170.7,410.9 172.9,412.1 175.0,412.5 C177.0,413.0 180.1,413.5 181.7,414.5 C183.3,415.4 184.1,416.7 184.5,418.3 C185.0,419.9 185.3,422.7 184.5,424.0 C183.7,425.4 181.8,426.3 179.8,426.4 C177.7,426.6 174.3,425.7 172.1,425.0 C169.8,424.3 167.4,423.6 166.3,422.1 C165.3,420.7 165.4,418.1 165.8,416.4Z" fill="url(#pO)"/>
<path d="M240.2,353.0 C241.7,352.1 245.0,352.1 246.9,353.0 C248.8,354.0 249.5,357.4 251.7,358.8 C254.0,360.2 257.3,361.2 260.4,361.7 C263.4,362.1 267.1,360.2 270.0,361.7 C272.8,363.1 275.4,368.7 277.6,370.3 C279.9,371.9 282.8,369.0 283.4,371.3 C284.0,373.5 282.3,379.7 281.5,383.7 C280.7,387.7 277.8,392.7 278.6,395.3 C279.4,397.8 283.1,398.3 286.3,399.1 C289.5,399.9 294.1,399.3 297.8,400.1 C301.5,400.9 305.2,402.3 308.3,403.9 C311.5,405.5 315.2,408.1 317.0,409.7 C318.7,411.3 319.5,412.9 318.9,413.5 C318.3,414.1 315.4,414.3 313.1,413.5 C310.9,412.7 308.7,410.1 305.5,408.7 C302.3,407.3 297.8,405.8 294.0,404.9 C290.1,403.9 285.6,403.3 282.4,402.9 C279.2,402.6 277.0,402.3 274.8,402.9 C272.5,403.6 271.1,404.9 269.0,406.8 C266.9,408.7 264.5,412.2 262.3,414.5 C260.0,416.7 258.0,418.9 255.6,420.2 C253.2,421.6 249.7,422.9 247.9,422.6 C246.0,422.3 245.1,420.9 244.5,418.3 C244.0,415.7 244.3,410.3 244.5,406.8 C244.8,403.3 245.8,399.7 246.0,397.2 C246.1,394.6 245.2,393.3 245.5,391.4 C245.8,389.5 248.4,386.9 247.9,385.7 C247.3,384.4 244.0,385.0 242.1,383.7 C240.2,382.5 237.3,380.5 236.4,378.0 C235.4,375.4 236.1,371.6 236.4,368.4 C236.7,365.2 237.7,361.3 238.3,358.8 C238.9,356.2 238.8,354.0 240.2,353.0Z" fill="url(#pO)"/>
<path d="M429.0,320.3 C429.5,318.8 431.7,317.4 433.3,316.0 C434.9,314.6 437.0,313.0 438.6,311.7 C440.2,310.5 441.1,309.2 442.9,308.5 C444.6,307.8 447.5,307.3 449.3,307.5 C451.0,307.6 452.3,308.4 453.5,309.6 C454.8,310.8 455.8,313.1 456.7,314.9 C457.6,316.7 459.2,318.3 458.8,320.3 C458.5,322.2 456.2,324.9 454.6,326.7 C453.0,328.4 451.4,330.0 449.3,330.9 C447.1,331.8 444.1,332.3 441.8,332.0 C439.5,331.6 437.3,330.0 435.4,328.8 C433.4,327.5 431.1,325.9 430.1,324.5 C429.0,323.1 428.5,321.7 429.0,320.3Z" fill="url(#pO)"/>
<path d="M346.9,378.9 C347.3,375.9 347.6,371.8 349.0,369.3 C350.5,366.8 352.9,365.6 355.4,364.0 C357.9,362.4 361.1,360.9 364.0,359.7 C366.8,358.5 369.7,356.5 372.5,356.5 C375.3,356.5 378.5,358.5 381.0,359.7 C383.5,360.9 385.5,361.5 387.4,364.0 C389.4,366.5 390.6,371.8 392.8,374.6 C394.9,377.5 398.1,379.2 400.2,381.0 C402.3,382.8 405.2,383.2 405.5,385.3 C405.9,387.4 404.3,392.0 402.3,393.8 C400.4,395.6 395.6,393.8 393.8,395.9 C392.0,398.1 392.6,403.8 391.7,406.6 C390.8,409.5 389.9,411.6 388.5,413.0 C387.1,414.4 385.5,415.5 383.2,415.1 C380.8,414.8 377.1,412.3 374.6,410.9 C372.1,409.5 370.7,408.6 368.2,406.6 C365.7,404.7 362.2,401.3 359.7,399.1 C357.2,397.0 355.4,395.8 353.3,393.8 C351.2,391.9 348.0,389.9 346.9,387.4 C345.8,384.9 346.6,381.9 346.9,378.9Z" fill="url(#pM)"/>
<path d="M401.3,413.0 C402.2,411.2 404.7,410.2 406.6,409.8 C408.6,409.5 411.1,410.0 413.0,410.9 C415.0,411.8 417.6,413.2 418.3,415.1 C419.0,417.1 418.5,420.8 417.3,422.6 C416.0,424.4 413.0,425.1 410.9,425.8 C408.7,426.5 406.1,427.8 404.5,426.9 C402.9,426.0 401.8,422.8 401.3,420.5 C400.7,418.2 400.4,414.8 401.3,413.0Z" fill="url(#pM)"/>
<path d="M311.7,427.9 C312.6,424.7 313.9,418.9 316.0,415.1 C318.1,411.4 321.9,407.0 324.5,405.5 C327.2,404.1 329.0,405.9 332.0,406.6 C335.0,407.3 338.4,409.1 342.6,409.8 C346.9,410.5 353.3,410.5 357.6,410.9 C361.8,411.2 366.5,410.0 368.2,411.9 C370.0,413.9 369.7,419.2 368.2,422.6 C366.8,426.0 361.8,428.6 359.7,432.2 C357.6,435.7 357.6,441.1 355.4,443.9 C353.3,446.8 350.3,448.7 346.9,449.3 C343.5,449.8 339.1,447.8 335.2,447.1 C331.3,446.4 327.0,445.9 323.5,445.0 C319.9,444.1 316.0,443.6 313.9,441.8 C311.7,440.0 311.0,436.6 310.7,434.3 C310.3,432.0 310.8,431.1 311.7,427.9Z" fill="url(#pO)"/>
<path d="M356.5,433.3 C359.0,429.4 361.3,422.4 364.0,419.4 C366.6,416.4 368.9,416.4 372.5,415.1 C376.0,413.9 381.0,412.8 385.3,411.9 C389.6,411.1 395.4,408.9 398.1,409.8 C400.7,410.7 400.6,414.3 401.3,417.3 C402.0,420.3 401.5,425.6 402.3,427.9 C403.2,430.2 405.2,430.2 406.6,431.1 C408.0,432.0 411.1,432.0 410.9,433.3 C410.6,434.5 407.5,436.4 405.1,438.6 C402.7,440.8 399.4,443.6 396.6,446.7 C393.7,449.8 390.2,455.0 388.1,457.4 C385.9,459.7 386.0,458.8 383.8,461.0 C381.6,463.2 377.9,467.2 374.6,470.6 C371.3,474.0 367.1,478.6 364.0,481.2 C360.9,483.8 359.3,485.4 356.1,486.1 C352.9,486.9 348.8,486.3 344.8,485.5 C340.8,484.7 335.3,483.0 332.0,481.2 C328.7,479.5 325.2,477.3 325.2,474.8 C325.2,472.4 329.9,468.9 332.0,466.3 C334.1,463.8 336.1,462.3 338.0,459.5 C339.8,456.6 341.4,452.0 343.3,449.3 C345.1,446.5 346.8,445.5 349.0,442.9 C351.2,440.2 354.0,437.2 356.5,433.3Z" fill="url(#pO)"/>
<path d="M310.7,447.1 C311.4,445.2 313.6,444.8 314.9,445.0 C316.3,445.2 318.4,446.4 318.8,448.2 C319.1,450.0 317.9,453.6 317.1,455.7 C316.2,457.7 315.0,460.4 313.9,460.6 C312.7,460.7 310.8,459.0 310.2,456.7 C309.7,454.5 309.9,449.1 310.7,447.1Z" fill="url(#pO)"/>
<path d="M317.1,466.3 C317.8,465.0 320.0,464.8 321.3,465.9 C322.7,467.0 324.6,470.3 325.2,472.7 C325.7,475.1 325.3,478.8 324.5,480.2 C323.7,481.5 321.5,481.9 320.3,480.8 C319.0,479.7 317.6,476.2 317.1,473.8 C316.5,471.4 316.3,467.6 317.1,466.3Z" fill="url(#pO)"/>
<path d="M300.0,399.1 C300.5,398.3 304.1,399.1 306.4,399.7 C308.7,400.2 311.5,401.4 313.9,402.3 C316.2,403.3 319.0,404.1 320.3,405.5 C321.5,407.0 322.0,409.6 321.3,410.9 C320.6,412.1 317.9,413.5 316.0,413.0 C314.0,412.5 311.7,409.1 309.6,407.7 C307.5,406.3 304.8,405.9 303.2,404.5 C301.6,403.1 299.5,399.9 300.0,399.1Z" fill="url(#pO)"/>
<path d="M438.2,379.3 C439.8,378.2 444.6,378.5 448.8,378.4 C452.9,378.3 458.4,378.9 463.2,378.9 C468.0,378.9 473.6,378.5 477.6,378.4 C481.6,378.3 484.6,378.7 487.2,378.4 C489.7,378.1 491.3,377.4 492.9,376.5 C494.5,375.5 495.7,374.2 496.8,372.6 C497.9,371.0 498.5,368.0 499.7,366.9 C500.8,365.8 501.6,365.8 503.5,365.9 C505.4,366.1 508.9,367.7 511.2,367.8 C513.4,368.0 515.2,366.7 516.9,366.9 C518.7,367.0 520.8,367.2 521.7,368.8 C522.7,370.4 523.6,374.9 522.7,376.5 C521.7,378.1 518.7,377.9 516.0,378.4 C513.3,378.9 508.8,378.5 506.4,379.3 C504.0,380.1 502.7,381.7 501.6,383.2 C500.5,384.6 501.1,386.7 499.7,388.0 C498.2,389.3 495.3,390.5 492.9,390.9 C490.5,391.2 487.8,389.4 485.3,389.9 C482.7,390.4 480.1,393.3 477.6,393.7 C475.0,394.2 472.3,392.1 469.9,392.8 C467.5,393.4 464.8,395.5 463.2,397.6 C461.6,399.7 461.9,403.3 460.3,405.3 C458.7,407.2 455.5,408.5 453.6,409.1 C451.7,409.7 450.1,410.4 448.8,409.1 C447.5,407.8 447.0,404.3 445.9,401.4 C444.8,398.5 443.2,394.5 442.1,391.8 C441.0,389.1 439.8,387.2 439.2,385.1 C438.6,383.0 436.6,380.5 438.2,379.3Z" fill="url(#pM)"/>
<path d="M496.8,389.9 C498.1,387.7 501.9,387.2 504.5,386.1 C507.0,384.9 509.4,384.1 512.1,383.2 C514.8,382.2 517.7,381.1 520.8,380.3 C523.8,379.5 526.4,378.9 530.4,378.4 C534.4,377.9 540.0,377.4 544.8,377.4 C549.6,377.4 555.5,377.7 559.2,378.4 C562.8,379.0 565.2,379.7 566.8,381.3 C568.4,382.9 569.2,385.6 568.8,388.0 C568.3,390.4 564.9,393.1 564.0,395.7 C563.0,398.2 563.8,400.8 563.0,403.3 C562.2,405.9 560.9,409.6 559.2,411.0 C557.4,412.5 554.8,412.3 552.4,412.0 C550.0,411.7 547.2,410.2 544.8,409.1 C542.4,408.0 540.4,406.5 538.0,405.3 C535.6,404.0 533.2,402.1 530.4,401.4 C527.5,400.8 523.2,400.5 520.8,401.4 C518.4,402.4 517.4,404.9 516.0,407.2 C514.5,409.4 513.7,412.8 512.1,414.9 C510.5,416.9 508.0,419.7 506.4,419.7 C504.8,419.7 503.7,416.9 502.5,414.9 C501.4,412.8 500.6,409.7 499.7,407.2 C498.7,404.6 497.3,402.4 496.8,399.5 C496.3,396.6 495.5,392.1 496.8,389.9Z" fill="url(#pO)"/>
<path d="M448.8,422.5 C449.6,419.7 450.7,415.5 452.6,412.9 C454.5,410.4 457.7,409.4 460.3,407.2 C462.9,404.9 465.1,401.7 468.0,399.5 C470.9,397.3 474.4,395.3 477.6,393.7 C480.8,392.1 484.0,390.2 487.2,389.9 C490.4,389.6 494.5,390.2 496.8,391.8 C499.0,393.4 499.5,396.6 500.6,399.5 C501.7,402.4 502.5,406.2 503.5,409.1 C504.5,412.0 506.2,414.2 506.4,416.8 C506.5,419.3 505.7,421.6 504.5,424.5 C503.2,427.3 500.3,431.2 498.7,434.0 C497.1,436.9 496.1,439.0 494.9,441.7 C493.6,444.4 492.6,447.8 491.0,450.4 C489.4,452.9 487.8,455.8 485.3,457.1 C482.7,458.4 479.0,458.4 475.7,458.0 C472.3,457.7 468.3,456.8 465.1,455.2 C461.9,453.6 459.0,451.3 456.5,448.4 C453.9,445.6 451.2,440.9 449.8,437.9 C448.3,434.8 448.0,432.8 447.8,430.2 C447.7,427.7 448.0,425.4 448.8,422.5Z" fill="url(#pO)"/>
<path d="M441.1,416.8 C441.6,415.5 443.7,414.9 445.0,414.9 C446.2,414.9 448.0,415.7 448.8,416.8 C449.6,417.9 450.1,420.3 449.8,421.6 C449.4,422.9 448.2,424.3 446.9,424.5 C445.6,424.6 443.0,423.8 442.1,422.5 C441.1,421.3 440.6,418.1 441.1,416.8Z" fill="url(#pO)"/>
<path d="M563.0,391.8 C563.5,390.8 565.6,389.7 566.8,389.9 C568.1,390.1 570.4,391.7 570.7,392.8 C571.0,393.9 569.9,396.1 568.8,396.6 C567.6,397.2 564.9,396.9 564.0,396.1 C563.0,395.3 562.5,392.9 563.0,391.8Z" fill="url(#pO)"/>
<path d="M505.0,281.8 C506.8,280.6 511.3,278.6 514.6,278.6 C518.0,278.6 521.7,281.1 525.3,281.8 C528.8,282.5 533.5,281.8 535.9,282.9 C538.4,284.0 538.4,286.5 540.2,288.2 C542.0,290.0 544.8,292.7 546.6,293.6 C548.4,294.4 550.9,293.0 550.9,293.6 C550.9,294.1 548.2,295.5 546.6,296.8 C545.0,298.0 542.3,298.5 541.3,301.0 C540.2,303.5 540.6,308.7 540.2,311.7 C539.9,314.7 540.6,317.4 539.1,319.1 C537.7,320.9 534.0,321.1 531.7,322.3 C529.4,323.6 526.7,325.2 525.3,326.6 C523.9,328.0 526.0,330.9 523.2,330.9 C520.3,330.9 512.1,329.1 508.2,326.6 C504.3,324.1 502.2,318.8 499.7,315.9 C497.2,313.1 494.5,312.0 493.3,309.6 C492.1,307.1 492.2,303.5 492.2,301.0 C492.2,298.5 492.1,296.4 493.3,294.6 C494.5,292.9 497.9,291.8 499.7,290.4 C501.5,288.9 503.1,287.5 504.0,286.1 C504.9,284.7 503.3,283.1 505.0,281.8Z" fill="url(#pO)"/>
<path d="M585.0,284.0 C585.7,282.4 588.9,280.6 591.4,279.7 C593.9,278.8 597.1,278.1 599.9,278.6 C602.8,279.2 606.0,280.9 608.4,282.9 C610.9,284.9 612.7,288.2 614.8,290.4 C617.0,292.5 619.8,293.7 621.2,295.7 C622.7,297.6 623.5,300.7 623.4,302.1 C623.2,303.5 622.3,304.0 620.2,304.2 C618.0,304.4 613.4,304.0 610.6,303.2 C607.7,302.3 605.8,300.5 603.1,298.9 C600.4,297.3 597.2,295.2 594.6,293.6 C591.9,292.0 588.7,290.9 587.1,289.3 C585.5,287.7 584.3,285.6 585.0,284.0Z" fill="url(#pO)"/>
<ellipse cx="377.5" cy="66.7" rx="2.05" ry="1.75" fill="#e6550d"/><ellipse cx="379.9" cy="69.6" rx="1.82" ry="1.56" fill="#e6550d"/><ellipse cx="378.9" cy="62.9" rx="1.66" ry="1.42" fill="#3182bd"/><ellipse cx="375.6" cy="76.5" rx="1.87" ry="1.60" fill="#e6550d"/><ellipse cx="383.7" cy="68.7" rx="2.04" ry="1.74" fill="#e6550d"/><ellipse cx="397.7" cy="65.9" rx="1.67" ry="1.43" fill="#e6550d"/><ellipse cx="392.9" cy="63.0" rx="2.01" ry="1.72" fill="#e6550d"/><ellipse cx="387.9" cy="72.6" rx="2.01" ry="1.72" fill="#3182bd"/><ellipse cx="405.6" cy="61.3" rx="1.92" ry="1.65" fill="#e6550d"/><ellipse cx="405.1" cy="60.2" rx="2.06" ry="1.76" fill="#3182bd"/><ellipse cx="409.1" cy="67.6" rx="1.68" ry="1.44" fill="#3182bd"/><ellipse cx="414.5" cy="68.5" rx="1.89" ry="1.62" fill="#3182bd"/><ellipse cx="410.2" cy="63.7" rx="1.75" ry="1.50" fill="#e6550d"/><ellipse cx="416.1" cy="76.2" rx="1.83" ry="1.57" fill="#e6550d"/><ellipse cx="431.5" cy="87.4" rx="1.61" ry="1.38" fill="#e6550d"/><ellipse cx="425.5" cy="85.0" rx="1.97" ry="1.69" fill="#3182bd"/><ellipse cx="431.9" cy="90.6" rx="1.63" ry="1.39" fill="#3182bd"/><ellipse cx="431.2" cy="88.8" rx="1.96" ry="1.68" fill="#3182bd"/><ellipse cx="442.3" cy="94.3" rx="1.77" ry="1.52" fill="#e6550d"/><ellipse cx="434.6" cy="90.7" rx="1.96" ry="1.67" fill="#e6550d"/><ellipse cx="455.6" cy="103.6" rx="2.05" ry="1.75" fill="#e6550d"/><ellipse cx="440.8" cy="99.7" rx="2.04" ry="1.74" fill="#e6550d"/><ellipse cx="450.0" cy="97.8" rx="1.75" ry="1.50" fill="#3182bd"/><ellipse cx="447.1" cy="100.0" rx="1.67" ry="1.43" fill="#e6550d"/><ellipse cx="454.7" cy="103.0" rx="1.63" ry="1.39" fill="#3182bd"/><ellipse cx="476.9" cy="110.1" rx="1.72" ry="1.47" fill="#3182bd"/><ellipse cx="472.5" cy="106.4" rx="1.80" ry="1.54" fill="#e6550d"/><ellipse cx="460.4" cy="106.2" rx="1.84" ry="1.57" fill="#3182bd"/><ellipse cx="479.2" cy="113.1" rx="2.05" ry="1.76" fill="#3182bd"/><ellipse cx="472.3" cy="107.9" rx="1.81" ry="1.55" fill="#e6550d"/><ellipse cx="483.4" cy="109.8" rx="1.82" ry="1.56" fill="#e6550d"/><ellipse cx="499.9" cy="111.2" rx="1.82" ry="1.56" fill="#e6550d"/><ellipse cx="487.1" cy="110.7" rx="1.74" ry="1.49" fill="#e6550d"/><ellipse cx="487.7" cy="115.2" rx="2.07" ry="1.77" fill="#3182bd"/><ellipse cx="505.3" cy="129.8" rx="1.76" ry="1.51" fill="#e6550d"/><ellipse cx="496.1" cy="122.7" rx="2.01" ry="1.72" fill="#3182bd"/><ellipse cx="501.1" cy="118.2" rx="1.93" ry="1.65" fill="#e6550d"/><ellipse cx="503.9" cy="124.9" rx="1.94" ry="1.66" fill="#3182bd"/><ellipse cx="494.6" cy="121.7" rx="1.93" ry="1.65" fill="#e6550d"/><ellipse cx="514.1" cy="138.1" rx="1.88" ry="1.61" fill="#e6550d"/><ellipse cx="506.1" cy="132.4" rx="1.92" ry="1.64" fill="#e6550d"/><ellipse cx="513.5" cy="139.8" rx="1.98" ry="1.69" fill="#3182bd"/><ellipse cx="508.4" cy="137.3" rx="1.99" ry="1.71" fill="#e6550d"/><ellipse cx="513.9" cy="136.3" rx="1.93" ry="1.65" fill="#e6550d"/><ellipse cx="519.5" cy="154.1" rx="1.85" ry="1.59" fill="#e6550d"/><ellipse cx="521.3" cy="154.4" rx="1.83" ry="1.57" fill="#3182bd"/><ellipse cx="522.0" cy="168.4" rx="1.68" ry="1.44" fill="#e6550d"/><ellipse cx="520.2" cy="172.9" rx="1.80" ry="1.54" fill="#e6550d"/><ellipse cx="522.8" cy="167.2" rx="1.94" ry="1.66" fill="#e6550d"/><ellipse cx="518.5" cy="158.6" rx="1.91" ry="1.64" fill="#e6550d"/><ellipse cx="517.2" cy="157.6" rx="1.62" ry="1.39" fill="#e6550d"/><ellipse cx="528.1" cy="191.8" rx="1.67" ry="1.43" fill="#3182bd"/><ellipse cx="527.9" cy="189.0" rx="1.62" ry="1.39" fill="#e6550d"/><ellipse cx="525.4" cy="193.3" rx="1.88" ry="1.61" fill="#e6550d"/><ellipse cx="526.8" cy="185.6" rx="1.79" ry="1.54" fill="#3182bd"/><ellipse cx="525.9" cy="187.2" rx="2.00" ry="1.71" fill="#3182bd"/><ellipse cx="533.6" cy="209.8" rx="1.65" ry="1.41" fill="#e6550d"/><ellipse cx="528.0" cy="214.6" rx="2.05" ry="1.76" fill="#e6550d"/><ellipse cx="525.2" cy="218.3" rx="1.91" ry="1.63" fill="#e6550d"/><ellipse cx="528.0" cy="224.8" rx="1.87" ry="1.60" fill="#e6550d"/><ellipse cx="524.1" cy="226.6" rx="1.77" ry="1.51" fill="#e6550d"/><ellipse cx="522.4" cy="226.7" rx="1.87" ry="1.60" fill="#e6550d"/><ellipse cx="517.1" cy="235.9" rx="2.02" ry="1.73" fill="#3182bd"/><ellipse cx="515.2" cy="231.7" rx="1.74" ry="1.49" fill="#e6550d"/><ellipse cx="506.9" cy="240.8" rx="2.03" ry="1.74" fill="#3182bd"/><ellipse cx="505.8" cy="245.3" rx="1.84" ry="1.57" fill="#e6550d"/><ellipse cx="504.6" cy="244.3" rx="1.83" ry="1.57" fill="#e6550d"/><ellipse cx="498.8" cy="237.0" rx="1.90" ry="1.62" fill="#e6550d"/><ellipse cx="497.5" cy="240.0" rx="1.99" ry="1.71" fill="#3182bd"/><ellipse cx="491.6" cy="230.7" rx="2.04" ry="1.75" fill="#3182bd"/><ellipse cx="482.9" cy="229.1" rx="1.68" ry="1.44" fill="#e6550d"/><ellipse cx="479.0" cy="229.4" rx="1.83" ry="1.56" fill="#e6550d"/><ellipse cx="465.0" cy="226.7" rx="1.66" ry="1.42" fill="#3182bd"/><ellipse cx="465.4" cy="233.0" rx="1.76" ry="1.51" fill="#e6550d"/><ellipse cx="471.7" cy="226.9" rx="1.77" ry="1.52" fill="#3182bd"/><ellipse cx="466.1" cy="229.5" rx="1.72" ry="1.47" fill="#3182bd"/><ellipse cx="460.5" cy="226.1" rx="1.86" ry="1.59" fill="#3182bd"/><ellipse cx="462.5" cy="228.4" rx="1.87" ry="1.61" fill="#e6550d"/><ellipse cx="450.2" cy="225.2" rx="2.03" ry="1.74" fill="#e6550d"/><ellipse cx="439.4" cy="225.0" rx="1.70" ry="1.45" fill="#e6550d"/><ellipse cx="444.9" cy="221.9" rx="2.00" ry="1.71" fill="#3182bd"/><ellipse cx="437.6" cy="219.4" rx="1.97" ry="1.69" fill="#e6550d"/><ellipse cx="438.8" cy="218.6" rx="1.86" ry="1.59" fill="#3182bd"/><ellipse cx="428.9" cy="211.4" rx="1.88" ry="1.61" fill="#e6550d"/><ellipse cx="427.5" cy="207.6" rx="1.99" ry="1.70" fill="#3182bd"/><ellipse cx="425.8" cy="206.5" rx="1.94" ry="1.66" fill="#e6550d"/><ellipse cx="427.8" cy="205.0" rx="1.63" ry="1.39" fill="#3182bd"/><ellipse cx="413.8" cy="201.1" rx="2.05" ry="1.76" fill="#e6550d"/><ellipse cx="416.2" cy="200.1" rx="2.04" ry="1.74" fill="#3182bd"/><ellipse cx="419.6" cy="201.8" rx="1.68" ry="1.44" fill="#e6550d"/><ellipse cx="403.9" cy="194.0" rx="1.78" ry="1.53" fill="#3182bd"/><ellipse cx="413.4" cy="196.9" rx="1.95" ry="1.67" fill="#e6550d"/><ellipse cx="401.1" cy="194.8" rx="1.75" ry="1.50" fill="#e6550d"/><ellipse cx="393.0" cy="202.5" rx="1.78" ry="1.52" fill="#e6550d"/><ellipse cx="397.3" cy="191.8" rx="1.90" ry="1.63" fill="#e6550d"/><ellipse cx="401.7" cy="198.8" rx="1.90" ry="1.62" fill="#e6550d"/><ellipse cx="396.4" cy="196.0" rx="1.96" ry="1.68" fill="#3182bd"/><ellipse cx="407.4" cy="217.4" rx="1.78" ry="1.52" fill="#3182bd"/><ellipse cx="410.4" cy="222.7" rx="1.91" ry="1.64" fill="#e6550d"/><ellipse cx="400.5" cy="208.9" rx="1.66" ry="1.42" fill="#3182bd"/><ellipse cx="407.4" cy="222.3" rx="1.83" ry="1.57" fill="#e6550d"/><ellipse cx="415.3" cy="226.3" rx="1.94" ry="1.67" fill="#e6550d"/><ellipse cx="416.0" cy="228.6" rx="1.92" ry="1.65" fill="#e6550d"/><ellipse cx="419.3" cy="230.3" rx="1.92" ry="1.64" fill="#3182bd"/><ellipse cx="422.7" cy="236.2" rx="1.77" ry="1.52" fill="#e6550d"/><ellipse cx="422.1" cy="242.2" rx="1.77" ry="1.51" fill="#e6550d"/><ellipse cx="428.2" cy="244.9" rx="1.91" ry="1.63" fill="#e6550d"/><ellipse cx="423.3" cy="249.1" rx="1.85" ry="1.58" fill="#3182bd"/><ellipse cx="424.1" cy="253.5" rx="1.79" ry="1.53" fill="#e6550d"/><ellipse cx="430.8" cy="251.1" rx="1.62" ry="1.39" fill="#3182bd"/><ellipse cx="414.4" cy="261.7" rx="1.60" ry="1.37" fill="#e6550d"/><ellipse cx="425.4" cy="257.9" rx="1.81" ry="1.55" fill="#e6550d"/><ellipse cx="413.4" cy="261.3" rx="1.68" ry="1.44" fill="#e6550d"/><ellipse cx="409.2" cy="264.1" rx="1.67" ry="1.43" fill="#e6550d"/><ellipse cx="414.4" cy="262.4" rx="1.74" ry="1.49" fill="#e6550d"/><ellipse cx="402.5" cy="258.1" rx="2.04" ry="1.75" fill="#3182bd"/><ellipse cx="405.2" cy="255.9" rx="1.92" ry="1.64" fill="#e6550d"/><ellipse cx="401.6" cy="256.5" rx="1.92" ry="1.64" fill="#e6550d"/><ellipse cx="388.8" cy="250.0" rx="1.68" ry="1.44" fill="#e6550d"/><ellipse cx="393.6" cy="254.3" rx="1.64" ry="1.40" fill="#e6550d"/><ellipse cx="382.5" cy="255.5" rx="1.75" ry="1.50" fill="#e6550d"/><ellipse cx="378.8" cy="260.7" rx="1.94" ry="1.66" fill="#3182bd"/><ellipse cx="378.3" cy="267.2" rx="2.05" ry="1.75" fill="#e6550d"/><ellipse cx="376.2" cy="272.0" rx="1.61" ry="1.38" fill="#3182bd"/><ellipse cx="377.6" cy="259.5" rx="1.62" ry="1.39" fill="#e6550d"/><ellipse cx="395.0" cy="280.7" rx="1.77" ry="1.51" fill="#e6550d"/><ellipse cx="392.0" cy="276.9" rx="1.83" ry="1.57" fill="#e6550d"/><ellipse cx="397.7" cy="287.0" rx="1.63" ry="1.39" fill="#3182bd"/><ellipse cx="392.1" cy="279.5" rx="1.80" ry="1.54" fill="#e6550d"/><ellipse cx="399.4" cy="291.1" rx="2.06" ry="1.77" fill="#e6550d"/><ellipse cx="395.2" cy="289.3" rx="1.85" ry="1.59" fill="#3182bd"/><ellipse cx="396.7" cy="289.4" rx="1.86" ry="1.59" fill="#3182bd"/><ellipse cx="400.4" cy="306.8" rx="1.70" ry="1.46" fill="#e6550d"/><ellipse cx="400.7" cy="298.5" rx="1.87" ry="1.60" fill="#e6550d"/><ellipse cx="399.1" cy="311.3" rx="2.03" ry="1.74" fill="#3182bd"/><ellipse cx="397.9" cy="315.1" rx="1.71" ry="1.46" fill="#e6550d"/><ellipse cx="395.5" cy="321.3" rx="1.97" ry="1.68" fill="#e6550d"/><ellipse cx="384.7" cy="322.3" rx="1.64" ry="1.41" fill="#e6550d"/><ellipse cx="396.3" cy="321.8" rx="1.88" ry="1.61" fill="#e6550d"/><ellipse cx="381.9" cy="321.0" rx="1.63" ry="1.39" fill="#3182bd"/><ellipse cx="378.4" cy="322.3" rx="1.65" ry="1.41" fill="#3182bd"/><ellipse cx="373.4" cy="322.3" rx="1.87" ry="1.60" fill="#3182bd"/><ellipse cx="364.3" cy="311.3" rx="1.87" ry="1.60" fill="#e6550d"/><ellipse cx="358.7" cy="304.0" rx="2.05" ry="1.76" fill="#e6550d"/><ellipse cx="351.5" cy="301.2" rx="1.99" ry="1.70" fill="#e6550d"/><ellipse cx="358.8" cy="309.1" rx="1.68" ry="1.44" fill="#e6550d"/><ellipse cx="359.3" cy="308.3" rx="1.63" ry="1.40" fill="#e6550d"/><ellipse cx="350.9" cy="302.4" rx="1.63" ry="1.39" fill="#3182bd"/><ellipse cx="342.6" cy="301.3" rx="2.05" ry="1.76" fill="#e6550d"/><ellipse cx="340.4" cy="293.2" rx="1.77" ry="1.52" fill="#e6550d"/><ellipse cx="346.9" cy="294.7" rx="1.99" ry="1.71" fill="#e6550d"/><ellipse cx="341.4" cy="290.7" rx="1.68" ry="1.44" fill="#e6550d"/><ellipse cx="318.1" cy="288.7" rx="1.98" ry="1.69" fill="#e6550d"/><ellipse cx="331.2" cy="290.5" rx="1.82" ry="1.56" fill="#e6550d"/><ellipse cx="324.3" cy="287.6" rx="2.04" ry="1.75" fill="#3182bd"/><ellipse cx="330.3" cy="285.6" rx="1.65" ry="1.41" fill="#3182bd"/><ellipse cx="314.6" cy="297.3" rx="2.06" ry="1.77" fill="#e6550d"/><ellipse cx="316.4" cy="286.3" rx="2.02" ry="1.73" fill="#3182bd"/><ellipse cx="317.8" cy="294.0" rx="1.70" ry="1.45" fill="#3182bd"/><ellipse cx="305.1" cy="303.1" rx="1.72" ry="1.47" fill="#3182bd"/><ellipse cx="310.4" cy="306.8" rx="2.00" ry="1.71" fill="#e6550d"/><ellipse cx="293.8" cy="287.4" rx="1.67" ry="1.43" fill="#3182bd"/><ellipse cx="295.2" cy="289.5" rx="1.68" ry="1.44" fill="#e6550d"/><ellipse cx="300.7" cy="293.4" rx="1.70" ry="1.45" fill="#e6550d"/><ellipse cx="291.8" cy="283.4" rx="2.01" ry="1.72" fill="#e6550d"/><ellipse cx="294.6" cy="279.1" rx="1.61" ry="1.38" fill="#e6550d"/><ellipse cx="286.5" cy="277.1" rx="1.79" ry="1.53" fill="#e6550d"/><ellipse cx="292.2" cy="278.3" rx="1.78" ry="1.53" fill="#3182bd"/><ellipse cx="273.6" cy="277.6" rx="2.07" ry="1.77" fill="#e6550d"/><ellipse cx="272.0" cy="279.9" rx="1.92" ry="1.64" fill="#e6550d"/><ellipse cx="274.1" cy="278.1" rx="1.88" ry="1.61" fill="#e6550d"/><ellipse cx="268.7" cy="280.8" rx="1.64" ry="1.40" fill="#e6550d"/><ellipse cx="261.5" cy="284.8" rx="1.96" ry="1.68" fill="#e6550d"/><ellipse cx="250.5" cy="284.9" rx="1.73" ry="1.48" fill="#e6550d"/><ellipse cx="256.5" cy="281.2" rx="1.92" ry="1.64" fill="#e6550d"/><ellipse cx="251.5" cy="275.8" rx="2.00" ry="1.71" fill="#e6550d"/><ellipse cx="241.0" cy="268.1" rx="1.85" ry="1.58" fill="#3182bd"/><ellipse cx="241.8" cy="274.4" rx="1.86" ry="1.59" fill="#e6550d"/><ellipse cx="247.4" cy="273.4" rx="1.69" ry="1.44" fill="#e6550d"/><ellipse cx="245.2" cy="253.6" rx="1.89" ry="1.62" fill="#3182bd"/><ellipse cx="243.6" cy="263.3" rx="1.86" ry="1.60" fill="#3182bd"/><ellipse cx="236.7" cy="260.0" rx="1.70" ry="1.46" fill="#3182bd"/><ellipse cx="243.4" cy="252.1" rx="2.03" ry="1.74" fill="#3182bd"/><ellipse cx="239.3" cy="246.9" rx="1.71" ry="1.46" fill="#e6550d"/><ellipse cx="236.7" cy="249.4" rx="2.02" ry="1.73" fill="#3182bd"/><ellipse cx="259.0" cy="236.6" rx="1.85" ry="1.59" fill="#3182bd"/><ellipse cx="263.2" cy="236.0" rx="1.89" ry="1.62" fill="#3182bd"/><ellipse cx="265.0" cy="234.1" rx="1.66" ry="1.42" fill="#e6550d"/><ellipse cx="273.8" cy="227.7" rx="1.69" ry="1.45" fill="#3182bd"/><ellipse cx="273.2" cy="225.3" rx="1.95" ry="1.67" fill="#e6550d"/><ellipse cx="261.4" cy="233.3" rx="2.05" ry="1.76" fill="#e6550d"/><ellipse cx="273.0" cy="227.7" rx="2.04" ry="1.75" fill="#3182bd"/><ellipse cx="284.1" cy="218.6" rx="1.83" ry="1.57" fill="#e6550d"/><ellipse cx="284.6" cy="225.8" rx="1.65" ry="1.41" fill="#e6550d"/><ellipse cx="283.8" cy="223.1" rx="1.96" ry="1.68" fill="#e6550d"/><ellipse cx="302.7" cy="204.0" rx="1.94" ry="1.66" fill="#3182bd"/><ellipse cx="305.6" cy="205.1" rx="2.06" ry="1.76" fill="#e6550d"/><ellipse cx="297.1" cy="216.3" rx="1.70" ry="1.46" fill="#e6550d"/><ellipse cx="299.8" cy="200.9" rx="1.95" ry="1.67" fill="#e6550d"/><ellipse cx="300.2" cy="205.8" rx="1.78" ry="1.52" fill="#3182bd"/><ellipse cx="300.9" cy="202.0" rx="1.93" ry="1.65" fill="#e6550d"/><ellipse cx="308.8" cy="184.2" rx="1.64" ry="1.40" fill="#e6550d"/><ellipse cx="301.1" cy="180.6" rx="1.66" ry="1.42" fill="#e6550d"/><ellipse cx="292.7" cy="176.0" rx="2.04" ry="1.74" fill="#e6550d"/><ellipse cx="295.6" cy="177.1" rx="1.93" ry="1.65" fill="#e6550d"/><ellipse cx="290.1" cy="166.7" rx="1.76" ry="1.51" fill="#e6550d"/><ellipse cx="290.6" cy="166.6" rx="1.80" ry="1.54" fill="#e6550d"/><ellipse cx="287.6" cy="158.0" rx="1.73" ry="1.48" fill="#e6550d"/><ellipse cx="281.7" cy="163.2" rx="1.86" ry="1.59" fill="#e6550d"/><ellipse cx="288.1" cy="155.0" rx="1.77" ry="1.52" fill="#e6550d"/><ellipse cx="288.5" cy="145.9" rx="1.77" ry="1.52" fill="#e6550d"/><ellipse cx="289.7" cy="166.8" rx="1.78" ry="1.53" fill="#e6550d"/><ellipse cx="285.4" cy="129.3" rx="2.06" ry="1.77" fill="#e6550d"/><ellipse cx="282.5" cy="130.8" rx="1.73" ry="1.49" fill="#e6550d"/><ellipse cx="283.3" cy="115.1" rx="1.63" ry="1.39" fill="#e6550d"/><ellipse cx="284.0" cy="129.1" rx="1.88" ry="1.61" fill="#3182bd"/><ellipse cx="282.1" cy="116.3" rx="1.62" ry="1.39" fill="#3182bd"/><ellipse cx="283.1" cy="138.2" rx="2.02" ry="1.73" fill="#3182bd"/><ellipse cx="294.0" cy="102.5" rx="2.07" ry="1.78" fill="#e6550d"/><ellipse cx="292.3" cy="103.9" rx="1.97" ry="1.69" fill="#e6550d"/><ellipse cx="296.5" cy="108.7" rx="1.71" ry="1.46" fill="#3182bd"/><ellipse cx="287.9" cy="113.1" rx="1.74" ry="1.49" fill="#e6550d"/><ellipse cx="302.7" cy="92.7" rx="1.82" ry="1.56" fill="#e6550d"/><ellipse cx="290.2" cy="103.7" rx="2.02" ry="1.73" fill="#e6550d"/><ellipse cx="300.6" cy="98.8" rx="2.06" ry="1.76" fill="#3182bd"/><ellipse cx="302.0" cy="94.0" rx="2.04" ry="1.74" fill="#e6550d"/><ellipse cx="322.1" cy="83.1" rx="1.81" ry="1.55" fill="#e6550d"/><ellipse cx="309.9" cy="83.3" rx="1.97" ry="1.69" fill="#3182bd"/><ellipse cx="301.0" cy="85.5" rx="1.93" ry="1.66" fill="#3182bd"/><ellipse cx="309.9" cy="88.9" rx="1.78" ry="1.52" fill="#3182bd"/><ellipse cx="323.9" cy="84.0" rx="2.06" ry="1.76" fill="#3182bd"/><ellipse cx="323.4" cy="82.3" rx="1.86" ry="1.59" fill="#e6550d"/><ellipse cx="335.0" cy="86.7" rx="1.94" ry="1.66" fill="#3182bd"/><ellipse cx="322.0" cy="79.9" rx="1.84" ry="1.58" fill="#3182bd"/><ellipse cx="344.0" cy="89.7" rx="1.84" ry="1.57" fill="#e6550d"/><ellipse cx="335.9" cy="87.1" rx="1.61" ry="1.38" fill="#e6550d"/><ellipse cx="336.8" cy="89.0" rx="2.04" ry="1.75" fill="#e6550d"/><ellipse cx="345.8" cy="97.8" rx="2.05" ry="1.75" fill="#3182bd"/><ellipse cx="355.1" cy="105.5" rx="1.68" ry="1.44" fill="#e6550d"/><ellipse cx="355.3" cy="106.8" rx="1.95" ry="1.67" fill="#3182bd"/><ellipse cx="347.7" cy="119.4" rx="1.74" ry="1.49" fill="#3182bd"/><ellipse cx="352.8" cy="114.8" rx="1.77" ry="1.51" fill="#3182bd"/><ellipse cx="350.6" cy="114.3" rx="1.82" ry="1.56" fill="#3182bd"/><ellipse cx="355.1" cy="108.6" rx="1.67" ry="1.43" fill="#e6550d"/><ellipse cx="351.2" cy="139.6" rx="1.97" ry="1.69" fill="#e6550d"/><ellipse cx="351.0" cy="139.2" rx="1.90" ry="1.63" fill="#e6550d"/><ellipse cx="350.0" cy="127.9" rx="1.73" ry="1.48" fill="#e6550d"/><ellipse cx="348.5" cy="147.0" rx="1.69" ry="1.44" fill="#e6550d"/><ellipse cx="355.8" cy="140.4" rx="1.87" ry="1.60" fill="#e6550d"/><ellipse cx="358.8" cy="147.2" rx="1.84" ry="1.57" fill="#e6550d"/><ellipse cx="365.8" cy="148.3" rx="1.66" ry="1.42" fill="#e6550d"/><ellipse cx="370.5" cy="142.2" rx="1.71" ry="1.46" fill="#3182bd"/><ellipse cx="376.9" cy="144.1" rx="1.93" ry="1.65" fill="#e6550d"/><ellipse cx="367.5" cy="148.4" rx="1.91" ry="1.63" fill="#e6550d"/><ellipse cx="379.4" cy="131.3" rx="1.91" ry="1.63" fill="#e6550d"/><ellipse cx="382.6" cy="135.8" rx="1.73" ry="1.48" fill="#3182bd"/><ellipse cx="382.2" cy="139.6" rx="1.85" ry="1.58" fill="#3182bd"/><ellipse cx="376.8" cy="118.5" rx="1.71" ry="1.46" fill="#e6550d"/><ellipse cx="381.1" cy="126.6" rx="1.64" ry="1.41" fill="#3182bd"/><ellipse cx="381.7" cy="127.3" rx="1.90" ry="1.62" fill="#e6550d"/><ellipse cx="376.0" cy="105.5" rx="1.83" ry="1.57" fill="#3182bd"/><ellipse cx="372.0" cy="104.7" rx="2.03" ry="1.74" fill="#e6550d"/><ellipse cx="377.2" cy="117.1" rx="1.86" ry="1.59" fill="#e6550d"/><ellipse cx="370.7" cy="98.1" rx="1.80" ry="1.54" fill="#3182bd"/><ellipse cx="371.4" cy="85.7" rx="1.65" ry="1.42" fill="#e6550d"/><ellipse cx="369.3" cy="98.5" rx="1.73" ry="1.48" fill="#e6550d"/><ellipse cx="366.9" cy="84.5" rx="1.66" ry="1.42" fill="#3182bd"/><ellipse cx="368.4" cy="81.4" rx="1.90" ry="1.63" fill="#e6550d"/>
<ellipse cx="355.1" cy="206.1" rx="1.66" ry="1.42" fill="#3182bd"/><ellipse cx="364.7" cy="204.1" rx="2.04" ry="1.74" fill="#e6550d"/><ellipse cx="371.6" cy="205.1" rx="1.82" ry="1.56" fill="#e6550d"/><ellipse cx="371.4" cy="209.5" rx="1.82" ry="1.55" fill="#3182bd"/><ellipse cx="368.7" cy="209.9" rx="1.74" ry="1.49" fill="#3182bd"/><ellipse cx="367.6" cy="217.5" rx="1.74" ry="1.49" fill="#e6550d"/><ellipse cx="366.1" cy="225.1" rx="1.64" ry="1.41" fill="#e6550d"/><ellipse cx="371.3" cy="231.7" rx="1.82" ry="1.56" fill="#3182bd"/><ellipse cx="370.4" cy="229.2" rx="1.93" ry="1.65" fill="#3182bd"/><ellipse cx="362.1" cy="227.1" rx="1.71" ry="1.46" fill="#e6550d"/><ellipse cx="359.7" cy="226.1" rx="1.84" ry="1.58" fill="#3182bd"/><ellipse cx="355.2" cy="220.5" rx="1.87" ry="1.60" fill="#e6550d"/><ellipse cx="355.5" cy="211.0" rx="1.79" ry="1.54" fill="#3182bd"/><ellipse cx="355.2" cy="214.0" rx="2.02" ry="1.73" fill="#e6550d"/><ellipse cx="349.6" cy="211.1" rx="1.88" ry="1.61" fill="#3182bd"/>
<ellipse cx="132.3" cy="257.9" rx="2.01" ry="1.72" fill="#3182bd"/><ellipse cx="124.4" cy="254.7" rx="1.69" ry="1.44" fill="#3182bd"/><ellipse cx="119.0" cy="259.5" rx="1.66" ry="1.42" fill="#e6550d"/><ellipse cx="112.4" cy="258.6" rx="2.05" ry="1.75" fill="#e6550d"/><ellipse cx="110.9" cy="258.5" rx="2.07" ry="1.78" fill="#3182bd"/><ellipse cx="113.2" cy="249.9" rx="1.82" ry="1.56" fill="#3182bd"/><ellipse cx="113.4" cy="255.4" rx="2.04" ry="1.75" fill="#3182bd"/><ellipse cx="106.0" cy="245.8" rx="1.81" ry="1.55" fill="#e6550d"/><ellipse cx="103.5" cy="239.9" rx="1.62" ry="1.39" fill="#3182bd"/><ellipse cx="104.0" cy="234.9" rx="1.84" ry="1.57" fill="#3182bd"/><ellipse cx="101.5" cy="224.4" rx="1.97" ry="1.69" fill="#3182bd"/><ellipse cx="104.0" cy="232.1" rx="1.68" ry="1.44" fill="#3182bd"/><ellipse cx="111.6" cy="219.6" rx="1.73" ry="1.48" fill="#3182bd"/><ellipse cx="108.7" cy="226.0" rx="2.07" ry="1.77" fill="#e6550d"/><ellipse cx="117.7" cy="211.1" rx="1.62" ry="1.39" fill="#e6550d"/><ellipse cx="112.9" cy="223.2" rx="1.75" ry="1.50" fill="#3182bd"/><ellipse cx="112.7" cy="215.2" rx="2.07" ry="1.77" fill="#3182bd"/><ellipse cx="134.1" cy="197.9" rx="1.97" ry="1.69" fill="#e6550d"/><ellipse cx="124.0" cy="205.7" rx="1.63" ry="1.40" fill="#e6550d"/><ellipse cx="121.3" cy="201.5" rx="1.61" ry="1.38" fill="#e6550d"/><ellipse cx="139.5" cy="193.5" rx="1.95" ry="1.67" fill="#3182bd"/><ellipse cx="143.8" cy="195.0" rx="1.78" ry="1.53" fill="#3182bd"/><ellipse cx="150.5" cy="198.4" rx="1.73" ry="1.48" fill="#e6550d"/><ellipse cx="150.1" cy="198.1" rx="1.72" ry="1.47" fill="#3182bd"/><ellipse cx="151.1" cy="196.3" rx="2.00" ry="1.71" fill="#e6550d"/><ellipse cx="159.4" cy="200.3" rx="1.79" ry="1.53" fill="#3182bd"/><ellipse cx="154.8" cy="196.2" rx="1.98" ry="1.69" fill="#e6550d"/><ellipse cx="161.9" cy="204.0" rx="1.88" ry="1.61" fill="#e6550d"/><ellipse cx="158.8" cy="207.5" rx="1.71" ry="1.46" fill="#e6550d"/><ellipse cx="148.3" cy="207.9" rx="1.74" ry="1.49" fill="#e6550d"/><ellipse cx="151.4" cy="229.5" rx="1.66" ry="1.42" fill="#e6550d"/><ellipse cx="148.2" cy="218.3" rx="1.83" ry="1.57" fill="#e6550d"/><ellipse cx="146.6" cy="230.3" rx="1.64" ry="1.40" fill="#e6550d"/><ellipse cx="144.6" cy="235.9" rx="1.65" ry="1.41" fill="#3182bd"/><ellipse cx="142.2" cy="241.0" rx="1.85" ry="1.58" fill="#e6550d"/><ellipse cx="138.0" cy="249.6" rx="1.89" ry="1.62" fill="#e6550d"/><ellipse cx="139.0" cy="247.0" rx="1.82" ry="1.56" fill="#3182bd"/><ellipse cx="139.3" cy="251.9" rx="1.81" ry="1.55" fill="#e6550d"/><ellipse cx="140.5" cy="253.8" rx="2.04" ry="1.75" fill="#3182bd"/><ellipse cx="139.1" cy="256.7" rx="1.62" ry="1.39" fill="#3182bd"/><ellipse cx="142.1" cy="264.8" rx="2.03" ry="1.74" fill="#3182bd"/>
<ellipse cx="185.4" cy="304.7" rx="2.05" ry="1.75" fill="#3182bd"/><ellipse cx="176.4" cy="307.1" rx="1.76" ry="1.50" fill="#3182bd"/><ellipse cx="195.4" cy="301.1" rx="1.97" ry="1.69" fill="#e6550d"/><ellipse cx="189.2" cy="300.5" rx="2.01" ry="1.72" fill="#e6550d"/><ellipse cx="184.5" cy="304.4" rx="1.93" ry="1.65" fill="#e6550d"/><ellipse cx="206.1" cy="296.5" rx="1.63" ry="1.40" fill="#3182bd"/><ellipse cx="213.4" cy="299.5" rx="1.96" ry="1.68" fill="#e6550d"/><ellipse cx="207.7" cy="299.2" rx="1.92" ry="1.64" fill="#3182bd"/><ellipse cx="227.4" cy="308.8" rx="2.06" ry="1.76" fill="#3182bd"/><ellipse cx="218.1" cy="310.5" rx="1.87" ry="1.60" fill="#3182bd"/><ellipse cx="215.4" cy="304.8" rx="1.84" ry="1.57" fill="#3182bd"/><ellipse cx="215.2" cy="310.9" rx="1.73" ry="1.48" fill="#3182bd"/><ellipse cx="218.8" cy="306.4" rx="1.92" ry="1.64" fill="#e6550d"/><ellipse cx="239.8" cy="314.8" rx="1.76" ry="1.51" fill="#e6550d"/><ellipse cx="234.3" cy="316.2" rx="1.66" ry="1.42" fill="#3182bd"/><ellipse cx="241.3" cy="321.6" rx="2.05" ry="1.75" fill="#3182bd"/><ellipse cx="245.1" cy="320.1" rx="1.90" ry="1.63" fill="#3182bd"/><ellipse cx="256.7" cy="323.5" rx="1.73" ry="1.48" fill="#e6550d"/><ellipse cx="257.3" cy="322.8" rx="1.81" ry="1.55" fill="#3182bd"/><ellipse cx="244.1" cy="330.5" rx="1.75" ry="1.50" fill="#3182bd"/><ellipse cx="251.9" cy="340.3" rx="1.80" ry="1.54" fill="#e6550d"/><ellipse cx="246.1" cy="347.0" rx="1.94" ry="1.66" fill="#e6550d"/><ellipse cx="251.0" cy="347.4" rx="1.75" ry="1.50" fill="#3182bd"/><ellipse cx="251.0" cy="347.1" rx="1.67" ry="1.43" fill="#3182bd"/><ellipse cx="239.7" cy="350.7" rx="1.64" ry="1.41" fill="#3182bd"/><ellipse cx="233.6" cy="352.1" rx="1.75" ry="1.50" fill="#e6550d"/><ellipse cx="227.8" cy="354.1" rx="1.97" ry="1.69" fill="#3182bd"/><ellipse cx="237.6" cy="352.6" rx="1.72" ry="1.47" fill="#3182bd"/><ellipse cx="218.5" cy="356.6" rx="1.92" ry="1.64" fill="#3182bd"/><ellipse cx="221.1" cy="356.9" rx="1.67" ry="1.43" fill="#e6550d"/><ellipse cx="222.5" cy="360.7" rx="1.61" ry="1.38" fill="#3182bd"/><ellipse cx="210.0" cy="357.9" rx="1.75" ry="1.50" fill="#3182bd"/><ellipse cx="212.9" cy="362.5" rx="1.83" ry="1.57" fill="#e6550d"/><ellipse cx="214.1" cy="356.2" rx="1.88" ry="1.61" fill="#3182bd"/><ellipse cx="208.1" cy="351.0" rx="2.02" ry="1.73" fill="#e6550d"/><ellipse cx="195.2" cy="341.2" rx="1.80" ry="1.54" fill="#3182bd"/><ellipse cx="195.2" cy="341.4" rx="1.71" ry="1.47" fill="#e6550d"/><ellipse cx="193.0" cy="341.1" rx="1.81" ry="1.55" fill="#e6550d"/><ellipse cx="183.7" cy="332.8" rx="1.97" ry="1.69" fill="#e6550d"/><ellipse cx="192.7" cy="334.7" rx="1.83" ry="1.57" fill="#3182bd"/><ellipse cx="171.7" cy="343.4" rx="1.76" ry="1.50" fill="#e6550d"/><ellipse cx="171.6" cy="331.5" rx="1.95" ry="1.67" fill="#e6550d"/><ellipse cx="167.6" cy="340.1" rx="2.03" ry="1.74" fill="#3182bd"/><ellipse cx="177.0" cy="329.9" rx="1.77" ry="1.51" fill="#3182bd"/><ellipse cx="177.8" cy="330.4" rx="1.78" ry="1.52" fill="#3182bd"/><ellipse cx="175.3" cy="324.3" rx="1.88" ry="1.61" fill="#3182bd"/><ellipse cx="181.9" cy="316.5" rx="2.02" ry="1.73" fill="#e6550d"/>
<ellipse cx="137.8" cy="316.9" rx="1.61" ry="1.38" fill="#e6550d"/><ellipse cx="144.3" cy="321.8" rx="1.92" ry="1.65" fill="#e6550d"/><ellipse cx="147.2" cy="318.7" rx="2.07" ry="1.77" fill="#3182bd"/><ellipse cx="146.5" cy="320.1" rx="1.74" ry="1.49" fill="#3182bd"/><ellipse cx="151.8" cy="323.6" rx="1.67" ry="1.43" fill="#e6550d"/><ellipse cx="157.0" cy="333.5" rx="1.95" ry="1.67" fill="#3182bd"/><ellipse cx="155.7" cy="333.7" rx="2.06" ry="1.77" fill="#3182bd"/><ellipse cx="144.4" cy="337.7" rx="1.91" ry="1.64" fill="#e6550d"/><ellipse cx="145.2" cy="340.4" rx="1.88" ry="1.61" fill="#e6550d"/><ellipse cx="140.8" cy="338.2" rx="2.01" ry="1.72" fill="#e6550d"/><ellipse cx="134.7" cy="329.5" rx="1.83" ry="1.56" fill="#e6550d"/><ellipse cx="137.2" cy="323.7" rx="1.66" ry="1.42" fill="#3182bd"/><ellipse cx="131.9" cy="315.5" rx="1.86" ry="1.59" fill="#e6550d"/>
<ellipse cx="130.9" cy="343.7" rx="1.73" ry="1.48" fill="#e6550d"/><ellipse cx="134.8" cy="342.8" rx="1.88" ry="1.61" fill="#3182bd"/><ellipse cx="148.9" cy="350.7" rx="1.81" ry="1.55" fill="#3182bd"/><ellipse cx="151.4" cy="351.2" rx="1.86" ry="1.59" fill="#e6550d"/><ellipse cx="159.8" cy="355.5" rx="1.84" ry="1.57" fill="#e6550d"/><ellipse cx="155.1" cy="355.9" rx="1.73" ry="1.48" fill="#e6550d"/><ellipse cx="154.4" cy="365.1" rx="1.68" ry="1.44" fill="#3182bd"/><ellipse cx="148.4" cy="363.5" rx="1.83" ry="1.57" fill="#3182bd"/><ellipse cx="144.2" cy="370.3" rx="1.96" ry="1.68" fill="#e6550d"/><ellipse cx="132.0" cy="369.4" rx="1.62" ry="1.38" fill="#e6550d"/><ellipse cx="141.7" cy="363.1" rx="1.69" ry="1.45" fill="#3182bd"/><ellipse cx="123.8" cy="360.9" rx="1.76" ry="1.51" fill="#e6550d"/><ellipse cx="123.9" cy="350.2" rx="1.76" ry="1.51" fill="#e6550d"/><ellipse cx="132.6" cy="354.3" rx="1.64" ry="1.40" fill="#e6550d"/>
<ellipse cx="166.0" cy="409.5" rx="1.88" ry="1.61" fill="#e6550d"/><ellipse cx="165.4" cy="407.6" rx="1.88" ry="1.61" fill="#3182bd"/><ellipse cx="177.0" cy="416.3" rx="1.63" ry="1.39" fill="#e6550d"/><ellipse cx="180.3" cy="415.9" rx="1.84" ry="1.57" fill="#e6550d"/><ellipse cx="180.9" cy="417.3" rx="1.75" ry="1.50" fill="#e6550d"/><ellipse cx="177.2" cy="424.7" rx="1.87" ry="1.61" fill="#3182bd"/><ellipse cx="170.4" cy="423.6" rx="1.65" ry="1.41" fill="#e6550d"/><ellipse cx="174.7" cy="421.0" rx="1.61" ry="1.38" fill="#e6550d"/><ellipse cx="161.9" cy="413.7" rx="1.93" ry="1.66" fill="#e6550d"/>
<ellipse cx="248.8" cy="352.4" rx="1.69" ry="1.44" fill="#e6550d"/><ellipse cx="247.5" cy="351.6" rx="1.83" ry="1.56" fill="#e6550d"/><ellipse cx="257.1" cy="364.2" rx="1.70" ry="1.46" fill="#3182bd"/><ellipse cx="251.0" cy="358.7" rx="2.02" ry="1.73" fill="#e6550d"/><ellipse cx="263.5" cy="360.7" rx="1.76" ry="1.51" fill="#e6550d"/><ellipse cx="258.4" cy="368.4" rx="1.77" ry="1.52" fill="#e6550d"/><ellipse cx="280.3" cy="368.3" rx="1.69" ry="1.45" fill="#3182bd"/><ellipse cx="274.3" cy="367.1" rx="1.76" ry="1.51" fill="#e6550d"/><ellipse cx="277.2" cy="367.6" rx="1.74" ry="1.49" fill="#e6550d"/><ellipse cx="283.7" cy="375.4" rx="1.81" ry="1.55" fill="#3182bd"/><ellipse cx="281.3" cy="371.9" rx="1.97" ry="1.68" fill="#e6550d"/><ellipse cx="286.8" cy="369.7" rx="2.04" ry="1.75" fill="#e6550d"/><ellipse cx="283.5" cy="385.1" rx="2.02" ry="1.73" fill="#3182bd"/><ellipse cx="278.2" cy="388.6" rx="1.96" ry="1.68" fill="#e6550d"/><ellipse cx="284.5" cy="394.0" rx="1.81" ry="1.55" fill="#e6550d"/><ellipse cx="278.5" cy="398.1" rx="1.78" ry="1.52" fill="#e6550d"/><ellipse cx="295.9" cy="399.8" rx="2.02" ry="1.73" fill="#e6550d"/><ellipse cx="295.8" cy="396.3" rx="1.89" ry="1.62" fill="#e6550d"/><ellipse cx="309.1" cy="401.1" rx="1.84" ry="1.57" fill="#e6550d"/><ellipse cx="304.4" cy="402.5" rx="1.75" ry="1.50" fill="#e6550d"/><ellipse cx="307.9" cy="408.2" rx="2.07" ry="1.78" fill="#3182bd"/><ellipse cx="317.7" cy="409.4" rx="1.64" ry="1.40" fill="#e6550d"/><ellipse cx="319.2" cy="408.0" rx="1.72" ry="1.48" fill="#e6550d"/><ellipse cx="318.3" cy="414.9" rx="1.67" ry="1.43" fill="#3182bd"/><ellipse cx="308.0" cy="411.4" rx="1.90" ry="1.62" fill="#e6550d"/><ellipse cx="314.0" cy="409.6" rx="2.02" ry="1.73" fill="#e6550d"/><ellipse cx="296.9" cy="403.9" rx="1.80" ry="1.54" fill="#3182bd"/><ellipse cx="296.6" cy="410.8" rx="1.81" ry="1.55" fill="#e6550d"/><ellipse cx="295.5" cy="404.8" rx="1.70" ry="1.46" fill="#e6550d"/><ellipse cx="287.8" cy="401.9" rx="1.72" ry="1.47" fill="#e6550d"/><ellipse cx="287.0" cy="404.8" rx="2.04" ry="1.75" fill="#e6550d"/><ellipse cx="277.3" cy="405.3" rx="1.84" ry="1.58" fill="#3182bd"/><ellipse cx="273.1" cy="404.2" rx="1.91" ry="1.64" fill="#e6550d"/><ellipse cx="266.0" cy="411.4" rx="1.78" ry="1.53" fill="#e6550d"/><ellipse cx="263.7" cy="410.5" rx="1.86" ry="1.59" fill="#3182bd"/><ellipse cx="259.9" cy="420.0" rx="2.00" ry="1.71" fill="#e6550d"/><ellipse cx="257.1" cy="419.8" rx="1.90" ry="1.63" fill="#e6550d"/><ellipse cx="250.5" cy="424.3" rx="1.79" ry="1.54" fill="#e6550d"/><ellipse cx="252.6" cy="420.0" rx="1.86" ry="1.59" fill="#3182bd"/><ellipse cx="245.0" cy="418.5" rx="1.72" ry="1.47" fill="#e6550d"/><ellipse cx="246.9" cy="410.8" rx="1.73" ry="1.48" fill="#e6550d"/><ellipse cx="242.7" cy="413.2" rx="1.69" ry="1.44" fill="#e6550d"/><ellipse cx="247.3" cy="397.9" rx="1.95" ry="1.67" fill="#e6550d"/><ellipse cx="246.6" cy="407.4" rx="2.07" ry="1.77" fill="#e6550d"/><ellipse cx="245.2" cy="393.5" rx="2.07" ry="1.78" fill="#e6550d"/><ellipse cx="249.9" cy="385.6" rx="1.67" ry="1.43" fill="#e6550d"/><ellipse cx="244.9" cy="383.4" rx="1.64" ry="1.41" fill="#e6550d"/><ellipse cx="239.8" cy="376.3" rx="1.63" ry="1.40" fill="#3182bd"/><ellipse cx="242.6" cy="379.4" rx="1.94" ry="1.66" fill="#3182bd"/><ellipse cx="232.4" cy="369.4" rx="1.84" ry="1.57" fill="#3182bd"/><ellipse cx="240.3" cy="382.3" rx="1.94" ry="1.66" fill="#3182bd"/><ellipse cx="238.9" cy="360.4" rx="1.93" ry="1.65" fill="#e6550d"/><ellipse cx="235.4" cy="364.7" rx="1.96" ry="1.68" fill="#e6550d"/><ellipse cx="239.4" cy="351.6" rx="1.83" ry="1.57" fill="#e6550d"/>
<ellipse cx="433.8" cy="315.8" rx="1.72" ry="1.47" fill="#e6550d"/><ellipse cx="433.5" cy="314.7" rx="1.70" ry="1.46" fill="#3182bd"/><ellipse cx="441.3" cy="311.4" rx="1.89" ry="1.62" fill="#e6550d"/><ellipse cx="450.5" cy="304.8" rx="1.92" ry="1.64" fill="#3182bd"/><ellipse cx="450.6" cy="305.7" rx="2.01" ry="1.72" fill="#3182bd"/><ellipse cx="453.3" cy="307.8" rx="1.93" ry="1.66" fill="#e6550d"/><ellipse cx="457.5" cy="320.2" rx="1.78" ry="1.52" fill="#e6550d"/><ellipse cx="456.8" cy="326.9" rx="1.75" ry="1.50" fill="#3182bd"/><ellipse cx="453.3" cy="327.4" rx="1.65" ry="1.41" fill="#e6550d"/><ellipse cx="446.9" cy="334.5" rx="1.82" ry="1.56" fill="#e6550d"/><ellipse cx="435.2" cy="329.7" rx="1.80" ry="1.54" fill="#3182bd"/><ellipse cx="439.2" cy="327.4" rx="1.65" ry="1.41" fill="#e6550d"/><ellipse cx="430.5" cy="320.6" rx="1.96" ry="1.68" fill="#e6550d"/>
<ellipse cx="352.3" cy="375.8" rx="2.07" ry="1.78" fill="#e6550d"/><ellipse cx="348.3" cy="379.2" rx="1.68" ry="1.44" fill="#3182bd"/><ellipse cx="350.4" cy="362.2" rx="1.83" ry="1.57" fill="#3182bd"/><ellipse cx="353.5" cy="366.3" rx="1.71" ry="1.46" fill="#e6550d"/><ellipse cx="358.9" cy="357.9" rx="2.07" ry="1.77" fill="#e6550d"/><ellipse cx="358.7" cy="357.9" rx="1.85" ry="1.59" fill="#3182bd"/><ellipse cx="363.1" cy="364.3" rx="1.85" ry="1.59" fill="#e6550d"/><ellipse cx="359.0" cy="353.2" rx="1.90" ry="1.63" fill="#e6550d"/><ellipse cx="373.2" cy="359.1" rx="1.89" ry="1.62" fill="#e6550d"/><ellipse cx="381.1" cy="355.0" rx="1.97" ry="1.69" fill="#e6550d"/><ellipse cx="385.3" cy="361.1" rx="1.83" ry="1.57" fill="#e6550d"/><ellipse cx="390.6" cy="372.9" rx="1.71" ry="1.47" fill="#e6550d"/><ellipse cx="393.1" cy="370.4" rx="1.61" ry="1.38" fill="#e6550d"/><ellipse cx="391.6" cy="372.5" rx="1.77" ry="1.52" fill="#e6550d"/><ellipse cx="399.2" cy="381.7" rx="1.97" ry="1.69" fill="#e6550d"/><ellipse cx="401.3" cy="383.1" rx="1.60" ry="1.37" fill="#3182bd"/><ellipse cx="403.9" cy="388.1" rx="1.64" ry="1.40" fill="#e6550d"/><ellipse cx="401.1" cy="390.4" rx="1.93" ry="1.65" fill="#e6550d"/><ellipse cx="393.1" cy="393.6" rx="1.79" ry="1.53" fill="#e6550d"/><ellipse cx="395.5" cy="395.5" rx="1.99" ry="1.70" fill="#3182bd"/><ellipse cx="390.2" cy="406.1" rx="1.73" ry="1.48" fill="#e6550d"/><ellipse cx="389.0" cy="402.6" rx="1.63" ry="1.40" fill="#3182bd"/><ellipse cx="393.0" cy="411.2" rx="1.74" ry="1.49" fill="#e6550d"/><ellipse cx="387.1" cy="416.7" rx="1.77" ry="1.51" fill="#e6550d"/><ellipse cx="378.9" cy="414.1" rx="1.81" ry="1.55" fill="#3182bd"/><ellipse cx="382.2" cy="416.2" rx="1.66" ry="1.42" fill="#3182bd"/><ellipse cx="375.4" cy="410.6" rx="2.02" ry="1.73" fill="#e6550d"/><ellipse cx="366.6" cy="405.4" rx="1.84" ry="1.58" fill="#e6550d"/><ellipse cx="367.5" cy="406.1" rx="1.74" ry="1.49" fill="#e6550d"/><ellipse cx="356.1" cy="394.0" rx="1.79" ry="1.54" fill="#e6550d"/><ellipse cx="353.1" cy="395.3" rx="1.72" ry="1.47" fill="#e6550d"/><ellipse cx="345.6" cy="391.5" rx="2.05" ry="1.75" fill="#e6550d"/><ellipse cx="350.3" cy="392.7" rx="1.76" ry="1.50" fill="#3182bd"/><ellipse cx="341.6" cy="378.6" rx="1.93" ry="1.65" fill="#3182bd"/><ellipse cx="348.1" cy="380.2" rx="1.69" ry="1.45" fill="#3182bd"/>
<ellipse cx="406.3" cy="412.6" rx="1.67" ry="1.43" fill="#e6550d"/><ellipse cx="412.9" cy="412.6" rx="1.88" ry="1.61" fill="#e6550d"/><ellipse cx="420.1" cy="414.7" rx="1.85" ry="1.59" fill="#3182bd"/><ellipse cx="413.1" cy="418.8" rx="1.99" ry="1.70" fill="#e6550d"/><ellipse cx="411.4" cy="426.0" rx="1.83" ry="1.56" fill="#e6550d"/><ellipse cx="408.8" cy="423.6" rx="1.96" ry="1.67" fill="#e6550d"/><ellipse cx="401.4" cy="417.6" rx="1.76" ry="1.51" fill="#e6550d"/><ellipse cx="400.1" cy="413.6" rx="2.01" ry="1.72" fill="#e6550d"/>
<ellipse cx="312.4" cy="420.9" rx="1.98" ry="1.70" fill="#e6550d"/><ellipse cx="316.3" cy="416.3" rx="1.82" ry="1.56" fill="#3182bd"/><ellipse cx="309.9" cy="427.8" rx="1.72" ry="1.47" fill="#e6550d"/><ellipse cx="317.5" cy="404.8" rx="1.69" ry="1.45" fill="#3182bd"/><ellipse cx="315.9" cy="408.5" rx="1.80" ry="1.55" fill="#e6550d"/><ellipse cx="315.0" cy="415.6" rx="2.06" ry="1.76" fill="#e6550d"/><ellipse cx="332.1" cy="402.2" rx="1.81" ry="1.55" fill="#3182bd"/><ellipse cx="339.5" cy="404.6" rx="1.79" ry="1.53" fill="#e6550d"/><ellipse cx="333.7" cy="405.1" rx="1.73" ry="1.48" fill="#e6550d"/><ellipse cx="344.9" cy="406.6" rx="2.04" ry="1.75" fill="#3182bd"/><ellipse cx="346.1" cy="411.0" rx="1.67" ry="1.43" fill="#e6550d"/><ellipse cx="353.8" cy="410.3" rx="1.67" ry="1.43" fill="#e6550d"/><ellipse cx="362.9" cy="411.7" rx="1.80" ry="1.54" fill="#e6550d"/><ellipse cx="366.6" cy="411.2" rx="1.75" ry="1.50" fill="#3182bd"/><ellipse cx="368.2" cy="415.4" rx="1.72" ry="1.48" fill="#e6550d"/><ellipse cx="365.2" cy="416.5" rx="2.07" ry="1.77" fill="#3182bd"/><ellipse cx="371.0" cy="427.8" rx="1.74" ry="1.49" fill="#e6550d"/><ellipse cx="361.8" cy="433.0" rx="2.04" ry="1.75" fill="#3182bd"/><ellipse cx="365.4" cy="429.5" rx="1.94" ry="1.66" fill="#e6550d"/><ellipse cx="356.8" cy="441.4" rx="1.63" ry="1.40" fill="#3182bd"/><ellipse cx="359.1" cy="434.6" rx="1.82" ry="1.56" fill="#3182bd"/><ellipse cx="358.4" cy="431.5" rx="1.78" ry="1.53" fill="#3182bd"/><ellipse cx="348.5" cy="449.0" rx="1.91" ry="1.63" fill="#3182bd"/><ellipse cx="351.4" cy="448.6" rx="2.02" ry="1.73" fill="#e6550d"/><ellipse cx="339.8" cy="448.9" rx="1.74" ry="1.49" fill="#3182bd"/><ellipse cx="343.3" cy="446.1" rx="2.06" ry="1.76" fill="#3182bd"/><ellipse cx="332.6" cy="447.3" rx="1.78" ry="1.52" fill="#e6550d"/><ellipse cx="339.5" cy="449.8" rx="2.03" ry="1.73" fill="#3182bd"/><ellipse cx="328.5" cy="448.2" rx="1.68" ry="1.44" fill="#3182bd"/><ellipse cx="320.8" cy="445.8" rx="1.62" ry="1.39" fill="#e6550d"/><ellipse cx="312.5" cy="437.4" rx="1.83" ry="1.57" fill="#e6550d"/><ellipse cx="314.8" cy="435.3" rx="2.02" ry="1.73" fill="#e6550d"/><ellipse cx="313.8" cy="434.1" rx="1.64" ry="1.40" fill="#e6550d"/>
<ellipse cx="359.0" cy="428.3" rx="1.63" ry="1.40" fill="#e6550d"/><ellipse cx="364.7" cy="418.9" rx="1.99" ry="1.71" fill="#3182bd"/><ellipse cx="362.1" cy="422.3" rx="1.87" ry="1.60" fill="#3182bd"/><ellipse cx="368.2" cy="417.5" rx="1.69" ry="1.44" fill="#e6550d"/><ellipse cx="371.1" cy="414.0" rx="2.00" ry="1.71" fill="#3182bd"/><ellipse cx="376.7" cy="409.4" rx="1.75" ry="1.50" fill="#e6550d"/><ellipse cx="374.5" cy="413.5" rx="1.93" ry="1.65" fill="#3182bd"/><ellipse cx="379.0" cy="414.9" rx="1.68" ry="1.44" fill="#e6550d"/><ellipse cx="396.6" cy="408.3" rx="2.00" ry="1.72" fill="#3182bd"/><ellipse cx="393.3" cy="408.5" rx="1.78" ry="1.52" fill="#e6550d"/><ellipse cx="396.7" cy="413.6" rx="1.87" ry="1.60" fill="#e6550d"/><ellipse cx="394.0" cy="408.3" rx="2.02" ry="1.73" fill="#3182bd"/><ellipse cx="400.0" cy="412.5" rx="2.03" ry="1.74" fill="#e6550d"/><ellipse cx="403.1" cy="421.9" rx="1.88" ry="1.61" fill="#e6550d"/><ellipse cx="402.4" cy="427.7" rx="1.96" ry="1.68" fill="#3182bd"/><ellipse cx="406.5" cy="434.0" rx="1.84" ry="1.58" fill="#3182bd"/><ellipse cx="409.1" cy="430.0" rx="1.97" ry="1.69" fill="#3182bd"/><ellipse cx="412.5" cy="440.8" rx="1.67" ry="1.43" fill="#3182bd"/><ellipse cx="406.6" cy="439.9" rx="1.62" ry="1.38" fill="#3182bd"/><ellipse cx="405.7" cy="439.1" rx="1.94" ry="1.66" fill="#e6550d"/><ellipse cx="395.1" cy="449.0" rx="1.66" ry="1.42" fill="#e6550d"/><ellipse cx="386.6" cy="457.4" rx="1.63" ry="1.39" fill="#3182bd"/><ellipse cx="390.5" cy="455.0" rx="1.81" ry="1.55" fill="#e6550d"/><ellipse cx="383.2" cy="462.7" rx="1.69" ry="1.45" fill="#e6550d"/><ellipse cx="384.3" cy="467.9" rx="2.04" ry="1.75" fill="#3182bd"/><ellipse cx="375.9" cy="466.9" rx="1.96" ry="1.68" fill="#e6550d"/><ellipse cx="377.8" cy="463.8" rx="1.79" ry="1.53" fill="#3182bd"/><ellipse cx="367.9" cy="480.4" rx="1.72" ry="1.47" fill="#e6550d"/><ellipse cx="373.9" cy="471.1" rx="1.95" ry="1.67" fill="#e6550d"/><ellipse cx="376.7" cy="469.8" rx="1.95" ry="1.67" fill="#e6550d"/><ellipse cx="359.3" cy="478.9" rx="1.74" ry="1.49" fill="#3182bd"/><ellipse cx="359.9" cy="484.7" rx="1.96" ry="1.68" fill="#3182bd"/><ellipse cx="352.8" cy="491.3" rx="1.74" ry="1.49" fill="#e6550d"/><ellipse cx="358.4" cy="482.5" rx="1.81" ry="1.55" fill="#3182bd"/><ellipse cx="335.9" cy="477.6" rx="1.69" ry="1.45" fill="#e6550d"/><ellipse cx="339.5" cy="480.3" rx="1.85" ry="1.58" fill="#e6550d"/><ellipse cx="347.9" cy="482.8" rx="1.98" ry="1.70" fill="#3182bd"/><ellipse cx="332.7" cy="474.7" rx="1.84" ry="1.58" fill="#e6550d"/><ellipse cx="330.0" cy="479.5" rx="1.76" ry="1.51" fill="#e6550d"/><ellipse cx="325.3" cy="469.9" rx="1.99" ry="1.70" fill="#e6550d"/><ellipse cx="329.2" cy="472.7" rx="1.76" ry="1.50" fill="#e6550d"/><ellipse cx="334.3" cy="456.8" rx="1.84" ry="1.58" fill="#3182bd"/><ellipse cx="337.8" cy="458.9" rx="1.89" ry="1.62" fill="#e6550d"/><ellipse cx="344.3" cy="450.1" rx="2.01" ry="1.73" fill="#3182bd"/><ellipse cx="336.9" cy="455.9" rx="1.81" ry="1.55" fill="#3182bd"/><ellipse cx="341.5" cy="451.9" rx="1.91" ry="1.63" fill="#e6550d"/><ellipse cx="354.9" cy="446.7" rx="1.64" ry="1.40" fill="#e6550d"/><ellipse cx="352.6" cy="434.3" rx="1.93" ry="1.65" fill="#e6550d"/><ellipse cx="351.8" cy="435.3" rx="1.88" ry="1.61" fill="#3182bd"/><ellipse cx="351.8" cy="434.3" rx="1.72" ry="1.48" fill="#e6550d"/>
<ellipse cx="309.6" cy="448.8" rx="1.62" ry="1.39" fill="#e6550d"/><ellipse cx="319.5" cy="446.2" rx="1.82" ry="1.56" fill="#e6550d"/><ellipse cx="320.6" cy="441.7" rx="1.88" ry="1.61" fill="#e6550d"/><ellipse cx="308.8" cy="461.4" rx="2.00" ry="1.71" fill="#e6550d"/><ellipse cx="307.5" cy="457.8" rx="1.62" ry="1.39" fill="#e6550d"/><ellipse cx="313.6" cy="449.4" rx="1.89" ry="1.62" fill="#e6550d"/><ellipse cx="309.0" cy="456.8" rx="1.61" ry="1.38" fill="#3182bd"/>
<ellipse cx="318.0" cy="461.8" rx="1.67" ry="1.43" fill="#e6550d"/><ellipse cx="320.9" cy="466.7" rx="2.03" ry="1.74" fill="#3182bd"/><ellipse cx="324.6" cy="474.9" rx="2.03" ry="1.74" fill="#e6550d"/><ellipse cx="322.7" cy="480.3" rx="2.00" ry="1.71" fill="#e6550d"/><ellipse cx="317.9" cy="474.5" rx="1.92" ry="1.64" fill="#3182bd"/><ellipse cx="321.9" cy="467.3" rx="1.91" ry="1.64" fill="#e6550d"/>
<ellipse cx="306.6" cy="402.7" rx="1.89" ry="1.61" fill="#3182bd"/><ellipse cx="318.8" cy="401.5" rx="1.63" ry="1.39" fill="#3182bd"/><ellipse cx="319.0" cy="407.3" rx="1.64" ry="1.41" fill="#e6550d"/><ellipse cx="318.4" cy="407.5" rx="2.05" ry="1.75" fill="#e6550d"/><ellipse cx="316.3" cy="409.1" rx="1.86" ry="1.59" fill="#e6550d"/><ellipse cx="314.4" cy="410.6" rx="1.93" ry="1.65" fill="#e6550d"/><ellipse cx="308.5" cy="412.3" rx="1.79" ry="1.53" fill="#e6550d"/><ellipse cx="306.6" cy="400.7" rx="1.71" ry="1.47" fill="#e6550d"/><ellipse cx="297.9" cy="402.0" rx="1.64" ry="1.41" fill="#3182bd"/>
<ellipse cx="447.1" cy="377.6" rx="1.66" ry="1.42" fill="#e6550d"/><ellipse cx="441.3" cy="377.1" rx="1.90" ry="1.63" fill="#e6550d"/><ellipse cx="453.0" cy="375.2" rx="1.68" ry="1.43" fill="#3182bd"/><ellipse cx="461.1" cy="379.8" rx="1.74" ry="1.49" fill="#e6550d"/><ellipse cx="457.3" cy="375.4" rx="2.06" ry="1.76" fill="#3182bd"/><ellipse cx="463.4" cy="381.1" rx="1.88" ry="1.61" fill="#e6550d"/><ellipse cx="472.0" cy="378.5" rx="1.97" ry="1.69" fill="#3182bd"/><ellipse cx="478.9" cy="380.5" rx="1.61" ry="1.38" fill="#3182bd"/><ellipse cx="482.6" cy="376.9" rx="1.65" ry="1.41" fill="#e6550d"/><ellipse cx="477.8" cy="376.1" rx="1.99" ry="1.70" fill="#e6550d"/><ellipse cx="486.6" cy="376.5" rx="1.62" ry="1.39" fill="#e6550d"/><ellipse cx="494.8" cy="376.7" rx="1.62" ry="1.39" fill="#e6550d"/><ellipse cx="496.8" cy="370.4" rx="1.80" ry="1.54" fill="#e6550d"/><ellipse cx="507.4" cy="373.1" rx="1.70" ry="1.46" fill="#3182bd"/><ellipse cx="517.7" cy="361.8" rx="1.65" ry="1.41" fill="#e6550d"/><ellipse cx="519.7" cy="366.0" rx="1.87" ry="1.60" fill="#3182bd"/><ellipse cx="529.2" cy="370.1" rx="2.05" ry="1.76" fill="#e6550d"/><ellipse cx="517.8" cy="376.0" rx="1.69" ry="1.45" fill="#3182bd"/><ellipse cx="507.4" cy="377.9" rx="1.74" ry="1.49" fill="#3182bd"/><ellipse cx="516.2" cy="372.8" rx="1.73" ry="1.48" fill="#e6550d"/><ellipse cx="500.2" cy="381.3" rx="1.72" ry="1.47" fill="#e6550d"/><ellipse cx="504.1" cy="384.3" rx="1.66" ry="1.42" fill="#e6550d"/><ellipse cx="497.7" cy="389.8" rx="1.70" ry="1.45" fill="#e6550d"/><ellipse cx="493.7" cy="390.2" rx="1.89" ry="1.62" fill="#3182bd"/><ellipse cx="485.8" cy="390.8" rx="2.04" ry="1.75" fill="#e6550d"/><ellipse cx="478.2" cy="388.0" rx="1.76" ry="1.51" fill="#e6550d"/><ellipse cx="470.0" cy="398.3" rx="1.73" ry="1.48" fill="#3182bd"/><ellipse cx="463.4" cy="399.9" rx="1.95" ry="1.67" fill="#e6550d"/><ellipse cx="466.4" cy="396.8" rx="2.02" ry="1.73" fill="#e6550d"/><ellipse cx="457.6" cy="398.9" rx="1.83" ry="1.57" fill="#e6550d"/><ellipse cx="465.0" cy="406.5" rx="1.89" ry="1.62" fill="#e6550d"/><ellipse cx="452.6" cy="410.4" rx="1.78" ry="1.53" fill="#3182bd"/><ellipse cx="450.0" cy="412.6" rx="2.01" ry="1.72" fill="#e6550d"/><ellipse cx="444.0" cy="400.0" rx="1.91" ry="1.64" fill="#e6550d"/><ellipse cx="445.9" cy="406.9" rx="1.96" ry="1.68" fill="#e6550d"/><ellipse cx="442.4" cy="395.1" rx="1.61" ry="1.38" fill="#e6550d"/><ellipse cx="447.8" cy="399.5" rx="1.89" ry="1.62" fill="#e6550d"/><ellipse cx="443.9" cy="385.9" rx="1.78" ry="1.52" fill="#e6550d"/><ellipse cx="440.0" cy="387.5" rx="1.68" ry="1.44" fill="#3182bd"/>
<ellipse cx="498.4" cy="391.0" rx="1.69" ry="1.44" fill="#3182bd"/><ellipse cx="500.6" cy="387.8" rx="1.83" ry="1.57" fill="#e6550d"/><ellipse cx="507.7" cy="389.6" rx="1.95" ry="1.67" fill="#e6550d"/><ellipse cx="507.8" cy="384.8" rx="1.62" ry="1.39" fill="#e6550d"/><ellipse cx="521.2" cy="381.6" rx="1.85" ry="1.58" fill="#e6550d"/><ellipse cx="513.5" cy="388.0" rx="2.05" ry="1.76" fill="#e6550d"/><ellipse cx="521.8" cy="377.4" rx="1.93" ry="1.66" fill="#3182bd"/><ellipse cx="523.9" cy="381.0" rx="1.65" ry="1.41" fill="#e6550d"/><ellipse cx="534.6" cy="376.9" rx="1.64" ry="1.41" fill="#3182bd"/><ellipse cx="530.1" cy="379.5" rx="2.02" ry="1.73" fill="#e6550d"/><ellipse cx="541.9" cy="382.4" rx="1.74" ry="1.49" fill="#3182bd"/><ellipse cx="551.3" cy="377.6" rx="1.86" ry="1.59" fill="#e6550d"/><ellipse cx="549.1" cy="375.9" rx="1.97" ry="1.69" fill="#e6550d"/><ellipse cx="550.3" cy="377.8" rx="2.02" ry="1.73" fill="#e6550d"/><ellipse cx="564.0" cy="383.3" rx="1.76" ry="1.51" fill="#e6550d"/><ellipse cx="563.9" cy="381.8" rx="2.07" ry="1.78" fill="#e6550d"/><ellipse cx="568.4" cy="383.2" rx="1.76" ry="1.51" fill="#3182bd"/><ellipse cx="564.6" cy="392.3" rx="1.99" ry="1.71" fill="#e6550d"/><ellipse cx="566.0" cy="394.9" rx="1.66" ry="1.42" fill="#3182bd"/><ellipse cx="560.7" cy="396.5" rx="1.72" ry="1.47" fill="#e6550d"/><ellipse cx="562.1" cy="408.3" rx="1.66" ry="1.42" fill="#e6550d"/><ellipse cx="562.1" cy="403.7" rx="1.90" ry="1.62" fill="#e6550d"/><ellipse cx="555.8" cy="411.9" rx="1.72" ry="1.47" fill="#3182bd"/><ellipse cx="551.8" cy="407.0" rx="1.79" ry="1.53" fill="#3182bd"/><ellipse cx="550.7" cy="411.5" rx="1.74" ry="1.49" fill="#e6550d"/><ellipse cx="537.9" cy="408.1" rx="1.92" ry="1.64" fill="#e6550d"/><ellipse cx="534.1" cy="403.0" rx="1.92" ry="1.64" fill="#e6550d"/><ellipse cx="539.0" cy="406.2" rx="1.76" ry="1.51" fill="#e6550d"/><ellipse cx="527.4" cy="400.7" rx="1.81" ry="1.55" fill="#e6550d"/><ellipse cx="523.4" cy="400.3" rx="1.82" ry="1.56" fill="#e6550d"/><ellipse cx="521.2" cy="406.7" rx="1.94" ry="1.66" fill="#e6550d"/><ellipse cx="509.2" cy="408.0" rx="1.90" ry="1.62" fill="#3182bd"/><ellipse cx="516.5" cy="409.6" rx="1.82" ry="1.56" fill="#3182bd"/><ellipse cx="507.6" cy="419.1" rx="2.07" ry="1.78" fill="#e6550d"/><ellipse cx="508.4" cy="416.3" rx="1.97" ry="1.69" fill="#3182bd"/><ellipse cx="501.2" cy="413.8" rx="1.66" ry="1.42" fill="#e6550d"/><ellipse cx="504.5" cy="418.2" rx="1.86" ry="1.59" fill="#e6550d"/><ellipse cx="500.0" cy="400.3" rx="1.69" ry="1.44" fill="#3182bd"/><ellipse cx="499.4" cy="402.3" rx="2.00" ry="1.71" fill="#e6550d"/><ellipse cx="496.3" cy="402.1" rx="1.65" ry="1.41" fill="#e6550d"/><ellipse cx="496.7" cy="387.9" rx="1.97" ry="1.69" fill="#e6550d"/>
<ellipse cx="453.0" cy="411.2" rx="1.65" ry="1.41" fill="#e6550d"/><ellipse cx="450.1" cy="415.5" rx="1.78" ry="1.52" fill="#e6550d"/><ellipse cx="456.5" cy="411.0" rx="1.74" ry="1.49" fill="#3182bd"/><ellipse cx="456.9" cy="403.1" rx="2.00" ry="1.71" fill="#e6550d"/><ellipse cx="470.3" cy="400.0" rx="1.89" ry="1.62" fill="#e6550d"/><ellipse cx="459.6" cy="402.1" rx="1.77" ry="1.51" fill="#e6550d"/><ellipse cx="478.9" cy="399.5" rx="1.81" ry="1.55" fill="#e6550d"/><ellipse cx="473.3" cy="402.0" rx="2.05" ry="1.76" fill="#3182bd"/><ellipse cx="479.4" cy="391.9" rx="1.93" ry="1.66" fill="#3182bd"/><ellipse cx="483.8" cy="391.0" rx="1.84" ry="1.58" fill="#e6550d"/><ellipse cx="500.1" cy="392.3" rx="1.78" ry="1.52" fill="#e6550d"/><ellipse cx="486.2" cy="396.5" rx="1.70" ry="1.46" fill="#e6550d"/><ellipse cx="499.4" cy="394.5" rx="1.61" ry="1.38" fill="#e6550d"/><ellipse cx="498.6" cy="395.9" rx="2.00" ry="1.71" fill="#e6550d"/><ellipse cx="501.2" cy="405.8" rx="2.04" ry="1.75" fill="#e6550d"/><ellipse cx="504.5" cy="401.6" rx="2.03" ry="1.74" fill="#e6550d"/><ellipse cx="500.2" cy="409.5" rx="1.81" ry="1.55" fill="#e6550d"/><ellipse cx="512.6" cy="409.8" rx="1.66" ry="1.42" fill="#e6550d"/><ellipse cx="504.8" cy="421.6" rx="1.71" ry="1.47" fill="#e6550d"/><ellipse cx="504.7" cy="424.1" rx="2.00" ry="1.71" fill="#e6550d"/><ellipse cx="501.1" cy="432.0" rx="1.99" ry="1.70" fill="#3182bd"/><ellipse cx="502.2" cy="437.9" rx="1.67" ry="1.43" fill="#e6550d"/><ellipse cx="498.8" cy="439.5" rx="1.80" ry="1.54" fill="#e6550d"/><ellipse cx="486.5" cy="443.8" rx="1.93" ry="1.65" fill="#e6550d"/><ellipse cx="498.4" cy="447.1" rx="1.96" ry="1.68" fill="#e6550d"/><ellipse cx="489.5" cy="449.4" rx="1.81" ry="1.55" fill="#3182bd"/><ellipse cx="492.6" cy="452.9" rx="1.94" ry="1.66" fill="#3182bd"/><ellipse cx="481.8" cy="453.1" rx="1.95" ry="1.67" fill="#e6550d"/><ellipse cx="483.5" cy="453.1" rx="1.66" ry="1.42" fill="#3182bd"/><ellipse cx="476.9" cy="457.2" rx="2.01" ry="1.72" fill="#e6550d"/><ellipse cx="462.9" cy="456.9" rx="1.64" ry="1.40" fill="#e6550d"/><ellipse cx="466.6" cy="451.7" rx="1.73" ry="1.48" fill="#e6550d"/><ellipse cx="467.4" cy="455.9" rx="1.73" ry="1.48" fill="#3182bd"/><ellipse cx="457.1" cy="445.9" rx="1.68" ry="1.44" fill="#3182bd"/><ellipse cx="450.5" cy="444.8" rx="1.82" ry="1.56" fill="#e6550d"/><ellipse cx="452.5" cy="445.8" rx="2.05" ry="1.76" fill="#3182bd"/><ellipse cx="446.8" cy="437.7" rx="1.82" ry="1.55" fill="#e6550d"/><ellipse cx="444.0" cy="423.2" rx="1.67" ry="1.43" fill="#3182bd"/>
<ellipse cx="444.2" cy="416.3" rx="1.82" ry="1.56" fill="#e6550d"/><ellipse cx="446.9" cy="417.6" rx="2.04" ry="1.75" fill="#3182bd"/><ellipse cx="447.2" cy="423.1" rx="1.71" ry="1.46" fill="#e6550d"/><ellipse cx="448.8" cy="425.7" rx="1.69" ry="1.45" fill="#e6550d"/><ellipse cx="445.2" cy="421.0" rx="1.76" ry="1.51" fill="#3182bd"/><ellipse cx="444.8" cy="419.8" rx="1.75" ry="1.50" fill="#3182bd"/>
<ellipse cx="568.5" cy="392.2" rx="1.75" ry="1.50" fill="#3182bd"/><ellipse cx="572.5" cy="394.3" rx="1.73" ry="1.48" fill="#3182bd"/><ellipse cx="569.3" cy="393.4" rx="1.76" ry="1.50" fill="#e6550d"/><ellipse cx="563.3" cy="391.2" rx="1.62" ry="1.38" fill="#3182bd"/><ellipse cx="560.4" cy="398.8" rx="1.84" ry="1.57" fill="#3182bd"/>
<ellipse cx="513.1" cy="278.1" rx="1.82" ry="1.55" fill="#e6550d"/><ellipse cx="519.8" cy="277.2" rx="1.95" ry="1.67" fill="#e6550d"/><ellipse cx="515.0" cy="281.0" rx="1.98" ry="1.70" fill="#3182bd"/><ellipse cx="523.6" cy="279.8" rx="1.71" ry="1.46" fill="#e6550d"/><ellipse cx="534.0" cy="285.8" rx="1.80" ry="1.55" fill="#e6550d"/><ellipse cx="537.7" cy="282.7" rx="2.03" ry="1.74" fill="#e6550d"/><ellipse cx="536.5" cy="289.8" rx="1.70" ry="1.46" fill="#e6550d"/><ellipse cx="546.2" cy="289.0" rx="1.96" ry="1.68" fill="#e6550d"/><ellipse cx="545.3" cy="286.3" rx="1.96" ry="1.68" fill="#e6550d"/><ellipse cx="550.2" cy="292.5" rx="1.70" ry="1.45" fill="#3182bd"/><ellipse cx="551.4" cy="299.2" rx="1.94" ry="1.66" fill="#e6550d"/><ellipse cx="549.0" cy="294.7" rx="1.71" ry="1.46" fill="#3182bd"/><ellipse cx="539.4" cy="301.4" rx="1.88" ry="1.61" fill="#e6550d"/><ellipse cx="538.2" cy="314.8" rx="2.06" ry="1.76" fill="#e6550d"/><ellipse cx="537.5" cy="318.8" rx="1.84" ry="1.57" fill="#e6550d"/><ellipse cx="535.6" cy="319.4" rx="1.74" ry="1.49" fill="#e6550d"/><ellipse cx="540.1" cy="321.0" rx="1.86" ry="1.59" fill="#3182bd"/><ellipse cx="522.8" cy="329.6" rx="1.84" ry="1.57" fill="#e6550d"/><ellipse cx="522.1" cy="332.7" rx="1.68" ry="1.44" fill="#e6550d"/><ellipse cx="506.0" cy="324.0" rx="1.84" ry="1.57" fill="#e6550d"/><ellipse cx="514.8" cy="332.8" rx="1.64" ry="1.40" fill="#e6550d"/><ellipse cx="521.3" cy="330.0" rx="2.05" ry="1.76" fill="#e6550d"/><ellipse cx="502.2" cy="317.1" rx="1.98" ry="1.69" fill="#e6550d"/><ellipse cx="494.5" cy="314.8" rx="1.80" ry="1.54" fill="#e6550d"/><ellipse cx="505.3" cy="320.2" rx="1.70" ry="1.46" fill="#e6550d"/><ellipse cx="495.0" cy="311.9" rx="1.81" ry="1.55" fill="#e6550d"/><ellipse cx="497.9" cy="314.5" rx="1.81" ry="1.55" fill="#e6550d"/><ellipse cx="490.8" cy="310.4" rx="1.95" ry="1.67" fill="#e6550d"/><ellipse cx="490.9" cy="306.4" rx="1.89" ry="1.62" fill="#3182bd"/><ellipse cx="493.1" cy="297.6" rx="1.93" ry="1.66" fill="#3182bd"/><ellipse cx="495.2" cy="290.2" rx="1.65" ry="1.41" fill="#3182bd"/><ellipse cx="505.7" cy="286.9" rx="1.91" ry="1.64" fill="#e6550d"/><ellipse cx="509.6" cy="281.6" rx="2.01" ry="1.73" fill="#3182bd"/>
<ellipse cx="588.7" cy="279.9" rx="1.93" ry="1.66" fill="#e6550d"/><ellipse cx="602.2" cy="279.7" rx="1.83" ry="1.56" fill="#e6550d"/><ellipse cx="602.2" cy="276.9" rx="1.98" ry="1.69" fill="#3182bd"/><ellipse cx="601.2" cy="275.4" rx="1.96" ry="1.67" fill="#e6550d"/><ellipse cx="604.0" cy="283.1" rx="1.68" ry="1.44" fill="#e6550d"/><ellipse cx="611.1" cy="284.6" rx="1.97" ry="1.69" fill="#3182bd"/><ellipse cx="606.6" cy="282.2" rx="1.90" ry="1.63" fill="#3182bd"/><ellipse cx="615.5" cy="293.5" rx="1.75" ry="1.50" fill="#e6550d"/><ellipse cx="617.9" cy="295.2" rx="2.05" ry="1.76" fill="#e6550d"/><ellipse cx="624.8" cy="297.9" rx="1.66" ry="1.42" fill="#e6550d"/><ellipse cx="620.0" cy="303.8" rx="1.64" ry="1.40" fill="#e6550d"/><ellipse cx="613.8" cy="304.0" rx="1.76" ry="1.51" fill="#e6550d"/><ellipse cx="607.5" cy="302.8" rx="1.72" ry="1.47" fill="#3182bd"/><ellipse cx="609.4" cy="298.8" rx="1.96" ry="1.68" fill="#3182bd"/><ellipse cx="597.3" cy="294.6" rx="1.99" ry="1.70" fill="#3182bd"/><ellipse cx="594.4" cy="298.9" rx="1.72" ry="1.47" fill="#e6550d"/><ellipse cx="592.3" cy="287.6" rx="1.63" ry="1.40" fill="#3182bd"/><ellipse cx="595.0" cy="289.7" rx="1.79" ry="1.53" fill="#e6550d"/><ellipse cx="579.9" cy="283.6" rx="1.73" ry="1.48" fill="#e6550d"/>
<path d="M445,507 L452,520 L459,530 L469,542" fill="none" stroke="#e6550d" stroke-width="4.6" stroke-linecap="round"/>
<path d="M459,530 L469,542" fill="none" stroke="#3182bd" stroke-width="4.6" stroke-linecap="round"/>
</g>
<text x="1064" y="20.5" font-size="18.1" text-anchor="middle">Groups</text>
<path d="M820.2,403.5 L820.2,561.8 L966.9,561.8" fill="none" stroke="#000" stroke-width="2.4"/>
<path d="M813.7,416.9 L820.2,403.2 L826.7,416.9 M955.6,554.2 L967.1,561.8 L955.6,569.4" fill="none" stroke="#000" stroke-width="2.4"/>
<text x="903.3" y="585.8" font-size="17.7" text-anchor="middle">UMAP 1</text>
<text x="809" y="469.2" font-size="17.7" text-anchor="middle" transform="rotate(-90 809 469.2)">UMAP 2</text>
<text x="967.8" y="670" font-size="14.9">Group</text>
<ellipse cx="1028.7" cy="664.5" rx="6.1" ry="6.8" fill="#3182bd"/>
<ellipse cx="1111.8" cy="664.5" rx="6.1" ry="6.8" fill="#e6550d"/>
<text x="1049.5" y="669.8" font-size="13.4" fill="#1a1a1a">Control</text>
<text x="1132.7" y="669.8" font-size="13.4" fill="#1a1a1a">MDD</text>
</svg></body></html>
